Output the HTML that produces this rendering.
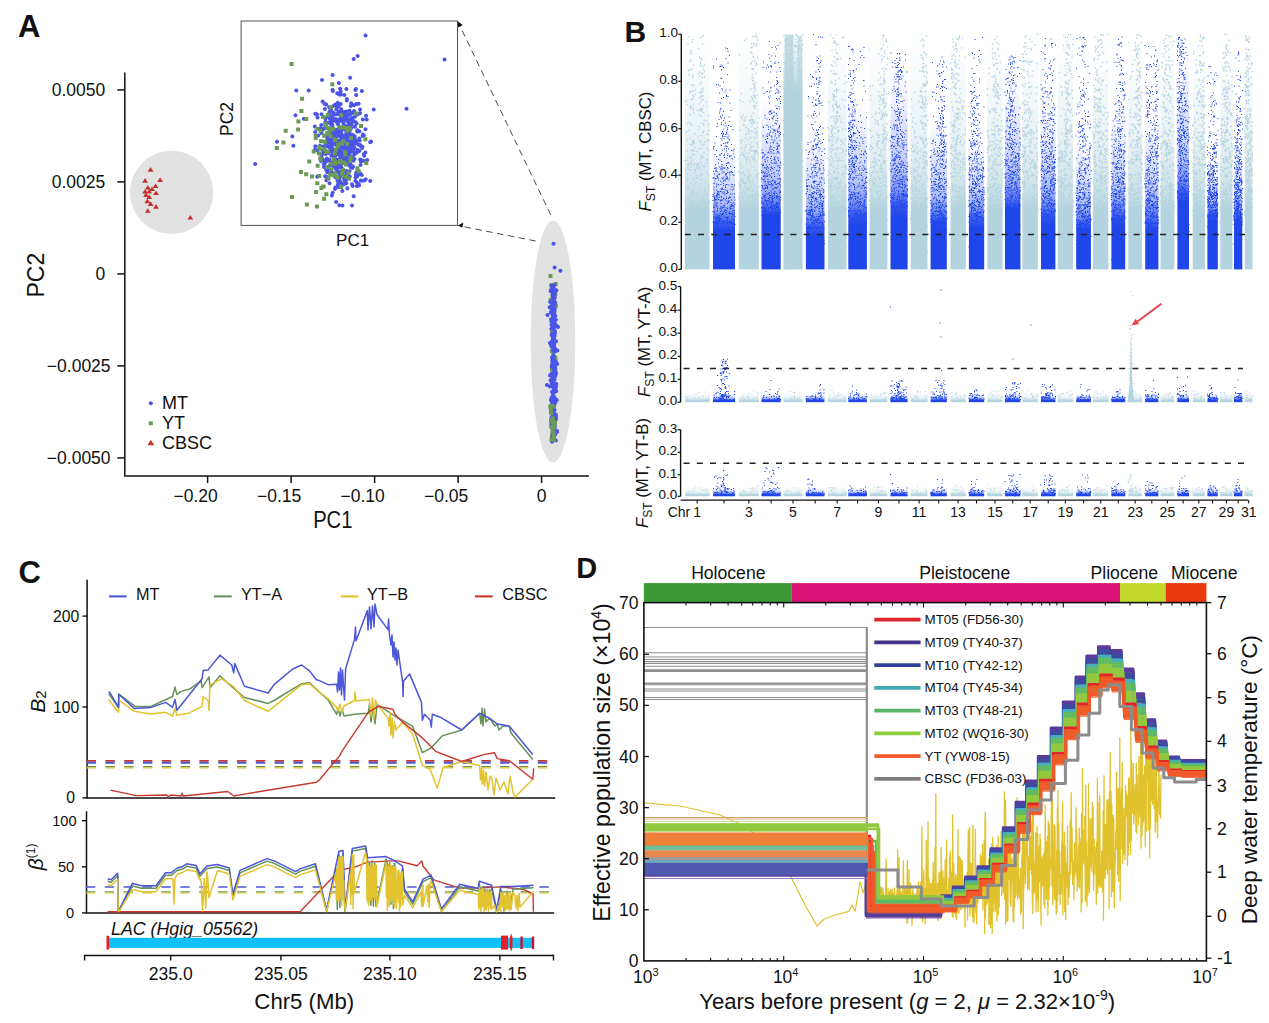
<!DOCTYPE html>
<html><head><meta charset="utf-8"><style>
html,body{margin:0;padding:0;background:#fff;width:1269px;height:1023px;overflow:hidden}
svg{display:block;font-family:"Liberation Sans", sans-serif}
</style></head><body>
<svg width="1269" height="1023" viewBox="0 0 1269 1023">
<text x="18" y="36.6" font-size="31" font-weight="bold" fill="#111">A</text>
<circle cx="171.6" cy="192.4" r="41.7" fill="#e2e2e2"/>
<ellipse cx="553" cy="341.5" rx="22.3" ry="121" fill="#e2e2e2"/>
<path d="M124.8 72.5 V476.1 H588.9" fill="none" stroke="#111" stroke-width="1.5"/>
<line x1="117.3" y1="89.9" x2="124.8" y2="89.9" stroke="#111" stroke-width="1.5"/>
<text x="105.2" y="96.2" font-size="17.5" text-anchor="end" fill="#111">0.0050</text>
<line x1="117.3" y1="181.9" x2="124.8" y2="181.9" stroke="#111" stroke-width="1.5"/>
<text x="105.2" y="188.2" font-size="17.5" text-anchor="end" fill="#111">0.0025</text>
<line x1="117.3" y1="273.9" x2="124.8" y2="273.9" stroke="#111" stroke-width="1.5"/>
<text x="105.2" y="280.2" font-size="17.5" text-anchor="end" fill="#111">0</text>
<line x1="117.3" y1="365.9" x2="124.8" y2="365.9" stroke="#111" stroke-width="1.5"/>
<text x="110.6" y="372.2" font-size="17.5" text-anchor="end" fill="#111">−0.0025</text>
<line x1="117.3" y1="457.9" x2="124.8" y2="457.9" stroke="#111" stroke-width="1.5"/>
<text x="110.6" y="464.2" font-size="17.5" text-anchor="end" fill="#111">−0.0050</text>
<line x1="207.6" y1="476.1" x2="207.6" y2="483" stroke="#111" stroke-width="1.5"/>
<text x="217.8" y="502" font-size="17.5" text-anchor="end" fill="#111">−0.20</text>
<line x1="291.1" y1="476.1" x2="291.1" y2="483" stroke="#111" stroke-width="1.5"/>
<text x="301.3" y="502" font-size="17.5" text-anchor="end" fill="#111">−0.15</text>
<line x1="374.6" y1="476.1" x2="374.6" y2="483" stroke="#111" stroke-width="1.5"/>
<text x="384.8" y="502" font-size="17.5" text-anchor="end" fill="#111">−0.10</text>
<line x1="458.1" y1="476.1" x2="458.1" y2="483" stroke="#111" stroke-width="1.5"/>
<text x="468.3" y="502" font-size="17.5" text-anchor="end" fill="#111">−0.05</text>
<line x1="541.6" y1="476.1" x2="541.6" y2="483" stroke="#111" stroke-width="1.5"/>
<text x="541.6" y="502" font-size="17.5" text-anchor="middle" fill="#111">0</text>
<text x="0" y="0" font-size="23.5" text-anchor="middle" fill="#111" transform="translate(332.8 528) scale(0.86 1)">PC1</text>
<text x="0" y="0" font-size="23.5" text-anchor="middle" fill="#111" transform="translate(44.2 275.2) rotate(-90) scale(0.98 1)">PC2</text>
<path d="M150.6 167.1l2.9 4.6h-5.8zM145.1 178.1l2.9 4.6h-5.8zM160.1 177.5l2.9 4.6h-5.8zM155.5 183.5l2.9 4.6h-5.8zM147.8 184.9l2.9 4.6h-5.8zM149.2 189l2.9 4.6h-5.8zM156 190.4l2.9 4.6h-5.8zM147.3 198.6l2.9 4.6h-5.8zM150.6 201.3l2.9 4.6h-5.8zM156 204.1l2.9 4.6h-5.8zM147.8 208.2l2.9 4.6h-5.8zM190.3 215l2.9 4.6h-5.8zM145.1 189l2.9 4.6h-5.8zM149.2 194.5l2.9 4.6h-5.8zM152 186.4l2.9 4.6h-5.8zM146 192.4l2.9 4.6h-5.8z" fill="#c4322b"/>
<rect x="241.1" y="21" width="216.4" height="204.4" fill="#fff" stroke="#555" stroke-width="1"/>
<text x="352.6" y="246" font-size="17" text-anchor="middle" fill="#111">PC1</text>
<text x="232.6" y="119" font-size="17.5" text-anchor="middle" fill="#111" transform="rotate(-90 232.6 119)">PC2</text>
<path d="M550.8 215 L459 24" stroke="#333" stroke-width="0.9" stroke-dasharray="6.5 4.5" fill="none"/>
<path d="M457.8 21.3 l0.3 6.2 l4.6 -2.4z" fill="#111"/>
<path d="M535.7 241 L460 226" stroke="#333" stroke-width="0.9" stroke-dasharray="6.5 4.5" fill="none"/>
<path d="M457.8 225.4 l5.5 -2.9 l-0.9 5.2z" fill="#111"/>
<path d="M550.6 379.5h4v4h-4zM552.3 303.6h4v4h-4zM550.2 363.5h4v4h-4zM551.3 301.3h4v4h-4zM553.4 367.3h4v4h-4zM551.1 296.9h4v4h-4zM552.5 414.3h4v4h-4zM551.5 411.1h4v4h-4zM553.1 366.3h4v4h-4zM551.8 332.8h4v4h-4zM554 414.9h4v4h-4zM551.9 311.9h4v4h-4zM551.4 333.2h4v4h-4zM550.1 433.6h4v4h-4zM553.2 300.9h4v4h-4zM553.9 303.9h4v4h-4zM550.2 433.4h4v4h-4zM549.8 349.1h4v4h-4zM550.6 321.7h4v4h-4zM552.6 372.6h4v4h-4zM553.5 356.1h4v4h-4zM551.9 404.1h4v4h-4zM549.1 419.6h4v4h-4zM550.9 436.4h4v4h-4zM550.8 379h4v4h-4zM551.3 404.8h4v4h-4zM549.8 304.5h4v4h-4zM553.3 292.4h4v4h-4zM550.5 294.1h4v4h-4zM550 367.8h4v4h-4zM549.7 409.6h4v4h-4zM552.7 389h4v4h-4zM551.6 321.1h4v4h-4zM550.3 319.4h4v4h-4zM550 398.8h4v4h-4zM553.2 287.9h4v4h-4zM549.6 421h4v4h-4zM552.7 360.2h4v4h-4zM549 372.7h4v4h-4zM552 395.5h4v4h-4zM551.2 409.7h4v4h-4zM551.2 351.6h4v4h-4zM551 420.2h4v4h-4zM551.9 297h4v4h-4zM551.8 361.2h4v4h-4zM552.6 419.8h4v4h-4zM551.8 307.3h4v4h-4zM551.9 370.4h4v4h-4zM551.6 342.5h4v4h-4zM551.2 317.5h4v4h-4zM551 314.4h4v4h-4zM551.5 422h4v4h-4zM551.2 310.1h4v4h-4zM551.7 432.4h4v4h-4zM549.9 288.7h4v4h-4zM552.8 421.8h4v4h-4zM552.6 398.3h4v4h-4zM551.5 431.2h4v4h-4zM551.5 332.1h4v4h-4zM550 343.2h4v4h-4zM552.5 355.5h4v4h-4zM549.8 329.3h4v4h-4zM550.7 416.7h4v4h-4zM553.6 281.9h4v4h-4zM552 347.5h4v4h-4zM549.3 283.3h4v4h-4zM551.3 362.8h4v4h-4zM548.6 298.1h4v4h-4zM551.8 394.8h4v4h-4z" fill="#6a9a55"/>
<path d="M554.6 333.8a2 2 0 1 0 0.01 0zM555.1 367.1a2 2 0 1 0 0.01 0zM552.9 292.1a2 2 0 1 0 0.01 0zM553.3 294a2 2 0 1 0 0.01 0zM553.7 349.6a2 2 0 1 0 0.01 0zM550 373.6a2 2 0 1 0 0.01 0zM555.8 417.8a2 2 0 1 0 0.01 0zM554.2 311.4a2 2 0 1 0 0.01 0zM552 383.3a2 2 0 1 0 0.01 0zM554.7 292.4a2 2 0 1 0 0.01 0zM552.1 389.8a2 2 0 1 0 0.01 0zM553.9 354.1a2 2 0 1 0 0.01 0zM552.9 407.7a2 2 0 1 0 0.01 0zM552.3 397.5a2 2 0 1 0 0.01 0zM557.4 348.6a2 2 0 1 0 0.01 0zM552.9 306.9a2 2 0 1 0 0.01 0zM553.3 403a2 2 0 1 0 0.01 0zM552.4 420.5a2 2 0 1 0 0.01 0zM555.4 374a2 2 0 1 0 0.01 0zM554.9 414.9a2 2 0 1 0 0.01 0zM552.7 292.5a2 2 0 1 0 0.01 0zM556.1 384.6a2 2 0 1 0 0.01 0zM553.2 343.6a2 2 0 1 0 0.01 0zM552.4 286.5a2 2 0 1 0 0.01 0zM553.5 292.3a2 2 0 1 0 0.01 0zM554.8 295.7a2 2 0 1 0 0.01 0zM551.4 326.7a2 2 0 1 0 0.01 0zM556.1 339.3a2 2 0 1 0 0.01 0zM550.8 310.7a2 2 0 1 0 0.01 0zM551.3 319.6a2 2 0 1 0 0.01 0zM553.5 283.6a2 2 0 1 0 0.01 0zM549.9 341a2 2 0 1 0 0.01 0zM551.8 363.9a2 2 0 1 0 0.01 0zM556.3 389.2a2 2 0 1 0 0.01 0zM554.4 420.3a2 2 0 1 0 0.01 0zM552.7 344.6a2 2 0 1 0 0.01 0zM553.7 292.8a2 2 0 1 0 0.01 0zM554 315.8a2 2 0 1 0 0.01 0zM554.5 283a2 2 0 1 0 0.01 0zM553.6 379.4a2 2 0 1 0 0.01 0zM552.5 322.6a2 2 0 1 0 0.01 0zM552.7 356.2a2 2 0 1 0 0.01 0zM553.4 336.8a2 2 0 1 0 0.01 0zM553.6 365.9a2 2 0 1 0 0.01 0zM553.6 418.5a2 2 0 1 0 0.01 0zM552.7 324a2 2 0 1 0 0.01 0zM554 366.6a2 2 0 1 0 0.01 0zM553.2 411.5a2 2 0 1 0 0.01 0zM552.2 338.8a2 2 0 1 0 0.01 0zM553.1 287.4a2 2 0 1 0 0.01 0zM554.4 433.2a2 2 0 1 0 0.01 0zM557 430.1a2 2 0 1 0 0.01 0zM553 317.6a2 2 0 1 0 0.01 0zM555.3 414.9a2 2 0 1 0 0.01 0zM553.5 385.5a2 2 0 1 0 0.01 0zM552.7 425.8a2 2 0 1 0 0.01 0zM552.4 400.8a2 2 0 1 0 0.01 0zM554.2 396.8a2 2 0 1 0 0.01 0zM552.5 436.9a2 2 0 1 0 0.01 0zM552.1 303.6a2 2 0 1 0 0.01 0zM553.6 412.7a2 2 0 1 0 0.01 0zM554.4 320.8a2 2 0 1 0 0.01 0zM553.7 338.5a2 2 0 1 0 0.01 0zM552.4 361.8a2 2 0 1 0 0.01 0zM554.9 365.2a2 2 0 1 0 0.01 0zM553.5 283.6a2 2 0 1 0 0.01 0zM550.9 310.1a2 2 0 1 0 0.01 0zM553.7 334.2a2 2 0 1 0 0.01 0zM553.4 370.2a2 2 0 1 0 0.01 0zM552.6 322a2 2 0 1 0 0.01 0zM551.4 404.2a2 2 0 1 0 0.01 0zM553.2 426.3a2 2 0 1 0 0.01 0zM551.5 379.2a2 2 0 1 0 0.01 0zM553.2 354a2 2 0 1 0 0.01 0zM552.5 430.9a2 2 0 1 0 0.01 0zM556 370.8a2 2 0 1 0 0.01 0zM552.3 302.1a2 2 0 1 0 0.01 0zM553.3 294.4a2 2 0 1 0 0.01 0zM552.8 307.2a2 2 0 1 0 0.01 0zM554.7 317.5a2 2 0 1 0 0.01 0zM551.7 308.4a2 2 0 1 0 0.01 0zM554 313.7a2 2 0 1 0 0.01 0zM555.2 396.4a2 2 0 1 0 0.01 0zM553.5 285.8a2 2 0 1 0 0.01 0zM553.3 299.5a2 2 0 1 0 0.01 0zM553.7 325.5a2 2 0 1 0 0.01 0zM555.6 349.3a2 2 0 1 0 0.01 0zM553.1 372.6a2 2 0 1 0 0.01 0zM552.7 391a2 2 0 1 0 0.01 0zM554.4 293.5a2 2 0 1 0 0.01 0zM554.6 325.1a2 2 0 1 0 0.01 0zM554.6 300.2a2 2 0 1 0 0.01 0zM553.7 290.9a2 2 0 1 0 0.01 0zM554.5 402.2a2 2 0 1 0 0.01 0zM553.9 361.5a2 2 0 1 0 0.01 0zM554.5 322.3a2 2 0 1 0 0.01 0zM552.4 398.1a2 2 0 1 0 0.01 0zM553 429.7a2 2 0 1 0 0.01 0zM554 344.7a2 2 0 1 0 0.01 0zM553.1 394a2 2 0 1 0 0.01 0zM553 346.5a2 2 0 1 0 0.01 0zM553.7 294.1a2 2 0 1 0 0.01 0zM553.8 419.7a2 2 0 1 0 0.01 0zM553.4 327.3a2 2 0 1 0 0.01 0zM554.5 307.7a2 2 0 1 0 0.01 0zM557.2 324.3a2 2 0 1 0 0.01 0zM553.3 331.6a2 2 0 1 0 0.01 0zM553.3 357.5a2 2 0 1 0 0.01 0zM553.1 314.6a2 2 0 1 0 0.01 0zM553.3 297.1a2 2 0 1 0 0.01 0zM554.6 289.5a2 2 0 1 0 0.01 0zM553.5 374.9a2 2 0 1 0 0.01 0zM551.3 344.2a2 2 0 1 0 0.01 0zM554.7 437.6a2 2 0 1 0 0.01 0zM551.5 304.9a2 2 0 1 0 0.01 0zM552.9 390.2a2 2 0 1 0 0.01 0zM552.3 303.9a2 2 0 1 0 0.01 0zM554.3 299.5a2 2 0 1 0 0.01 0zM551.6 381.3a2 2 0 1 0 0.01 0zM556 359.8a2 2 0 1 0 0.01 0zM553.4 362a2 2 0 1 0 0.01 0zM555.5 386.5a2 2 0 1 0 0.01 0zM554.3 294.7a2 2 0 1 0 0.01 0zM555.7 360.5a2 2 0 1 0 0.01 0zM552.3 358.2a2 2 0 1 0 0.01 0zM551 383.9a2 2 0 1 0 0.01 0zM553.2 306.1a2 2 0 1 0 0.01 0zM555.8 372.1a2 2 0 1 0 0.01 0zM553 292.5a2 2 0 1 0 0.01 0zM555.5 389.1a2 2 0 1 0 0.01 0zM551.7 364.1a2 2 0 1 0 0.01 0zM553.7 423.3a2 2 0 1 0 0.01 0zM553.6 436.6a2 2 0 1 0 0.01 0zM554.3 316.1a2 2 0 1 0 0.01 0zM549.6 305.3a2 2 0 1 0 0.01 0zM552.7 411.8a2 2 0 1 0 0.01 0zM552.3 359.3a2 2 0 1 0 0.01 0zM551.7 283.6a2 2 0 1 0 0.01 0zM553.4 305.1a2 2 0 1 0 0.01 0zM553.3 332.6a2 2 0 1 0 0.01 0zM553.2 414.7a2 2 0 1 0 0.01 0zM552.6 428.4a2 2 0 1 0 0.01 0zM550.2 341.4a2 2 0 1 0 0.01 0zM552.1 439.8a2 2 0 1 0 0.01 0zM552.5 326.2a2 2 0 1 0 0.01 0zM552.2 322.1a2 2 0 1 0 0.01 0zM556.3 382.1a2 2 0 1 0 0.01 0zM551.4 396a2 2 0 1 0 0.01 0zM550.9 398a2 2 0 1 0 0.01 0zM554.1 327.9a2 2 0 1 0 0.01 0zM554.5 428.5a2 2 0 1 0 0.01 0zM554.5 329.8a2 2 0 1 0 0.01 0zM553.2 436.3a2 2 0 1 0 0.01 0zM555.5 370.5a2 2 0 1 0 0.01 0zM554.2 361a2 2 0 1 0 0.01 0zM554.9 425.3a2 2 0 1 0 0.01 0zM553.3 313.2a2 2 0 1 0 0.01 0zM554.2 336.7a2 2 0 1 0 0.01 0zM552 400.7a2 2 0 1 0 0.01 0zM554.1 342.2a2 2 0 1 0 0.01 0zM552.6 292.7a2 2 0 1 0 0.01 0zM557.2 362a2 2 0 1 0 0.01 0zM553.5 418.5a2 2 0 1 0 0.01 0zM554.5 345.8a2 2 0 1 0 0.01 0zM555.1 432.8a2 2 0 1 0 0.01 0zM550.8 288.1a2 2 0 1 0 0.01 0zM551.3 423.6a2 2 0 1 0 0.01 0zM555.8 412.6a2 2 0 1 0 0.01 0zM550.1 300.1a2 2 0 1 0 0.01 0zM551.8 365a2 2 0 1 0 0.01 0zM550 384.6a2 2 0 1 0 0.01 0zM552.9 354.8a2 2 0 1 0 0.01 0zM553 384.3a2 2 0 1 0 0.01 0zM554 382.9a2 2 0 1 0 0.01 0zM554.9 300.6a2 2 0 1 0 0.01 0zM554.1 343.9a2 2 0 1 0 0.01 0zM554.6 377.4a2 2 0 1 0 0.01 0zM553.4 433.6a2 2 0 1 0 0.01 0zM552.2 421.8a2 2 0 1 0 0.01 0zM553.5 433.8a2 2 0 1 0 0.01 0zM555 331.3a2 2 0 1 0 0.01 0zM553.5 348.9a2 2 0 1 0 0.01 0zM554.3 387.8a2 2 0 1 0 0.01 0zM552.8 336.1a2 2 0 1 0 0.01 0zM554.2 390.2a2 2 0 1 0 0.01 0zM555.8 362.3a2 2 0 1 0 0.01 0zM552.2 435.3a2 2 0 1 0 0.01 0zM555.9 317.8a2 2 0 1 0 0.01 0zM555 329.3a2 2 0 1 0 0.01 0zM552.8 318.1a2 2 0 1 0 0.01 0zM554.1 387.5a2 2 0 1 0 0.01 0zM553.8 305.3a2 2 0 1 0 0.01 0zM556.8 398a2 2 0 1 0 0.01 0zM555.5 400.2a2 2 0 1 0 0.01 0zM553.7 341.7a2 2 0 1 0 0.01 0zM554.5 309.6a2 2 0 1 0 0.01 0zM553.3 433a2 2 0 1 0 0.01 0zM554.7 412.1a2 2 0 1 0 0.01 0zM553.5 313.3a2 2 0 1 0 0.01 0zM553.6 403.4a2 2 0 1 0 0.01 0zM556.4 288.5a2 2 0 1 0 0.01 0zM552.8 336.2a2 2 0 1 0 0.01 0zM557 324.2a2 2 0 1 0 0.01 0zM553.3 332.7a2 2 0 1 0 0.01 0zM553.4 426.9a2 2 0 1 0 0.01 0zM554.4 431.1a2 2 0 1 0 0.01 0zM553.3 343.7a2 2 0 1 0 0.01 0zM554.9 428.7a2 2 0 1 0 0.01 0zM553.1 409a2 2 0 1 0 0.01 0zM550.5 378.3a2 2 0 1 0 0.01 0zM551.6 333.2a2 2 0 1 0 0.01 0zM555.3 314a2 2 0 1 0 0.01 0zM553.7 321.8a2 2 0 1 0 0.01 0zM554.5 421.7a2 2 0 1 0 0.01 0zM553.2 298.1a2 2 0 1 0 0.01 0zM552.3 394.4a2 2 0 1 0 0.01 0zM553.7 380.4a2 2 0 1 0 0.01 0zM554.6 400.4a2 2 0 1 0 0.01 0zM551.5 415a2 2 0 1 0 0.01 0zM551.6 372a2 2 0 1 0 0.01 0zM555.1 321.8a2 2 0 1 0 0.01 0zM554.8 307.1a2 2 0 1 0 0.01 0zM553.6 362.6a2 2 0 1 0 0.01 0zM556 438.6a2 2 0 1 0 0.01 0zM550.7 289.3a2 2 0 1 0 0.01 0zM554.8 301.7a2 2 0 1 0 0.01 0zM557 429a2 2 0 1 0 0.01 0zM552.2 419a2 2 0 1 0 0.01 0zM553.7 431.5a2 2 0 1 0 0.01 0zM552.5 376.6a2 2 0 1 0 0.01 0zM552.6 305.2a2 2 0 1 0 0.01 0zM551.5 323a2 2 0 1 0 0.01 0zM552 284.8a2 2 0 1 0 0.01 0zM553.8 389.5a2 2 0 1 0 0.01 0zM554.5 407.9a2 2 0 1 0 0.01 0zM554.5 292.9a2 2 0 1 0 0.01 0zM554.2 383.4a2 2 0 1 0 0.01 0zM552.8 308.7a2 2 0 1 0 0.01 0zM552 332a2 2 0 1 0 0.01 0zM554.1 340.1a2 2 0 1 0 0.01 0zM551.9 355.4a2 2 0 1 0 0.01 0zM552.6 297a2 2 0 1 0 0.01 0zM552.5 341.2a2 2 0 1 0 0.01 0zM553.5 314a2 2 0 1 0 0.01 0zM555 431.1a2 2 0 1 0 0.01 0zM553 428.4a2 2 0 1 0 0.01 0zM551.3 425a2 2 0 1 0 0.01 0zM551.4 406.4a2 2 0 1 0 0.01 0zM554.9 346.5a2 2 0 1 0 0.01 0zM551 317.2a2 2 0 1 0 0.01 0zM552.7 364.3a2 2 0 1 0 0.01 0z" fill="#4a54e6"/>
<path d="M548.3 404.4h4v4h-4zM549.5 404.3h4v4h-4zM551.6 432.3h4v4h-4zM551.5 422.3h4v4h-4zM549.8 424.9h4v4h-4zM551.6 423.4h4v4h-4zM549.5 417.9h4v4h-4zM549.1 418.3h4v4h-4zM549.2 403.8h4v4h-4zM549.3 411.2h4v4h-4zM550.6 429.7h4v4h-4zM548.9 409.3h4v4h-4zM550.8 419.6h4v4h-4zM550.7 418.1h4v4h-4zM548.8 406.2h4v4h-4zM550.9 404.4h4v4h-4zM552.1 425.3h4v4h-4zM551.3 430.2h4v4h-4zM551.8 420.9h4v4h-4zM550.8 416.2h4v4h-4zM552 436.3h4v4h-4zM552.2 437.9h4v4h-4zM550.6 428.6h4v4h-4zM549.5 437.4h4v4h-4zM553.1 420.2h4v4h-4z" fill="#6a9a55"/>
<path d="M365.5 33.5a2 2 0 1 0 0.01 0zM444.5 57.4a2 2 0 1 0 0.01 0zM406.5 106.7a2 2 0 1 0 0.01 0zM373.7 107.6a2 2 0 1 0 0.01 0zM255.2 162a2 2 0 1 0 0.01 0zM353.7 57a2 2 0 1 0 0.01 0zM357.7 53.9a2 2 0 1 0 0.01 0zM296.3 88.6a2 2 0 1 0 0.01 0zM308.7 88.6a2 2 0 1 0 0.01 0zM277 139.7a2 2 0 1 0 0.01 0zM293.4 143.7a2 2 0 1 0 0.01 0zM295.5 113.2a2 2 0 1 0 0.01 0zM303.8 116.8a2 2 0 1 0 0.01 0zM292.3 134.4a2 2 0 1 0 0.01 0zM322 78a2 2 0 1 0 0.01 0zM332.6 72.9a2 2 0 1 0 0.01 0zM350.2 75.7a2 2 0 1 0 0.01 0zM373.7 107.6a2 2 0 1 0 0.01 0zM365.5 127.3a2 2 0 1 0 0.01 0zM370.2 140.2a2 2 0 1 0 0.01 0zM370.2 179a2 2 0 1 0 0.01 0zM342.5 203.6a2 2 0 1 0 0.01 0zM336.1 200a2 2 0 1 0 0.01 0zM353.7 194.2a2 2 0 1 0 0.01 0zM335.1 162.5a2 2 0 1 0 0.01 0zM359.4 149a2 2 0 1 0 0.01 0zM340.2 117.1a2 2 0 1 0 0.01 0zM357.6 168.7a2 2 0 1 0 0.01 0zM362.6 134.1a2 2 0 1 0 0.01 0zM362.9 158.6a2 2 0 1 0 0.01 0zM352.7 155.4a2 2 0 1 0 0.01 0zM338.2 138.7a2 2 0 1 0 0.01 0zM355.6 138.2a2 2 0 1 0 0.01 0zM344.9 146.9a2 2 0 1 0 0.01 0zM348.2 174.4a2 2 0 1 0 0.01 0zM335.2 152.6a2 2 0 1 0 0.01 0zM337.7 143.6a2 2 0 1 0 0.01 0zM336.4 107.5a2 2 0 1 0 0.01 0zM338.9 110a2 2 0 1 0 0.01 0zM360 111.3a2 2 0 1 0 0.01 0zM336.8 149.3a2 2 0 1 0 0.01 0zM338.4 174.8a2 2 0 1 0 0.01 0zM341.3 107.2a2 2 0 1 0 0.01 0zM354.7 134.2a2 2 0 1 0 0.01 0zM336.9 143.4a2 2 0 1 0 0.01 0zM329.6 158.6a2 2 0 1 0 0.01 0zM359 183.4a2 2 0 1 0 0.01 0zM348.4 140.2a2 2 0 1 0 0.01 0zM358.4 172.7a2 2 0 1 0 0.01 0zM340.5 130.3a2 2 0 1 0 0.01 0zM333.5 147.3a2 2 0 1 0 0.01 0zM342 160.6a2 2 0 1 0 0.01 0zM354.8 114.8a2 2 0 1 0 0.01 0zM347.7 151.1a2 2 0 1 0 0.01 0zM338.3 146a2 2 0 1 0 0.01 0zM358.6 142.7a2 2 0 1 0 0.01 0zM342.1 134a2 2 0 1 0 0.01 0zM346.3 130.3a2 2 0 1 0 0.01 0zM348.4 113.3a2 2 0 1 0 0.01 0zM334.3 150.5a2 2 0 1 0 0.01 0zM357.4 128.2a2 2 0 1 0 0.01 0zM343 157.5a2 2 0 1 0 0.01 0zM338.7 147.4a2 2 0 1 0 0.01 0zM346.2 109.6a2 2 0 1 0 0.01 0zM324.2 145.9a2 2 0 1 0 0.01 0zM330.6 140.7a2 2 0 1 0 0.01 0zM343.7 122.1a2 2 0 1 0 0.01 0zM330.3 120.6a2 2 0 1 0 0.01 0zM355.4 88a2 2 0 1 0 0.01 0zM351.4 139.1a2 2 0 1 0 0.01 0zM333.3 146.9a2 2 0 1 0 0.01 0zM340 117a2 2 0 1 0 0.01 0zM339.7 141.6a2 2 0 1 0 0.01 0zM346 141.7a2 2 0 1 0 0.01 0zM340.2 86.8a2 2 0 1 0 0.01 0zM333.4 151a2 2 0 1 0 0.01 0zM348 118.8a2 2 0 1 0 0.01 0zM333.4 113.3a2 2 0 1 0 0.01 0zM325.6 150.4a2 2 0 1 0 0.01 0zM350.8 138.6a2 2 0 1 0 0.01 0zM345.4 173.2a2 2 0 1 0 0.01 0zM329.1 140.4a2 2 0 1 0 0.01 0zM340.7 163.2a2 2 0 1 0 0.01 0zM326.2 102.4a2 2 0 1 0 0.01 0zM346.1 124.6a2 2 0 1 0 0.01 0zM344.4 154.8a2 2 0 1 0 0.01 0zM347.1 162.1a2 2 0 1 0 0.01 0zM344.5 140.9a2 2 0 1 0 0.01 0zM324.3 162.3a2 2 0 1 0 0.01 0zM327 137.9a2 2 0 1 0 0.01 0zM356.5 102.1a2 2 0 1 0 0.01 0zM349.9 122.4a2 2 0 1 0 0.01 0zM340.7 102a2 2 0 1 0 0.01 0zM318.8 151.2a2 2 0 1 0 0.01 0zM365.2 159.6a2 2 0 1 0 0.01 0zM342.8 144.5a2 2 0 1 0 0.01 0zM360.9 178.4a2 2 0 1 0 0.01 0zM335.5 118a2 2 0 1 0 0.01 0zM363 132.6a2 2 0 1 0 0.01 0zM349.5 169.3a2 2 0 1 0 0.01 0zM333.1 128.5a2 2 0 1 0 0.01 0zM326.1 167.8a2 2 0 1 0 0.01 0zM340.3 160.8a2 2 0 1 0 0.01 0zM327 157.1a2 2 0 1 0 0.01 0zM332.4 136a2 2 0 1 0 0.01 0zM327.2 135.1a2 2 0 1 0 0.01 0zM349.4 134.1a2 2 0 1 0 0.01 0zM338.8 152.4a2 2 0 1 0 0.01 0zM338.6 152.2a2 2 0 1 0 0.01 0zM342.9 160.9a2 2 0 1 0 0.01 0zM337.4 144.6a2 2 0 1 0 0.01 0zM344.2 176.6a2 2 0 1 0 0.01 0zM346.6 116.3a2 2 0 1 0 0.01 0zM328.7 140.3a2 2 0 1 0 0.01 0zM337.8 121.8a2 2 0 1 0 0.01 0zM336.1 159.3a2 2 0 1 0 0.01 0zM322.6 147.9a2 2 0 1 0 0.01 0zM339.3 176.9a2 2 0 1 0 0.01 0zM323.2 151.7a2 2 0 1 0 0.01 0zM340.1 144.2a2 2 0 1 0 0.01 0zM347.4 186.5a2 2 0 1 0 0.01 0zM346.8 153.9a2 2 0 1 0 0.01 0zM326.9 156.4a2 2 0 1 0 0.01 0zM327.5 138.4a2 2 0 1 0 0.01 0zM347.1 174a2 2 0 1 0 0.01 0zM353.2 146.9a2 2 0 1 0 0.01 0zM351.7 136.6a2 2 0 1 0 0.01 0zM343.1 140.2a2 2 0 1 0 0.01 0zM351.4 136.1a2 2 0 1 0 0.01 0zM331.2 114.4a2 2 0 1 0 0.01 0zM341.5 136.6a2 2 0 1 0 0.01 0zM340 119a2 2 0 1 0 0.01 0zM348.4 144.2a2 2 0 1 0 0.01 0zM331.5 132.6a2 2 0 1 0 0.01 0zM328.3 151a2 2 0 1 0 0.01 0zM364.4 178.4a2 2 0 1 0 0.01 0zM353.5 141.6a2 2 0 1 0 0.01 0zM342.5 153.1a2 2 0 1 0 0.01 0zM360.6 143.2a2 2 0 1 0 0.01 0zM341.8 113.1a2 2 0 1 0 0.01 0zM342.8 145.4a2 2 0 1 0 0.01 0zM335 118.8a2 2 0 1 0 0.01 0zM342.4 150.2a2 2 0 1 0 0.01 0zM334.2 159.4a2 2 0 1 0 0.01 0zM338.7 149.2a2 2 0 1 0 0.01 0zM359.4 129.4a2 2 0 1 0 0.01 0zM342.1 134.6a2 2 0 1 0 0.01 0zM338.4 149.8a2 2 0 1 0 0.01 0zM324.7 148.8a2 2 0 1 0 0.01 0zM326.3 126a2 2 0 1 0 0.01 0zM351.2 101.2a2 2 0 1 0 0.01 0zM356.9 184.1a2 2 0 1 0 0.01 0zM354.4 157.1a2 2 0 1 0 0.01 0zM343.2 136.7a2 2 0 1 0 0.01 0zM366.7 117.6a2 2 0 1 0 0.01 0zM341.9 154.1a2 2 0 1 0 0.01 0zM336.4 112.3a2 2 0 1 0 0.01 0zM345.4 142.1a2 2 0 1 0 0.01 0zM322.8 127.5a2 2 0 1 0 0.01 0zM333.5 134.5a2 2 0 1 0 0.01 0zM347.9 160.5a2 2 0 1 0 0.01 0zM327.9 140.3a2 2 0 1 0 0.01 0zM335 102.7a2 2 0 1 0 0.01 0zM349.4 130.1a2 2 0 1 0 0.01 0zM339.1 92.5a2 2 0 1 0 0.01 0zM347.7 142.2a2 2 0 1 0 0.01 0zM349.5 129.1a2 2 0 1 0 0.01 0zM359 148.7a2 2 0 1 0 0.01 0zM336.5 151.1a2 2 0 1 0 0.01 0zM349.2 127.5a2 2 0 1 0 0.01 0zM354.4 152.4a2 2 0 1 0 0.01 0zM350.7 165.3a2 2 0 1 0 0.01 0zM371 139.5a2 2 0 1 0 0.01 0zM336.7 151.8a2 2 0 1 0 0.01 0zM340.7 89.5a2 2 0 1 0 0.01 0zM364 151.9a2 2 0 1 0 0.01 0zM324 126.4a2 2 0 1 0 0.01 0zM345 133.6a2 2 0 1 0 0.01 0zM337.8 147.4a2 2 0 1 0 0.01 0zM353 164.7a2 2 0 1 0 0.01 0zM344.5 150.4a2 2 0 1 0 0.01 0zM324.9 107a2 2 0 1 0 0.01 0zM341.9 128.1a2 2 0 1 0 0.01 0zM343.4 121.6a2 2 0 1 0 0.01 0zM334.9 138a2 2 0 1 0 0.01 0zM316.9 112.6a2 2 0 1 0 0.01 0zM348.4 140.9a2 2 0 1 0 0.01 0zM330 146.2a2 2 0 1 0 0.01 0zM360.2 171.2a2 2 0 1 0 0.01 0zM328.4 126.5a2 2 0 1 0 0.01 0zM320.6 126.3a2 2 0 1 0 0.01 0zM327.1 121.1a2 2 0 1 0 0.01 0zM344.8 133.5a2 2 0 1 0 0.01 0zM338.2 104.3a2 2 0 1 0 0.01 0zM351.7 133.2a2 2 0 1 0 0.01 0zM326.2 141a2 2 0 1 0 0.01 0zM354.1 108.9a2 2 0 1 0 0.01 0zM346.4 110.7a2 2 0 1 0 0.01 0zM351.3 154.8a2 2 0 1 0 0.01 0zM338.9 117.5a2 2 0 1 0 0.01 0zM325.5 119.7a2 2 0 1 0 0.01 0zM350.6 147.6a2 2 0 1 0 0.01 0zM341.5 127.3a2 2 0 1 0 0.01 0zM340.2 152.3a2 2 0 1 0 0.01 0zM315.2 130a2 2 0 1 0 0.01 0zM341.4 114.3a2 2 0 1 0 0.01 0zM335.5 135.1a2 2 0 1 0 0.01 0zM328.5 112.1a2 2 0 1 0 0.01 0zM325.4 116.6a2 2 0 1 0 0.01 0zM340.4 156.6a2 2 0 1 0 0.01 0zM339.5 131.4a2 2 0 1 0 0.01 0zM331.5 142a2 2 0 1 0 0.01 0zM336.1 163.4a2 2 0 1 0 0.01 0zM340.9 159a2 2 0 1 0 0.01 0zM345.2 137.8a2 2 0 1 0 0.01 0zM343.1 119.1a2 2 0 1 0 0.01 0zM347.9 133.9a2 2 0 1 0 0.01 0zM331.8 139.4a2 2 0 1 0 0.01 0zM350.2 138a2 2 0 1 0 0.01 0zM314.8 124.4a2 2 0 1 0 0.01 0zM340.6 148.6a2 2 0 1 0 0.01 0zM331.1 144a2 2 0 1 0 0.01 0zM347.9 148.3a2 2 0 1 0 0.01 0zM321.3 123a2 2 0 1 0 0.01 0zM332.3 125.1a2 2 0 1 0 0.01 0zM338.9 162.8a2 2 0 1 0 0.01 0zM339.6 112.5a2 2 0 1 0 0.01 0zM325.7 151.9a2 2 0 1 0 0.01 0zM330.2 132.7a2 2 0 1 0 0.01 0zM355.9 173.1a2 2 0 1 0 0.01 0zM357.4 112.4a2 2 0 1 0 0.01 0zM359.7 138.5a2 2 0 1 0 0.01 0zM353.1 140.4a2 2 0 1 0 0.01 0zM354.1 141.7a2 2 0 1 0 0.01 0zM342.8 137.6a2 2 0 1 0 0.01 0zM332.8 141.6a2 2 0 1 0 0.01 0zM351.7 115.8a2 2 0 1 0 0.01 0zM343.6 118.1a2 2 0 1 0 0.01 0zM329.2 105.2a2 2 0 1 0 0.01 0zM362.1 146a2 2 0 1 0 0.01 0zM338.9 165.5a2 2 0 1 0 0.01 0zM319.9 143.8a2 2 0 1 0 0.01 0zM335.8 157.6a2 2 0 1 0 0.01 0zM327.8 144.6a2 2 0 1 0 0.01 0zM342.2 174.5a2 2 0 1 0 0.01 0zM337 141a2 2 0 1 0 0.01 0zM347.3 151.9a2 2 0 1 0 0.01 0zM348.6 144.6a2 2 0 1 0 0.01 0zM331.5 170.8a2 2 0 1 0 0.01 0zM362.4 144.8a2 2 0 1 0 0.01 0zM335.3 166.5a2 2 0 1 0 0.01 0zM332 148a2 2 0 1 0 0.01 0zM325.2 174.2a2 2 0 1 0 0.01 0zM329.5 149.4a2 2 0 1 0 0.01 0zM335.5 130.6a2 2 0 1 0 0.01 0zM328.8 139.7a2 2 0 1 0 0.01 0zM329.7 163.6a2 2 0 1 0 0.01 0zM332.2 139.4a2 2 0 1 0 0.01 0zM350.4 158.9a2 2 0 1 0 0.01 0zM352.3 166.1a2 2 0 1 0 0.01 0zM346.6 158.2a2 2 0 1 0 0.01 0zM352.5 111.1a2 2 0 1 0 0.01 0zM342.2 142.8a2 2 0 1 0 0.01 0zM341 155.6a2 2 0 1 0 0.01 0zM331.1 108.2a2 2 0 1 0 0.01 0zM335.5 153.5a2 2 0 1 0 0.01 0zM332.6 87.7a2 2 0 1 0 0.01 0zM356.3 171.4a2 2 0 1 0 0.01 0zM349.5 137.2a2 2 0 1 0 0.01 0zM339.9 112.9a2 2 0 1 0 0.01 0zM330.9 160.5a2 2 0 1 0 0.01 0zM337.7 169.5a2 2 0 1 0 0.01 0zM340.4 90a2 2 0 1 0 0.01 0zM344.4 178.3a2 2 0 1 0 0.01 0zM345.9 125.6a2 2 0 1 0 0.01 0zM334.6 155.8a2 2 0 1 0 0.01 0zM333.6 112.1a2 2 0 1 0 0.01 0zM344.2 143.1a2 2 0 1 0 0.01 0zM334.1 117.9a2 2 0 1 0 0.01 0zM346.8 98.6a2 2 0 1 0 0.01 0zM334.8 129a2 2 0 1 0 0.01 0zM362.8 117.6a2 2 0 1 0 0.01 0zM349.7 137.1a2 2 0 1 0 0.01 0zM355.5 175.6a2 2 0 1 0 0.01 0zM339.4 146.6a2 2 0 1 0 0.01 0zM332 132.7a2 2 0 1 0 0.01 0zM350.8 111.8a2 2 0 1 0 0.01 0zM333.6 142.5a2 2 0 1 0 0.01 0zM338.8 132.5a2 2 0 1 0 0.01 0zM318.4 133.6a2 2 0 1 0 0.01 0zM341 140.2a2 2 0 1 0 0.01 0zM343.2 160.9a2 2 0 1 0 0.01 0zM366.1 113.7a2 2 0 1 0 0.01 0zM331.4 153.8a2 2 0 1 0 0.01 0zM317.5 115.6a2 2 0 1 0 0.01 0zM331.7 115.1a2 2 0 1 0 0.01 0zM329.3 111.2a2 2 0 1 0 0.01 0zM332.1 149.3a2 2 0 1 0 0.01 0zM358.6 101.7a2 2 0 1 0 0.01 0zM347.1 153.2a2 2 0 1 0 0.01 0zM346.3 181.3a2 2 0 1 0 0.01 0zM346.6 171.1a2 2 0 1 0 0.01 0zM333.4 110.7a2 2 0 1 0 0.01 0zM357.7 148a2 2 0 1 0 0.01 0zM327.6 140a2 2 0 1 0 0.01 0zM351.7 122.5a2 2 0 1 0 0.01 0zM346.7 109.8a2 2 0 1 0 0.01 0zM348.9 148.4a2 2 0 1 0 0.01 0zM340.4 134.8a2 2 0 1 0 0.01 0zM340.7 173.1a2 2 0 1 0 0.01 0zM356.2 93.1a2 2 0 1 0 0.01 0zM330.3 137.2a2 2 0 1 0 0.01 0zM342.6 116.6a2 2 0 1 0 0.01 0zM352 203.4a2 2 0 1 0 0.01 0zM329.7 116.5a2 2 0 1 0 0.01 0zM343.8 168.7a2 2 0 1 0 0.01 0zM351.9 144.2a2 2 0 1 0 0.01 0zM348.4 143.3a2 2 0 1 0 0.01 0zM342.1 136.1a2 2 0 1 0 0.01 0zM336.6 151.1a2 2 0 1 0 0.01 0zM341 149.6a2 2 0 1 0 0.01 0zM337.6 179a2 2 0 1 0 0.01 0zM344 142.9a2 2 0 1 0 0.01 0zM360.7 143.9a2 2 0 1 0 0.01 0zM345.4 146.7a2 2 0 1 0 0.01 0zM324 164.9a2 2 0 1 0 0.01 0zM327.3 170.2a2 2 0 1 0 0.01 0zM350.2 134.2a2 2 0 1 0 0.01 0zM329.6 157.7a2 2 0 1 0 0.01 0zM338.4 178.2a2 2 0 1 0 0.01 0zM337.9 145.1a2 2 0 1 0 0.01 0zM342.1 115.1a2 2 0 1 0 0.01 0zM324.8 159.2a2 2 0 1 0 0.01 0zM346.8 139.1a2 2 0 1 0 0.01 0zM335.1 158.8a2 2 0 1 0 0.01 0zM331.8 162.4a2 2 0 1 0 0.01 0zM346 118a2 2 0 1 0 0.01 0zM336.4 135a2 2 0 1 0 0.01 0zM336.2 147.7a2 2 0 1 0 0.01 0zM331.5 120.2a2 2 0 1 0 0.01 0zM329.2 120.4a2 2 0 1 0 0.01 0zM347.6 154a2 2 0 1 0 0.01 0zM315 147.7a2 2 0 1 0 0.01 0zM327.5 138.8a2 2 0 1 0 0.01 0zM345.9 177.9a2 2 0 1 0 0.01 0zM339.1 151.1a2 2 0 1 0 0.01 0zM332.9 89a2 2 0 1 0 0.01 0zM322.5 156.9a2 2 0 1 0 0.01 0zM328.4 131.9a2 2 0 1 0 0.01 0zM353.3 158.8a2 2 0 1 0 0.01 0zM334.8 128a2 2 0 1 0 0.01 0zM327.7 175.6a2 2 0 1 0 0.01 0zM329.3 140.7a2 2 0 1 0 0.01 0zM342.6 138.9a2 2 0 1 0 0.01 0zM354 103.2a2 2 0 1 0 0.01 0zM331 146.4a2 2 0 1 0 0.01 0zM339.8 162.9a2 2 0 1 0 0.01 0zM323.8 162a2 2 0 1 0 0.01 0zM330.9 134a2 2 0 1 0 0.01 0zM364.2 153.8a2 2 0 1 0 0.01 0zM325.6 160a2 2 0 1 0 0.01 0zM336.5 167.2a2 2 0 1 0 0.01 0zM349.4 145.7a2 2 0 1 0 0.01 0zM334.6 141.1a2 2 0 1 0 0.01 0zM315.3 144.3a2 2 0 1 0 0.01 0zM357.6 129.2a2 2 0 1 0 0.01 0zM330.4 146a2 2 0 1 0 0.01 0zM350.5 141.3a2 2 0 1 0 0.01 0zM321.6 131a2 2 0 1 0 0.01 0zM343.2 155.4a2 2 0 1 0 0.01 0zM323.5 144.4a2 2 0 1 0 0.01 0zM357 180.8a2 2 0 1 0 0.01 0zM327.6 113.9a2 2 0 1 0 0.01 0zM340.2 127.8a2 2 0 1 0 0.01 0zM338 146.4a2 2 0 1 0 0.01 0zM348.8 134.1a2 2 0 1 0 0.01 0zM331.6 118.6a2 2 0 1 0 0.01 0zM337.4 127.4a2 2 0 1 0 0.01 0zM352.9 133a2 2 0 1 0 0.01 0zM345.9 112.6a2 2 0 1 0 0.01 0zM327 159a2 2 0 1 0 0.01 0zM354.9 124.7a2 2 0 1 0 0.01 0zM353.5 147.2a2 2 0 1 0 0.01 0zM342.4 189a2 2 0 1 0 0.01 0zM340.6 110.1a2 2 0 1 0 0.01 0zM343.3 138a2 2 0 1 0 0.01 0zM361.9 89.1a2 2 0 1 0 0.01 0zM354.5 145.8a2 2 0 1 0 0.01 0zM320.9 158.9a2 2 0 1 0 0.01 0zM340 156.6a2 2 0 1 0 0.01 0zM343.8 145.2a2 2 0 1 0 0.01 0zM346.4 170.1a2 2 0 1 0 0.01 0zM346.6 159.3a2 2 0 1 0 0.01 0zM332.7 190.8a2 2 0 1 0 0.01 0zM333.8 170.8a2 2 0 1 0 0.01 0zM348.1 131.3a2 2 0 1 0 0.01 0zM345.5 158.9a2 2 0 1 0 0.01 0zM339.8 109.4a2 2 0 1 0 0.01 0zM335.5 175.4a2 2 0 1 0 0.01 0zM337.4 120.5a2 2 0 1 0 0.01 0zM349.8 174.5a2 2 0 1 0 0.01 0zM367.2 158a2 2 0 1 0 0.01 0zM341.6 158.9a2 2 0 1 0 0.01 0zM344.1 110a2 2 0 1 0 0.01 0zM361.9 178.8a2 2 0 1 0 0.01 0zM329.6 181.3a2 2 0 1 0 0.01 0zM347.9 132.3a2 2 0 1 0 0.01 0zM325.9 149.1a2 2 0 1 0 0.01 0zM341.6 165.7a2 2 0 1 0 0.01 0zM357.2 174.5a2 2 0 1 0 0.01 0zM335.6 131.3a2 2 0 1 0 0.01 0zM356.7 141.6a2 2 0 1 0 0.01 0zM336.6 132.7a2 2 0 1 0 0.01 0zM349.9 160.5a2 2 0 1 0 0.01 0zM351.3 149.7a2 2 0 1 0 0.01 0zM349.4 163.5a2 2 0 1 0 0.01 0zM355.5 179a2 2 0 1 0 0.01 0zM343.4 143.2a2 2 0 1 0 0.01 0zM344.9 156.2a2 2 0 1 0 0.01 0zM338.4 185.1a2 2 0 1 0 0.01 0zM332.7 151.1a2 2 0 1 0 0.01 0zM337.9 130.7a2 2 0 1 0 0.01 0zM343.7 182.6a2 2 0 1 0 0.01 0zM332.4 122.8a2 2 0 1 0 0.01 0zM332.9 117.1a2 2 0 1 0 0.01 0zM360.1 107.6a2 2 0 1 0 0.01 0zM344.3 151.6a2 2 0 1 0 0.01 0zM348.4 176.6a2 2 0 1 0 0.01 0zM348.3 128.3a2 2 0 1 0 0.01 0zM339.9 154a2 2 0 1 0 0.01 0zM335.4 129.1a2 2 0 1 0 0.01 0zM345.5 134.9a2 2 0 1 0 0.01 0zM363.8 133.6a2 2 0 1 0 0.01 0zM348 120a2 2 0 1 0 0.01 0zM342.6 150.7a2 2 0 1 0 0.01 0zM338.8 149.1a2 2 0 1 0 0.01 0zM341.5 169.2a2 2 0 1 0 0.01 0zM331.5 147.6a2 2 0 1 0 0.01 0zM354.7 136.8a2 2 0 1 0 0.01 0zM350.6 147.8a2 2 0 1 0 0.01 0zM339.7 150.7a2 2 0 1 0 0.01 0zM339.6 128.5a2 2 0 1 0 0.01 0zM365.7 177.2a2 2 0 1 0 0.01 0zM348.5 123a2 2 0 1 0 0.01 0zM344.1 133.9a2 2 0 1 0 0.01 0zM347.3 186.3a2 2 0 1 0 0.01 0zM342.3 125.8a2 2 0 1 0 0.01 0zM340.8 92.4a2 2 0 1 0 0.01 0zM352 147.2a2 2 0 1 0 0.01 0zM356.7 150.8a2 2 0 1 0 0.01 0zM347.5 145.8a2 2 0 1 0 0.01 0zM324 144.2a2 2 0 1 0 0.01 0zM346.4 169a2 2 0 1 0 0.01 0zM350.2 121.8a2 2 0 1 0 0.01 0zM342.3 150a2 2 0 1 0 0.01 0zM357.2 129.5a2 2 0 1 0 0.01 0zM321.7 127a2 2 0 1 0 0.01 0zM338.1 176.7a2 2 0 1 0 0.01 0zM349.5 108.8a2 2 0 1 0 0.01 0zM352 182.2a2 2 0 1 0 0.01 0zM349.1 117.5a2 2 0 1 0 0.01 0zM361 159.4a2 2 0 1 0 0.01 0zM331.9 193.4a2 2 0 1 0 0.01 0zM344.4 92.9a2 2 0 1 0 0.01 0zM345.4 139.4a2 2 0 1 0 0.01 0zM349.3 152.3a2 2 0 1 0 0.01 0zM332.4 153a2 2 0 1 0 0.01 0zM351.5 139.1a2 2 0 1 0 0.01 0zM341.4 115.1a2 2 0 1 0 0.01 0zM340.4 128.9a2 2 0 1 0 0.01 0zM341.4 131.2a2 2 0 1 0 0.01 0zM321.3 155a2 2 0 1 0 0.01 0zM334.4 135.3a2 2 0 1 0 0.01 0zM331.1 141.1a2 2 0 1 0 0.01 0zM337.9 182.5a2 2 0 1 0 0.01 0zM321.5 112.2a2 2 0 1 0 0.01 0zM342.4 111.7a2 2 0 1 0 0.01 0zM339.3 203.3a2 2 0 1 0 0.01 0zM345.9 143.5a2 2 0 1 0 0.01 0zM349.2 155.6a2 2 0 1 0 0.01 0zM347.2 143.4a2 2 0 1 0 0.01 0zM339.4 171.6a2 2 0 1 0 0.01 0zM352.1 142.5a2 2 0 1 0 0.01 0zM344 115.5a2 2 0 1 0 0.01 0zM333.2 104a2 2 0 1 0 0.01 0zM339.4 179.7a2 2 0 1 0 0.01 0zM356 139.5a2 2 0 1 0 0.01 0zM338.6 161a2 2 0 1 0 0.01 0zM351.4 121.6a2 2 0 1 0 0.01 0zM342 158.6a2 2 0 1 0 0.01 0zM350.1 161.9a2 2 0 1 0 0.01 0zM353.7 149.7a2 2 0 1 0 0.01 0zM337 105.3a2 2 0 1 0 0.01 0zM333.6 164a2 2 0 1 0 0.01 0zM360.5 163a2 2 0 1 0 0.01 0zM337.6 100.7a2 2 0 1 0 0.01 0zM352.5 117.2a2 2 0 1 0 0.01 0zM340.1 179.8a2 2 0 1 0 0.01 0zM334.8 131.6a2 2 0 1 0 0.01 0zM349.2 127.9a2 2 0 1 0 0.01 0zM352.6 184.1a2 2 0 1 0 0.01 0zM339.5 178.6a2 2 0 1 0 0.01 0zM331 145.6a2 2 0 1 0 0.01 0zM338.9 81a2 2 0 1 0 0.01 0zM338.8 157.6a2 2 0 1 0 0.01 0zM338.5 111a2 2 0 1 0 0.01 0zM349.6 121.6a2 2 0 1 0 0.01 0zM352.6 164.2a2 2 0 1 0 0.01 0zM347.2 136.1a2 2 0 1 0 0.01 0zM341.9 181.6a2 2 0 1 0 0.01 0zM365.4 150.4a2 2 0 1 0 0.01 0zM315.3 111.7a2 2 0 1 0 0.01 0zM326.4 178.3a2 2 0 1 0 0.01 0zM326.1 174.6a2 2 0 1 0 0.01 0zM345.5 137.4a2 2 0 1 0 0.01 0zM359.2 136.6a2 2 0 1 0 0.01 0zM356.2 170.7a2 2 0 1 0 0.01 0zM334.7 140.9a2 2 0 1 0 0.01 0zM355.9 87.1a2 2 0 1 0 0.01 0zM353.4 136.2a2 2 0 1 0 0.01 0zM351.5 133.7a2 2 0 1 0 0.01 0zM337.3 91.2a2 2 0 1 0 0.01 0zM325.9 122.1a2 2 0 1 0 0.01 0zM341.2 112a2 2 0 1 0 0.01 0zM345 148.4a2 2 0 1 0 0.01 0zM346.7 154.6a2 2 0 1 0 0.01 0zM349 124.5a2 2 0 1 0 0.01 0zM347.2 141.4a2 2 0 1 0 0.01 0zM346.9 97a2 2 0 1 0 0.01 0zM335.7 117a2 2 0 1 0 0.01 0zM332.5 131.6a2 2 0 1 0 0.01 0zM335.7 134.4a2 2 0 1 0 0.01 0zM329.6 109.4a2 2 0 1 0 0.01 0zM337.3 120.7a2 2 0 1 0 0.01 0zM343.9 141.8a2 2 0 1 0 0.01 0zM350.1 117.5a2 2 0 1 0 0.01 0zM341.1 137.8a2 2 0 1 0 0.01 0zM341.1 112.3a2 2 0 1 0 0.01 0zM360.3 143.2a2 2 0 1 0 0.01 0zM356.6 121.4a2 2 0 1 0 0.01 0zM342.5 161a2 2 0 1 0 0.01 0zM341.2 143a2 2 0 1 0 0.01 0zM335.3 185.4a2 2 0 1 0 0.01 0zM351.5 133a2 2 0 1 0 0.01 0zM343.5 121.3a2 2 0 1 0 0.01 0zM350 139.9a2 2 0 1 0 0.01 0zM336.5 150.4a2 2 0 1 0 0.01 0zM370.7 140a2 2 0 1 0 0.01 0zM335.3 129.4a2 2 0 1 0 0.01 0zM351.2 126a2 2 0 1 0 0.01 0zM327.8 167.2a2 2 0 1 0 0.01 0zM324.7 101.9a2 2 0 1 0 0.01 0zM339.9 139.3a2 2 0 1 0 0.01 0zM322.6 99.4a2 2 0 1 0 0.01 0zM345.1 127.3a2 2 0 1 0 0.01 0zM317.3 174.8a2 2 0 1 0 0.01 0zM358.7 181.9a2 2 0 1 0 0.01 0zM342.5 116.8a2 2 0 1 0 0.01 0zM335.1 171.4a2 2 0 1 0 0.01 0zM338.5 104.5a2 2 0 1 0 0.01 0zM351.9 163.9a2 2 0 1 0 0.01 0zM330.7 121.9a2 2 0 1 0 0.01 0zM350.7 103.9a2 2 0 1 0 0.01 0zM346.8 134.6a2 2 0 1 0 0.01 0zM353 118.8a2 2 0 1 0 0.01 0zM338.1 122.5a2 2 0 1 0 0.01 0zM360.2 157.5a2 2 0 1 0 0.01 0zM331 126.6a2 2 0 1 0 0.01 0zM344.5 136.5a2 2 0 1 0 0.01 0zM348.1 112.8a2 2 0 1 0 0.01 0zM335.1 186.9a2 2 0 1 0 0.01 0zM355.6 120.3a2 2 0 1 0 0.01 0zM361.8 172.9a2 2 0 1 0 0.01 0zM317.3 148.2a2 2 0 1 0 0.01 0zM353.6 144a2 2 0 1 0 0.01 0zM341.1 170.6a2 2 0 1 0 0.01 0zM346.4 87a2 2 0 1 0 0.01 0zM342.4 145.4a2 2 0 1 0 0.01 0zM327.8 170a2 2 0 1 0 0.01 0zM553.5 241.8a2 2 0 1 0 0.01 0zM554.6 265.5a2 2 0 1 0 0.01 0zM560.4 268.7a2 2 0 1 0 0.01 0zM547 383a2 2 0 1 0 0.01 0zM558 325a2 2 0 1 0 0.01 0zM547.5 313a2 2 0 1 0 0.01 0z" fill="#4a54e6"/>
<path d="M289.6 62h4v4h-4zM290 195h4v4h-4zM314.9 204.6h4v4h-4zM300.1 96.7h4v4h-4zM299.4 108.9h4v4h-4zM296.4 119.5h4v4h-4zM283.7 128.8h4v4h-4zM281.4 140.6h4v4h-4zM274.8 146h4v4h-4zM299 169.9h4v4h-4zM304.1 172.2h4v4h-4zM310 174.6h4v4h-4zM328.8 105.2h4v4h-4zM326.7 126.5h4v4h-4zM337.4 125.2h4v4h-4zM321.7 184.4h4v4h-4zM322.2 133.8h4v4h-4zM328 126.7h4v4h-4zM339.1 113.3h4v4h-4zM322.1 196.8h4v4h-4zM304.2 117h4v4h-4zM330.3 82.2h4v4h-4zM296.1 127.6h4v4h-4zM343.3 152.6h4v4h-4zM321.2 115h4v4h-4zM364.3 160.9h4v4h-4zM314.1 190h4v4h-4zM348 127.5h4v4h-4zM304.9 202.4h4v4h-4zM327.2 132.2h4v4h-4zM332.9 138h4v4h-4zM345.2 128.6h4v4h-4zM328.7 161.7h4v4h-4zM347 125.9h4v4h-4zM321.1 184.4h4v4h-4zM328.2 172.8h4v4h-4zM332.8 151.4h4v4h-4zM317.3 145.1h4v4h-4zM327.8 128.6h4v4h-4zM354.3 111.6h4v4h-4zM318.3 156.4h4v4h-4zM344.5 125.9h4v4h-4zM325.4 125.9h4v4h-4zM315.3 181.3h4v4h-4zM328.7 134.3h4v4h-4zM332.8 171.2h4v4h-4zM348.7 155.7h4v4h-4zM333 161.7h4v4h-4zM343.9 162.5h4v4h-4zM311.7 149.4h4v4h-4zM324.3 192.2h4v4h-4zM330.9 127.1h4v4h-4zM348.9 136h4v4h-4zM335.8 144.7h4v4h-4zM335.4 175.4h4v4h-4zM318.5 128.8h4v4h-4zM341.4 139.2h4v4h-4zM332.1 173.6h4v4h-4zM317.3 174.1h4v4h-4zM325.2 131.1h4v4h-4zM337.8 160.4h4v4h-4zM319.4 186h4v4h-4zM313.7 133.9h4v4h-4zM346.9 176.6h4v4h-4zM324.9 165.1h4v4h-4zM325.8 112.9h4v4h-4zM343.2 150.2h4v4h-4zM340.8 168h4v4h-4zM317.6 151.4h4v4h-4zM318.9 157.8h4v4h-4zM340.7 174h4v4h-4zM363.4 137.2h4v4h-4zM346.4 171h4v4h-4zM340.4 125.4h4v4h-4zM338.4 158.7h4v4h-4zM331.9 157.5h4v4h-4zM317.4 146.6h4v4h-4zM338.1 141.8h4v4h-4zM339.1 184.9h4v4h-4zM333.5 137.5h4v4h-4zM335.8 142.7h4v4h-4zM323.1 139.7h4v4h-4zM355.4 166.3h4v4h-4zM339.9 171.2h4v4h-4zM307.3 159.6h4v4h-4zM340 141.5h4v4h-4zM315.6 163.8h4v4h-4zM326.5 176.5h4v4h-4zM324 150.2h4v4h-4zM344.2 174.8h4v4h-4zM345.1 142.1h4v4h-4zM359 124h4v4h-4zM322 146.9h4v4h-4zM348.2 158.8h4v4h-4zM356.6 169.2h4v4h-4zM340.7 125.3h4v4h-4zM326.1 149.6h4v4h-4zM315.3 126.8h4v4h-4zM313.8 136h4v4h-4zM341.9 160.5h4v4h-4zM333.5 160.1h4v4h-4zM319.1 139.2h4v4h-4zM323.3 122.3h4v4h-4zM324 123.3h4v4h-4zM329 167.3h4v4h-4zM333.9 148.1h4v4h-4zM548.5 274h4v4h-4z" fill="#6a9a55"/>
<circle cx="150.8" cy="403.3" r="2" fill="#4a54e6"/>
<text x="162" y="408.6" font-size="18" fill="#111">MT</text>
<rect x="148.8" y="421.3" width="4" height="4" fill="#6a9a55"/>
<text x="162" y="428.6" font-size="18" fill="#111">YT</text>
<path d="M150.8 439.8l3.4 5.4h-6.8z" fill="#c4322b"/>
<text x="162" y="448.6" font-size="18" fill="#111">CBSC</text>
<text x="624.5" y="41.8" font-size="30" font-weight="bold" fill="#111">B</text>
<linearGradient id="g1" x1="0" y1="1" x2="0" y2="0"><stop offset="0.00" stop-color="#b3d3de" stop-opacity="1.00"/><stop offset="0.06" stop-color="#b3d3de" stop-opacity="1.00"/><stop offset="0.12" stop-color="#b3d3de" stop-opacity="1.00"/><stop offset="0.19" stop-color="#b3d3de" stop-opacity="1.00"/><stop offset="0.25" stop-color="#b3d3de" stop-opacity="1.00"/><stop offset="0.31" stop-color="#b3d3de" stop-opacity="0.77"/><stop offset="0.38" stop-color="#b3d3de" stop-opacity="0.60"/><stop offset="0.44" stop-color="#b3d3de" stop-opacity="0.48"/><stop offset="0.50" stop-color="#b3d3de" stop-opacity="0.38"/><stop offset="0.56" stop-color="#b3d3de" stop-opacity="0.31"/><stop offset="0.62" stop-color="#b3d3de" stop-opacity="0.25"/><stop offset="0.69" stop-color="#b3d3de" stop-opacity="0.20"/><stop offset="0.75" stop-color="#b3d3de" stop-opacity="0.16"/><stop offset="0.81" stop-color="#b3d3de" stop-opacity="0.10"/><stop offset="0.88" stop-color="#b3d3de" stop-opacity="0.05"/><stop offset="0.94" stop-color="#b3d3de" stop-opacity="0.02"/><stop offset="1.00" stop-color="#b3d3de" stop-opacity="0.00"/></linearGradient>
<rect x="684.9" y="34.2" width="24.6" height="235.2" fill="url(#g1)"/>
<linearGradient id="g2" x1="0" y1="1" x2="0" y2="0"><stop offset="0.00" stop-color="#1f46ea" stop-opacity="1.00"/><stop offset="0.06" stop-color="#1f46ea" stop-opacity="1.00"/><stop offset="0.12" stop-color="#1f46ea" stop-opacity="1.00"/><stop offset="0.19" stop-color="#1f46ea" stop-opacity="1.00"/><stop offset="0.25" stop-color="#1f46ea" stop-opacity="1.00"/><stop offset="0.31" stop-color="#1f46ea" stop-opacity="1.00"/><stop offset="0.38" stop-color="#1f46ea" stop-opacity="0.84"/><stop offset="0.44" stop-color="#1f46ea" stop-opacity="0.56"/><stop offset="0.50" stop-color="#1f46ea" stop-opacity="0.40"/><stop offset="0.56" stop-color="#1f46ea" stop-opacity="0.30"/><stop offset="0.62" stop-color="#1f46ea" stop-opacity="0.23"/><stop offset="0.69" stop-color="#1f46ea" stop-opacity="0.18"/><stop offset="0.75" stop-color="#1f46ea" stop-opacity="0.14"/><stop offset="0.81" stop-color="#1f46ea" stop-opacity="0.09"/><stop offset="0.88" stop-color="#1f46ea" stop-opacity="0.05"/><stop offset="0.94" stop-color="#1f46ea" stop-opacity="0.02"/><stop offset="1.00" stop-color="#1f46ea" stop-opacity="0.00"/></linearGradient>
<rect x="713" y="142.6" width="22" height="126.8" fill="url(#g2)"/>
<linearGradient id="g3" x1="0" y1="1" x2="0" y2="0"><stop offset="0.00" stop-color="#b3d3de" stop-opacity="1.00"/><stop offset="0.06" stop-color="#b3d3de" stop-opacity="1.00"/><stop offset="0.12" stop-color="#b3d3de" stop-opacity="1.00"/><stop offset="0.19" stop-color="#b3d3de" stop-opacity="1.00"/><stop offset="0.25" stop-color="#b3d3de" stop-opacity="1.00"/><stop offset="0.31" stop-color="#b3d3de" stop-opacity="0.77"/><stop offset="0.38" stop-color="#b3d3de" stop-opacity="0.60"/><stop offset="0.44" stop-color="#b3d3de" stop-opacity="0.48"/><stop offset="0.50" stop-color="#b3d3de" stop-opacity="0.38"/><stop offset="0.56" stop-color="#b3d3de" stop-opacity="0.31"/><stop offset="0.62" stop-color="#b3d3de" stop-opacity="0.25"/><stop offset="0.69" stop-color="#b3d3de" stop-opacity="0.20"/><stop offset="0.75" stop-color="#b3d3de" stop-opacity="0.16"/><stop offset="0.81" stop-color="#b3d3de" stop-opacity="0.10"/><stop offset="0.88" stop-color="#b3d3de" stop-opacity="0.05"/><stop offset="0.94" stop-color="#b3d3de" stop-opacity="0.02"/><stop offset="1.00" stop-color="#b3d3de" stop-opacity="0.00"/></linearGradient>
<rect x="738.8" y="34.2" width="20" height="235.2" fill="url(#g3)"/>
<linearGradient id="g4" x1="0" y1="1" x2="0" y2="0"><stop offset="0.00" stop-color="#1f46ea" stop-opacity="1.00"/><stop offset="0.06" stop-color="#1f46ea" stop-opacity="1.00"/><stop offset="0.12" stop-color="#1f46ea" stop-opacity="1.00"/><stop offset="0.19" stop-color="#1f46ea" stop-opacity="1.00"/><stop offset="0.25" stop-color="#1f46ea" stop-opacity="1.00"/><stop offset="0.31" stop-color="#1f46ea" stop-opacity="1.00"/><stop offset="0.38" stop-color="#1f46ea" stop-opacity="0.69"/><stop offset="0.44" stop-color="#1f46ea" stop-opacity="0.48"/><stop offset="0.50" stop-color="#1f46ea" stop-opacity="0.36"/><stop offset="0.56" stop-color="#1f46ea" stop-opacity="0.27"/><stop offset="0.62" stop-color="#1f46ea" stop-opacity="0.22"/><stop offset="0.69" stop-color="#1f46ea" stop-opacity="0.17"/><stop offset="0.75" stop-color="#1f46ea" stop-opacity="0.14"/><stop offset="0.81" stop-color="#1f46ea" stop-opacity="0.08"/><stop offset="0.88" stop-color="#1f46ea" stop-opacity="0.05"/><stop offset="0.94" stop-color="#1f46ea" stop-opacity="0.02"/><stop offset="1.00" stop-color="#1f46ea" stop-opacity="0.00"/></linearGradient>
<rect x="761.5" y="93.5" width="19.2" height="175.9" fill="url(#g4)"/>
<linearGradient id="g5" x1="0" y1="1" x2="0" y2="0"><stop offset="0.00" stop-color="#b3d3de" stop-opacity="1.00"/><stop offset="0.06" stop-color="#b3d3de" stop-opacity="1.00"/><stop offset="0.12" stop-color="#b3d3de" stop-opacity="1.00"/><stop offset="0.19" stop-color="#b3d3de" stop-opacity="1.00"/><stop offset="0.25" stop-color="#b3d3de" stop-opacity="1.00"/><stop offset="0.31" stop-color="#b3d3de" stop-opacity="1.00"/><stop offset="0.38" stop-color="#b3d3de" stop-opacity="1.00"/><stop offset="0.44" stop-color="#b3d3de" stop-opacity="1.00"/><stop offset="0.50" stop-color="#b3d3de" stop-opacity="1.00"/><stop offset="0.56" stop-color="#b3d3de" stop-opacity="1.00"/><stop offset="0.62" stop-color="#b3d3de" stop-opacity="1.00"/><stop offset="0.69" stop-color="#b3d3de" stop-opacity="1.00"/><stop offset="0.75" stop-color="#b3d3de" stop-opacity="1.00"/><stop offset="0.81" stop-color="#b3d3de" stop-opacity="0.75"/><stop offset="0.88" stop-color="#b3d3de" stop-opacity="0.48"/><stop offset="0.94" stop-color="#b3d3de" stop-opacity="0.23"/><stop offset="1.00" stop-color="#b3d3de" stop-opacity="0.00"/></linearGradient>
<rect x="783.4" y="34.2" width="19.2" height="235.2" fill="url(#g5)"/>
<linearGradient id="g6" x1="0" y1="1" x2="0" y2="0"><stop offset="0.00" stop-color="#1f46ea" stop-opacity="1.00"/><stop offset="0.06" stop-color="#1f46ea" stop-opacity="1.00"/><stop offset="0.12" stop-color="#1f46ea" stop-opacity="1.00"/><stop offset="0.19" stop-color="#1f46ea" stop-opacity="1.00"/><stop offset="0.25" stop-color="#1f46ea" stop-opacity="1.00"/><stop offset="0.31" stop-color="#1f46ea" stop-opacity="0.87"/><stop offset="0.38" stop-color="#1f46ea" stop-opacity="0.59"/><stop offset="0.44" stop-color="#1f46ea" stop-opacity="0.43"/><stop offset="0.50" stop-color="#1f46ea" stop-opacity="0.33"/><stop offset="0.56" stop-color="#1f46ea" stop-opacity="0.25"/><stop offset="0.62" stop-color="#1f46ea" stop-opacity="0.20"/><stop offset="0.69" stop-color="#1f46ea" stop-opacity="0.16"/><stop offset="0.75" stop-color="#1f46ea" stop-opacity="0.13"/><stop offset="0.81" stop-color="#1f46ea" stop-opacity="0.08"/><stop offset="0.88" stop-color="#1f46ea" stop-opacity="0.05"/><stop offset="0.94" stop-color="#1f46ea" stop-opacity="0.02"/><stop offset="1.00" stop-color="#1f46ea" stop-opacity="0.00"/></linearGradient>
<rect x="805.9" y="132.4" width="18.6" height="137" fill="url(#g6)"/>
<linearGradient id="g7" x1="0" y1="1" x2="0" y2="0"><stop offset="0.00" stop-color="#b3d3de" stop-opacity="1.00"/><stop offset="0.06" stop-color="#b3d3de" stop-opacity="1.00"/><stop offset="0.12" stop-color="#b3d3de" stop-opacity="1.00"/><stop offset="0.19" stop-color="#b3d3de" stop-opacity="1.00"/><stop offset="0.25" stop-color="#b3d3de" stop-opacity="1.00"/><stop offset="0.31" stop-color="#b3d3de" stop-opacity="0.77"/><stop offset="0.38" stop-color="#b3d3de" stop-opacity="0.60"/><stop offset="0.44" stop-color="#b3d3de" stop-opacity="0.48"/><stop offset="0.50" stop-color="#b3d3de" stop-opacity="0.38"/><stop offset="0.56" stop-color="#b3d3de" stop-opacity="0.31"/><stop offset="0.62" stop-color="#b3d3de" stop-opacity="0.25"/><stop offset="0.69" stop-color="#b3d3de" stop-opacity="0.20"/><stop offset="0.75" stop-color="#b3d3de" stop-opacity="0.16"/><stop offset="0.81" stop-color="#b3d3de" stop-opacity="0.10"/><stop offset="0.88" stop-color="#b3d3de" stop-opacity="0.05"/><stop offset="0.94" stop-color="#b3d3de" stop-opacity="0.02"/><stop offset="1.00" stop-color="#b3d3de" stop-opacity="0.00"/></linearGradient>
<rect x="828" y="34.2" width="18.4" height="235.2" fill="url(#g7)"/>
<linearGradient id="g8" x1="0" y1="1" x2="0" y2="0"><stop offset="0.00" stop-color="#1f46ea" stop-opacity="1.00"/><stop offset="0.06" stop-color="#1f46ea" stop-opacity="1.00"/><stop offset="0.12" stop-color="#1f46ea" stop-opacity="1.00"/><stop offset="0.19" stop-color="#1f46ea" stop-opacity="1.00"/><stop offset="0.25" stop-color="#1f46ea" stop-opacity="1.00"/><stop offset="0.31" stop-color="#1f46ea" stop-opacity="0.93"/><stop offset="0.38" stop-color="#1f46ea" stop-opacity="0.62"/><stop offset="0.44" stop-color="#1f46ea" stop-opacity="0.45"/><stop offset="0.50" stop-color="#1f46ea" stop-opacity="0.34"/><stop offset="0.56" stop-color="#1f46ea" stop-opacity="0.26"/><stop offset="0.62" stop-color="#1f46ea" stop-opacity="0.21"/><stop offset="0.69" stop-color="#1f46ea" stop-opacity="0.17"/><stop offset="0.75" stop-color="#1f46ea" stop-opacity="0.14"/><stop offset="0.81" stop-color="#1f46ea" stop-opacity="0.08"/><stop offset="0.88" stop-color="#1f46ea" stop-opacity="0.05"/><stop offset="0.94" stop-color="#1f46ea" stop-opacity="0.02"/><stop offset="1.00" stop-color="#1f46ea" stop-opacity="0.00"/></linearGradient>
<rect x="848.3" y="98.2" width="18.6" height="171.2" fill="url(#g8)"/>
<linearGradient id="g9" x1="0" y1="1" x2="0" y2="0"><stop offset="0.00" stop-color="#b3d3de" stop-opacity="1.00"/><stop offset="0.06" stop-color="#b3d3de" stop-opacity="1.00"/><stop offset="0.12" stop-color="#b3d3de" stop-opacity="1.00"/><stop offset="0.19" stop-color="#b3d3de" stop-opacity="1.00"/><stop offset="0.25" stop-color="#b3d3de" stop-opacity="1.00"/><stop offset="0.31" stop-color="#b3d3de" stop-opacity="0.77"/><stop offset="0.38" stop-color="#b3d3de" stop-opacity="0.60"/><stop offset="0.44" stop-color="#b3d3de" stop-opacity="0.48"/><stop offset="0.50" stop-color="#b3d3de" stop-opacity="0.38"/><stop offset="0.56" stop-color="#b3d3de" stop-opacity="0.31"/><stop offset="0.62" stop-color="#b3d3de" stop-opacity="0.25"/><stop offset="0.69" stop-color="#b3d3de" stop-opacity="0.20"/><stop offset="0.75" stop-color="#b3d3de" stop-opacity="0.16"/><stop offset="0.81" stop-color="#b3d3de" stop-opacity="0.10"/><stop offset="0.88" stop-color="#b3d3de" stop-opacity="0.05"/><stop offset="0.94" stop-color="#b3d3de" stop-opacity="0.02"/><stop offset="1.00" stop-color="#b3d3de" stop-opacity="0.00"/></linearGradient>
<rect x="869.6" y="34.2" width="17.8" height="235.2" fill="url(#g9)"/>
<linearGradient id="g10" x1="0" y1="1" x2="0" y2="0"><stop offset="0.00" stop-color="#1f46ea" stop-opacity="1.00"/><stop offset="0.06" stop-color="#1f46ea" stop-opacity="1.00"/><stop offset="0.12" stop-color="#1f46ea" stop-opacity="1.00"/><stop offset="0.19" stop-color="#1f46ea" stop-opacity="1.00"/><stop offset="0.25" stop-color="#1f46ea" stop-opacity="1.00"/><stop offset="0.31" stop-color="#1f46ea" stop-opacity="0.92"/><stop offset="0.38" stop-color="#1f46ea" stop-opacity="0.62"/><stop offset="0.44" stop-color="#1f46ea" stop-opacity="0.44"/><stop offset="0.50" stop-color="#1f46ea" stop-opacity="0.33"/><stop offset="0.56" stop-color="#1f46ea" stop-opacity="0.26"/><stop offset="0.62" stop-color="#1f46ea" stop-opacity="0.21"/><stop offset="0.69" stop-color="#1f46ea" stop-opacity="0.17"/><stop offset="0.75" stop-color="#1f46ea" stop-opacity="0.14"/><stop offset="0.81" stop-color="#1f46ea" stop-opacity="0.08"/><stop offset="0.88" stop-color="#1f46ea" stop-opacity="0.05"/><stop offset="0.94" stop-color="#1f46ea" stop-opacity="0.02"/><stop offset="1.00" stop-color="#1f46ea" stop-opacity="0.00"/></linearGradient>
<rect x="890.5" y="66.4" width="17.1" height="203" fill="url(#g10)"/>
<linearGradient id="g11" x1="0" y1="1" x2="0" y2="0"><stop offset="0.00" stop-color="#b3d3de" stop-opacity="1.00"/><stop offset="0.06" stop-color="#b3d3de" stop-opacity="1.00"/><stop offset="0.12" stop-color="#b3d3de" stop-opacity="1.00"/><stop offset="0.19" stop-color="#b3d3de" stop-opacity="1.00"/><stop offset="0.25" stop-color="#b3d3de" stop-opacity="1.00"/><stop offset="0.31" stop-color="#b3d3de" stop-opacity="0.77"/><stop offset="0.38" stop-color="#b3d3de" stop-opacity="0.60"/><stop offset="0.44" stop-color="#b3d3de" stop-opacity="0.48"/><stop offset="0.50" stop-color="#b3d3de" stop-opacity="0.38"/><stop offset="0.56" stop-color="#b3d3de" stop-opacity="0.31"/><stop offset="0.62" stop-color="#b3d3de" stop-opacity="0.25"/><stop offset="0.69" stop-color="#b3d3de" stop-opacity="0.20"/><stop offset="0.75" stop-color="#b3d3de" stop-opacity="0.16"/><stop offset="0.81" stop-color="#b3d3de" stop-opacity="0.10"/><stop offset="0.88" stop-color="#b3d3de" stop-opacity="0.05"/><stop offset="0.94" stop-color="#b3d3de" stop-opacity="0.02"/><stop offset="1.00" stop-color="#b3d3de" stop-opacity="0.00"/></linearGradient>
<rect x="910.7" y="34.2" width="16.8" height="235.2" fill="url(#g11)"/>
<linearGradient id="g12" x1="0" y1="1" x2="0" y2="0"><stop offset="0.00" stop-color="#1f46ea" stop-opacity="1.00"/><stop offset="0.06" stop-color="#1f46ea" stop-opacity="1.00"/><stop offset="0.12" stop-color="#1f46ea" stop-opacity="1.00"/><stop offset="0.19" stop-color="#1f46ea" stop-opacity="1.00"/><stop offset="0.25" stop-color="#1f46ea" stop-opacity="1.00"/><stop offset="0.31" stop-color="#1f46ea" stop-opacity="0.98"/><stop offset="0.38" stop-color="#1f46ea" stop-opacity="0.65"/><stop offset="0.44" stop-color="#1f46ea" stop-opacity="0.46"/><stop offset="0.50" stop-color="#1f46ea" stop-opacity="0.34"/><stop offset="0.56" stop-color="#1f46ea" stop-opacity="0.27"/><stop offset="0.62" stop-color="#1f46ea" stop-opacity="0.21"/><stop offset="0.69" stop-color="#1f46ea" stop-opacity="0.17"/><stop offset="0.75" stop-color="#1f46ea" stop-opacity="0.14"/><stop offset="0.81" stop-color="#1f46ea" stop-opacity="0.08"/><stop offset="0.88" stop-color="#1f46ea" stop-opacity="0.05"/><stop offset="0.94" stop-color="#1f46ea" stop-opacity="0.02"/><stop offset="1.00" stop-color="#1f46ea" stop-opacity="0.00"/></linearGradient>
<rect x="930.6" y="117.8" width="16.2" height="151.6" fill="url(#g12)"/>
<linearGradient id="g13" x1="0" y1="1" x2="0" y2="0"><stop offset="0.00" stop-color="#b3d3de" stop-opacity="1.00"/><stop offset="0.06" stop-color="#b3d3de" stop-opacity="1.00"/><stop offset="0.12" stop-color="#b3d3de" stop-opacity="1.00"/><stop offset="0.19" stop-color="#b3d3de" stop-opacity="1.00"/><stop offset="0.25" stop-color="#b3d3de" stop-opacity="1.00"/><stop offset="0.31" stop-color="#b3d3de" stop-opacity="0.77"/><stop offset="0.38" stop-color="#b3d3de" stop-opacity="0.60"/><stop offset="0.44" stop-color="#b3d3de" stop-opacity="0.48"/><stop offset="0.50" stop-color="#b3d3de" stop-opacity="0.38"/><stop offset="0.56" stop-color="#b3d3de" stop-opacity="0.31"/><stop offset="0.62" stop-color="#b3d3de" stop-opacity="0.25"/><stop offset="0.69" stop-color="#b3d3de" stop-opacity="0.20"/><stop offset="0.75" stop-color="#b3d3de" stop-opacity="0.16"/><stop offset="0.81" stop-color="#b3d3de" stop-opacity="0.10"/><stop offset="0.88" stop-color="#b3d3de" stop-opacity="0.05"/><stop offset="0.94" stop-color="#b3d3de" stop-opacity="0.02"/><stop offset="1.00" stop-color="#b3d3de" stop-opacity="0.00"/></linearGradient>
<rect x="950.5" y="34.2" width="15.3" height="235.2" fill="url(#g13)"/>
<linearGradient id="g14" x1="0" y1="1" x2="0" y2="0"><stop offset="0.00" stop-color="#1f46ea" stop-opacity="1.00"/><stop offset="0.06" stop-color="#1f46ea" stop-opacity="1.00"/><stop offset="0.12" stop-color="#1f46ea" stop-opacity="1.00"/><stop offset="0.19" stop-color="#1f46ea" stop-opacity="1.00"/><stop offset="0.25" stop-color="#1f46ea" stop-opacity="1.00"/><stop offset="0.31" stop-color="#1f46ea" stop-opacity="1.00"/><stop offset="0.38" stop-color="#1f46ea" stop-opacity="0.80"/><stop offset="0.44" stop-color="#1f46ea" stop-opacity="0.54"/><stop offset="0.50" stop-color="#1f46ea" stop-opacity="0.39"/><stop offset="0.56" stop-color="#1f46ea" stop-opacity="0.29"/><stop offset="0.62" stop-color="#1f46ea" stop-opacity="0.23"/><stop offset="0.69" stop-color="#1f46ea" stop-opacity="0.18"/><stop offset="0.75" stop-color="#1f46ea" stop-opacity="0.14"/><stop offset="0.81" stop-color="#1f46ea" stop-opacity="0.09"/><stop offset="0.88" stop-color="#1f46ea" stop-opacity="0.05"/><stop offset="0.94" stop-color="#1f46ea" stop-opacity="0.02"/><stop offset="1.00" stop-color="#1f46ea" stop-opacity="0.00"/></linearGradient>
<rect x="968.9" y="132.8" width="15.3" height="136.6" fill="url(#g14)"/>
<linearGradient id="g15" x1="0" y1="1" x2="0" y2="0"><stop offset="0.00" stop-color="#b3d3de" stop-opacity="1.00"/><stop offset="0.06" stop-color="#b3d3de" stop-opacity="1.00"/><stop offset="0.12" stop-color="#b3d3de" stop-opacity="1.00"/><stop offset="0.19" stop-color="#b3d3de" stop-opacity="1.00"/><stop offset="0.25" stop-color="#b3d3de" stop-opacity="1.00"/><stop offset="0.31" stop-color="#b3d3de" stop-opacity="0.77"/><stop offset="0.38" stop-color="#b3d3de" stop-opacity="0.60"/><stop offset="0.44" stop-color="#b3d3de" stop-opacity="0.48"/><stop offset="0.50" stop-color="#b3d3de" stop-opacity="0.38"/><stop offset="0.56" stop-color="#b3d3de" stop-opacity="0.31"/><stop offset="0.62" stop-color="#b3d3de" stop-opacity="0.25"/><stop offset="0.69" stop-color="#b3d3de" stop-opacity="0.20"/><stop offset="0.75" stop-color="#b3d3de" stop-opacity="0.16"/><stop offset="0.81" stop-color="#b3d3de" stop-opacity="0.10"/><stop offset="0.88" stop-color="#b3d3de" stop-opacity="0.05"/><stop offset="0.94" stop-color="#b3d3de" stop-opacity="0.02"/><stop offset="1.00" stop-color="#b3d3de" stop-opacity="0.00"/></linearGradient>
<rect x="987.3" y="34.2" width="15.3" height="235.2" fill="url(#g15)"/>
<linearGradient id="g16" x1="0" y1="1" x2="0" y2="0"><stop offset="0.00" stop-color="#1f46ea" stop-opacity="1.00"/><stop offset="0.06" stop-color="#1f46ea" stop-opacity="1.00"/><stop offset="0.12" stop-color="#1f46ea" stop-opacity="1.00"/><stop offset="0.19" stop-color="#1f46ea" stop-opacity="1.00"/><stop offset="0.25" stop-color="#1f46ea" stop-opacity="1.00"/><stop offset="0.31" stop-color="#1f46ea" stop-opacity="1.00"/><stop offset="0.38" stop-color="#1f46ea" stop-opacity="0.66"/><stop offset="0.44" stop-color="#1f46ea" stop-opacity="0.47"/><stop offset="0.50" stop-color="#1f46ea" stop-opacity="0.35"/><stop offset="0.56" stop-color="#1f46ea" stop-opacity="0.27"/><stop offset="0.62" stop-color="#1f46ea" stop-opacity="0.21"/><stop offset="0.69" stop-color="#1f46ea" stop-opacity="0.17"/><stop offset="0.75" stop-color="#1f46ea" stop-opacity="0.14"/><stop offset="0.81" stop-color="#1f46ea" stop-opacity="0.08"/><stop offset="0.88" stop-color="#1f46ea" stop-opacity="0.05"/><stop offset="0.94" stop-color="#1f46ea" stop-opacity="0.02"/><stop offset="1.00" stop-color="#1f46ea" stop-opacity="0.00"/></linearGradient>
<rect x="1005" y="73.9" width="15.4" height="195.5" fill="url(#g16)"/>
<linearGradient id="g17" x1="0" y1="1" x2="0" y2="0"><stop offset="0.00" stop-color="#b3d3de" stop-opacity="1.00"/><stop offset="0.06" stop-color="#b3d3de" stop-opacity="1.00"/><stop offset="0.12" stop-color="#b3d3de" stop-opacity="1.00"/><stop offset="0.19" stop-color="#b3d3de" stop-opacity="1.00"/><stop offset="0.25" stop-color="#b3d3de" stop-opacity="1.00"/><stop offset="0.31" stop-color="#b3d3de" stop-opacity="0.77"/><stop offset="0.38" stop-color="#b3d3de" stop-opacity="0.60"/><stop offset="0.44" stop-color="#b3d3de" stop-opacity="0.48"/><stop offset="0.50" stop-color="#b3d3de" stop-opacity="0.38"/><stop offset="0.56" stop-color="#b3d3de" stop-opacity="0.31"/><stop offset="0.62" stop-color="#b3d3de" stop-opacity="0.25"/><stop offset="0.69" stop-color="#b3d3de" stop-opacity="0.20"/><stop offset="0.75" stop-color="#b3d3de" stop-opacity="0.16"/><stop offset="0.81" stop-color="#b3d3de" stop-opacity="0.10"/><stop offset="0.88" stop-color="#b3d3de" stop-opacity="0.05"/><stop offset="0.94" stop-color="#b3d3de" stop-opacity="0.02"/><stop offset="1.00" stop-color="#b3d3de" stop-opacity="0.00"/></linearGradient>
<rect x="1022.5" y="34.2" width="15.4" height="235.2" fill="url(#g17)"/>
<linearGradient id="g18" x1="0" y1="1" x2="0" y2="0"><stop offset="0.00" stop-color="#1f46ea" stop-opacity="1.00"/><stop offset="0.06" stop-color="#1f46ea" stop-opacity="1.00"/><stop offset="0.12" stop-color="#1f46ea" stop-opacity="1.00"/><stop offset="0.19" stop-color="#1f46ea" stop-opacity="1.00"/><stop offset="0.25" stop-color="#1f46ea" stop-opacity="1.00"/><stop offset="0.31" stop-color="#1f46ea" stop-opacity="0.93"/><stop offset="0.38" stop-color="#1f46ea" stop-opacity="0.62"/><stop offset="0.44" stop-color="#1f46ea" stop-opacity="0.45"/><stop offset="0.50" stop-color="#1f46ea" stop-opacity="0.34"/><stop offset="0.56" stop-color="#1f46ea" stop-opacity="0.26"/><stop offset="0.62" stop-color="#1f46ea" stop-opacity="0.21"/><stop offset="0.69" stop-color="#1f46ea" stop-opacity="0.17"/><stop offset="0.75" stop-color="#1f46ea" stop-opacity="0.14"/><stop offset="0.81" stop-color="#1f46ea" stop-opacity="0.08"/><stop offset="0.88" stop-color="#1f46ea" stop-opacity="0.05"/><stop offset="0.94" stop-color="#1f46ea" stop-opacity="0.02"/><stop offset="1.00" stop-color="#1f46ea" stop-opacity="0.00"/></linearGradient>
<rect x="1041" y="98.2" width="14.4" height="171.2" fill="url(#g18)"/>
<linearGradient id="g19" x1="0" y1="1" x2="0" y2="0"><stop offset="0.00" stop-color="#b3d3de" stop-opacity="1.00"/><stop offset="0.06" stop-color="#b3d3de" stop-opacity="1.00"/><stop offset="0.12" stop-color="#b3d3de" stop-opacity="1.00"/><stop offset="0.19" stop-color="#b3d3de" stop-opacity="1.00"/><stop offset="0.25" stop-color="#b3d3de" stop-opacity="1.00"/><stop offset="0.31" stop-color="#b3d3de" stop-opacity="0.77"/><stop offset="0.38" stop-color="#b3d3de" stop-opacity="0.60"/><stop offset="0.44" stop-color="#b3d3de" stop-opacity="0.48"/><stop offset="0.50" stop-color="#b3d3de" stop-opacity="0.38"/><stop offset="0.56" stop-color="#b3d3de" stop-opacity="0.31"/><stop offset="0.62" stop-color="#b3d3de" stop-opacity="0.25"/><stop offset="0.69" stop-color="#b3d3de" stop-opacity="0.20"/><stop offset="0.75" stop-color="#b3d3de" stop-opacity="0.16"/><stop offset="0.81" stop-color="#b3d3de" stop-opacity="0.10"/><stop offset="0.88" stop-color="#b3d3de" stop-opacity="0.05"/><stop offset="0.94" stop-color="#b3d3de" stop-opacity="0.02"/><stop offset="1.00" stop-color="#b3d3de" stop-opacity="0.00"/></linearGradient>
<rect x="1057.8" y="34.2" width="15.3" height="235.2" fill="url(#g19)"/>
<linearGradient id="g20" x1="0" y1="1" x2="0" y2="0"><stop offset="0.00" stop-color="#1f46ea" stop-opacity="1.00"/><stop offset="0.06" stop-color="#1f46ea" stop-opacity="1.00"/><stop offset="0.12" stop-color="#1f46ea" stop-opacity="1.00"/><stop offset="0.19" stop-color="#1f46ea" stop-opacity="1.00"/><stop offset="0.25" stop-color="#1f46ea" stop-opacity="1.00"/><stop offset="0.31" stop-color="#1f46ea" stop-opacity="1.00"/><stop offset="0.38" stop-color="#1f46ea" stop-opacity="0.69"/><stop offset="0.44" stop-color="#1f46ea" stop-opacity="0.48"/><stop offset="0.50" stop-color="#1f46ea" stop-opacity="0.36"/><stop offset="0.56" stop-color="#1f46ea" stop-opacity="0.27"/><stop offset="0.62" stop-color="#1f46ea" stop-opacity="0.22"/><stop offset="0.69" stop-color="#1f46ea" stop-opacity="0.17"/><stop offset="0.75" stop-color="#1f46ea" stop-opacity="0.14"/><stop offset="0.81" stop-color="#1f46ea" stop-opacity="0.08"/><stop offset="0.88" stop-color="#1f46ea" stop-opacity="0.05"/><stop offset="0.94" stop-color="#1f46ea" stop-opacity="0.02"/><stop offset="1.00" stop-color="#1f46ea" stop-opacity="0.00"/></linearGradient>
<rect x="1076.2" y="137.5" width="14.7" height="131.9" fill="url(#g20)"/>
<linearGradient id="g21" x1="0" y1="1" x2="0" y2="0"><stop offset="0.00" stop-color="#b3d3de" stop-opacity="1.00"/><stop offset="0.06" stop-color="#b3d3de" stop-opacity="1.00"/><stop offset="0.12" stop-color="#b3d3de" stop-opacity="1.00"/><stop offset="0.19" stop-color="#b3d3de" stop-opacity="1.00"/><stop offset="0.25" stop-color="#b3d3de" stop-opacity="1.00"/><stop offset="0.31" stop-color="#b3d3de" stop-opacity="0.77"/><stop offset="0.38" stop-color="#b3d3de" stop-opacity="0.60"/><stop offset="0.44" stop-color="#b3d3de" stop-opacity="0.48"/><stop offset="0.50" stop-color="#b3d3de" stop-opacity="0.38"/><stop offset="0.56" stop-color="#b3d3de" stop-opacity="0.31"/><stop offset="0.62" stop-color="#b3d3de" stop-opacity="0.25"/><stop offset="0.69" stop-color="#b3d3de" stop-opacity="0.20"/><stop offset="0.75" stop-color="#b3d3de" stop-opacity="0.16"/><stop offset="0.81" stop-color="#b3d3de" stop-opacity="0.10"/><stop offset="0.88" stop-color="#b3d3de" stop-opacity="0.05"/><stop offset="0.94" stop-color="#b3d3de" stop-opacity="0.02"/><stop offset="1.00" stop-color="#b3d3de" stop-opacity="0.00"/></linearGradient>
<rect x="1093" y="34.2" width="15.4" height="235.2" fill="url(#g21)"/>
<linearGradient id="g22" x1="0" y1="1" x2="0" y2="0"><stop offset="0.00" stop-color="#1f46ea" stop-opacity="1.00"/><stop offset="0.06" stop-color="#1f46ea" stop-opacity="1.00"/><stop offset="0.12" stop-color="#1f46ea" stop-opacity="1.00"/><stop offset="0.19" stop-color="#1f46ea" stop-opacity="1.00"/><stop offset="0.25" stop-color="#1f46ea" stop-opacity="1.00"/><stop offset="0.31" stop-color="#1f46ea" stop-opacity="0.95"/><stop offset="0.38" stop-color="#1f46ea" stop-opacity="0.64"/><stop offset="0.44" stop-color="#1f46ea" stop-opacity="0.45"/><stop offset="0.50" stop-color="#1f46ea" stop-opacity="0.34"/><stop offset="0.56" stop-color="#1f46ea" stop-opacity="0.26"/><stop offset="0.62" stop-color="#1f46ea" stop-opacity="0.21"/><stop offset="0.69" stop-color="#1f46ea" stop-opacity="0.17"/><stop offset="0.75" stop-color="#1f46ea" stop-opacity="0.14"/><stop offset="0.81" stop-color="#1f46ea" stop-opacity="0.08"/><stop offset="0.88" stop-color="#1f46ea" stop-opacity="0.05"/><stop offset="0.94" stop-color="#1f46ea" stop-opacity="0.02"/><stop offset="1.00" stop-color="#1f46ea" stop-opacity="0.00"/></linearGradient>
<rect x="1111.4" y="108" width="13.8" height="161.4" fill="url(#g22)"/>
<linearGradient id="g23" x1="0" y1="1" x2="0" y2="0"><stop offset="0.00" stop-color="#b3d3de" stop-opacity="1.00"/><stop offset="0.06" stop-color="#b3d3de" stop-opacity="1.00"/><stop offset="0.12" stop-color="#b3d3de" stop-opacity="1.00"/><stop offset="0.19" stop-color="#b3d3de" stop-opacity="1.00"/><stop offset="0.25" stop-color="#b3d3de" stop-opacity="1.00"/><stop offset="0.31" stop-color="#b3d3de" stop-opacity="0.77"/><stop offset="0.38" stop-color="#b3d3de" stop-opacity="0.60"/><stop offset="0.44" stop-color="#b3d3de" stop-opacity="0.48"/><stop offset="0.50" stop-color="#b3d3de" stop-opacity="0.38"/><stop offset="0.56" stop-color="#b3d3de" stop-opacity="0.31"/><stop offset="0.62" stop-color="#b3d3de" stop-opacity="0.25"/><stop offset="0.69" stop-color="#b3d3de" stop-opacity="0.20"/><stop offset="0.75" stop-color="#b3d3de" stop-opacity="0.16"/><stop offset="0.81" stop-color="#b3d3de" stop-opacity="0.10"/><stop offset="0.88" stop-color="#b3d3de" stop-opacity="0.05"/><stop offset="0.94" stop-color="#b3d3de" stop-opacity="0.02"/><stop offset="1.00" stop-color="#b3d3de" stop-opacity="0.00"/></linearGradient>
<rect x="1128.3" y="34.2" width="13.8" height="235.2" fill="url(#g23)"/>
<linearGradient id="g24" x1="0" y1="1" x2="0" y2="0"><stop offset="0.00" stop-color="#1f46ea" stop-opacity="1.00"/><stop offset="0.06" stop-color="#1f46ea" stop-opacity="1.00"/><stop offset="0.12" stop-color="#1f46ea" stop-opacity="1.00"/><stop offset="0.19" stop-color="#1f46ea" stop-opacity="1.00"/><stop offset="0.25" stop-color="#1f46ea" stop-opacity="1.00"/><stop offset="0.31" stop-color="#1f46ea" stop-opacity="0.83"/><stop offset="0.38" stop-color="#1f46ea" stop-opacity="0.57"/><stop offset="0.44" stop-color="#1f46ea" stop-opacity="0.42"/><stop offset="0.50" stop-color="#1f46ea" stop-opacity="0.32"/><stop offset="0.56" stop-color="#1f46ea" stop-opacity="0.25"/><stop offset="0.62" stop-color="#1f46ea" stop-opacity="0.20"/><stop offset="0.69" stop-color="#1f46ea" stop-opacity="0.16"/><stop offset="0.75" stop-color="#1f46ea" stop-opacity="0.13"/><stop offset="0.81" stop-color="#1f46ea" stop-opacity="0.08"/><stop offset="0.88" stop-color="#1f46ea" stop-opacity="0.04"/><stop offset="0.94" stop-color="#1f46ea" stop-opacity="0.02"/><stop offset="1.00" stop-color="#1f46ea" stop-opacity="0.00"/></linearGradient>
<rect x="1145.2" y="112.7" width="13.2" height="156.7" fill="url(#g24)"/>
<linearGradient id="g25" x1="0" y1="1" x2="0" y2="0"><stop offset="0.00" stop-color="#b3d3de" stop-opacity="1.00"/><stop offset="0.06" stop-color="#b3d3de" stop-opacity="1.00"/><stop offset="0.12" stop-color="#b3d3de" stop-opacity="1.00"/><stop offset="0.19" stop-color="#b3d3de" stop-opacity="1.00"/><stop offset="0.25" stop-color="#b3d3de" stop-opacity="1.00"/><stop offset="0.31" stop-color="#b3d3de" stop-opacity="0.77"/><stop offset="0.38" stop-color="#b3d3de" stop-opacity="0.60"/><stop offset="0.44" stop-color="#b3d3de" stop-opacity="0.48"/><stop offset="0.50" stop-color="#b3d3de" stop-opacity="0.38"/><stop offset="0.56" stop-color="#b3d3de" stop-opacity="0.31"/><stop offset="0.62" stop-color="#b3d3de" stop-opacity="0.25"/><stop offset="0.69" stop-color="#b3d3de" stop-opacity="0.20"/><stop offset="0.75" stop-color="#b3d3de" stop-opacity="0.16"/><stop offset="0.81" stop-color="#b3d3de" stop-opacity="0.10"/><stop offset="0.88" stop-color="#b3d3de" stop-opacity="0.05"/><stop offset="0.94" stop-color="#b3d3de" stop-opacity="0.02"/><stop offset="1.00" stop-color="#b3d3de" stop-opacity="0.00"/></linearGradient>
<rect x="1160.5" y="34.2" width="13.8" height="235.2" fill="url(#g25)"/>
<linearGradient id="g26" x1="0" y1="1" x2="0" y2="0"><stop offset="0.00" stop-color="#1f46ea" stop-opacity="1.00"/><stop offset="0.06" stop-color="#1f46ea" stop-opacity="1.00"/><stop offset="0.12" stop-color="#1f46ea" stop-opacity="1.00"/><stop offset="0.19" stop-color="#1f46ea" stop-opacity="1.00"/><stop offset="0.25" stop-color="#1f46ea" stop-opacity="1.00"/><stop offset="0.31" stop-color="#1f46ea" stop-opacity="1.00"/><stop offset="0.38" stop-color="#1f46ea" stop-opacity="0.69"/><stop offset="0.44" stop-color="#1f46ea" stop-opacity="0.48"/><stop offset="0.50" stop-color="#1f46ea" stop-opacity="0.36"/><stop offset="0.56" stop-color="#1f46ea" stop-opacity="0.27"/><stop offset="0.62" stop-color="#1f46ea" stop-opacity="0.22"/><stop offset="0.69" stop-color="#1f46ea" stop-opacity="0.17"/><stop offset="0.75" stop-color="#1f46ea" stop-opacity="0.14"/><stop offset="0.81" stop-color="#1f46ea" stop-opacity="0.08"/><stop offset="0.88" stop-color="#1f46ea" stop-opacity="0.05"/><stop offset="0.94" stop-color="#1f46ea" stop-opacity="0.02"/><stop offset="1.00" stop-color="#1f46ea" stop-opacity="0.00"/></linearGradient>
<rect x="1177.4" y="49.5" width="11.6" height="219.9" fill="url(#g26)"/>
<linearGradient id="g27" x1="0" y1="1" x2="0" y2="0"><stop offset="0.00" stop-color="#b3d3de" stop-opacity="1.00"/><stop offset="0.06" stop-color="#b3d3de" stop-opacity="1.00"/><stop offset="0.12" stop-color="#b3d3de" stop-opacity="1.00"/><stop offset="0.19" stop-color="#b3d3de" stop-opacity="1.00"/><stop offset="0.25" stop-color="#b3d3de" stop-opacity="1.00"/><stop offset="0.31" stop-color="#b3d3de" stop-opacity="0.77"/><stop offset="0.38" stop-color="#b3d3de" stop-opacity="0.60"/><stop offset="0.44" stop-color="#b3d3de" stop-opacity="0.48"/><stop offset="0.50" stop-color="#b3d3de" stop-opacity="0.38"/><stop offset="0.56" stop-color="#b3d3de" stop-opacity="0.31"/><stop offset="0.62" stop-color="#b3d3de" stop-opacity="0.25"/><stop offset="0.69" stop-color="#b3d3de" stop-opacity="0.20"/><stop offset="0.75" stop-color="#b3d3de" stop-opacity="0.16"/><stop offset="0.81" stop-color="#b3d3de" stop-opacity="0.10"/><stop offset="0.88" stop-color="#b3d3de" stop-opacity="0.05"/><stop offset="0.94" stop-color="#b3d3de" stop-opacity="0.02"/><stop offset="1.00" stop-color="#b3d3de" stop-opacity="0.00"/></linearGradient>
<rect x="1192.7" y="34.2" width="12.3" height="235.2" fill="url(#g27)"/>
<linearGradient id="g28" x1="0" y1="1" x2="0" y2="0"><stop offset="0.00" stop-color="#1f46ea" stop-opacity="1.00"/><stop offset="0.06" stop-color="#1f46ea" stop-opacity="1.00"/><stop offset="0.12" stop-color="#1f46ea" stop-opacity="1.00"/><stop offset="0.19" stop-color="#1f46ea" stop-opacity="1.00"/><stop offset="0.25" stop-color="#1f46ea" stop-opacity="1.00"/><stop offset="0.31" stop-color="#1f46ea" stop-opacity="1.00"/><stop offset="0.38" stop-color="#1f46ea" stop-opacity="1.00"/><stop offset="0.44" stop-color="#1f46ea" stop-opacity="1.00"/><stop offset="0.50" stop-color="#1f46ea" stop-opacity="0.73"/><stop offset="0.56" stop-color="#1f46ea" stop-opacity="0.46"/><stop offset="0.62" stop-color="#1f46ea" stop-opacity="0.32"/><stop offset="0.69" stop-color="#1f46ea" stop-opacity="0.23"/><stop offset="0.75" stop-color="#1f46ea" stop-opacity="0.17"/><stop offset="0.81" stop-color="#1f46ea" stop-opacity="0.10"/><stop offset="0.88" stop-color="#1f46ea" stop-opacity="0.05"/><stop offset="0.94" stop-color="#1f46ea" stop-opacity="0.02"/><stop offset="1.00" stop-color="#1f46ea" stop-opacity="0.00"/></linearGradient>
<rect x="1207.4" y="157.9" width="10.4" height="111.5" fill="url(#g28)"/>
<linearGradient id="g29" x1="0" y1="1" x2="0" y2="0"><stop offset="0.00" stop-color="#b3d3de" stop-opacity="1.00"/><stop offset="0.06" stop-color="#b3d3de" stop-opacity="1.00"/><stop offset="0.12" stop-color="#b3d3de" stop-opacity="1.00"/><stop offset="0.19" stop-color="#b3d3de" stop-opacity="1.00"/><stop offset="0.25" stop-color="#b3d3de" stop-opacity="1.00"/><stop offset="0.31" stop-color="#b3d3de" stop-opacity="0.77"/><stop offset="0.38" stop-color="#b3d3de" stop-opacity="0.60"/><stop offset="0.44" stop-color="#b3d3de" stop-opacity="0.48"/><stop offset="0.50" stop-color="#b3d3de" stop-opacity="0.38"/><stop offset="0.56" stop-color="#b3d3de" stop-opacity="0.31"/><stop offset="0.62" stop-color="#b3d3de" stop-opacity="0.25"/><stop offset="0.69" stop-color="#b3d3de" stop-opacity="0.20"/><stop offset="0.75" stop-color="#b3d3de" stop-opacity="0.16"/><stop offset="0.81" stop-color="#b3d3de" stop-opacity="0.10"/><stop offset="0.88" stop-color="#b3d3de" stop-opacity="0.05"/><stop offset="0.94" stop-color="#b3d3de" stop-opacity="0.02"/><stop offset="1.00" stop-color="#b3d3de" stop-opacity="0.00"/></linearGradient>
<rect x="1220.3" y="34.2" width="12.2" height="235.2" fill="url(#g29)"/>
<linearGradient id="g30" x1="0" y1="1" x2="0" y2="0"><stop offset="0.00" stop-color="#1f46ea" stop-opacity="1.00"/><stop offset="0.06" stop-color="#1f46ea" stop-opacity="1.00"/><stop offset="0.12" stop-color="#1f46ea" stop-opacity="1.00"/><stop offset="0.19" stop-color="#1f46ea" stop-opacity="1.00"/><stop offset="0.25" stop-color="#1f46ea" stop-opacity="1.00"/><stop offset="0.31" stop-color="#1f46ea" stop-opacity="1.00"/><stop offset="0.38" stop-color="#1f46ea" stop-opacity="1.00"/><stop offset="0.44" stop-color="#1f46ea" stop-opacity="0.68"/><stop offset="0.50" stop-color="#1f46ea" stop-opacity="0.46"/><stop offset="0.56" stop-color="#1f46ea" stop-opacity="0.33"/><stop offset="0.62" stop-color="#1f46ea" stop-opacity="0.25"/><stop offset="0.69" stop-color="#1f46ea" stop-opacity="0.19"/><stop offset="0.75" stop-color="#1f46ea" stop-opacity="0.15"/><stop offset="0.81" stop-color="#1f46ea" stop-opacity="0.09"/><stop offset="0.88" stop-color="#1f46ea" stop-opacity="0.05"/><stop offset="0.94" stop-color="#1f46ea" stop-opacity="0.02"/><stop offset="1.00" stop-color="#1f46ea" stop-opacity="0.00"/></linearGradient>
<rect x="1234" y="147.7" width="8.3" height="121.7" fill="url(#g30)"/>
<linearGradient id="g31" x1="0" y1="1" x2="0" y2="0"><stop offset="0.00" stop-color="#b3d3de" stop-opacity="1.00"/><stop offset="0.06" stop-color="#b3d3de" stop-opacity="1.00"/><stop offset="0.12" stop-color="#b3d3de" stop-opacity="1.00"/><stop offset="0.19" stop-color="#b3d3de" stop-opacity="1.00"/><stop offset="0.25" stop-color="#b3d3de" stop-opacity="1.00"/><stop offset="0.31" stop-color="#b3d3de" stop-opacity="0.77"/><stop offset="0.38" stop-color="#b3d3de" stop-opacity="0.60"/><stop offset="0.44" stop-color="#b3d3de" stop-opacity="0.48"/><stop offset="0.50" stop-color="#b3d3de" stop-opacity="0.38"/><stop offset="0.56" stop-color="#b3d3de" stop-opacity="0.31"/><stop offset="0.62" stop-color="#b3d3de" stop-opacity="0.25"/><stop offset="0.69" stop-color="#b3d3de" stop-opacity="0.20"/><stop offset="0.75" stop-color="#b3d3de" stop-opacity="0.16"/><stop offset="0.81" stop-color="#b3d3de" stop-opacity="0.10"/><stop offset="0.88" stop-color="#b3d3de" stop-opacity="0.05"/><stop offset="0.94" stop-color="#b3d3de" stop-opacity="0.02"/><stop offset="1.00" stop-color="#b3d3de" stop-opacity="0.00"/></linearGradient>
<rect x="1244.8" y="34.2" width="7.7" height="235.2" fill="url(#g31)"/>
<path transform="scale(0.5)" d="M1370 400h0m0-79h0m1 18h0m0-136h0m1 241h0m1-25h0m0-217h0m1 62h0m0 38h0m0 19h0m0 54h0m0-94h0m1 79h0m0-31h0m0 18h0m0-100h0m0-38h0m1-121h0m0 307h0m0-61h0m1-193h0m0 309h0m0-74h0m0-47h0m0 10h0m1-266h0m0 76h0m0 112h0m0 66h0m1 120h0m0-202h0m1-62h0m0-60h0m0-16h0m0 208h0m0-38h0m0-91h0m0 231h0m0-188h0m0-16h0m0 187h0m0-260h0m1 77h0m0 116h0m0-84h0m0 40h0m1 77h0m0-51h0m0 118h0m0-3h0m0-106h0m0 4h0m0 74h0m0-61h0m0-14h0m0-207h0m0-18h0m0 110h0m0 200h0m1-46h0m0 21h0m0 0h0m0-188h0m0 101h0m0-199h0m0 291h0m0-176h0m1-46h0m0 28h0m0 248h0m0-126h0m0-138h0m0 220h0m0-318h0m0 22h0m0 195h0m0-162h0m0 110h0m1 41h0m0 96h0m0 2h0m0 3h0m0-83h0m0-154h0m0 44h0m0 85h0m0 99h0m0 34h0m0-337h0m0 231h0m1-25h0m0-95h0m0 168h0m0-208h0m0 136h0m0 123h0m0-125h0m1-153h0m0 90h0m0 109h0m0-49h0m0-88h0m0 191h0m0-83h0m0-84h0m0-8h0m0-26h0m1 119h0m0-17h0m0-114h0m0 55h0m0 61h0m1 40h0m0 85h0m0-102h0m0 101h0m0-40h0m1-103h0m0 119h0m0-48h0m0 93h0m0-9h0m0-128h0m0 50h0m1-165h0m0 8h0m0 153h0m0 89h0m0 34h0m1-99h0m0-8h0m0-6h0m0 35h0m0 40h0m1-94h0m0 80h0m0-79h0m1 88h0m0-118h0m0 120h0m0-67h0m1-19h0m0 55h0m0 22h0m0-193h0m0 229h0m0-122h0m1 2h0m0 81h0m0-138h0m0 106h0m1-43h0m0-189h0m0 181h0m0 25h0m0-256h0m0 162h0m0 155h0m1-161h0m0-34h0m0 194h0m0 53h0m1-169h0m0-16h0m0-85h0m0 138h0m0 82h0m0-231h0m0 289h0m0-266h0m0-93h0m0 115h0m0-78h0m1 260h0m0-9h0m0-259h0m0 224h0m0 35h0m0-235h0m1 225h0m0 18h0m0-283h0m0 4h0m0-8h0m0 251h0m0-190h0m0 37h0m0 96h0m1 41h0m0-113h0m0-13h0m0 118h0m0-205h0m0 72h0m0 92h0m0-25h0m0 168h0m0-378h0m0 264h0m0 9h0m0-230h0m0 213h0m0-6h0m0-131h0m0 240h0m0-23h0m0-114h0m0-93h0m1-40h0m0 309h0m0-280h0m0-1h0m0 28h0m0-41h0m0 92h0m0-54h0m0-33h0m1-66h0m0 286h0m0-89h0m0-115h0m0 113h0m0-165h0m0 258h0m1-116h0m0-107h0m0 216h0m0-180h0m0 171h0m0-235h0m0-67h0m1 89h0m0 219h0m0-171h0m0-33h0m0-53h0m0 126h0m0-118h0m0-14h0m0 181h0m1-51h0m0-15h0m0 85h0m0-70h0m0 143h0m0-156h0m0-38h0m0-140h0m0 127h0m1 90h0m0-48h0m0 214h0m0-150h0m1-151h0m0 257h0m0-23h0m0-245h0m0-13h0m1 246h0m0 28h0m0-71h0m0 50h0m0-99h0m1 81h0m0-38h0m0 88h0m0 6h0m0-93h0m1 91h0m0-38h0m1-177h0m0 139h0m0-102h0m0 103h0m0 47h0m1-70h0m0-108h0m0 105h0m0-49h0m0 27h0m1 13h0m0-28h0m1 110h0m0-65h0m1-57h0m0 164h0m0-183h0m0 50h0m0 49h0m0-101h0m0 211h0m0-228h0m0 138h0m1 36h0m0-32h0m0 35h0m0-127h0m0-20h0m0 117h0m0 25h0m60-60h0m0-26h0m0 78h0m1-285h0m0 287h0m0-29h0m1-167h0m0 171h0m0-112h0m1 184h0m0-74h0m0-23h0m0-37h0m0 64h0m0 45h0m1-90h0m0 18h0m0 13h0m0-80h0m0 49h0m0 74h0m0-30h0m0-88h0m1 127h0m0-225h0m0 47h0m0 153h0m0-91h0m1 40h0m0 27h0m0 29h0m0-155h0m1 68h0m0 90h0m0 85h0m0-121h0m0 37h0m0-88h0m0-27h0m1-50h0m0 115h0m0 35h0m0-37h0m0-140h0m0 201h0m0-11h0m0 36h0m1 32h0m0-213h0m0 117h0m0-55h0m0 143h0m0-91h0m1 50h0m0 8h0m0-111h0m0-68h0m0 9h0m1 137h0m0 25h0m0-62h0m0-270h0m0 220h0m0 12h0m1-73h0m0 126h0m0 21h0m0-20h0m0 50h0m1-13h0m0 42h0m0-74h0m0-95h0m0 142h0m0-184h0m0 57h0m0 4h0m1-27h0m0 37h0m0-51h0m0 160h0m0-125h0m0 26h0m0-10h0m1 14h0m0-184h0m0-59h0m0 289h0m0 28h0m0 47h0m0-54h0m0-70h0m0 9h0m1 118h0m0-32h0m1-19h0m0-52h0m0 15h0m0 20h0m0 3h0m1-99h0m0 125h0m0-11h0m0-133h0m0 52h0m0 83h0m0-38h0m1 43h0m0-25h0m0-109h0m0 90h0m0-99h0m0 95h0m0 106h0m1-46h0m0-51h0m0 87h0m0-130h0m0 77h0m0-90h0m1 54h0m0 68h0m0-139h0m0 59h0m0 28h0m0-134h0m1 148h0m0 56h0m0-243h0m0 121h0m0-49h0m0-12h0m0 37h0m1 52h0m0-56h0m0-57h0m0 126h0m1-90h0m0 55h0m0-152h0m0 195h0m0-278h0m0 31h0m0-22h0m0 136h0m1-112h0m0 273h0m0-7h0m0-101h0m0 8h0m0-68h0m0 182h0m0-14h0m0-207h0m0 52h0m0-158h0m1 165h0m0 129h0m0-68h0m0-159h0m0 130h0m0-179h0m0 156h0m0-125h0m0-42h0m1 55h0m0 11h0m0 35h0m0 43h0m0 150h0m0 94h0m0-362h0m0 277h0m0-38h0m0-112h0m0-48h0m0 193h0m0-254h0m0 226h0m1-122h0m0-75h0m0 212h0m0-140h0m0 77h0m0-161h0m0 162h0m0 74h0m0-319h0m1 299h0m0-257h0m0 187h0m0-189h0m0 77h0m0 215h0m0-243h0m0-75h0m0 206h0m0-67h0m0 185h0m0-167h0m1 21h0m0-178h0m0 51h0m0 46h0m0 30h0m0-23h0m0 12h0m0 130h0m0-88h0m0-153h0m0 85h0m0 67h0m0-33h0m0 180h0m0-117h0m1 121h0m0-82h0m0 5h0m0-142h0m0 17h0m0-70h0m0 179h0m0-129h0m1 260h0m0-175h0m0 141h0m0-326h0m0 93h0m0 156h0m0-18h0m0-26h0m0-82h0m0 112h0m0-142h0m0 4h0m1 89h0m0 152h0m0-109h0m0 114h0m0-285h0m0 81h0m0-32h0m0 205h0m0 30h0m0-198h0m1 179h0m0-249h0m0 241h0m0-14h0m0-74h0m0-231h0m0 305h0m0-34h0m0-74h0m0 1h0m0 85h0m0-226h0m0 281h0m1-280h0m0 138h0m0 190h0m0-367h0m0 331h0m0-7h0m0 8h0m0-145h0m0-69h0m0 150h0m0-282h0m0 18h0m0 211h0m0-17h0m1 132h0m0-69h0m0-221h0m0-54h0m0 346h0m0-10h0m0-17h0m0-123h0m0-80h0m0 192h0m0-27h0m0-67h0m1-174h0m0 150h0m0-184h0m0 175h0m0 206h0m0-216h0m0 156h0m0-96h0m1-11h0m0-11h0m0 108h0m0-83h0m1 80h0m0-14h0m0-27h0m1-111h0m49-37h0m0 73h0m0-3h0m1-160h0m0-38h0m0 162h0m0 7h0m2-56h0m0-45h0m0 41h0m0-99h0m0 44h0m0 69h0m0-101h0m0 34h0m0 98h0m0-15h0m0-7h0m1 121h0m0-88h0m0-102h0m0-35h0m1-19h0m0 79h0m0 76h0m0-110h0m1 118h0m0-122h0m0 364h0m0-261h0m0-137h0m0 82h0m1-59h0m0 134h0m0-50h0m0 180h0m0-113h0m0 118h0m0-242h0m1 161h0m0 27h0m1-247h0m0 70h0m0 98h0m1 29h0m0 19h0m0-55h0m0-121h0m1-35h0m0 57h0m0 244h0m0-135h0m0-39h0m1-42h0m0 235h0m0-50h0m0-189h0m0 262h0m0-303h0m0-47h0m1 24h0m0 118h0m0-129h0m0 93h0m1 79h0m0-27h0m0-91h0m0 55h0m0 60h0m1-147h0m0 29h0m0 295h0m0-344h0m0 17h0m0 117h0m0 8h0m0-112h0m1-15h0m0 95h0m1 91h0m0-192h0m0-16h0m0 65h0m0-77h0m1 81h0m0-77h0m0 60h0m0 43h0m0 148h0m1-180h0m0 27h0m0-16h0m0 72h0m1 40h0m0-134h0m0-21h0m0 32h0m1 81h0m0-60h0m1 86h0m0-30h0m0 56h0m0-28h0m0-148h0m0 80h0m0 25h0m0-119h0m0 127h0m0-112h0m0 108h0m0-88h0m0 3h0m1 136h0m0-57h0m0 86h0m0-201h0m0 86h0m0-7h0m0 118h0m0-85h0m1-135h0m0 56h0m0 157h0m0-3h0m0-4h0m0-196h0m0 72h0m1 50h0m0-107h0m0 88h0m0-13h0m0 68h0m0-152h0m1-15h0m0 196h0m0-74h0m0 147h0m0-19h0m1-202h0m0 77h0m0 66h0m0-169h0m0 247h0m0 45h0m1-139h0m0-173h0m0 396h0m0-396h0m1 30h0m0 2h0m0 14h0m0 186h0m0-91h0m1-37h0m0-93h0m0 15h0m0 3h0m1 84h0m0-44h0m0-49h0m1 155h0m0 143h0m0-261h0m0 57h0m0-60h0m0 261h0m0-309h0m0 0h0m1 314h0m0-297h0m0 247h0m0-227h0m1 24h0m0 173h0m0-172h0m0 129h0m0-195h0m0 137h0m1 33h0m0-92h0m0-38h0m0 109h0m0-69h0m0 19h0m1-5h0m0 19h0m0-44h0m0-23h0m0-18h0m0 153h0m0-7h0m0-67h0m1-91h0m0-9h0m0 111h0m0-93h0m1-10h0m0-20h0m0 252h0m0 14h0m51-79h0m0 60h0m0 35h0m1-70h0m0 60h0m0 21h0m0 83h0m0-172h0m0 100h0m0 0h0m1-100h0m0 72h0m0-141h0m0 210h0m1-34h0m0-7h0m0 80h0m0-93h0m0 20h0m0-21h0m0-39h0m1 47h0m0-86h0m0-2h0m0 98h0m0-78h0m0 49h0m1-19h0m0 97h0m0-356h0m0 299h0m1-65h0m0 147h0m0-121h0m0-33h0m0 77h0m0-8h0m0-203h0m0-20h0m0 168h0m1 87h0m0 36h0m0-120h0m0-79h0m0 25h0m0 14h0m0 117h0m0-261h0m0 122h0m0 14h0m0 106h0m0 46h0m0-156h0m1 63h0m0 55h0m0-14h0m0-5h0m0 105h0m0-177h0m0 4h0m0-127h0m0 228h0m0-160h0m0 179h0m0 6h0m0-136h0m0-21h0m0-161h0m1 216h0m0-59h0m0 98h0m0-142h0m0 57h0m0 28h0m0-167h0m0 137h0m0-81h0m1 22h0m0 66h0m0 13h0m0 175h0m0-73h0m0-138h0m0-54h0m1 174h0m0-251h0m0 273h0m0-203h0m0 28h0m0 205h0m0-349h0m0 9h0m0 249h0m0-54h0m0-132h0m0 47h0m1 150h0m0-2h0m0 1h0m0-162h0m0 51h0m0-15h0m0 104h0m0-81h0m0 132h0m0-183h0m0-49h0m1 203h0m0-45h0m0-43h0m0 173h0m0-51h0m0-264h0m0 142h0m0 18h0m0-81h0m0-112h0m0 275h0m0-155h0m1 66h0m0 131h0m0-161h0m0-90h0m0 211h0m0-272h0m0 269h0m0-187h0m1-69h0m0 110h0m0-84h0m0 183h0m0-147h0m0 84h0m0 11h0m0 197h0m0-205h0m1-15h0m0 156h0m0-179h0m0 206h0m0-331h0m0 33h0m0 127h0m0-175h0m0 137h0m0-13h0m0 213h0m0-226h0m0 104h0m1-104h0m0 189h0m0-32h0m0-160h0m0-88h0m0 217h0m0-202h0m0 176h0m0 78h0m0 61h0m0-289h0m0 182h0m0-128h0m0 40h0m0 72h0m0 61h0m0-150h0m1-5h0m0 29h0m0 163h0m0 8h0m0-165h0m0 140h0m0-230h0m0 148h0m0-72h0m0 97h0m0-107h0m0 168h0m0-140h0m0 164h0m0-50h0m1-57h0m0 120h0m0-206h0m0-106h0m0 168h0m0-49h0m0 258h0m0-74h0m0-43h0m0-90h0m0-157h0m0 234h0m0-115h0m0-16h0m1 123h0m0 31h0m0-112h0m0-50h0m0 117h0m0-78h0m0-28h0m0 34h0m0 3h0m0-145h0m1 161h0m0-99h0m0-91h0m0 234h0m1-109h0m0-57h0m0 248h0m0-88h0m0-55h0m0 112h0m0-53h0m1-88h0m0 135h0m0-156h0m0 178h0m0-26h0m1-127h0m0 70h0m0-11h0m0 69h0m0-134h0m1-14h0m0-100h0m0 165h0m0 147h0m0-186h0m1 139h0m0-93h0m0 70h0m0 14h0m0 25h0m0-77h0m1-40h0m0 154h0m0-69h0m1-52h0m0 98h0m0-78h0m0-135h0m1 99h0m0 49h0m0-90h0m0 145h0m0-117h0m0 106h0m1-12h0m0-30h0m0-28h0m0 66h0m0-82h0m0 78h0m0-138h0m0-169h0m0 229h0m1 111h0m0-114h0m0-228h0m0 321h0m0-16h0m1-196h0m0 218h0m0 8h0m0-241h0m0 240h0m0-120h0m1 94h0m0 46h0m0-85h0m0 53h0m0-42h0m0-74h0m0 104h0m0-171h0m1 162h0m0-41h0m0-133h0m0-49h0m0 178h0m0 41h0m1 0h0m0-112h0m0 117h0m0 38h0m1 80h0m0-147h0m0-14h0m0-33h0m0-23h0m0 140h0m0-108h0m0 94h0m1 14h0m0-79h0m0-174h0m0 138h0m46-5h0m0-198h0m0 248h0m0 15h0m0-2h0m1 41h0m0-34h0m0-194h0m0 206h0m0-79h0m0-40h0m1 94h0m0-163h0m0 144h0m0-136h0m0 94h0m1 59h0m0 30h0m0 10h0m0-101h0m0 118h0m0-17h0m0 80h0m1-210h0m0 154h0m0-54h0m0-87h0m1 134h0m0-176h0m0 64h0m0 93h0m0-19h0m1-47h0m0 71h0m0-35h0m0 7h0m0-196h0m1 194h0m0-93h0m0 24h0m0 115h0m0-67h0m0 76h0m1-86h0m0 37h0m0 28h0m0 0h0m1-44h0m0 12h0m0-43h0m0-17h0m1 114h0m0-104h0m0 114h0m0-112h0m0 14h0m1 32h0m0 36h0m0 9h0m0-95h0m0 96h0m0-70h0m0 67h0m0-161h0m0 112h0m0 75h0m1-206h0m0 77h0m0 106h0m0 5h0m0-46h0m0-47h0m0-83h0m1 159h0m0 23h0m0-5h0m0-111h0m0 78h0m1-57h0m0-102h0m0 104h0m0 75h0m0-59h0m0 96h0m0-81h0m1-72h0m0 165h0m0-163h0m0 129h0m1-34h0m0-115h0m0 147h0m0 11h0m0-135h0m0-51h0m0 25h0m0 115h0m0-97h0m0-42h0m1 170h0m0-17h0m0-43h0m0 122h0m0-86h0m0-141h0m0 96h0m0 70h0m0-132h0m1-7h0m0 35h0m0-150h0m0 24h0m0 127h0m0 109h0m0-48h0m0-123h0m0 71h0m1-212h0m0 38h0m0 262h0m0-216h0m0 104h0m1 99h0m0-124h0m0 161h0m0-150h0m0-65h0m0 141h0m0-48h0m0 89h0m0-173h0m0 95h0m1 73h0m0-38h0m0-187h0m0 213h0m0-173h0m0 129h0m0 72h0m0-208h0m1-47h0m0 320h0m0-32h0m0 2h0m0-41h0m0-68h0m0 8h0m0 21h0m0-54h0m0-116h0m1-97h0m0 203h0m0 5h0m0 68h0m0-8h0m0-35h0m0 108h0m0-50h0m0-152h0m0 137h0m0-69h0m0-108h0m1 224h0m0-82h0m0-227h0m0 110h0m0-31h0m0-68h0m0-24h0m0 201h0m0-61h0m0 142h0m0-94h0m0 40h0m0-14h0m1 18h0m0-212h0m0 113h0m0 185h0m0 3h0m0-133h0m0-191h0m0 255h0m0 69h0m1-213h0m0 20h0m0-89h0m0 93h0m0-31h0m0 51h0m0 162h0m0-76h0m0-168h0m0 176h0m0-77h0m0-34h0m1 48h0m0-93h0m0 90h0m0 63h0m0 16h0m0 13h0m0-102h0m0-199h0m0 157h0m0-150h0m0 208h0m0-82h0m0 140h0m0-69h0m0 70h0m1-28h0m0-59h0m0-67h0m0-29h0m0 66h0m0 98h0m0-64h0m0-171h0m0 113h0m0 119h0m0-250h0m1 221h0m0-127h0m0 96h0m0-63h0m0 7h0m0 86h0m0-143h0m0 32h0m0 16h0m0-84h0m0 307h0m0-122h0m0 13h0m0-168h0m0 16h0m0 58h0m0 185h0m0-117h0m0 68h0m0-198h0m1 106h0m0 65h0m0-160h0m0 204h0m0-21h0m0-72h0m0 46h0m0 39h0m0-185h0m0 102h0m0-95h0m0 48h0m0 15h0m0-33h0m0 53h0m0-165h0m1 166h0m0 179h0m0-310h0m0 138h0m0-51h0m0 30h0m0-42h0m0-105h0m0 122h0m0 71h0m0-138h0m1 126h0m0 123h0m0-89h0m0 106h0m0-11h0m0-7h0m0-199h0m1 153h0m0-285h0m0 2h0m0 126h0m0 193h0m0-45h0m1-91h0m0 16h0m0-5h0m0-44h0m0-147h0m0 55h0m0 274h0m0-225h0m1 185h0m0 21h0m0-265h0m0 150h0m0-50h0m1 19h0m0 192h0m0-346h0m0 23h0m0 153h0m46 168h0m1-96h0m0 33h0m0 56h0m0-6h0m0-89h0m0-108h0m1 208h0m0-40h0m0-76h0m0-122h0m0 100h0m1 115h0m0 4h0m0-56h0m0-147h0m1 30h0m0 132h0m0-85h0m0 176h0m0-25h0m0-139h0m0-49h0m0 128h0m0 38h0m1-184h0m0 217h0m0-37h0m0-46h0m0 31h0m0-107h0m1 118h0m0-16h0m0-18h0m0-23h0m0-51h0m0 35h0m0 98h0m1-26h0m0-4h0m0 1h0m0-20h0m0-43h0m0 53h0m1-137h0m0 154h0m0-149h0m0-81h0m0 115h0m0 23h0m0 82h0m0-65h0m0 14h0m0 5h0m1 23h0m0-80h0m0-28h0m0 115h0m0 31h0m0-43h0m0 25h0m0-84h0m1 88h0m0 0h0m0-115h0m0-44h0m0 118h0m1-91h0m0 137h0m0-69h0m0 19h0m0-5h0m0-37h0m0 74h0m0-20h0m1-68h0m0 1h0m0 71h0m0-10h0m0-25h0m0 40h0m0 23h0m1-82h0m0 121h0m0 50h0m0-159h0m0-40h0m1-9h0m0 116h0m0-50h0m0 43h0m1-88h0m0 146h0m0-91h0m0 27h0m1-38h0m0 70h0m1-88h0m0-31h0m0 62h0m0 19h0m0 33h0m0-213h0m1 194h0m0-17h0m0 37h0m0-90h0m0 88h0m1-142h0m0 81h0m0-212h0m0 174h0m0-124h0m0 218h0m0 40h0m0-14h0m1-77h0m0 14h0m0 47h0m0-143h0m0 155h0m0-189h0m0-60h0m0 227h0m0-228h0m0 33h0m1-105h0m0 279h0m0-90h0m0 110h0m0-167h0m0 62h0m0 92h0m0-315h0m1 103h0m0 236h0m0-206h0m0 201h0m0 44h0m0-245h0m0 168h0m0-169h0m0 34h0m0 107h0m0-243h0m0 241h0m0-160h0m1 40h0m0 135h0m0-162h0m0 202h0m0-231h0m0 262h0m0-160h0m0-136h0m0 90h0m0-116h0m1 159h0m0 6h0m0 29h0m0 130h0m0-241h0m0-3h0m0 224h0m0-342h0m0 293h0m0-155h0m0-81h0m1 7h0m0 26h0m0 115h0m0-66h0m0 37h0m0 125h0m0-121h0m0-143h0m0 222h0m0-90h0m0-120h0m0 9h0m0 175h0m0 84h0m0-150h0m0-40h0m0 202h0m0-35h0m0-169h0m0-76h0m1 158h0m0-165h0m0 7h0m0 6h0m0 182h0m0-222h0m0 226h0m0 7h0m0 8h0m0-244h0m0 119h0m0 160h0m0-197h0m1 86h0m0-177h0m0 264h0m0 66h0m0-307h0m0 184h0m0 18h0m0-136h0m0 133h0m0-159h0m0 275h0m1-267h0m0 247h0m0-12h0m0-52h0m0-126h0m0-103h0m0 272h0m0-184h0m0 40h0m0-26h0m0 177h0m0-136h0m0 17h0m0-44h0m0 197h0m0-55h0m1-39h0m0-152h0m0-5h0m0 44h0m0 145h0m0-28h0m0-34h0m0 94h0m0-157h0m0 59h0m0 14h0m0 98h0m0-191h0m0 38h0m0 44h0m0 124h0m0-82h0m0-129h0m1-5h0m0 78h0m0 32h0m0-65h0m0 66h0m0 103h0m0-140h0m0-61h0m0-104h0m0 72h0m0 140h0m0-30h0m0 104h0m0 21h0m0-69h0m0-218h0m0 289h0m1-116h0m0-135h0m0 152h0m0 127h0m0-278h0m0 28h0m0-65h0m0 370h0m0-223h0m0 1h0m0-4h0m1-25h0m0 174h0m0-26h0m0-235h0m0 246h0m0-303h0m0 48h0m0-84h0m0 71h0m0 88h0m1 183h0m0-268h0m0 176h0m0 4h0m0 71h0m0-235h0m0 146h0m1 22h0m0 31h0m0 142h0m0-50h0m0-212h0m0 114h0m0-189h0m0 42h0m0 80h0m46-162h0m0 52h0m0 67h0m0 23h0m1 39h0m0-10h0m0 29h0m0-122h0m0 143h0m0-13h0m0-41h0m1-43h0m0 80h0m0-193h0m0 217h0m0-200h0m0 3h0m0 132h0m0-149h0m1 214h0m0-236h0m0 158h0m0-130h0m0 12h0m0-46h0m0 233h0m0-50h0m1 74h0m0-148h0m0 198h0m0-169h0m0-102h0m0 174h0m0 53h0m0-161h0m0 166h0m1-128h0m0 122h0m0-290h0m0 226h0m0 70h0m0 1h0m0-216h0m0 117h0m0-204h0m0 184h0m0 154h0m0 57h0m0-379h0m0 46h0m1 213h0m0-178h0m0-10h0m0 129h0m0-36h0m0-149h0m0 44h0m0 171h0m1-71h0m0-4h0m0 174h0m0-86h0m0-163h0m0 58h0m0 11h0m0 22h0m0 37h0m0 138h0m0-68h0m0 47h0m0-143h0m1 132h0m0-79h0m0-230h0m0 254h0m0-230h0m0 131h0m0-6h0m0-61h0m0-38h0m0 168h0m1-90h0m0 111h0m0 96h0m0-310h0m0 176h0m0 94h0m0-77h0m0 14h0m0-3h0m0-86h0m0-71h0m0 119h0m0 55h0m0-188h0m0 322h0m0-225h0m0-5h0m0 121h0m1-193h0m0-46h0m0 37h0m0 145h0m0-15h0m0-58h0m0-127h0m0 20h0m0 210h0m0-5h0m0-251h0m0 102h0m0 260h0m1-357h0m0 269h0m0-157h0m0-85h0m0-22h0m0 184h0m0-47h0m0 73h0m0-139h0m0 125h0m0-6h0m0-160h0m0 225h0m0 31h0m0-293h0m0 292h0m1-12h0m0-87h0m0 113h0m0 20h0m0-240h0m0 215h0m0-113h0m0-131h0m0 11h0m0 219h0m0-242h0m0 93h0m0 74h0m0 5h0m0-230h0m0 386h0m0-360h0m1 374h0m0-74h0m0 13h0m0-100h0m0-31h0m0 24h0m0-37h0m0-45h0m0-25h0m0 87h0m0-191h0m0 164h0m0-26h0m1 86h0m0 25h0m0-121h0m0-78h0m0 161h0m0 8h0m0 92h0m0-246h0m0 220h0m0-166h0m0 61h0m1-49h0m0 178h0m0-169h0m0 154h0m0-156h0m0-18h0m0 218h0m0-307h0m0 146h0m0-41h0m0-16h0m0 61h0m0 123h0m0-323h0m1 318h0m0-78h0m0-49h0m0-42h0m0 10h0m0 138h0m0-45h0m0-92h0m1 155h0m0-48h0m0-141h0m0-44h0m0-40h0m0 15h0m0 14h0m0-73h0m0 60h0m0 121h0m0-39h0m0-58h0m0 232h0m1-10h0m0-311h0m0 233h0m0-231h0m0 121h0m0 191h0m0-2h0m0-79h0m0 108h0m0-301h0m0 262h0m1-34h0m0-91h0m0 161h0m0-185h0m0 8h0m0 186h0m0-134h0m0 24h0m0 66h0m0-21h0m0 48h0m0-224h0m1 233h0m0-127h0m0 136h0m0-97h0m0-16h0m0 1h0m0 27h0m0-130h0m0 187h0m0-111h0m1 76h0m0-157h0m0 199h0m0-212h0m0 87h0m0 130h0m0-25h0m0 18h0m2-108h0m0 90h0m0-283h0m0 117h0m0 209h0m0-345h0m0 140h0m1 1h0m0 111h0m0 79h0m0-69h0m0-102h0m0 142h0m0 49h0m0-93h0m1 38h0m0-103h0m0 46h0m0 8h0m0 70h0m0 11h0m0 13h0m0-99h0m0 32h0m1-125h0m0 178h0m0-191h0m0 171h0m0-181h0m0 185h0m1 8h0m0-34h0m0-36h0m0 81h0m0-99h0m0 98h0m0 15h0m1-44h0m0 24h0m0-116h0m0 104h0m0-61h0m0 48h0m1-117h0m0 80h0m0 0h0m0-224h0m1 295h0m0 43h0m0-224h0m0 215h0m0-127h0m0 146h0m0-194h0m1 204h0m43-168h0m0 77h0m0-118h0m0 32h0m0 121h0m0-41h0m0-198h0m0 203h0m0-191h0m1 71h0m0 36h0m0 42h0m0-69h0m0 4h0m0 26h0m0-25h0m0 104h0m1 20h0m0-23h0m0 35h0m0-118h0m0 23h0m1 86h0m0 12h0m0-12h0m0-265h0m0 205h0m0-195h0m0 75h0m0 181h0m0-3h0m1-8h0m0-101h0m0 103h0m0-75h0m0 74h0m0-110h0m0 31h0m0 8h0m1 186h0m0-285h0m0 3h0m0 67h0m0 120h0m0-28h0m0 15h0m0-31h0m1 73h0m0-106h0m0 15h0m0 106h0m0-137h0m0 56h0m0 42h0m1-159h0m0 77h0m0 10h0m0 68h0m0-41h0m1 14h0m0 16h0m0-102h0m0 96h0m0-86h0m0 49h0m1-70h0m0 104h0m0 19h0m0-167h0m0-28h0m0 52h0m0-116h0m0 262h0m0-78h0m0 62h0m1-285h0m0-18h0m0 314h0m0-80h0m0-47h0m0 28h0m1 88h0m0-29h0m0-14h0m0-89h0m0 86h0m0-247h0m0 266h0m0 27h0m0-312h0m0 236h0m0 161h0m0-307h0m0 158h0m1-76h0m0 67h0m0 72h0m0-9h0m0-261h0m0 338h0m0-168h0m0-181h0m0 100h0m0-46h0m0 219h0m0-68h0m0 86h0m1-157h0m0 106h0m0-15h0m0-106h0m0-55h0m0 62h0m0-22h0m0 265h0m0-119h0m0-86h0m0 84h0m0-235h0m0 50h0m0 115h0m0-142h0m1 162h0m0-45h0m0 37h0m0 153h0m0-267h0m0 81h0m0 99h0m0-206h0m0 100h0m1 19h0m0-135h0m0-39h0m0-35h0m0 96h0m0 94h0m0 62h0m0-10h0m0 62h0m0-162h0m0 181h0m0-295h0m0 192h0m0 95h0m0-34h0m0 11h0m0 12h0m0-120h0m0-184h0m1 280h0m0-102h0m0 85h0m0-178h0m0 54h0m0 203h0m0-230h0m0 228h0m0-311h0m1 72h0m0 238h0m0-7h0m0 6h0m0-57h0m0-181h0m0 47h0m0-98h0m0 59h0m0 118h0m0 22h0m0-200h0m0 32h0m0 94h0m0 128h0m0-56h0m0 42h0m0-76h0m0-126h0m0 140h0m1-10h0m0-208h0m0 299h0m0 66h0m0-332h0m0 73h0m0 87h0m0-54h0m0 186h0m0 16h0m0-96h0m0 18h0m0-31h0m0-111h0m1-38h0m0 224h0m0 5h0m0-20h0m0-69h0m0-170h0m0 258h0m0-46h0m0-5h0m0-95h0m0 166h0m0-72h0m0 11h0m0-174h0m1-109h0m0 208h0m0 94h0m0-190h0m0 21h0m0-21h0m0 225h0m0-284h0m0 11h0m0 103h0m0-143h0m0 97h0m0 191h0m1-189h0m0 115h0m0-142h0m0 83h0m0-66h0m0 266h0m0-279h0m0 279h0m0-152h0m1 69h0m0-178h0m0-103h0m0 201h0m0-26h0m0 135h0m0-138h0m0 69h0m0-16h0m0-214h0m0 291h0m1-132h0m0 12h0m0-73h0m0 71h0m0-70h0m0-86h0m0 299h0m0-116h0m0 89h0m1-72h0m0-81h0m0 169h0m0-96h0m0-160h0m0 152h0m0 86h0m0-86h0m1 34h0m0-46h0m0-138h0m0 262h0m0-231h0m0 105h0m0 202h0m0-68h0m0-157h0m0 116h0m0 67h0m0-20h0m1-40h0m0-257h0m0 65h0m0 119h0m0-2h0m1 68h0m0 51h0m0-9h0m0-89h0m0-29h0m0 93h0m1-23h0m0-108h0m0 140h0m0-159h0m0 141h0m1-88h0m0-18h0m0 144h0m0-202h0m0 34h0m0 69h0m0 79h0m0-55h0m0 11h0m0 50h0m0 27h0m1-18h0m0-68h0m0-10h0m0-27h0m40-188h0m0 47h0m0 38h0m0 30h0m0 18h0m0 52h0m0 57h0m0-257h0m0 183h0m0-152h0m0 95h0m0 133h0m0 29h0m1 18h0m0-49h0m0-256h0m0 96h0m0 203h0m0-94h0m0-127h0m0 77h0m0 125h0m0 9h0m0-128h0m0 68h0m1 27h0m0-52h0m0-198h0m0 302h0m0-154h0m0 65h0m0-207h0m0 245h0m0-51h0m0 30h0m0 20h0m0-71h0m1 8h0m0 40h0m0-69h0m0 89h0m0 11h0m0-279h0m0 217h0m0 60h0m0-198h0m0-33h0m0-18h0m1 290h0m0-47h0m0-154h0m0 121h0m0-36h0m0-70h0m0 1h0m0-71h0m0 252h0m0 45h0m1-99h0m0-112h0m0 66h0m0-29h0m0 116h0m0-28h0m0-165h0m0-116h0m0 184h0m0-167h0m0 202h0m0-36h0m0 56h0m0-23h0m0-228h0m0 299h0m0-109h0m1-96h0m0 246h0m0-145h0m0 25h0m0 2h0m0-40h0m0 67h0m0-114h0m0 44h0m0 66h0m0-99h0m0-98h0m1 102h0m0 122h0m0 113h0m0-336h0m0 198h0m0-228h0m0-22h0m0 352h0m0-35h0m1-115h0m0 71h0m0 77h0m0-313h0m1 147h0m0 163h0m0-145h0m0-84h0m0 80h0m0 74h0m0-103h0m1 73h0m0 85h0m0-255h0m0 215h0m0-16h0m0-29h0m0 30h0m0 124h0m0-248h0m0 48h0m0-18h0m0-40h0m1 41h0m0-102h0m0 56h0m0 224h0m0-135h0m0-168h0m0 128h0m0 97h0m0-99h0m0 141h0m0-34h0m0 46h0m0-307h0m1 168h0m0 46h0m0-68h0m0-17h0m0 39h0m0 171h0m0-84h0m0 62h0m0-58h0m1-181h0m0 110h0m0-69h0m0 161h0m0-156h0m0-56h0m0-43h0m0 7h0m0 360h0m0-336h0m0 12h0m0 305h0m1-191h0m0-15h0m0-30h0m0-60h0m0 62h0m0 157h0m0-197h0m1 132h0m0-27h0m0-10h0m0 47h0m0-163h0m0 210h0m0-67h0m0-59h0m0-181h0m0 142h0m1 83h0m0-33h0m0 72h0m0-118h0m0 7h0m0 170h0m0-135h0m0 68h0m0-209h0m0 168h0m0 106h0m1-113h0m0-1h0m0-15h0m0 11h0m0-184h0m0 130h0m0-40h0m0 117h0m0-1h0m1 114h0m0-157h0m0 46h0m0 20h0m0 115h0m0-341h0m0 143h0m0 109h0m0-179h0m0-50h0m0 290h0m1-91h0m0 27h0m0 71h0m0-268h0m0 124h0m0-153h0m0 203h0m0-64h0m0 2h0m0-181h0m1 287h0m0-23h0m0 47h0m0 2h0m0-91h0m0 45h0m1 73h0m0-89h0m0 69h0m0-83h0m0 54h0m0-232h0m1 336h0m0-65h0m0 0h0m0-189h0m0 127h0m0 64h0m0-22h0m1-16h0m0-54h0m0-55h0m0 8h0m0 57h0m0-6h0m0 190h0m0-147h0m0-43h0m0 60h0m1 52h0m0-173h0m0 136h0m0-66h0m0 79h0m0-85h0m0 67h0m0-25h0m0 15h0m0 15h0m1-4h0m0-62h0m0 98h0m0-35h0m0 12h0m0-321h0m0 200h0m0 86h0m1-80h0m0 39h0m0 73h0m0-77h0m0 94h0m0-56h0m0-43h0m0 66h0m1 20h0m0 3h0m0 0h0m0 3h0m0-216h0m0 151h0m0 35h0m0-51h0m1-78h0m0 219h0m0-120h0m0-183h0m0 78h0m0-66h0m0 202h0m0-11h0m0-45h0m0-57h0m1 79h0m0-48h0m0-44h0m0 142h0m0-278h0m0 159h0m0-9h0m0 36h0m1 106h0m0-74h0m0-276h0m0 347h0m0-171h0m0 74h0m1 104h0m0-7h0m40-56h0m0-43h0m1 14h0m0-39h0m0 51h0m0 72h0m0-61h0m1-35h0m0 64h0m0-59h0m0-17h0m0 47h0m0 37h0m0 27h0m1-55h0m0 56h0m0-274h0m0 169h0m0 76h0m0-100h0m1 26h0m0 59h0m0-55h0m0 97h0m0-115h0m0 122h0m0 14h0m1-114h0m0-19h0m0 58h0m1-8h0m0-70h0m0 29h0m0-1h0m0 46h0m0 25h0m0-42h0m0 29h0m0-139h0m1 134h0m0-192h0m0 199h0m0-31h0m0 60h0m0-60h0m1-24h0m0-102h0m0 95h0m0 80h0m0-84h0m0 50h0m0-167h0m0 198h0m0-205h0m0 84h0m1-81h0m0 135h0m0 118h0m0-73h0m0-5h0m0-58h0m0 115h0m0-111h0m0 49h0m0-34h0m0 83h0m0-95h0m1 105h0m0-100h0m0 53h0m1-2h0m0 50h0m0-38h0m0-287h0m0 294h0m1-44h0m0-19h0m0 49h0m0 43h0m0-314h0m0 311h0m0-341h0m0 322h0m0 2h0m0-175h0m1 97h0m0-166h0m0 329h0m0-129h0m0-66h0m0-45h0m0 2h0m0 61h0m0 113h0m0-43h0m1-83h0m0-3h0m0 26h0m0 60h0m0-50h0m0-147h0m0 186h0m0-4h0m0-225h0m0 149h0m0 56h0m0-54h0m0-16h0m1-84h0m0 74h0m0-151h0m0 57h0m0 258h0m0 25h0m0-141h0m0-10h0m0-46h0m0 159h0m0-181h0m0-152h0m0 303h0m0-27h0m1-92h0m0-91h0m0-17h0m0 152h0m0 95h0m0-112h0m0-87h0m0 54h0m0 15h0m0 12h0m0-49h0m0-113h0m0 155h0m0-108h0m0-38h0m1 11h0m0-33h0m0 356h0m0-223h0m0 73h0m0-46h0m0 60h0m0 87h0m0-63h0m0-231h0m0 254h0m0-176h0m1-100h0m0 100h0m0 12h0m0 35h0m0 46h0m0-44h0m0 52h0m0 146h0m0-179h0m0-86h0m0 17h0m0 114h0m0-144h0m0-75h0m0 98h0m0 138h0m0 83h0m0-303h0m0-23h0m0 103h0m0 87h0m1-67h0m0 62h0m0-47h0m0-75h0m0 41h0m0 105h0m0-4h0m0-109h0m0-72h0m0-33h0m0 341h0m0-154h0m0-1h0m1 109h0m0-166h0m0 35h0m0 40h0m0-17h0m0-151h0m0 74h0m0-75h0m0 18h0m0 91h0m0-43h0m0 256h0m1-16h0m0-345h0m0 98h0m0 219h0m0 32h0m0-18h0m0-12h0m0-57h0m0-51h0m0-192h0m0 240h0m0-203h0m0 62h0m0 214h0m0-30h0m1-279h0m0 16h0m0-17h0m0 46h0m0 254h0m0 45h0m0-226h0m0-80h0m0 30h0m0 254h0m0-156h0m0-48h0m0-20h0m1 17h0m0 3h0m0 155h0m0-101h0m0 114h0m0-239h0m0-43h0m0 373h0m0-152h0m0 0h0m0 69h0m0-29h0m1-95h0m0-121h0m0 252h0m0-25h0m0-161h0m0 118h0m0 12h0m0 73h0m0-170h0m0-19h0m0 190h0m0-108h0m0-14h0m0-1h0m1 120h0m0 2h0m0-269h0m0-72h0m0 303h0m0 44h0m0-165h0m0-65h0m0 132h0m0-185h0m0 198h0m0 88h0m1-195h0m0-77h0m0-23h0m0 229h0m0-48h0m0-46h0m0-4h0m1-37h0m0 43h0m0 122h0m0-112h0m0 0h0m0 131h0m0 7h0m0-1h0m0-158h0m1 23h0m0 97h0m0-257h0m0 42h0m0 266h0m0-80h0m0-161h0m0 120h0m0 12h0m0 75h0m0-33h0m0 26h0m1 46h0m0-55h0m0-176h0m1 206h0m0 10h0m0-323h0m0 252h0m0-110h0m0 173h0m0 12h0m0-337h0m40 186h0m0 143h0m1-130h0m0 115h0m0-123h0m0-151h0m0 288h0m0-94h0m1-119h0m0 20h0m0 100h0m0-39h0m0-104h0m0 114h0m0-16h0m0-75h0m0 19h0m0 184h0m0-78h0m1-66h0m0-137h0m0 5h0m0 84h0m0 142h0m0-39h0m0 68h0m0-103h0m1-58h0m0-16h0m0-125h0m0 135h0m0-32h0m0 6h0m0 142h0m0-80h0m0 70h0m0-5h0m0 32h0m0-30h0m0 15h0m0 63h0m0-88h0m0-107h0m0 128h0m0 46h0m1 16h0m0-52h0m0-175h0m0-64h0m0 9h0m0 296h0m0-263h0m0 103h0m0 108h0m0-91h0m1 102h0m0-95h0m0-164h0m0 312h0m0-22h0m0-43h0m0-248h0m0 187h0m0 61h0m0-124h0m1 28h0m0 79h0m0 130h0m0-315h0m0 219h0m0-213h0m0 209h0m0-162h0m0-17h0m1 183h0m0 59h0m0-41h0m0 1h0m0-233h0m0 62h0m0 173h0m0-131h0m0-43h0m1 161h0m0-106h0m0 149h0m0-113h0m0-95h0m0-112h0m0 46h0m0 221h0m0-200h0m0 88h0m0-30h0m0 177h0m1 62h0m0-204h0m0-72h0m0-64h0m0 42h0m0 171h0m0 80h0m0-307h0m0 119h0m0-140h0m0 342h0m0-314h0m0 270h0m0-1h0m0-163h0m1 68h0m0-71h0m0 216h0m0-26h0m0-111h0m0 2h0m0-12h0m0 90h0m0-129h0m0-46h0m0-105h0m1 160h0m0-173h0m0 241h0m0-54h0m0-55h0m0-32h0m0-15h0m0 151h0m0 34h0m0-269h0m1 75h0m0 90h0m0 135h0m0-26h0m0-45h0m0-108h0m0 297h0m0-286h0m0 122h0m0-14h0m0-57h0m0-26h0m0-15h0m0-46h0m0 230h0m0-130h0m0-31h0m0 44h0m1 112h0m0-157h0m0 156h0m0-138h0m0-153h0m0 281h0m0-139h0m0 109h0m0-69h0m0-111h0m0 181h0m1-282h0m0-11h0m0 152h0m0 86h0m0-110h0m0 270h0m0-378h0m0 259h0m0-134h0m0 3h0m0 192h0m0-84h0m0 53h0m0-171h0m0-9h0m0 97h0m0 85h0m0-76h0m0 76h0m1-105h0m0-142h0m0 253h0m0-28h0m0-7h0m0 15h0m0 17h0m0 80h0m0-276h0m0 184h0m0-147h0m0-54h0m0 185h0m0-47h0m0-111h0m0 104h0m0 4h0m0-118h0m1 89h0m0-196h0m0 15h0m0 249h0m0 14h0m0-288h0m0 170h0m0 186h0m0 2h0m1-265h0m0-78h0m0 195h0m0-16h0m0 100h0m0-11h0m0-174h0m0 144h0m0 78h0m0-93h0m0 121h0m0-96h0m1 25h0m0-22h0m0-67h0m0 65h0m0-229h0m0 307h0m0-85h0m0-167h0m0 119h0m0-154h0m1 168h0m0-132h0m0 69h0m0 64h0m0-102h0m0 21h0m0 181h0m0 21h0m1-308h0m0 161h0m0-198h0m0 321h0m1 15h0m0-51h0m0-12h0m0-55h0m0-58h0m0 17h0m0 120h0m0-55h0m0 6h0m1 70h0m0-64h0m0 38h0m0-19h0m0-31h0m0 95h0m0-108h0m1 90h0m0 20h0m0-15h0m0-39h0m0 41h0m0-61h0m0 8h0m0-127h0m1 135h0m0-126h0m0 72h0m0 57h0m0 60h0m0-109h0m0 57h0m0-90h0m1 26h0m0 92h0m0-129h0m0 207h0m0-150h0m0-15h0m0-65h0m0 25h0m1 103h0m0 11h0m0-235h0m0 167h0m0-138h0m0 109h0m1-156h0m0 215h0m0-14h0m0 71h0m0-37h0m0-24h0m1-74h0m0 39h0m0-22h0m1 69h0m0-121h0m0 22h0m0-179h0m0 164h0m41 103h0m0 51h0m0 30h0m0-91h0m1 53h0m0-294h0m0 263h0m0-149h0m0 158h0m0-91h0m1 93h0m0 50h0m0-137h0m0 80h0m1 43h0m0-35h0m0-201h0m0 228h0m0 38h0m0-158h0m0-7h0m0 63h0m1-98h0m0 155h0m0-146h0m0-14h0m0 71h0m0 33h0m0 176h0m0-150h0m0 55h0m1-117h0m0 0h0m0 144h0m0-279h0m0 221h0m1 43h0m0-41h0m0-82h0m0 78h0m0-18h0m0 19h0m0 43h0m0-167h0m0 171h0m0-50h0m0-51h0m1 49h0m0-1h0m0 25h0m0-67h0m1 24h0m0-68h0m0 45h0m0-8h0m0-175h0m0 185h0m0-20h0m0 103h0m0-31h0m0-120h0m0 118h0m0-249h0m1 137h0m0 104h0m0-89h0m0 116h0m0 32h0m0-124h0m1 153h0m0-82h0m0-127h0m0 108h0m0 48h0m1-304h0m0 288h0m0-154h0m0-37h0m0 128h0m0 57h0m0 35h0m0-182h0m0 60h0m1 110h0m0-7h0m0 55h0m0-334h0m0 133h0m0 175h0m1-40h0m0-1h0m0-97h0m0-95h0m0 238h0m0 9h0m0-122h0m0 87h0m0-10h0m0-311h0m0 303h0m0-78h0m0-79h0m0 252h0m0-257h0m1 190h0m0-67h0m0 40h0m0-289h0m0 154h0m0-60h0m0 185h0m0-126h0m0-153h0m0-9h0m0 117h0m1 102h0m0-215h0m0 236h0m0 73h0m0-101h0m0 127h0m0-247h0m0 11h0m0 85h0m0 0h0m0 87h0m0-19h0m0-54h0m0-67h0m0 31h0m1 229h0m0-75h0m0-26h0m0 27h0m0-179h0m0-20h0m0-144h0m0 247h0m0-157h0m0-50h0m0 257h0m0-199h0m0 112h0m0 141h0m0-308h0m0-5h0m0 32h0m0 180h0m1 93h0m0-17h0m0-113h0m0-90h0m0 17h0m0 102h0m0-1h0m0 76h0m0-78h0m0-28h0m0-183h0m0 376h0m0-187h0m0 183h0m0-274h0m0 165h0m0-88h0m0-114h0m0-83h0m1 344h0m0-268h0m0-46h0m0 208h0m0 57h0m0-81h0m0 28h0m0-77h0m0-59h0m0-52h0m0 51h0m0 196h0m0 21h0m0 7h0m0-174h0m0 140h0m1 13h0m0-143h0m0-84h0m0 40h0m0 44h0m0 116h0m0-1h0m0-128h0m0-86h0m0-26h0m0 61h0m0 85h0m0 32h0m0 99h0m0-301h0m0 36h0m0-28h0m0 166h0m0-17h0m1-59h0m0 114h0m0-18h0m0-196h0m0 188h0m0 89h0m0 46h0m0-231h0m0-73h0m0 156h0m0 134h0m0-79h0m0 83h0m0-201h0m1 201h0m0-240h0m0 214h0m0-103h0m0-204h0m0 275h0m0-97h0m0-71h0m0 236h0m0-136h0m0-150h0m0 79h0m0 14h0m0 60h0m1-31h0m0-9h0m0-9h0m0-57h0m0 137h0m0-165h0m0 233h0m0 6h0m0-133h0m0 144h0m0-272h0m0 279h0m0-253h0m0 199h0m0-251h0m0 120h0m0 197h0m0-225h0m0-39h0m0 201h0m0-209h0m1 287h0m0-183h0m0 128h0m0 53h0m0 1h0m0-180h0m0 161h0m0-254h0m1 141h0m0-74h0m0 11h0m0 130h0m0-125h0m0-103h0m0 199h0m0-183h0m0 40h0m0 128h0m0 119h0m0-162h0m0 132h0m0-91h0m1 43h0m0-54h0m0-234h0m0 219h0m0 121h0m0-32h0m0-184h0m0 223h0m0-65h0m0 62h0m0-32h0m0-59h0m1 13h0m0-10h0m0 26h0m0-270h0m0 127h0m1 200h0m0-73h0m0-11h0m0 47h0m0 21h0m0-49h0m0-75h0m0 27h0m0-114h0m0 120h0m37 83h0m0-15h0m0-75h0m0 88h0m1 5h0m0 86h0m0-204h0m0 118h0m0-32h0m0-36h0m0-30h0m0 5h0m0 103h0m0-14h0m0 18h0m1-29h0m0-3h0m0-160h0m0 113h0m0 63h0m0 22h0m0-39h0m0 36h0m0-120h0m0 19h0m1 50h0m0-232h0m0 270h0m0-101h0m0 99h0m0-11h0m0-247h0m0 285h0m0-89h0m1 30h0m0-4h0m0-11h0m0-13h0m0-61h0m0-83h0m0-64h0m0 204h0m0 105h0m0 48h0m0-95h0m0-26h0m1 57h0m0-170h0m0-11h0m0-81h0m0 224h0m0 25h0m1-67h0m0 82h0m0-23h0m0-64h0m0-49h0m0 151h0m0-230h0m0-46h0m0 266h0m0-138h0m0 124h0m0-203h0m0-100h0m0 277h0m1 19h0m0-242h0m0-82h0m0 176h0m0 25h0m0-88h0m0-107h0m0 128h0m0 2h0m0-102h0m0 243h0m0-91h0m1-93h0m0 230h0m0-226h0m0 181h0m0-211h0m0 43h0m0 157h0m0-155h0m0-100h0m0 217h0m0-211h0m1 136h0m0 56h0m0 69h0m0-219h0m0 122h0m0-117h0m0 206h0m0-66h0m0-63h0m0-7h0m0 108h0m1-25h0m0 103h0m0-59h0m0-266h0m0 16h0m0 282h0m0-51h0m0 90h0m0-276h0m0 28h0m1 69h0m0 53h0m0-63h0m0-93h0m0 181h0m0-129h0m0-24h0m0 123h0m0-62h0m0 158h0m0-112h0m0 141h0m0-257h0m0 263h0m0-310h0m0 295h0m1-98h0m0 5h0m0 132h0m0-195h0m0 72h0m0-5h0m0-2h0m0-88h0m0-149h0m0 23h0m0 327h0m0-4h0m0-37h0m0-68h0m0-190h0m1 174h0m0 53h0m0 16h0m0-75h0m0 47h0m0-44h0m0-94h0m0 288h0m0-218h0m0 53h0m0-192h0m1 190h0m0 135h0m0-233h0m0-62h0m0 134h0m0 3h0m0 133h0m0-142h0m0 84h0m1-62h0m0-17h0m0 125h0m0-62h0m0-203h0m0 39h0m0 152h0m0 3h0m0-257h0m0 184h0m1-3h0m0 132h0m0-102h0m0-53h0m0 170h0m0-303h0m0 74h0m0 39h0m0 146h0m0-182h0m0 44h0m0-69h0m0 114h0m0 153h0m0-127h0m1 80h0m0-256h0m0-8h0m0 138h0m0-188h0m0 92h0m0 105h0m0 126h0m0-150h0m0 163h0m0-309h0m0 103h0m0 206h0m0-50h0m0 59h0m1-83h0m0-200h0m0 280h0m0-81h0m0-163h0m0-96h0m0 41h0m0 281h0m0-219h0m0 220h0m0-7h0m0 15h0m0-31h0m0-66h0m0-4h0m0 50h0m0-35h0m1-180h0m0 155h0m0-8h0m0-39h0m0-110h0m0 169h0m0 61h0m0-35h0m0-69h0m0 213h0m0-238h0m0 141h0m0-118h0m0 110h0m0 31h0m0-230h0m0 21h0m1-17h0m0 265h0m0-297h0m0 79h0m0 144h0m0-161h0m0 159h0m0 21h0m0-185h0m1 224h0m0-340h0m0 288h0m0-110h0m0 212h0m0-31h0m0-42h0m0-104h0m0-144h0m1 42h0m0 174h0m0-192h0m0 200h0m0 106h0m0-144h0m0 49h0m0-85h0m0-50h0m0 195h0m0-37h0m0-12h0m1-328h0m0 373h0m0-323h0m0 287h0m0-279h0m0 352h0m1-269h0m0 116h0m0 71h0m0-129h0m0 178h0m0-153h0m0 85h0m0 19h0m0-74h0m1-236h0m0 209h0m0-49h0m0 158h0m0 71h0m1-175h0m0 116h0m0-106h0m1-51h0m0 68h0m0 39h0m0 9h0m0 37h0m0-333h0m0 248h0m0 89h0m0-7h0m0-72h0m0 63h0m1 7h0m36-136h0m1-23h0m0 137h0m0-54h0m0 96h0m0-182h0m0 171h0m0-92h0m0 14h0m1-42h0m0 55h0m0-8h0m0 48h0m0 20h0m0-14h0m0-31h0m0 54h0m0-119h0m1-19h0m0 191h0m0-105h0m0-264h0m0 304h0m0-201h0m0-108h0m0 213h0m1-47h0m0 120h0m0-60h0m0-16h0m0 86h0m0 0h0m0 48h0m0-80h0m0-26h0m1 102h0m0-198h0m0 172h0m0-38h0m0-142h0m0 195h0m0-169h0m0 28h0m0 57h0m0 28h0m1-15h0m0 35h0m0 52h0m0-38h0m0-103h0m0-63h0m0 86h0m0 61h0m0-43h0m1-3h0m0-200h0m0 113h0m0 109h0m0-91h0m0 99h0m0-245h0m0 263h0m0-21h0m0-20h0m1 87h0m0-49h0m0-270h0m0 198h0m0-91h0m0-54h0m0 233h0m0-3h0m0 6h0m1-2h0m0-182h0m0 156h0m0-185h0m0-53h0m0 219h0m0-87h0m0-77h0m0-57h0m0 47h0m0 228h0m0-6h0m0-264h0m0 200h0m1 87h0m0-158h0m0 144h0m0-193h0m0 87h0m0 59h0m1-187h0m0 94h0m0-40h0m0-55h0m0 212h0m0-70h0m0-135h0m0 74h0m1-173h0m0 292h0m0-173h0m0 116h0m0-35h0m0 151h0m0-42h0m1-242h0m0 27h0m0 283h0m0-339h0m0 250h0m0-199h0m0 102h0m0 57h0m0-36h0m0 13h0m0-113h0m1 144h0m0-19h0m0 84h0m0-23h0m0 48h0m0-235h0m0 177h0m0-269h0m0 258h0m0-51h0m0 115h0m0-232h0m0-40h0m0 260h0m0-7h0m0-9h0m1-82h0m0 82h0m0 15h0m0-170h0m0-63h0m0 215h0m0-277h0m0 53h0m0 103h0m0 61h0m0-261h0m0 184h0m0 123h0m0-266h0m0 151h0m0 116h0m1 15h0m0-123h0m0-170h0m0 176h0m0-83h0m0 91h0m0-2h0m0 95h0m0 3h0m0-252h0m0 162h0m0-231h0m0 75h0m0 330h0m0-110h0m0-291h0m0 153h0m0 148h0m0 64h0m1-56h0m0-87h0m0 98h0m0-200h0m0 41h0m0-66h0m0 160h0m0 89h0m0 51h0m0-75h0m0-202h0m0-60h0m0-6h0m0 291h0m0-20h0m0-18h0m1-296h0m0 367h0m0-143h0m0 23h0m0-102h0m0 108h0m0-83h0m0 169h0m0-124h0m0-158h0m0 131h0m0 4h0m1 15h0m0-160h0m0 316h0m0-193h0m0 147h0m0-308h0m0 357h0m0-92h0m0-147h0m0 227h0m0-51h0m0-92h0m0 35h0m0 37h0m0-131h0m1 94h0m0-131h0m0 82h0m0 84h0m0-172h0m0 201h0m0-9h0m0-172h0m0-134h0m0 82h0m0 113h0m0-31h0m0 76h0m1-244h0m0 3h0m0 126h0m0-72h0m0 249h0m0-114h0m0-92h0m0 75h0m0 132h0m0-274h0m0 191h0m0-158h0m0 153h0m0 152h0m0-281h0m1 115h0m0-43h0m0 214h0m0-131h0m0-215h0m0 164h0m0 45h0m0-99h0m0 115h0m0-146h0m0 126h0m0-44h0m0 45h0m0-78h0m0 80h0m0-130h0m0 1h0m1 165h0m0-53h0m0-38h0m0 138h0m0-263h0m0 97h0m0 33h0m0 49h0m0 19h0m0 15h0m0-153h0m0 187h0m0 53h0m0-306h0m1 120h0m0 157h0m0 0h0m0 27h0m0-63h0m0 85h0m0-376h0m0 137h0m0 192h0m0-175h0m0-74h0m0 237h0m0-89h0m0 109h0m1-97h0m0 56h0m0-41h0m0 52h0m0-54h0m0-35h0m0 41h0m0 20h0m0-29h0m0 125h0m0-106h0m0-135h0m0 76h0m0 6h0m31 157h0m0-136h0m0 27h0m0 75h0m0-66h0m0 71h0m0-141h0m0 166h0m1-111h0m0 60h0m0-18h0m0-105h0m0 149h0m0-34h0m0 4h0m0-38h0m1-86h0m0-8h0m0-9h0m0 34h0m0 82h0m0 30h0m0-106h0m1 123h0m0 26h0m0-174h0m0 229h0m0-256h0m0 3h0m0 212h0m0-112h0m1 66h0m0 4h0m0-26h0m0-49h0m0 68h0m0-214h0m0 100h0m0 150h0m0-304h0m0 141h0m1 6h0m0 84h0m0 0h0m0-48h0m0-32h0m0 58h0m0-107h0m0 14h0m0-70h0m0 27h0m0 159h0m0-78h0m1 55h0m0-182h0m0-46h0m0-10h0m0 327h0m0-139h0m0 93h0m0-248h0m0 230h0m0-45h0m0 1h0m0-65h0m0 57h0m0 52h0m0-49h0m1 101h0m0-14h0m0-222h0m0-44h0m0 37h0m0 112h0m0 115h0m1-290h0m0 151h0m0-16h0m0-6h0m0-109h0m0 191h0m0-127h0m0 85h0m0 1h0m0-92h0m0 196h0m1-36h0m0 57h0m0-219h0m0 81h0m0 130h0m0-190h0m0-4h0m0 181h0m0-118h0m0-146h0m0 38h0m0 221h0m0 2h0m0-193h0m0 146h0m0-73h0m0 12h0m0-209h0m0 107h0m0 161h0m0 84h0m0-32h0m0-196h0m0 107h0m0 152h0m1-102h0m0-68h0m0 21h0m0-97h0m0 171h0m0-244h0m0 47h0m0 134h0m0-48h0m0 192h0m0-236h0m0 198h0m0-315h0m0 187h0m0-99h0m0 72h0m0-138h0m0 192h0m1 34h0m0-34h0m0-67h0m0-159h0m0 306h0m0-18h0m0-60h0m0 62h0m0-209h0m0-78h0m0 12h0m0 91h0m0-100h0m0 309h0m0-126h0m0 107h0m0-71h0m1-83h0m0-166h0m0 194h0m0 37h0m0-41h0m0 55h0m0 96h0m0-288h0m0 138h0m0-46h0m0 140h0m0-34h0m0 112h0m0-66h0m0-215h0m0 35h0m0 135h0m0-210h0m0 31h0m0 252h0m0 20h0m0-78h0m1-246h0m0 314h0m0-186h0m0-40h0m0-87h0m0 93h0m0 95h0m0-74h0m0 194h0m0-194h0m0 34h0m0 110h0m0 10h0m0-98h0m0-75h0m0 29h0m0 21h0m0 259h0m0-260h0m0 48h0m1 14h0m0-33h0m0 89h0m0 21h0m0-49h0m0-110h0m0 33h0m0 75h0m0-221h0m0 158h0m0 126h0m0-160h0m0 237h0m0-266h0m0-4h0m0 202h0m0-211h0m0 62h0m1 90h0m0 50h0m0-149h0m0-40h0m0 155h0m0-27h0m0-192h0m0 257h0m0 16h0m0-280h0m1 294h0m0-241h0m0-5h0m0 215h0m0-93h0m0 134h0m0-326h0m0 212h0m0 28h0m0-178h0m0-5h0m0 164h0m0-45h0m0 187h0m1-123h0m0 25h0m0-146h0m0 186h0m0-189h0m0-139h0m0 237h0m1 46h0m0-62h0m0-168h0m0 72h0m0 176h0m0-4h0m0-168h0m0 98h0m0 109h0m0-147h0m1 38h0m0 4h0m0 64h0m0 27h0m0 32h0m0-29h0m0-100h0m0 106h0m0-15h0m0-257h0m0 320h0m0-283h0m1 155h0m0 1h0m0-227h0m0 227h0m0-65h0m0 105h0m1-202h0m0 55h0m0 144h0m0-36h0m0-21h0m0 58h0m0-11h0m0-32h0m0 41h0m0 2h0m0-10h0m0 29h0m0-161h0m0 214h0m0-190h0m1 35h0m0 136h0m0-194h0m0 143h0m0-27h0m0-14h0m0 55h0m0-26h0m0 41h0m0-126h0m1 156h0m0-139h0m0 29h0m0 8h0m0-177h0m0 177h0m0 24h0m0-51h0m1-120h0m0 222h0m25-286h0m0 27h0m0 23h0m0 93h0m0 6h0m0-85h0m0 34h0m0 208h0m0 4h0m0 2h0m0-163h0m0 143h0m0-257h0m0 75h0m0 46h0m0-2h0m1 3h0m0-90h0m0 108h0m0 85h0m0-54h0m0 18h0m0-262h0m0 336h0m0-237h0m0 172h0m0-115h0m0 78h0m0 90h0m0-154h0m0 119h0m0-298h0m0 232h0m1 89h0m0-154h0m0 4h0m0 118h0m0-44h0m0 111h0m0-254h0m0 59h0m0-62h0m0 156h0m0 8h0m0-81h0m0-180h0m0 267h0m0-150h0m0 54h0m0 173h0m0-217h0m0-103h0m0 249h0m0 16h0m0 46h0m0-61h0m1-242h0m0 362h0m0-285h0m0 135h0m0-164h0m0 82h0m0 164h0m0-193h0m0 167h0m0 60h0m0-46h0m0 24h0m0-271h0m0-26h0m0 74h0m0 14h0m0 164h0m0 18h0m0-28h0m0-210h0m0-69h0m0 178h0m1 140h0m0-164h0m0-1h0m0-68h0m0 176h0m0-166h0m0 151h0m0 37h0m0 36h0m0-8h0m0-156h0m0 55h0m0 130h0m0-130h0m0-153h0m0-23h0m0-1h0m0 96h0m0 203h0m0-3h0m0-139h0m0 125h0m0-141h0m1-173h0m0 163h0m0-161h0m0 279h0m0-89h0m0 78h0m0 80h0m0-8h0m0-72h0m0-100h0m0-11h0m0 147h0m0-126h0m0 154h0m0-237h0m0-3h0m0-53h0m0-8h0m0 284h0m0-285h0m0 211h0m0-179h0m0 133h0m0-4h0m1-15h0m0 178h0m0-217h0m0 173h0m0-58h0m0-152h0m0 163h0m0-193h0m0 213h0m0-47h0m0-94h0m0 81h0m0-205h0m0 262h0m0-39h0m0 98h0m0-172h0m0 63h0m0-39h0m0-28h0m0 63h0m1-69h0m0-94h0m0 143h0m0-203h0m0 234h0m0 64h0m0-78h0m0-59h0m0-86h0m0-31h0m0 227h0m0-211h0m0-29h0m0 208h0m0 56h0m0-207h0m0 19h0m0 131h0m0 77h0m0-213h0m0 21h0m0 38h0m0-88h0m0 44h0m1 160h0m0 42h0m0-325h0m0 305h0m0-245h0m0 241h0m0-197h0m0 85h0m0 159h0m0-154h0m0 101h0m0 24h0m0-67h0m0 29h0m0 22h0m0-281h0m0 143h0m0-80h0m0 222h0m0-86h0m0 88h0m0-187h0m0-117h0m0 310h0m0-44h0m1 135h0m0-207h0m0 140h0m0-49h0m0-194h0m0 205h0m0-305h0m0 10h0m0 199h0m0 64h0m0-228h0m0 234h0m0-9h0m0-108h0m0 106h0m0 40h0m0 38h0m0-44h0m0 37h0m0-36h0m0-37h0m0-149h0m0 199h0m0-103h0m0 29h0m0 101h0m1-94h0m0 43h0m0-14h0m0-87h0m0-128h0m0-25h0m0 119h0m0 175h0m0-77h0m0 39h0m0 35h0m0-95h0m0 53h0m0-19h0m0-25h0m0-89h0m1 103h0m0 8h0m0 44h0m0-99h0m0 44h0m0-37h0m0-60h0m0 174h0m0-105h0m0-79h0m0 97h0m0-100h0m0 72h0m1 12h0m0 142h0m0-144h0m0 121h0m0-22h0m0-130h0m0 13h0m0-3h0m0 129h0m0-253h0m0 234h0m0 14h0m0-141h0m0 34h0m0-128h0m1 246h0m0-289h0m0 219h0m0-7h0m0-57h0m0 99h0m0-127h0m0-123h0m0 145h0m0 101h0m0-97h0m0 73h0m0 46h0m0-60h0m1-23h0m0 71h0m0-2h0m0-256h0m0 217h0m0-5h0m0-95h0m0 20h0m0 98h0m0-193h0m1 97h0m0 150h0m0-34h0m0-62h0m0-14h0m0 91h0m0-104h0m0 17h0m0 39h0m0-29h0m0-177h0" stroke="#b3d3de" stroke-width="2.6" stroke-linecap="square" fill="none"/>
<path transform="scale(0.5)" d="M1426 444h0m0-88h0m0 33h0m0 34h0m0-22h0m0-8h0m1-95h0m0 112h0m0 24h0m0-91h0m0 126h0m0-25h0m0-308h0m0 278h0m0-282h0m0 324h0m0-162h0m1 122h0m0 30h0m0-90h0m0 24h0m0 117h0m0-122h0m0-20h0m0 36h0m0 55h0m0-79h0m0-74h0m0 136h0m0-5h0m1 24h0m0-26h0m0 62h0m0-82h0m0-4h0m0-50h0m0-11h0m0 97h0m0-68h0m0 20h0m0 22h0m0 17h0m0 19h0m0-48h0m0-2h0m0 20h0m1-12h0m0 45h0m0-47h0m0-1h0m0-113h0m0 160h0m0-18h0m0-68h0m0-51h0m1 129h0m0-1h0m0-108h0m0 28h0m0 49h0m0-64h0m0 69h0m0 33h0m1-12h0m0 15h0m0-54h0m0-56h0m0 110h0m0-51h0m0 3h0m0-64h0m0 22h0m1-239h0m0 183h0m0 91h0m0 37h0m0 7h0m0 2h0m0-48h0m0-17h0m0 69h0m0-273h0m0 273h0m0-129h0m0-40h0m0 137h0m0-42h0m0 12h0m0-40h0m1 83h0m0 23h0m0-12h0m0-34h0m0-57h0m0 62h0m0 7h0m0-5h0m0-55h0m0 1h0m0 61h0m0 35h0m0-5h0m0-52h0m0-139h0m0 184h0m1-16h0m0-25h0m0-6h0m0-3h0m0-3h0m0 63h0m0-30h0m0-63h0m0 35h0m0 39h0m0-181h0m1 123h0m0 63h0m0 8h0m0-2h0m0-4h0m0-3h0m0 19h0m0-246h0m0 231h0m0-86h0m0 7h0m0 31h0m0-6h0m0-26h0m1 100h0m0-14h0m0-43h0m0-73h0m0 119h0m0-126h0m0 70h0m0 55h0m0-60h0m0-24h0m0 80h0m0-80h0m0-190h0m0 199h0m1 73h0m0-11h0m0-36h0m0-3h0m0-44h0m0-109h0m0 145h0m0 62h0m1-58h0m0 44h0m0 10h0m0-93h0m0 89h0m0-252h0m0 148h0m0-108h0m0 211h0m0-2h0m1 4h0m0-39h0m0 29h0m0-257h0m0 246h0m0-98h0m0 98h0m0 9h0m0-294h0m0 310h0m0-221h0m0 88h0m0 1h0m0-1h0m0-1h0m1 105h0m0-31h0m0-21h0m0 40h0m0-64h0m0 99h0m0-220h0m0-11h0m0 259h0m0-232h0m0 190h0m0 59h0m1-192h0m0 127h0m0 21h0m0-220h0m0 200h0m0-285h0m0 23h0m0 251h0m0-14h0m0-15h0m0 5h0m0-14h0m0-92h0m0-147h0m0 204h0m0-98h0m0 197h0m0 14h0m1-211h0m0 201h0m0-280h0m0 274h0m0-30h0m0 76h0m0-30h0m0-124h0m0-77h0m0 148h0m0-103h0m0-24h0m0 133h0m0 21h0m0-224h0m0 217h0m0-274h0m0 109h0m0 58h0m1 32h0m0 0h0m0 25h0m0-84h0m0 66h0m0-169h0m0 252h0m0-15h0m0 35h0m0-93h0m0 20h0m0-47h0m0 113h0m0-105h0m0 42h0m0 7h0m0 42h0m0-96h0m0 10h0m1 58h0m0 24h0m0 30h0m0-224h0m0 33h0m0 164h0m0-295h0m0 139h0m0 86h0m0 59h0m0 79h0m0-221h0m0-10h0m0 36h0m0 77h0m0-197h0m1 204h0m0 59h0m0-1h0m0-174h0m0 161h0m0-160h0m0 66h0m0 23h0m0-85h0m0 156h0m0-2h0m1 19h0m0-159h0m0 80h0m0-172h0m0 176h0m0-130h0m0 121h0m0-227h0m0 308h0m0-176h0m0-44h0m0 192h0m0-251h0m0 180h0m0 67h0m0-15h0m1 2h0m0-11h0m0-110h0m0 60h0m0-79h0m0 53h0m0 123h0m0 12h0m0-102h0m0 10h0m0-104h0m0 129h0m0 45h0m0 6h0m0 14h0m0-83h0m0 73h0m1-126h0m0-10h0m0 158h0m0-141h0m0 107h0m0 20h0m0-206h0m0 100h0m0 52h0m0 24h0m0-28h0m1-111h0m0 19h0m0-108h0m0 152h0m0 72h0m0 7h0m0-129h0m0 134h0m0-32h0m0 47h0m0-76h0m0 60h0m1-47h0m0-276h0m0 254h0m0-104h0m0 179h0m0-25h0m0-25h0m0-106h0m0 93h0m0 102h0m1-83h0m0 46h0m0-78h0m0 85h0m0-182h0m0 128h0m0-94h0m0-106h0m0 112h0m0 133h0m0-4h0m0-304h0m0 230h0m0 22h0m0 11h0m0-24h0m1-163h0m0 201h0m0-126h0m0 177h0m0-180h0m0 194h0m0-128h0m0 66h0m0 32h0m0 8h0m0-110h0m0 20h0m0 5h0m0-161h0m0 106h0m0 5h0m0 56h0m0 29h0m1-47h0m0 109h0m0-28h0m0-19h0m0-15h0m0-125h0m0 54h0m0 124h0m0-84h0m0 60h0m0 6h0m0 22h0m0-75h0m0-95h0m0 19h0m1 154h0m0-89h0m0 49h0m0-258h0m0 107h0m0 79h0m0 47h0m0 53h0m0-109h0m0 28h0m0-68h0m0 25h0m0 106h0m0-320h0m0 344h0m0-182h0m0 125h0m0-39h0m1-61h0m0 149h0m0 4h0m0 7h0m0-251h0m0 115h0m0 159h0m0-62h0m0-279h0m0-23h0m0 234h0m0-69h0m0 171h0m0-1h0m0-162h0m0 158h0m0-49h0m1 90h0m0-13h0m0-164h0m0 105h0m0-78h0m0 72h0m0 55h0m0-26h0m0-175h0m1 21h0m0 54h0m0-47h0m0 65h0m0 60h0m0-170h0m0 126h0m0 36h0m0 5h0m0-31h0m1-90h0m0 163h0m0-130h0m0-1h0m0 34h0m0 10h0m0 39h0m0 48h0m0-332h0m0 305h0m0-22h0m0 34h0m0 31h0m0-216h0m0 183h0m1-76h0m0-170h0m0 133h0m0 132h0m0-21h0m0-8h0m0-210h0m0 217h0m0 20h0m0-15h0m1-33h0m0-7h0m0 25h0m0-80h0m0 11h0m0 74h0m0-2h0m0 12h0m0 18h0m0-51h0m0 21h0m1 1h0m0 37h0m0-143h0m0 101h0m0-34h0m0-125h0m0 174h0m0-206h0m0 184h0m0 42h0m1-47h0m0 9h0m0 37h0m0-102h0m0 111h0m0-166h0m0 154h0m0-30h0m0 27h0m0-97h0m0 67h0m0 2h0m0-111h0m1 87h0m0 42h0m0-20h0m0 23h0m0-60h0m0-4h0m0 58h0m0-110h0m0 131h0m0-15h0m1-7h0m0-57h0m0-51h0m0 128h0m0-1h0m0-100h0m0 100h0m0-65h0m1 31h0m0-62h0m0 62h0m0-109h0m0 127h0m0-12h0m0-5h0m0 13h0m0 24h0m0-190h0m0 162h0m1 25h0m0-7h0m0-18h0m0-113h0m0 70h0m0 28h0m0 15h0m1-7h0m0 20h0m0-5h0m0 53h0m0-60h0m0-48h0m0 57h0m0-80h0m0-52h0m0 142h0m1-71h0m0 56h0m0 1h0m0-6h0m0-27h0m0-80h0m0 21h0m0 75h0m0 35h0m0-57h0m1 45h0m0-25h0m0-8h0m0 49h0m53-93h0m0-15h0m0 74h0m0-34h0m0 15h0m0-51h0m1-39h0m0 111h0m0-59h0m0 57h0m0 15h0m0-84h0m0 59h0m0-3h0m0-31h0m0-71h0m0 29h0m0 78h0m0-33h0m0 48h0m0-17h0m1-89h0m0 82h0m0 24h0m0-90h0m0 40h0m0 25h0m1-262h0m0 243h0m0-73h0m0-33h0m0 117h0m0-135h0m0 180h0m0-258h0m0 231h0m0-48h0m0-46h0m0 108h0m0 4h0m0-82h0m0-28h0m0 61h0m1-32h0m0 9h0m0-98h0m0 186h0m0-169h0m0 177h0m0-325h0m0 297h0m0-93h0m0-22h0m0 25h0m0 83h0m0 16h0m0-21h0m1 8h0m0-12h0m0 20h0m0-74h0m0-164h0m0 173h0m0 64h0m0-88h0m0 28h0m0 50h0m0-20h0m0-2h0m1-14h0m0-31h0m0-35h0m0 79h0m0 23h0m0 9h0m0-77h0m0 96h0m0-48h0m0 41h0m0 68h0m1-184h0m0 3h0m0 30h0m0 65h0m0-186h0m0 123h0m0 4h0m0 33h0m0-56h0m0 66h0m0-92h0m0 86h0m0-24h0m0 51h0m0-186h0m0 163h0m1-4h0m0-71h0m0 59h0m0 47h0m0-151h0m0 164h0m0-69h0m0 3h0m0 13h0m0 27h0m0 3h0m0-57h0m0-17h0m1 30h0m0-39h0m0 64h0m0-33h0m0-184h0m0 159h0m0 9h0m0 25h0m0 39h0m1-280h0m0 268h0m0-33h0m0-55h0m0-33h0m0 56h0m0-54h0m0-13h0m0 58h0m0 57h0m0 25h0m0-4h0m0-6h0m0 19h0m1-13h0m0-55h0m0-102h0m0 96h0m0-97h0m0 85h0m0-97h0m0 112h0m1-73h0m0 125h0m0-69h0m0-11h0m0-54h0m0 106h0m0-101h0m0 80h0m0-67h0m0-156h0m0 247h0m0 33h0m0-38h0m0 4h0m0 55h0m0-67h0m0-181h0m0 131h0m1 74h0m0-83h0m0 96h0m0 19h0m0 1h0m0-81h0m0-25h0m0 154h0m0-163h0m0 169h0m0-73h0m0-52h0m0 9h0m1-55h0m0-110h0m0 223h0m0-81h0m0 8h0m0-210h0m0 263h0m0 5h0m0 22h0m0-170h0m0 163h0m0-49h0m0-4h0m0-200h0m0 95h0m1 127h0m0-17h0m0 38h0m0-181h0m0 161h0m0-278h0m0 400h0m0-241h0m0 117h0m0 30h0m1-332h0m0 332h0m0 53h0m0-68h0m0-71h0m0 116h0m0-54h0m0 4h0m0-279h0m0 123h0m0 110h0m0 50h0m0-176h0m0 140h0m0 41h0m0-108h0m0-90h0m0 65h0m0-74h0m0-13h0m0 84h0m1 83h0m0 18h0m0-145h0m0 76h0m0 6h0m0 85h0m0-92h0m0-107h0m0 73h0m0-36h0m0 123h0m1-98h0m0 38h0m0-6h0m0 53h0m0-116h0m0-91h0m0 12h0m0 118h0m0 55h0m0 98h0m0-10h0m0-229h0m0 188h0m1-29h0m0 47h0m0-86h0m0-114h0m0 209h0m0-56h0m0-42h0m0 120h0m0-290h0m0 202h0m0-22h0m0 69h0m0 83h0m0-45h0m0-15h0m0-53h0m0-167h0m0 46h0m1 126h0m0 62h0m0 7h0m0-49h0m0 51h0m0-286h0m0 277h0m0-23h0m0 25h0m0-139h0m0 182h0m0-10h0m0-76h0m0 35h0m0-49h0m0 52h0m0-85h0m0-8h0m0 42h0m0-21h0m0-200h0m0 93h0m1 9h0m0 161h0m0-21h0m0-118h0m0 41h0m0 97h0m0 27h0m0-117h0m0-194h0m0 306h0m0-112h0m0 98h0m0-67h0m0 69h0m0 8h0m0-140h0m0-48h0m0 180h0m0-79h0m0 35h0m0-267h0m0 394h0m0-210h0m1 134h0m0-177h0m0 168h0m0-12h0m0 91h0m0-90h0m0 6h0m0-38h0m0 8h0m0 32h0m1-63h0m0 54h0m0-32h0m0-122h0m0 141h0m0-128h0m0 166h0m0-132h0m0 86h0m0-106h0m0 132h0m1 20h0m0-131h0m0 126h0m0 36h0m0-188h0m0-26h0m0 170h0m0-103h0m0 109h0m0-23h0m1 29h0m0-184h0m0 87h0m0-60h0m0-34h0m0 120h0m0-19h0m0-102h0m0 58h0m0-58h0m0 124h0m0-41h0m0 70h0m0-82h0m0 69h0m1-192h0m0 216h0m0-3h0m0-50h0m0-19h0m0-55h0m0 92h0m0 37h0m0 5h0m0 15h0m1 11h0m0-10h0m0-131h0m0 160h0m0-313h0m0 290h0m0-4h0m0-38h0m0-7h0m0-6h0m0-100h0m0-138h0m0 195h0m0 64h0m0 33h0m0-94h0m0 43h0m0-39h0m0-54h0m0 171h0m0-197h0m0 68h0m1-220h0m0 274h0m0-4h0m0-177h0m0 81h0m0 223h0m0-65h0m0-314h0m0 308h0m1-173h0m0 161h0m0-33h0m0 34h0m0-82h0m0-115h0m0 29h0m0 186h0m0-167h0m0 117h0m1-180h0m0 208h0m0-157h0m0 167h0m0-260h0m0 259h0m0-316h0m0 129h0m0 198h0m0-149h0m0 117h0m0-94h0m0 70h0m0 25h0m0-70h0m0 17h0m0 66h0m0 6h0m0-196h0m0-48h0m0 218h0m0-209h0m0 247h0m1 11h0m0-23h0m0-183h0m0-45h0m0 208h0m0-101h0m0 120h0m0-36h0m0 15h0m0-50h0m0 79h0m0-25h0m0-251h0m0 264h0m0-122h0m0 120h0m0-12h0m0-233h0m0 145h0m0 106h0m0-15h0m1-39h0m0-116h0m0 61h0m0 0h0m0-39h0m0 33h0m0-60h0m0 136h0m0-79h0m0 73h0m0-204h0m0 17h0m0 214h0m0-227h0m0 256h0m0-91h0m0-45h0m0-25h0m0 149h0m0 3h0m0-214h0m0 17h0m0 254h0m1-113h0m0-100h0m0 147h0m0-106h0m0 16h0m0-224h0m0 324h0m0-97h0m0-153h0m0 245h0m0 9h0m1-237h0m0 122h0m0-12h0m0 124h0m0-49h0m0-25h0m0 6h0m0 66h0m0-228h0m0 224h0m0-89h0m0 72h0m0-61h0m0-207h0m0 307h0m1-161h0m0 182h0m0-147h0m0-16h0m0-77h0m0 42h0m0 19h0m0-8h0m0-69h0m0 66h0m0 134h0m0 5h0m0 4h0m1-66h0m0-87h0m0 104h0m0-22h0m0 33h0m0-170h0m0 182h0m0-88h0m0 94h0m0 13h0m0-6h0m0 15h0m0-57h0m0 69h0m0-202h0m0 33h0m0 5h0m1 106h0m0-227h0m0 196h0m0-50h0m0 143h0m0-5h0m0-151h0m0 155h0m0-61h0m0-276h0m0 279h0m0 79h0m0-271h0m0 211h0m0-200h0m0 294h0m0-108h0m1-177h0m0 233h0m0-90h0m0 22h0m0 42h0m0-15h0m0-26h0m0-216h0m0 126h0m0 101h0m0 4h0m0 26h0m0-74h0m0-2h0m0 71h0m0-13h0m0-117h0m0-62h0m0 4h0m51 216h0m0-63h0m0 88h0m0-60h0m0-88h0m0 121h0m1 33h0m0-81h0m0 67h0m0-53h0m0 75h0m0-96h0m1 96h0m0-23h0m0-98h0m0 72h0m0-42h0m0 56h0m0-7h0m0-60h0m0 79h0m0 18h0m0-21h0m0-59h0m1 122h0m0-126h0m0-36h0m0 46h0m0 72h0m0-17h0m0-25h0m0 15h0m0 30h0m0-20h0m0-59h0m1-62h0m0 132h0m0-52h0m0-47h0m0-118h0m0 197h0m0 22h0m0-166h0m0 193h0m0-54h0m0 21h0m0-156h0m0 82h0m0 105h0m1-117h0m0 107h0m0-40h0m0 14h0m0-131h0m0 112h0m0-27h0m0-201h0m0 272h0m0-9h0m1-26h0m0-41h0m0 37h0m0-121h0m0 100h0m0 48h0m0-24h0m0 26h0m0-259h0m1 260h0m0-37h0m0 39h0m0-28h0m0-5h0m0-53h0m0 28h0m0-11h0m0-86h0m0-131h0m0 281h0m1-46h0m0 24h0m0-41h0m0 30h0m0 36h0m0-76h0m0 58h0m0-15h0m0-70h0m0 61h0m0 62h0m1-35h0m0 10h0m0-302h0m0 273h0m0-18h0m0 37h0m0-5h0m0-7h0m0 20h0m0-23h0m0-5h0m1 56h0m0-123h0m0 59h0m0 36h0m0-25h0m0 33h0m0-65h0m0-108h0m0 111h0m0 88h0m0-62h0m0-93h0m0 62h0m1 12h0m0-29h0m0 26h0m0 40h0m0-33h0m0-174h0m0 116h0m0-28h0m0-147h0m0 246h0m0-81h0m0 32h0m0 62h0m0-183h0m0 159h0m0 1h0m0 24h0m0 20h0m0 3h0m0-42h0m1-79h0m0 112h0m0-12h0m0 20h0m0-157h0m0 76h0m0 62h0m0 8h0m0-11h0m0 11h0m0-23h0m0-27h0m0-9h0m0 60h0m0-14h0m0-43h0m0 28h0m0 17h0m1-37h0m0 32h0m0-82h0m0 57h0m0-147h0m0 120h0m0 80h0m0-100h0m0 32h0m0-235h0m0 293h0m0-70h0m0 58h0m0 4h0m0-28h0m0-23h0m0-182h0m0 218h0m0 9h0m0-9h0m0-79h0m1 75h0m0-183h0m0 209h0m0-81h0m0-12h0m0-103h0m0-94h0m0 144h0m0 130h0m0 42h0m0-165h0m0-15h0m0 15h0m0 132h0m0-62h0m0 18h0m0 37h0m0-137h0m0 140h0m0-8h0m0 31h0m1-65h0m0-28h0m0 84h0m0-71h0m0-118h0m0 128h0m0 48h0m0 49h0m0-150h0m0-42h0m0 17h0m0 21h0m0-102h0m0 3h0m0 204h0m0-72h0m0-294h0m0 127h0m0 245h0m1-79h0m0 80h0m0-100h0m0 41h0m0-83h0m0 150h0m0-84h0m0-68h0m0 20h0m0 92h0m0-24h0m0 11h0m0-31h0m0-84h0m0-70h0m1 203h0m0-43h0m0-8h0m0 69h0m0-151h0m0 138h0m0-66h0m0-186h0m0 282h0m0 2h0m0-121h0m0-108h0m0 221h0m0-10h0m0-12h0m0 34h0m0-9h0m0-45h0m1-40h0m0 14h0m0-98h0m0-10h0m0 174h0m0-34h0m0-77h0m0 122h0m0-115h0m0-3h0m0-56h0m0 72h0m0 88h0m0-195h0m0 178h0m0 28h0m0-135h0m0 70h0m1 13h0m0-55h0m0 53h0m0-68h0m0-101h0m0-17h0m0 232h0m0-152h0m0 23h0m0 103h0m0-208h0m0-8h0m0 236h0m0 4h0m1-113h0m0 20h0m0-25h0m0-122h0m0 254h0m0-142h0m0 143h0m0-311h0m0 257h0m0 12h0m0-98h0m0 48h0m0 36h0m0-128h0m0-182h0m0 199h0m0 152h0m0-143h0m0 38h0m0 111h0m1-287h0m0 283h0m0 0h0m0-148h0m0 94h0m0-128h0m0-49h0m0-43h0m0 213h0m0 77h0m0-108h0m0 54h0m0 52h0m0-167h0m0-167h0m0 274h0m0 40h0m0-22h0m0-28h0m0-228h0m1 114h0m0 171h0m0-98h0m0-135h0m0 108h0m0 115h0m0-201h0m0-45h0m0 242h0m0 25h0m0-127h0m0 118h0m0-154h0m0 82h0m0-185h0m0 74h0m0-148h0m0 69h0m0 194h0m0 4h0m0-225h0m0 243h0m0-30h0m0-17h0m1-63h0m0-101h0m0 77h0m0 146h0m0-290h0m0 195h0m0 134h0m0-12h0m0 3h0m0 4h0m1-160h0m0 154h0m0-62h0m0-7h0m0 86h0m0-53h0m0 11h0m0-29h0m0 18h0m0-77h0m0-151h0m0 94h0m0 19h0m0 33h0m0 23h0m1-227h0m0 337h0m0-195h0m0 175h0m0-158h0m0-79h0m0-31h0m0 267h0m0-359h0m0 366h0m0-301h0m0 156h0m0 142h0m0 9h0m0-77h0m1 39h0m0-13h0m0-194h0m0 238h0m0-170h0m0 154h0m0-17h0m0-199h0m0-80h0m0 293h0m0-38h0m0-80h0m0 131h0m0 7h0m0-271h0m0 113h0m0-121h0m0 134h0m0 160h0m0 32h0m0-151h0m0 81h0m0-252h0m0 38h0m0 186h0m0 39h0m0-88h0m0 24h0m1 83h0m0-67h0m0 37h0m0-85h0m0 81h0m0-40h0m0-5h0m0-39h0m0-47h0m0 174h0m0-263h0m0 35h0m0 27h0m0 177h0m0-76h0m0-74h0m0-139h0m0 316h0m0-14h0m0-289h0m0 345h0m0-92h0m1 15h0m0-33h0m0-200h0m0 245h0m0-47h0m0-234h0m0 143h0m0 95h0m0-53h0m0-206h0m0 203h0m0-225h0m0 330h0m0-279h0m0 291h0m0-248h0m0 227h0m1-5h0m0 3h0m0-43h0m0-26h0m0 90h0m0-65h0m0 57h0m0-15h0m0-304h0m0 128h0m0 138h0m0-317h0m0 323h0m0-6h0m0-7h0m0 60h0m0-39h0m1 62h0m0-60h0m0 18h0m0-30h0m0-48h0m0-28h0m0-197h0m0 165h0m0-81h0m0 120h0m0 83h0m0-8h0m0 13h0m0-33h0m0 50h0m0-66h0m1 5h0m0 62h0m0-77h0m0-44h0m0 15h0m0 111h0m0 20h0m0-68h0m0 57h0m0-1h0m1-68h0m0 44h0m0-64h0m0 35h0m0 49h0m0-24h0m0-6h0m0 52h0m0-252h0m0 202h0m0-110h0m0 148h0m1-58h0m0-45h0m0 78h0m0 6h0m0-147h0m0 208h0m0-80h0m0 41h0m0-379h0m0 331h0m0 42h0m0-2h0m0-24h0m0 23h0m0-26h0m0-151h0m0 140h0m0 44h0m1 41h0m0-91h0m0 15h0m0 32h0m0-33h0m0-95h0m0-65h0m0 200h0m0-20h0m0-26h0m0 20h0m0 27h0m0-29h0m1-46h0m0-36h0m0-67h0m0 144h0m0-26h0m0-118h0m0 125h0m0-68h0m0 43h0m0-48h0m0 54h0m1 44h0m0-3h0m0-86h0m0 141h0m0-24h0m0-63h0m0-12h0m0-22h0m0 71h0m1 56h0m0-121h0m0-68h0m0 145h0m0-136h0m48-214h0m0 36h0m0 28h0m0 53h0m0 36h0m0 10h0m0 2h0m0 5h0m0 25h0m0 6h0m0 5h0m0 5h0m0 119h0m0-74h0m0 31h0m0-72h0m0 107h0m0-57h0m0 42h0m0 26h0m0-269h0m0 37h0m0 25h0m0 179h0m0 23h0m0 10h0m0-143h0m0-72h0m0 56h0m0 160h0m0-112h0m1-87h0m0 92h0m0 15h0m0-67h0m0 102h0m0-158h0m0 148h0m0 25h0m0-241h0m0 250h0m0-70h0m0-9h0m0-125h0m0 172h0m1-88h0m0-162h0m0 337h0m0-80h0m0-282h0m0 220h0m0-37h0m0-55h0m0 41h0m0 86h0m0-23h0m0-74h0m0 202h0m0-174h0m0-22h0m0 39h0m0 38h0m0 100h0m0-125h0m0 51h0m0-102h0m0 126h0m0-36h0m0 7h0m0 76h0m1-81h0m0 60h0m0-113h0m0 74h0m0-125h0m0-60h0m0 61h0m0-18h0m0 186h0m0-92h0m0 68h0m0-56h0m0-193h0m0 103h0m0 135h0m0 19h0m0-170h0m0 115h0m0-152h0m0 259h0m0-201h0m0 146h0m1 25h0m0-64h0m0 50h0m0-142h0m0 142h0m0-14h0m0 25h0m0-148h0m0 210h0m0-59h0m0-274h0m0 149h0m0 113h0m0-54h0m0-59h0m0 108h0m0-7h0m0-114h0m0-129h0m0 44h0m0 154h0m0 71h0m0-147h0m0-125h0m0 161h0m1 27h0m0-49h0m0 95h0m0-180h0m0-2h0m0 57h0m0 113h0m0-93h0m0-26h0m0-82h0m0 74h0m0-4h0m0-52h0m0 128h0m0 1h0m0-37h0m0 12h0m0 96h0m0 6h0m0-66h0m0 37h0m1 20h0m0-154h0m0-46h0m0 212h0m0-82h0m0-45h0m0 5h0m0-177h0m0 249h0m0 49h0m0-124h0m0-1h0m1 51h0m0-68h0m0 181h0m0-98h0m0 4h0m0-181h0m0 228h0m0-211h0m0 262h0m0-212h0m0 184h0m0-127h0m0-3h0m0 25h0m0-8h0m0-3h0m0 126h0m0-89h0m0-6h0m0 3h0m0-39h0m0-87h0m0 272h0m1-173h0m0-205h0m0 105h0m0 51h0m0-4h0m0 159h0m0-64h0m0-24h0m0-101h0m0 14h0m0 91h0m0 110h0m0-45h0m0-76h0m0 80h0m0-102h0m0 103h0m0-36h0m0-118h0m1-1h0m0 115h0m0-150h0m0 162h0m0 17h0m0-64h0m0-216h0m0 37h0m0 89h0m0 87h0m0-49h0m0-44h0m0-10h0m0-27h0m0 223h0m0-310h0m0 156h0m0 87h0m0-244h0m1 352h0m0-285h0m0-9h0m0 178h0m0-63h0m0 23h0m0-30h0m0 135h0m0-191h0m0 160h0m0-102h0m0 66h0m0-36h0m0-153h0m0 293h0m0-280h0m0 213h0m0-10h0m0-31h0m0-81h0m0-107h0m1 92h0m0 188h0m0-140h0m0-39h0m0 143h0m0 54h0m0-228h0m0 114h0m0-57h0m0 88h0m0 124h0m0-164h0m0 77h0m0-4h0m0-58h0m0 73h0m0-58h0m0-225h0m1 301h0m0-1h0m0-259h0m0 226h0m0-97h0m0 0h0m0-39h0m0-11h0m0 146h0m0 107h0m0-159h0m0 5h0m0 29h0m0-117h0m0 77h0m0 50h0m0-63h0m0-4h0m0-46h0m0 163h0m0 5h0m0-135h0m0 143h0m0-110h0m0 41h0m0 2h0m1-19h0m0-156h0m0 127h0m0-106h0m0 117h0m0 59h0m0-171h0m0 152h0m0-160h0m0 190h0m0 16h0m0-201h0m0 77h0m0-6h0m0 116h0m0-126h0m0 106h0m0-235h0m0 263h0m0-80h0m0-98h0m0 58h0m1-31h0m0 130h0m0-115h0m0 117h0m0-55h0m0 55h0m0-86h0m0 128h0m0-48h0m0 34h0m1-31h0m0-10h0m0 50h0m0-115h0m0 2h0m0 83h0m0 25h0m0-89h0m0 88h0m0-79h0m0-41h0m0 6h0m1 39h0m0-42h0m0-28h0m0 48h0m0 74h0m0-269h0m0 336h0m0-48h0m0 0h0m0-111h0m0-20h0m0-39h0m1 20h0m0 188h0m0-61h0m0-28h0m0 49h0m0 2h0m0-33h0m0-102h0m0 26h0m0 1h0m0 114h0m0-4h0m0-10h0m0-208h0m1 211h0m0-160h0m0 150h0m0 27h0m0-121h0m0 84h0m0-4h0m0 7h0m0 25h0m1 6h0m0-63h0m0 15h0m0 35h0m0-32h0m0-5h0m0 57h0m0-27h0m0-64h0m0 45h0m0 72h0m0-63h0m1-47h0m0 36h0m0-130h0m0 171h0m0-29h0m0-68h0m0-95h0m1 55h0m0-169h0m0 301h0m0-94h0m0 34h0m0 43h0m0 71h0m0-54h0m0-43h0m1 34h0m0 9h0m0-165h0m0 101h0m0 46h0m0-64h0m0 55h0m0-77h0m0 15h0m0 32h0m0 32h0m0-134h0m0 157h0m0-142h0m1 162h0m0-64h0m0 27h0m0-78h0m0 66h0m0 40h0m0-18h0m0-129h0m0 16h0m0 122h0m0-6h0m1 1h0m0-33h0m0-161h0m0-116h0m0 305h0m0-96h0m0 85h0m0-306h0m0 295h0m0 5h0m0 4h0m1 32h0m0-89h0m0-76h0m0-19h0m0 60h0m0 117h0m0-156h0m0 74h0m0 26h0m0 14h0m1 33h0m0-18h0m0-160h0m0 64h0m0 117h0m0-80h0m0 5h0m0 146h0m0-195h0m0 128h0m0 4h0m1-1h0m0-74h0m0 3h0m0 14h0m0 35h0m0-300h0m0 260h0m0-33h0m0 76h0m1-136h0m0 150h0m0 5h0m0-36h0m0-198h0m0 244h0m0-83h0m1-6h0m0-23h0m0 41h0m0-31h0m0-58h0m0 164h0m0-160h0m1 54h0m0 117h0m0-86h0m0 57h0m0-268h0m0 259h0m0-113h0m0 65h0m0 84h0m0-148h0m0 63h0m0 42h0m0-3h0m1-249h0m0-66h0m0 20h0m0 195h0m0 97h0m0 37h0m0-12h0m0-64h0m0 33h0m0-229h0m0 246h0m0-84h0m0 48h0m0 28h0m0 12h0m0-17h0m0-15h0m0 41h0m1-29h0m0 1h0m0 9h0m0-87h0m0 102h0m0-106h0m0 92h0m0-39h0m0 54h0m0-171h0m0 81h0m0 70h0m0-31h0m0 78h0m0-88h0m0 46h0m1-20h0m0 9h0m0-8h0m0-72h0m0 77h0m0-62h0m0-35h0m0 113h0m0-140h0m0 29h0m0 152h0m1-99h0m0 86h0m0-78h0m0-61h0m0 58h0m0-179h0m0 244h0m0-62h0m0 10h0m0 43h0m0-37h0m0 5h0m0 37h0m1-78h0m0 45h0m0-51h0m0 56h0m0-6h0m1-154h0m0 180h0m0-31h0m0 52h0m0-11h0m0-37h0m0-34h0m0 89h0m0-10h0m0 14h0m0-31h0m0-100h0m0 116h0m0-125h0m0-14h0m0 83h0m0 53h0m0-74h0m1 10h0m0-9h0m0-11h0m47-90h0m0 147h0m0-11h0m0-64h0m0-45h0m1 107h0m0-283h0m0 282h0m0-48h0m0-47h0m0 111h0m0-9h0m0-52h0m0-11h0m1 12h0m0 31h0m0 36h0m0-120h0m0 111h0m0-7h0m0-17h0m0 15h0m0 21h0m0-142h0m0 143h0m0-6h0m0 4h0m0-138h0m0 86h0m0 22h0m0 115h0m1-160h0m0 76h0m0-110h0m0-31h0m0 123h0m0-59h0m0 102h0m0-142h0m0 12h0m0-94h0m0 106h0m1 61h0m0-78h0m0-31h0m0-15h0m0 97h0m0 40h0m0-119h0m0-151h0m0 280h0m0-93h0m0-131h0m0 109h0m0 123h0m1-22h0m0-106h0m0-151h0m0 278h0m0-14h0m0 8h0m0-8h0m0 15h0m0-50h0m0-32h0m0 32h0m0-7h0m0 56h0m0-93h0m0 51h0m1 25h0m0-26h0m0-76h0m0 95h0m0 7h0m0 39h0m0 0h0m0-161h0m0 79h0m0-22h0m0-9h0m0 48h0m0-76h0m0 186h0m1-200h0m0-101h0m0 139h0m0 79h0m0-147h0m0 171h0m0-99h0m0 117h0m0-61h0m0-125h0m0 42h0m0 171h0m0-59h0m0-79h0m0 73h0m0-227h0m0 191h0m1-210h0m0 195h0m0-27h0m0-4h0m0 19h0m0-116h0m0 210h0m0-173h0m0 80h0m0-30h0m0 74h0m0 26h0m0-154h0m0 137h0m0-13h0m1-195h0m0 204h0m0-12h0m0-49h0m0 90h0m0-48h0m0-19h0m0-21h0m0 30h0m0-237h0m0 200h0m0 131h0m0-178h0m0-1h0m0 41h0m0-150h0m0-37h0m0 259h0m0-66h0m0 48h0m0 75h0m0-98h0m0 95h0m0-148h0m1 65h0m0-223h0m0 90h0m0 200h0m0 76h0m0-142h0m0-176h0m0 182h0m0-22h0m0-24h0m0-67h0m0 85h0m0 84h0m0-179h0m0 205h0m0 13h0m1-29h0m0-133h0m0 17h0m0-16h0m0 108h0m0-156h0m0-21h0m0 186h0m0-267h0m0 75h0m0 130h0m0-41h0m0-154h0m1 182h0m0-205h0m0-18h0m0 234h0m0-163h0m0 122h0m0 120h0m0-55h0m0 6h0m0-121h0m0 81h0m0-148h0m0 246h0m0-240h0m0 6h0m0 195h0m0-197h0m0-10h0m0 147h0m0-7h0m1-154h0m0 108h0m0 15h0m0-46h0m0 60h0m0-76h0m0 171h0m0-49h0m0 4h0m0-35h0m0-61h0m0-2h0m0-8h0m0-107h0m0-19h0m0 89h0m0-59h0m0 88h0m0 161h0m0 26h0m0-36h0m0 13h0m0-64h0m0-188h0m0 235h0m0-85h0m0 47h0m0-78h0m0 26h0m0-160h0m1-18h0m0 159h0m0-61h0m0-37h0m0 89h0m0-70h0m0-33h0m0 216h0m0-133h0m0-28h0m0-79h0m0 185h0m0 59h0m0-120h0m0-171h0m0 37h0m0 203h0m0 46h0m0 14h0m0-73h0m0 69h0m0-153h0m1-97h0m0 123h0m0-20h0m0-71h0m0 4h0m0 97h0m0-103h0m0-48h0m0 150h0m0 141h0m0-136h0m0-98h0m0 212h0m0-170h0m0-109h0m0 10h0m0 226h0m0-162h0m0 199h0m0-245h0m0 63h0m0 150h0m0-186h0m0 165h0m0 61h0m1-246h0m0 175h0m0 53h0m0-74h0m0-95h0m0 17h0m0 26h0m0-118h0m0 229h0m0 11h0m0-234h0m0 4h0m0 124h0m0-17h0m0 121h0m0-253h0m0 35h0m0 162h0m0-136h0m0 83h0m0-97h0m0 128h0m0-14h0m0 121h0m1-170h0m0 133h0m0 15h0m0-45h0m0-137h0m0 32h0m0-71h0m0-27h0m0 229h0m0-64h0m0-80h0m0 12h0m0 3h0m0 126h0m0-56h0m0 80h0m0-108h0m0 73h0m1-13h0m0 25h0m0-2h0m0 39h0m0-175h0m0-3h0m0-74h0m0 79h0m0-105h0m0 273h0m0-55h0m0-203h0m0 177h0m0 82h0m0-6h0m0-80h0m0 28h0m0-235h0m0 50h0m0 202h0m0 33h0m0-272h0m0 67h0m0-72h0m0 132h0m1 103h0m0-45h0m0-14h0m0 22h0m0 59h0m0-150h0m0 118h0m0-2h0m0-232h0m0 120h0m0-68h0m0 66h0m0 52h0m0 125h0m0 8h0m0-5h0m0-159h0m0 83h0m0 29h0m0-31h0m0-185h0m0-22h0m0 173h0m1-24h0m0-130h0m0 121h0m0-1h0m0 147h0m0-152h0m0 106h0m0-25h0m0-186h0m0 261h0m0-50h0m0-44h0m1 52h0m0-181h0m0 141h0m0-125h0m0-11h0m0 210h0m0-58h0m0-41h0m0-149h0m0 258h0m0-193h0m0-78h0m0 182h0m0 40h0m0-96h0m1 120h0m0-142h0m0-110h0m0 136h0m0 138h0m0-251h0m0 262h0m0-277h0m0 189h0m0-99h0m0 142h0m0-26h0m0 94h0m0-255h0m0 257h0m0-110h0m0-55h0m0-135h0m0 218h0m0-4h0m0 41h0m0 13h0m1 3h0m0-11h0m0-15h0m0-68h0m0 85h0m0-7h0m0 11h0m0-52h0m0 16h0m0 17h0m0-29h0m0-77h0m0-23h0m0 124h0m0 47h0m0-67h0m1-223h0m0 272h0m0-128h0m0 125h0m0-24h0m0-35h0m0-79h0m0 130h0m0-74h0m0 35h0m0-3h0m0-90h0m0-70h0m0 166h0m0-129h0m0 136h0m1-162h0m0 169h0m0 18h0m0-112h0m0 5h0m0 151h0m0-117h0m0 53h0m0-55h0m0 28h0m0 1h0m0 53h0m0 7h0m0-263h0m0 242h0m0-113h0m0 77h0m0 12h0m0-74h0m1 48h0m0-123h0m0 70h0m0-157h0m0 165h0m0-34h0m0 123h0m0-1h0m0 10h0m0-72h0m0 65h0m0-50h0m0 57h0m1-14h0m0-92h0m0 120h0m0-58h0m0 55h0m0-207h0m0 130h0m0 4h0m0-50h0m0 67h0m0 41h0m0 50h0m0-62h0m0-19h0m1 28h0m0-26h0m0-90h0m0 126h0m0 14h0m0-5h0m0-40h0m0 7h0m1-45h0m0-159h0m0 186h0m0 14h0m0 19h0m0 13h0m0-136h0m0 21h0m1 19h0m0 66h0m0-253h0m0 237h0m0-194h0m0 207h0m0-262h0m0 284h0m0 37h0m0-23h0m0-20h0m0 20h0m1-69h0m0 78h0m0-71h0m0-84h0m0 76h0m0-57h0m0 78h0m0 47h0m0-5h0m0-92h0m0-124h0m0 205h0m0-37h0m0 40h0m0 57h0m1-209h0m0 175h0m0-12h0m0-113h0m0 113h0m0-45h0m0-117h0m0 73h0m0 99h0m1-112h0m0-157h0m0 266h0m0-26h0m0-45h0m0 77h0m0-22h0m0-5h0m0 3h0m0-38h0m0-11h0m0 15h0m0 13h0m0-45h0m1 7h0m0 46h0m0-18h0m0 44h0m0-46h0m0 21h0m0 12h0m0-49h0m0 69h0m0-34h0m0 12h0m46 54h0m0-86h0m0 43h0m0 38h0m0-124h0m1 119h0m0-133h0m0 126h0m0-113h0m0 9h0m0 84h0m0 24h0m0-10h0m0-43h0m0 44h0m0-82h0m0 67h0m0 13h0m1 14h0m0-86h0m0 63h0m0-22h0m0 31h0m0-80h0m0 36h0m0 56h0m0-69h0m0 43h0m0-17h0m0-24h0m0 73h0m0-101h0m0 39h0m1 81h0m0-74h0m0 57h0m0-34h0m0 13h0m0-17h0m0 11h0m0-42h0m0-84h0m0 42h0m0 168h0m0-145h0m0 19h0m1 56h0m0-52h0m0 35h0m0-226h0m0 304h0m0-51h0m0-47h0m0 44h0m0-152h0m0-89h0m0 249h0m0-28h0m0-84h0m0 22h0m0-227h0m1 300h0m0-8h0m0-81h0m0 95h0m0-4h0m0-47h0m0-97h0m0 147h0m0-100h0m1 46h0m0-96h0m0 150h0m0-125h0m0 40h0m0 53h0m0 11h0m0-176h0m0 130h0m1 44h0m0-98h0m0 148h0m0-7h0m0-82h0m0 55h0m0-9h0m0-32h0m0 46h0m0-130h0m0 116h0m0-229h0m0 261h0m0-111h0m0 107h0m0-107h0m0 61h0m1-2h0m0-31h0m0 77h0m0-138h0m0 76h0m0 66h0m0-99h0m1 19h0m0 4h0m0-32h0m0 22h0m0 98h0m0-117h0m0 3h0m0 81h0m0 8h0m0-61h0m0 64h0m1-234h0m0 142h0m0-98h0m0 41h0m0 23h0m0 126h0m0-76h0m0 6h0m0-15h0m0 40h0m0-9h0m0-90h0m0 134h0m1-28h0m0 0h0m0 8h0m0-73h0m0 110h0m0-72h0m0 44h0m0-6h0m0 10h0m0 4h0m0-89h0m1 161h0m0-306h0m0 212h0m0-225h0m0 242h0m0-73h0m0 79h0m0-81h0m0-13h0m0 81h0m0-30h0m0-36h0m0 73h0m0-57h0m0 14h0m0 58h0m1-289h0m0 179h0m0 29h0m0 30h0m0 42h0m0-165h0m0 157h0m0-13h0m0-88h0m0 139h0m0-182h0m0 78h0m0-105h0m0 198h0m1-40h0m0-232h0m0 133h0m0 79h0m0 56h0m0-13h0m0 14h0m0 5h0m0-13h0m0-1h0m0-297h0m0 192h0m0-18h0m0-59h0m0 56h0m1 137h0m0-145h0m0 74h0m0 37h0m0 17h0m0 21h0m0-6h0m0-127h0m0-59h0m0 93h0m0-171h0m0 196h0m1 60h0m0-282h0m0 224h0m0 44h0m0-68h0m0 89h0m0-126h0m0 80h0m0-13h0m0-59h0m0-47h0m0 165h0m0-235h0m0 231h0m0-217h0m0 199h0m0-48h0m1 57h0m0-2h0m0-30h0m0 44h0m0-14h0m0-17h0m0-97h0m0 168h0m0-258h0m0 121h0m0-81h0m0 115h0m0-119h0m0 161h0m0 27h0m0-32h0m0-49h0m0-2h0m0-4h0m0-103h0m0 131h0m0 20h0m0-29h0m0 1h0m1-9h0m0-75h0m0 138h0m0-128h0m0 144h0m0-218h0m0 147h0m0-20h0m0 47h0m0 13h0m0-261h0m0-6h0m0 276h0m0-19h0m0-107h0m0 116h0m0 17h0m0-73h0m0-5h0m0-224h0m0 202h0m1-62h0m0 108h0m0-1h0m0 43h0m0-46h0m0-7h0m0-79h0m0 143h0m0-277h0m0 194h0m0 59h0m0 10h0m0-1h0m0 24h0m0-50h0m0-143h0m0 181h0m0-106h0m0-7h0m0 108h0m0 15h0m0-175h0m0 226h0m1-160h0m0 102h0m0-65h0m0 25h0m0 52h0m0-107h0m0 14h0m0 111h0m0-72h0m0-210h0m0 244h0m0-11h0m0 64h0m0-238h0m0 35h0m0-40h0m0 127h0m0-122h0m0 187h0m0-176h0m0 22h0m0 158h0m0-233h0m0 241h0m0-200h0m0 222h0m0-179h0m0 141h0m0 17h0m0-120h0m0 55h0m0-249h0m1 303h0m0-231h0m0 229h0m0-185h0m0 108h0m0-42h0m0-15h0m0-89h0m0 127h0m0 52h0m0-125h0m0 171h0m0-47h0m0 28h0m0 22h0m0 16h0m0-16h0m0-144h0m1 73h0m0 14h0m0-226h0m0 286h0m0-15h0m0 69h0m0-73h0m0 15h0m0-157h0m0-97h0m0 333h0m0-279h0m0 188h0m0-36h0m0-98h0m0 151h0m0-127h0m0 0h0m0-17h0m0-30h0m0-37h0m0 92h0m0 16h0m0-108h0m0 45h0m1 171h0m0-156h0m0-33h0m0 26h0m0 110h0m0-185h0m0 231h0m0-143h0m0-141h0m0 224h0m0 0h0m0-58h0m0 8h0m0 9h0m0-215h0m0 206h0m0-106h0m0 87h0m0-23h0m0 56h0m0 111h0m0 14h0m0-236h0m0 17h0m0 202h0m1-114h0m0-199h0m0 264h0m0-75h0m0-143h0m0 199h0m0-158h0m0-53h0m0 81h0m0 66h0m0 118h0m0-6h0m0 14h0m0-133h0m0 105h0m0-13h0m0-1h0m0-99h0m0 34h0m0-95h0m0-53h0m0 252h0m0-180h0m0 107h0m0 50h0m0 22h0m0-265h0m1-33h0m0 270h0m0-156h0m0-46h0m0 240h0m0-122h0m0 112h0m0-259h0m0 200h0m0-211h0m0 278h0m0 1h0m0-170h0m0 41h0m0-82h0m0-9h0m1 124h0m0-98h0m0 61h0m0 71h0m0-136h0m0 185h0m0 8h0m0-63h0m0-88h0m0 4h0m0 6h0m0-173h0m0 152h0m0 63h0m0 75h0m0 36h0m0-99h0m0-46h0m0-66h0m0 113h0m0-27h0m0-61h0m0 157h0m0-148h0m0 166h0m0-202h0m0 203h0m0-295h0m0 259h0m0-79h0m1 33h0m0-163h0m0 62h0m0 141h0m0-104h0m0-167h0m0 179h0m0 144h0m0-176h0m0 160h0m0-149h0m0 158h0m0-58h0m0-98h0m0 91h0m0-31h0m0-134h0m0 213h0m0-50h0m0-44h0m1 102h0m0-152h0m0 79h0m0-59h0m0 97h0m0-238h0m0 314h0m0-255h0m0 204h0m0-219h0m0 164h0m0 48h0m0-15h0m0-96h0m0 32h0m0 11h0m0-54h0m0-13h0m0 113h0m0-107h0m0-73h0m0-38h0m0 262h0m0-127h0m0 27h0m1 101h0m0-7h0m0-23h0m0-110h0m0 81h0m0-80h0m0 121h0m0-24h0m0-29h0m0 30h0m0-10h0m1 1h0m0-95h0m0 166h0m0-300h0m0 277h0m0 0h0m0-73h0m0-31h0m0 80h0m0-18h0m0-122h0m0 62h0m0 102h0m0-1h0m0 3h0m1-80h0m0-34h0m0 66h0m0 34h0m0 2h0m0-138h0m0-17h0m0 63h0m0-80h0m0 158h0m0 0h0m0-6h0m0-16h0m0-65h0m0 86h0m0 2h0m0-48h0m0 95h0m1-20h0m0-28h0m0-235h0m0 309h0m0-63h0m0-119h0m0 162h0m0-71h0m0-261h0m0 237h0m0 74h0m0 13h0m0-138h0m0 119h0m0-77h0m0 66h0m0-15h0m1 23h0m44-201h0m0 198h0m0-113h0m0 93h0m0-95h0m0 56h0m0-28h0m0 13h0m0 42h0m0-52h0m0 95h0m0-32h0m0-99h0m0 181h0m1-86h0m0-27h0m0 50h0m0-58h0m0 9h0m0-46h0m0 100h0m0-3h0m0-61h0m0 68h0m0-112h0m0-11h0m0 77h0m0-34h0m0 75h0m0-55h0m0 48h0m0-54h0m0 55h0m0-148h0m0 129h0m1 28h0m0-86h0m0 33h0m0-43h0m0-27h0m0 41h0m0 24h0m0-41h0m0 160h0m0-88h0m0-62h0m0 85h0m0-95h0m0 42h0m0 66h0m0-97h0m1-66h0m0 154h0m0 3h0m0-148h0m0-57h0m0-53h0m0 226h0m0 18h0m0-203h0m1 186h0m0 45h0m0-284h0m0 169h0m0 75h0m0 27h0m0-58h0m0 50h0m0-3h0m0-141h0m0 25h0m0-109h0m0 202h0m0 15h0m0-136h0m1-75h0m0 213h0m0-9h0m0-168h0m0 184h0m0-229h0m0 175h0m0 8h0m0 33h0m0-39h0m0-127h0m0 168h0m0-233h0m0 230h0m0-111h0m0-45h0m0 174h0m0-140h0m0 48h0m0 85h0m0-246h0m0 148h0m1-103h0m0 108h0m0 71h0m0 9h0m0-125h0m0-23h0m0 144h0m0-104h0m0 66h0m0-81h0m0-138h0m0 319h0m0-337h0m0 213h0m0-58h0m0 147h0m0-146h0m0 97h0m0-190h0m0 208h0m0 5h0m0-9h0m0-299h0m1 81h0m0 181h0m0-90h0m0 92h0m0 23h0m0-160h0m0 132h0m0-11h0m0-44h0m0 119h0m0-23h0m0-188h0m0 219h0m0-234h0m0 179h0m0-30h0m0 13h0m0 31h0m0-96h0m0-192h0m0 215h0m0 35h0m0 25h0m1-113h0m0 70h0m0-179h0m0 241h0m0-155h0m0 155h0m0 42h0m0-67h0m0-40h0m0 91h0m0-13h0m0-77h0m0-51h0m0-64h0m0 201h0m0-16h0m0-44h0m0-41h0m0-93h0m0 44h0m0 54h0m0 31h0m0 64h0m0-6h0m1-135h0m0-67h0m0 26h0m0 145h0m0-135h0m0 206h0m0-65h0m0-10h0m0-118h0m0-116h0m0 75h0m0 40h0m0 105h0m0 62h0m0 12h0m0-151h0m0-51h0m0 177h0m0-9h0m0 36h0m0-259h0m0 98h0m0 133h0m0-218h0m1-34h0m0 285h0m0-4h0m0-68h0m0-181h0m0 235h0m0-11h0m0 2h0m0 11h0m0-316h0m0 313h0m0 8h0m0-7h0m0-70h0m0 9h0m1-55h0m0 127h0m0-37h0m0-118h0m0-44h0m0-133h0m0 268h0m0-97h0m0-17h0m0 54h0m0-134h0m0 319h0m0-117h0m0 76h0m0-118h0m0 66h0m0-8h0m0-177h0m0 65h0m0-74h0m0 213h0m0-23h0m0 58h0m0-236h0m0 194h0m0-246h0m0 241h0m0 12h0m0-11h0m0 55h0m0-45h0m0-107h0m0 91h0m0-162h0m0 187h0m0-84h0m1 77h0m0-350h0m0 254h0m0-142h0m0 96h0m0 76h0m0 49h0m0-265h0m0 186h0m0 58h0m0-83h0m0-44h0m0-47h0m0 75h0m0 191h0m0-16h0m0-70h0m0-63h0m0 99h0m0-58h0m1-140h0m0 131h0m0-99h0m0 101h0m0-167h0m0 217h0m0-78h0m0-35h0m0 137h0m0-138h0m0 107h0m0-72h0m0 56h0m0 36h0m0 26h0m0-30h0m0-6h0m0-56h0m0-77h0m0 100h0m0-18h0m0 72h0m1-65h0m0-4h0m0-63h0m0-59h0m0 190h0m0-50h0m0 83h0m0-234h0m0 86h0m0 63h0m0 52h0m0-2h0m0 9h0m0-15h0m0-9h0m1-106h0m0 52h0m0 3h0m0-138h0m0 123h0m0 36h0m0-81h0m0-103h0m0 215h0m0-154h0m0 96h0m0-84h0m0 204h0m0-51h0m0-12h0m0-167h0m0 178h0m0-5h0m0 69h0m0-165h0m0 69h0m0 25h0m0-74h0m0 59h0m0 71h0m0-24h0m1-30h0m0-299h0m0 62h0m0 78h0m0-64h0m0 195h0m0 30h0m0-97h0m0-46h0m0 34h0m0 18h0m0 103h0m0-5h0m0-157h0m0 155h0m0-129h0m0 136h0m0-107h0m0 105h0m0-86h0m0-160h0m0 144h0m0 110h0m0-51h0m0-42h0m1-25h0m0 101h0m0-69h0m0 60h0m0 7h0m0-190h0m0 192h0m0-1h0m0-171h0m0 168h0m0-26h0m0-2h0m0-190h0m0 187h0m0-78h0m0 50h0m0-13h0m0-52h0m0 79h0m0-24h0m0 60h0m1-22h0m0-148h0m0-42h0m0 211h0m0-93h0m0 139h0m0-118h0m0-30h0m0-99h0m0 185h0m0-117h0m0 165h0m0-13h0m0-12h0m0 18h0m0-100h0m0 70h0m0-112h0m0-30h0m1 137h0m0-100h0m0-196h0m0 183h0m0 189h0m0-124h0m0-133h0m0 205h0m0-29h0m0 46h0m0 0h0m0-57h0m0-53h0m0 73h0m0-61h0m0 72h0m0-41h0m0-31h0m1 16h0m0 15h0m0-4h0m0 57h0m0-108h0m0 97h0m0-46h0m0-20h0m0 76h0m0-7h0m0-18h0m0-140h0m0 174h0m0-186h0m0-138h0m0 252h0m0-5h0m0 1h0m0 37h0m0-138h0m0 151h0m0-38h0m0-173h0m1 38h0m0 159h0m0-112h0m0 16h0m0 77h0m0-227h0m0 6h0m0 269h0m0-7h0m0-325h0m0 257h0m0 50h0m0-217h0m0 221h0m0-74h0m0 35h0m0 25h0m1 6h0m0 32h0m0-3h0m0-9h0m0-73h0m0 30h0m0 143h0m0-293h0m0 108h0m0-55h0m0 122h0m0 7h0m0-289h0m0 259h0m1 53h0m0-54h0m0-29h0m0 81h0m0-77h0m0 56h0m0-63h0m0 42h0m0 34h0m0-150h0m0 116h0m1 41h0m0-324h0m0 157h0m0 63h0m0 108h0m0-13h0m0-106h0m0 124h0m0-1h0m0-17h0m0-1h0m0-5h0m1 19h0m0 40h0m0-172h0m0 95h0m0 30h0m0-34h0m0-13h0m0 41h0m0-84h0m0 24h0m0 51h0m0-91h0m1 41h0m0 32h0m0 66h0m0-22h0m0 20h0m0-69h0m0-105h0m0 54h0m0 10h0m0 4h0m0 34h0m0-63h0m0 120h0m0-48h0m0-34h0m0 73h0m1-89h0m0 31h0m0 41h0m0-31h0m0 3h0m0 38h0m0 5h0m0-101h0m0 100h0m0-22h0m0-28h0m0 36h0m0 20h0m0-365h0m0 331h0m0-48h0m1 17h0m0-22h0m0-16h0m0 65h0m0 39h0m0 0h0m0 41h0m0-128h0m0 82h0m0-94h0m0-27h0m1 21h0m0 59h0m0-71h0m0 85h0m0 17h0m0-2h0m0 16h0m0-105h0m0 3h0m1 62h0m0-47h0m0 23h0m0 8h0m0 26h0m0-11h0m0-14h0m0-171h0m0 175h0m0 33h0m0-41h0m42 18h0m0-215h0m0 171h0m0-7h0m0-17h0m0 55h0m0-6h0m0-61h0m1 56h0m0 62h0m0-141h0m0 82h0m0-105h0m0-9h0m0 121h0m0 101h0m0-137h0m0 64h0m0-91h0m0 5h0m0 160h0m0-131h0m0-30h0m1 27h0m0-214h0m0 52h0m0 184h0m0 16h0m0-222h0m0 222h0m0-232h0m0 207h0m0-80h0m0 115h0m0 39h0m0-224h0m1 193h0m0-81h0m0 43h0m0-109h0m0 109h0m0-41h0m0 117h0m0-205h0m0 79h0m0-103h0m0 79h0m0 13h0m0-31h0m0 68h0m0 36h0m1-23h0m0-37h0m0 80h0m0-19h0m0-37h0m0-111h0m0 6h0m0 206h0m0-291h0m0 249h0m0-10h0m0-76h0m0 96h0m1-4h0m0 0h0m0-160h0m0 36h0m0 158h0m0-119h0m0-20h0m0-17h0m0-107h0m0 57h0m0 136h0m0 41h0m0-139h0m0-42h0m0 139h0m0-218h0m0 219h0m0-190h0m0 227h0m0-232h0m0 217h0m1-234h0m0 199h0m0 12h0m0-168h0m0 204h0m0-48h0m0-17h0m0 64h0m0-71h0m0-121h0m0 113h0m0-18h0m1-34h0m0 72h0m0-223h0m0 211h0m0-108h0m0 156h0m0 83h0m0-152h0m0 45h0m0-71h0m0 43h0m0-179h0m0 222h0m0-111h0m0 64h0m0 66h0m0 17h0m0-189h0m0 150h0m1-255h0m0 24h0m0 213h0m0-57h0m0-34h0m0-64h0m0 213h0m0 16h0m0-165h0m0 115h0m0-112h0m0 100h0m0-139h0m0 126h0m0-186h0m0 231h0m0-65h0m0-82h0m1-13h0m0 35h0m0-13h0m0-92h0m0 24h0m0 180h0m0-205h0m0-25h0m0 281h0m0-238h0m0 202h0m0-95h0m0 115h0m0-130h0m0 72h0m0-12h0m0 109h0m0-216h0m0 108h0m0-8h0m0 98h0m0-175h0m0 113h0m0 40h0m0-217h0m0 107h0m1-59h0m0-93h0m0 268h0m0 0h0m0-33h0m0-156h0m0-112h0m0 227h0m0 19h0m0-90h0m0-73h0m0 127h0m0-84h0m0-122h0m0 249h0m0 56h0m0-74h0m0-123h0m0 134h0m0-73h0m0 61h0m0-108h0m0 172h0m0-204h0m0 34h0m0-79h0m0 241h0m0-118h0m1-161h0m0 228h0m0 89h0m0-52h0m0-97h0m0-91h0m0 224h0m0-301h0m0 270h0m0-143h0m0 16h0m0-49h0m0 11h0m0 176h0m0 1h0m0-208h0m0-70h0m0 273h0m0-266h0m0 114h0m0-30h0m0 35h0m0 19h0m0-148h0m0 124h0m0 73h0m0-99h0m1-10h0m0 193h0m0-126h0m0-86h0m0-13h0m0 153h0m0-15h0m0-144h0m0 133h0m0-19h0m0 86h0m0 17h0m0-14h0m0-30h0m0-6h0m0-131h0m0 130h0m0-119h0m0 137h0m0 15h0m0-21h0m0 18h0m0 26h0m0-19h0m0-84h0m0-73h0m0 25h0m0 9h0m0-35h0m1 151h0m0-239h0m0 66h0m0 231h0m0-65h0m0-19h0m0-186h0m0 151h0m0 23h0m0-57h0m0-127h0m0 147h0m0 87h0m0-181h0m0-44h0m0 229h0m0-168h0m0 147h0m0-72h0m0-92h0m0 119h0m0 70h0m0-31h0m0-142h0m0 69h0m0 106h0m0 25h0m0-307h0m1 286h0m0 74h0m0-101h0m0-14h0m0-213h0m0 144h0m0 97h0m0-172h0m0 110h0m0-112h0m0-9h0m0 216h0m0-112h0m0-146h0m0 202h0m0 105h0m0-341h0m0 113h0m1 41h0m0 54h0m0-71h0m0-57h0m0-22h0m0 182h0m0-72h0m0 147h0m0-253h0m0 95h0m0 79h0m0 28h0m0-223h0m0-53h0m0 190h0m0-74h0m0 119h0m0-117h0m0 37h0m0 51h0m0-21h0m0 95h0m0-130h0m0-53h0m0-83h0m0 216h0m0 37h0m0-82h0m0 57h0m0 53h0m0-150h0m0 4h0m1 94h0m0-135h0m0 110h0m0 13h0m0-61h0m0 58h0m0-185h0m0-34h0m0 121h0m0-20h0m0 190h0m0-59h0m0-46h0m0-106h0m0 125h0m0 37h0m0-133h0m0 149h0m0 11h0m0-227h0m1-14h0m0 49h0m0 145h0m0 43h0m0-85h0m0-142h0m0-45h0m0 200h0m0 42h0m0-69h0m1-106h0m0 195h0m0-27h0m0-215h0m0-1h0m0 276h0m0-4h0m0-241h0m0 212h0m0-80h0m0 26h0m0-104h0m0-98h0m0 226h0m0-1h0m0-92h0m0 30h0m0-25h0m1-64h0m0 20h0m0 150h0m0 20h0m0 30h0m0-6h0m0-166h0m0 142h0m0-124h0m0 195h0m0-81h0m0-252h0m0 245h0m0 38h0m0-62h0m0-17h0m0-57h0m1 177h0m0-124h0m0-31h0m0-14h0m0-129h0m0 230h0m0-117h0m0 53h0m0 96h0m0-297h0m0 190h0m0-18h0m0 38h0m0-39h0m0 57h0m0 58h0m0-166h0m1-6h0m0 16h0m0 167h0m0 2h0m0-22h0m0-24h0m0-5h0m0-20h0m0-21h0m0 44h0m0-54h0m0 68h0m0-66h0m0 52h0m0 41h0m0-176h0m0 164h0m0-136h0m0 75h0m1 17h0m0-104h0m0 127h0m0 12h0m0-216h0m0 152h0m0 49h0m0-39h0m0 33h0m0-36h0m0 172h0m0-185h0m0 86h0m0-53h0m0 18h0m0-28h0m0-166h0m0 261h0m1-57h0m0 20h0m0-23h0m0 24h0m0-84h0m0 70h0m0 0h0m0-95h0m0 83h0m0-18h0m0 20h0m0 42h0m1-155h0m0 107h0m0-101h0m0 147h0m0-68h0m0 37h0m0-76h0m0 71h0m0-91h0m0 100h0m0-64h0m0 183h0m1-51h0m0-76h0m0-226h0m0 188h0m0 51h0m0-30h0m0-35h0m0 4h0m0-23h0m0 67h0m0 50h0m0-17h0m0-273h0m0 271h0m1-55h0m0-23h0m0-71h0m0 185h0m0-17h0m0-66h0m0 29h0m0 6h0m0-55h0m0-204h0m0 244h0m0-45h0m0 82h0m0-33h0m0 39h0m0-114h0m0 102h0m1-4h0m0 47h0m0-51h0m0-44h0m0-37h0m0-8h0m0 30h0m0-114h0m0 185h0m0-102h0m0 31h0m0 68h0m1-92h0m0-24h0m0 22h0m0-9h0m0 93h0m0-5h0m0-85h0m0-4h0m0 78h0m0 5h0m0-35h0m0 54h0m0-73h0m0-42h0m1-31h0m0 128h0m0-1h0m0 24h0m0-6h0m0-4h0m0-38h0m0 62h0m0-30h0m0-3h0m0-15h0m0-22h0m0 30h0m0-241h0m0 193h0m1-63h0m0 38h0m0 81h0m0-21h0m0 36h0m0-111h0m0 81h0m0-22h0m0 33h0m0-116h0m0 175h0m0-166h0m0 105h0m0-174h0m0-95h0m0 210h0m0-45h0m0 53h0m0 71h0m0 2h0m0-54h0m1-68h0m0 92h0m41-97h0m0 8h0m0 47h0m0-171h0m0 72h0m0 135h0m0-14h0m0-164h0m0 180h0m0-108h0m0 149h0m1 6h0m0-8h0m0-79h0m0 11h0m0-45h0m0 3h0m0 128h0m0-162h0m0 80h0m0-250h0m0 173h0m0 150h0m0-184h0m0 183h0m1-99h0m0 7h0m0-34h0m0-58h0m0 146h0m0-50h0m0-159h0m0 97h0m0 124h0m0-219h0m0 154h0m0-30h0m0 27h0m0 3h0m1-32h0m0 13h0m0 110h0m0-63h0m0-63h0m0 42h0m0-19h0m0 90h0m0-21h0m0-60h0m0 95h0m0-20h0m0-161h0m0-52h0m0 29h0m0 61h0m0 31h0m1 87h0m0-59h0m0 92h0m0-66h0m0 10h0m0-94h0m0 6h0m0 122h0m0 1h0m0-6h0m0-205h0m0-63h0m0 95h0m0 121h0m0-179h0m0 51h0m0 147h0m0-150h0m0-118h0m0 306h0m0 69h0m1-52h0m0-96h0m0 25h0m0-85h0m0 174h0m0-14h0m0 19h0m0-59h0m0 28h0m0-130h0m0-36h0m0 88h0m0-101h0m0 192h0m0-30h0m0-210h0m0 196h0m0-176h0m1-27h0m0 244h0m0-93h0m0 64h0m0-21h0m0-74h0m0-5h0m0 102h0m0-197h0m0 169h0m0 29h0m0-116h0m0 99h0m0-32h0m0-101h0m0 165h0m0 72h0m0-287h0m0 35h0m1 109h0m0 34h0m0 35h0m0-46h0m0 4h0m0-258h0m0 278h0m0-127h0m0 159h0m0-54h0m0-22h0m0-96h0m0 209h0m0-315h0m0 175h0m0 89h0m0 10h0m0-209h0m1-125h0m0 92h0m0 247h0m0-336h0m0 165h0m0-83h0m0 165h0m0 2h0m0 80h0m0-102h0m0 53h0m0-140h0m0-124h0m0 97h0m0 220h0m0-32h0m0-110h0m0-58h0m0 58h0m0 114h0m0-151h0m0 15h0m0 104h0m0-66h0m0 46h0m1-256h0m0 282h0m0-188h0m0 57h0m0 46h0m0 75h0m0 9h0m0-294h0m0 197h0m0 39h0m0 52h0m0-124h0m0 221h0m0-144h0m0-154h0m0 258h0m0-305h0m0 102h0m0 168h0m0 1h0m1 7h0m0-24h0m0-15h0m0 7h0m0 43h0m0 15h0m0-126h0m0 98h0m0 28h0m0-274h0m0 159h0m0 19h0m1 145h0m0-159h0m0 122h0m0-6h0m0-143h0m0-1h0m0 152h0m0-58h0m0 68h0m0-154h0m0 92h0m0-60h0m0 24h0m0 66h0m0-159h0m0 68h0m0 84h0m0-44h0m0 44h0m0 1h0m0-67h0m0 24h0m0 21h0m1 34h0m0-73h0m0 104h0m0-104h0m0-22h0m0 106h0m0-184h0m0-63h0m0 227h0m0-257h0m0 41h0m0 225h0m0-103h0m0-1h0m0 32h0m0 50h0m1-80h0m0 112h0m0-43h0m0-234h0m0 259h0m0-170h0m0 136h0m0-41h0m0-152h0m0 198h0m0 49h0m0-88h0m0-6h0m0 75h0m0-79h0m0-176h0m0 101h0m0 10h0m0 5h0m0 20h0m1 141h0m0-25h0m0-64h0m0 75h0m0-93h0m0 74h0m0 13h0m0-224h0m0 153h0m0-31h0m0-84h0m0 164h0m0-139h0m0 144h0m1-55h0m0 45h0m0 43h0m0-133h0m0 109h0m0-270h0m0 177h0m0-105h0m0 223h0m0-160h0m0 63h0m0 67h0m0 6h0m0 27h0m0 32h0m0-48h0m1-31h0m0-150h0m0-41h0m0 228h0m0-82h0m0 40h0m0-95h0m0 104h0m0 3h0m0-78h0m0 119h0m0-79h0m0-24h0m0-102h0m0 190h0m0 48h0m0-227h0m1 170h0m0-5h0m0-69h0m0 53h0m0-71h0m0 114h0m0-90h0m0-29h0m0-29h0m0 148h0m0-154h0m0 125h0m0-217h0m0-60h0m0 175h0m0 149h0m0-122h0m0 6h0m1-76h0m0 122h0m0-195h0m0 117h0m0 108h0m0-101h0m0 9h0m0-44h0m0 112h0m0-99h0m0-150h0m0 251h0m0-9h0m0 2h0m0 17h0m0-110h0m0 61h0m0-201h0m0 251h0m0-136h0m0 32h0m0 168h0m0-57h0m0-132h0m0 131h0m0-179h0m0 170h0m0-147h0m0 12h0m1 116h0m0 1h0m0 43h0m0-59h0m0 144h0m0-385h0m0 245h0m0-23h0m0 106h0m0-212h0m0 178h0m0-180h0m0 39h0m0 55h0m0-24h0m0 70h0m0-153h0m0-86h0m0 286h0m0-63h0m0 53h0m0 10h0m1 24h0m0-18h0m0-56h0m0-198h0m0-43h0m0 54h0m0 245h0m0-25h0m0-97h0m0 64h0m0-111h0m0 62h0m0-139h0m0 215h0m0 8h0m0 0h0m0-225h0m0-105h0m0 289h0m0 71h0m0-125h0m0-182h0m0 264h0m0-30h0m0-58h0m0 64h0m0-10h0m1 49h0m0-210h0m0 118h0m0-231h0m0 221h0m0-83h0m0 198h0m0-246h0m0 243h0m0-116h0m0 122h0m0 28h0m0-364h0m0 202h0m0 132h0m0-70h0m0-58h0m0 87h0m0 85h0m0-44h0m0-1h0m0-139h0m0-45h0m0-1h0m1 178h0m0-31h0m0-27h0m0-212h0m0 224h0m0-36h0m0 20h0m0 17h0m0-12h0m0-265h0m0 248h0m0-77h0m0 97h0m0-24h0m0-112h0m0 182h0m0-7h0m0-3h0m0-69h0m0-47h0m0-43h0m0 110h0m0 72h0m0-144h0m0 59h0m0-120h0m0 148h0m1-213h0m0 187h0m0-15h0m0-21h0m0-34h0m0-181h0m0 335h0m0-36h0m0-62h0m0-47h0m0 8h0m0 128h0m0-138h0m0 142h0m0-159h0m0-97h0m0 31h0m0 102h0m1-79h0m0 227h0m0-61h0m0 27h0m0 5h0m0-4h0m0-178h0m0 106h0m0 90h0m0-20h0m0-20h0m0 103h0m0-132h0m0-198h0m0 209h0m0-53h0m0-65h0m0 122h0m0 15h0m1-108h0m0 100h0m0 71h0m0-81h0m0-104h0m0 112h0m0-171h0m0 108h0m0-76h0m0 205h0m0-131h0m0-193h0m0 232h0m0-18h0m0-91h0m0 169h0m0-3h0m0 19h0m0-72h0m0-46h0m0-168h0m0 282h0m0 2h0m0-75h0m1-10h0m0-14h0m0-83h0m0 116h0m0 62h0m0-97h0m0 12h0m0-27h0m0 114h0m0-21h0m0-37h0m0-32h0m0 23h0m0 127h0m0-119h0m0 79h0m0-234h0m0 170h0m0-32h0m0 62h0m0 43h0m1-223h0m0 139h0m0 51h0m0 4h0m0-48h0m0 46h0m0 11h0m0-16h0m0-47h0m0 38h0m0-85h0m0-62h0m0 72h0m0 41h0m0 27h0m0-59h0m0-123h0m1 167h0m0-61h0m0-207h0m0 183h0m0 34h0m0-119h0m0 31h0m0 161h0m0 15h0m0-16h0m0-88h0m1-24h0m0 125h0m0-62h0m0 3h0m0-42h0m0 31h0m0 17h0m0-277h0m41 296h0m0-114h0m0 152h0m0 0h0m1-1h0m0 16h0m0-211h0m0 181h0m0-18h0m0-15h0m0 21h0m0 52h0m0-312h0m0 352h0m0-50h0m0 15h0m0 27h0m0-70h0m1-10h0m0 16h0m0-340h0m0 364h0m0-11h0m0-22h0m0-91h0m0 65h0m0 13h0m0 50h0m1 4h0m0-235h0m0 232h0m0-12h0m0-32h0m0 44h0m0-59h0m0 47h0m0-18h0m0-308h0m0 241h0m0 92h0m0-63h0m0-26h0m0 97h0m0-73h0m1 41h0m0 12h0m0-12h0m0-54h0m0 78h0m0 45h0m0-66h0m0 6h0m0-138h0m0-80h0m0 237h0m0-27h0m0-20h0m0-27h0m0 55h0m0-164h0m1 124h0m0 6h0m0-31h0m0 40h0m0 58h0m0-34h0m0-25h0m0 81h0m0-115h0m0 91h0m0-43h0m0-5h0m0-154h0m0 185h0m0 5h0m0-135h0m1 102h0m0-199h0m0 215h0m0 21h0m0-104h0m0-19h0m0 40h0m0-101h0m0 132h0m0-171h0m0 198h0m0-56h0m0-215h0m0 60h0m0 62h0m0 124h0m0 52h0m0-53h0m0-58h0m0-92h0m0 193h0m0-98h0m0-247h0m1 147h0m0 1h0m0 204h0m0-68h0m0-37h0m0 42h0m0 26h0m0-58h0m0 64h0m0-23h0m0-142h0m0 112h0m0 28h0m0-110h0m0-106h0m0 161h0m0 10h0m0 86h0m0-185h0m0 175h0m0-123h0m1 66h0m0 13h0m0-175h0m0 191h0m0-284h0m0 333h0m0-70h0m0 11h0m0-17h0m0 82h0m0-8h0m0-104h0m0 86h0m0-90h0m0-259h0m0 178h0m0 76h0m0 86h0m0 7h0m0-127h0m0-29h0m0 143h0m0-15h0m1 30h0m0 22h0m0 3h0m0-98h0m0 117h0m0-144h0m0 90h0m0-125h0m0-16h0m0-90h0m0 106h0m0 157h0m0-87h0m0-95h0m0 181h0m0-249h0m0 198h0m0-12h0m1-131h0m0 46h0m0 99h0m0-49h0m0-6h0m0 86h0m0-217h0m0 217h0m0-9h0m0 59h0m0-28h0m0-197h0m0 199h0m0-47h0m0-19h0m0 59h0m0-33h0m0-246h0m1 259h0m0-92h0m0-78h0m0-62h0m0 239h0m0 42h0m0-51h0m0 30h0m0-128h0m0-52h0m0 151h0m0-72h0m0 48h0m0-146h0m0-54h0m0 180h0m0 69h0m0-14h0m0 15h0m1-212h0m0 238h0m0-159h0m0 93h0m0 12h0m0-95h0m0 26h0m0 5h0m0-95h0m0 114h0m0-283h0m0 9h0m0 266h0m0 79h0m1-344h0m0 171h0m0 8h0m0 146h0m0-217h0m0 188h0m0 49h0m0-18h0m0-155h0m0 146h0m0 22h0m0-323h0m0 131h0m0 125h0m0-116h0m0 167h0m0-247h0m0 273h0m0-361h0m0 202h0m0 139h0m0-48h0m0-55h0m1-137h0m0 166h0m0 74h0m0-47h0m0-310h0m0-1h0m0 372h0m0-145h0m0-10h0m0-197h0m0 315h0m0-34h0m0 59h0m0-178h0m0-67h0m0 91h0m0 94h0m0-113h0m0 79h0m0 48h0m0 57h0m0-105h0m0-103h0m0 156h0m0-73h0m0-133h0m1 245h0m0-262h0m0-78h0m0 98h0m0 178h0m0-202h0m0 103h0m0 141h0m0-13h0m0-45h0m0 44h0m0-43h0m0-50h0m0 72h0m0 54h0m0 29h0m0-17h0m0-2h0m0-156h0m0 141h0m0-5h0m0-41h0m0-63h0m0-158h0m0 252h0m0 16h0m0-16h0m1-161h0m0 238h0m0 25h0m0-124h0m0 22h0m0-152h0m0 136h0m0-319h0m0 48h0m0 67h0m0 194h0m0 63h0m0-81h0m0-92h0m0 144h0m0-125h0m1 121h0m0-210h0m0 272h0m0-15h0m0-267h0m0 74h0m0 69h0m0-115h0m0 224h0m0 23h0m0-35h0m0 1h0m0-79h0m0-15h0m0 93h0m0-250h0m0 230h0m0-74h0m0 25h0m0 24h0m0-120h0m0 161h0m0-39h0m0-4h0m0 30h0m0 32h0m1-57h0m0-47h0m0 109h0m0-136h0m0-184h0m0 276h0m0-20h0m0-22h0m0-289h0m0 293h0m0-95h0m0 132h0m0-280h0m0 295h0m0-28h0m0-122h0m0 53h0m0 131h0m0-7h0m0-113h0m0-18h0m0-229h0m0 200h0m0 114h0m1-163h0m0 136h0m0 46h0m0-332h0m0 348h0m0 0h0m0-92h0m0 69h0m0 8h0m0 26h0m0-109h0m0 109h0m0-43h0m0-220h0m0 100h0m0 146h0m0 17h0m0-37h0m0-95h0m0 130h0m0-222h0m0 53h0m0 136h0m0 27h0m0-138h0m0 31h0m0-104h0m0 8h0m0 182h0m0 4h0m1 6h0m0 42h0m0-88h0m0 57h0m0-2h0m0-64h0m0 53h0m0-113h0m0 92h0m0-90h0m0 27h0m0 102h0m0 66h0m1-337h0m0 265h0m0-31h0m0 27h0m0-92h0m0 65h0m0 32h0m0-113h0m0 133h0m0-6h0m0-175h0m0 114h0m0 49h0m1 7h0m0 1h0m0-39h0m0-2h0m0-32h0m0 95h0m0-13h0m0-52h0m0 15h0m0 28h0m0-8h0m0-109h0m0-36h0m0 153h0m0-50h0m1-67h0m0 116h0m0-91h0m0-117h0m0 169h0m0-81h0m0-58h0m0 150h0m0 23h0m0-214h0m0 206h0m0 3h0m0 11h0m0-38h0m0-11h0m0 18h0m0 20h0m0-1h0m0-8h0m1-185h0m0 70h0m0 115h0m0-300h0m0 264h0m0 11h0m0 100h0m0-69h0m0-274h0m0 284h0m0-81h0m0 45h0m0-9h0m0-8h0m0 39h0m0-125h0m0 64h0m0 107h0m0-107h0m0 26h0m1 31h0m0-72h0m0 77h0m0-95h0m0 72h0m0-53h0m0-45h0m0 86h0m0-177h0m0 9h0m0 239h0m0-87h0m0-56h0m0-131h0m0 173h0m0-12h0m0-27h0m0 40h0m0 29h0m1-29h0m0-2h0m0-39h0m0 113h0m0-39h0m0-25h0m0 12h0m0 30h0m0 23h0m0-38h0m0 18h0m0-3h0m0 21h0m0 0h0m0-35h0m0-18h0m0-24h0m1 0h0m0-58h0m0 12h0m0 119h0m0-37h0m0-105h0m0 133h0m0-31h0m0-252h0m0 334h0m0-61h0m0 32h0m0-54h0m0-142h0m0 184h0m0-23h0m0-44h0m0-69h0m0 146h0m0 16h0m0-80h0m0-37h0m0 79h0m0-15h0m0-89h0m1 88h0m0 25h0m0-143h0m0 6h0m0 150h0m0-38h0m0-6h0m0 25h0m0 2h0m0-1h0m0 12h0m0 8h0m0-66h0m0-20h0m0 28h0m0-78h0m0 57h0m0 23h0m0-141h0m0 32h0m1 153h0m0 4h0m0-195h0m0 194h0m0 8h0m0-38h0m0 52h0m0-169h0m0 109h0m1 33h0m0-147h0m0 182h0m0-33h0m0-98h0m0 15h0m41 66h0m0 96h0m0-120h0m0-92h0m0 92h0m0-12h0m0 53h0m0-3h0m0-43h0m0 17h0m0-37h0m0-31h0m0 48h0m1-44h0m0 60h0m0 33h0m0-67h0m0 66h0m0-80h0m0-6h0m0 24h0m0-107h0m0 56h0m0 53h0m0-100h0m0 130h0m0-29h0m0-88h0m1 144h0m0-14h0m0-162h0m0 125h0m1 42h0m0-36h0m0-37h0m0-6h0m0 8h0m0-114h0m0 198h0m0-114h0m0 41h0m0 73h0m0-28h0m0-84h0m0 92h0m0-14h0m0 35h0m0-73h0m1-3h0m0 62h0m0-123h0m0 113h0m0 67h0m0-59h0m0-117h0m0 123h0m0-22h0m0 11h0m0 2h0m0-34h0m0 17h0m0-43h0m1 59h0m0 2h0m0-52h0m0 22h0m0 45h0m0-143h0m0 120h0m0-32h0m0 19h0m0 94h0m0-180h0m0 71h0m0 21h0m0-83h0m0 96h0m0 35h0m0-57h0m0-90h0m0 123h0m0-38h0m0-14h0m0 35h0m0-126h0m1 99h0m0 13h0m0-59h0m0 87h0m0-10h0m0-107h0m0 100h0m0-160h0m0-14h0m0 225h0m0-36h0m0 12h0m0-2h0m0-157h0m1 48h0m0-66h0m0 116h0m0 45h0m0-214h0m0 199h0m0-283h0m0 263h0m0-88h0m0 13h0m0 101h0m0 88h0m0-99h0m0 34h0m0-6h0m0-96h0m0 44h0m1 41h0m0-40h0m0-144h0m0 154h0m0-89h0m0 110h0m0 4h0m0-184h0m0 119h0m0 40h0m0-158h0m0 188h0m0-137h0m0 110h0m0-6h0m0-117h0m0 211h0m1-61h0m0-4h0m0-36h0m0-10h0m0 36h0m0 26h0m0-100h0m0 23h0m0 33h0m0 14h0m0-65h0m0 95h0m0-95h0m0-59h0m0 117h0m0-113h0m0 31h0m0 101h0m0-101h0m0 22h0m0 86h0m0-214h0m0 202h0m0-49h0m1-25h0m0 115h0m0-121h0m0 101h0m0-29h0m0 48h0m0-68h0m0-16h0m0 24h0m0-111h0m0 82h0m0-138h0m0 213h0m0-258h0m0 119h0m0 98h0m0 15h0m0-71h0m1-230h0m0 25h0m0-23h0m0 341h0m0-24h0m0-193h0m0 163h0m0-51h0m0 82h0m0-10h0m0-85h0m0-91h0m0 142h0m0-161h0m0 124h0m0 69h0m0-89h0m0 75h0m0 18h0m0 42h0m0-75h0m1-51h0m0 29h0m0-105h0m0 92h0m0 65h0m0-44h0m0-114h0m0 176h0m0-96h0m0-75h0m0 187h0m0-88h0m0 62h0m0 61h0m0-55h0m0-126h0m0 69h0m0-51h0m0 124h0m1-200h0m0 201h0m0-123h0m0-8h0m0-113h0m0 149h0m0-97h0m0 157h0m0-296h0m0 317h0m0-88h0m0-44h0m0-177h0m0 239h0m0-173h0m0 218h0m0-34h0m0-119h0m0 118h0m0-64h0m0 137h0m0-358h0m0 303h0m1 78h0m0-201h0m0 147h0m0-144h0m0 49h0m0 40h0m0-6h0m0 42h0m0-106h0m0-90h0m0 230h0m0-73h0m0-62h0m0 115h0m0-332h0m0 352h0m0-96h0m0 95h0m0-69h0m0-98h0m0 120h0m0 56h0m0-8h0m0-68h0m0 59h0m1-166h0m0 130h0m0-88h0m0 29h0m0 31h0m0-267h0m0 294h0m0-174h0m0 53h0m0 19h0m0-55h0m0 164h0m0 40h0m0-343h0m0 327h0m0-8h0m0-11h0m0 8h0m0-36h0m0 23h0m0-10h0m0-180h0m0 25h0m0-63h0m0 99h0m0 97h0m0 13h0m0-86h0m0-45h0m1 96h0m0 117h0m0 32h0m0-62h0m0-27h0m0 36h0m0-14h0m0-55h0m0-103h0m0 170h0m0-237h0m0 144h0m0-100h0m0 71h0m0 109h0m0-105h0m0 106h0m0-270h0m0 349h0m0-105h0m0-5h0m0-87h0m0-178h0m0 95h0m0 146h0m1 55h0m0-57h0m0-131h0m0 161h0m0-27h0m0-236h0m0 206h0m0-249h0m0 272h0m0 22h0m0 29h0m0-25h0m0-220h0m0 244h0m0-20h0m0-80h0m0 200h0m0-262h0m0 197h0m0-240h0m0 208h0m0-198h0m0 60h0m0 48h0m0-29h0m0 111h0m0-104h0m0-131h0m0 53h0m0 37h0m0 56h0m1 61h0m0-107h0m0 113h0m0-120h0m0 53h0m0-151h0m0-16h0m0 276h0m0-135h0m0-12h0m0 137h0m0-69h0m0-168h0m0 181h0m0-85h0m0-158h0m0 324h0m0-148h0m1 149h0m0-46h0m0 25h0m0 18h0m0-58h0m0 4h0m0-93h0m0 130h0m0-335h0m0 213h0m0 153h0m0-193h0m0 44h0m0-182h0m0 259h0m0-120h0m0 93h0m0-17h0m0 60h0m0 81h0m0-293h0m0 232h0m0-7h0m1 41h0m0-83h0m0-131h0m0 101h0m0-23h0m0-182h0m0 223h0m0-128h0m0 112h0m0 96h0m0-103h0m0-245h0m0 214h0m0 66h0m0 55h0m0-106h0m0-106h0m0 260h0m0-208h0m0 139h0m0-260h0m0 163h0m0-97h0m0 219h0m0-55h0m0-236h0m0 169h0m0 25h0m0-208h0m0 377h0m0-77h0m1-327h0m0 269h0m0 88h0m0-103h0m0 40h0m0-313h0m0 358h0m0-85h0m0-94h0m0 147h0m0-252h0m0 241h0m0 50h0m0-1h0m1-27h0m0-290h0m0 45h0m0 198h0m0-9h0m0 46h0m0 29h0m0 25h0m0-231h0m0 19h0m0 14h0m0-77h0m0-9h0m0 261h0m0-255h0m0-30h0m0 201h0m0 97h0m1-68h0m0 34h0m0-4h0m0 5h0m0-197h0m0 94h0m0 68h0m0-10h0m0-148h0m0 165h0m0 26h0m0 30h0m0-250h0m0 179h0m0-12h0m0 27h0m0-158h0m0 63h0m1 50h0m0-160h0m0 127h0m0-93h0m0 143h0m0-234h0m0 351h0m0-75h0m0-47h0m0 15h0m0 38h0m0 23h0m0-91h0m0 115h0m0-83h0m0 34h0m0-101h0m0 62h0m0-39h0m0-110h0m0-65h0m0 167h0m0 14h0m0 58h0m0-208h0m0 290h0m0-40h0m0-31h0m1-6h0m0-159h0m0-35h0m0 176h0m0-18h0m0-51h0m0-4h0m0 44h0m0 51h0m0 36h0m0-251h0m0 262h0m0-34h0m0 15h0m0-43h0m0 16h0m0-206h0m0 152h0m0 76h0m0-14h0m0-163h0m0 80h0m0 123h0m1-17h0m0-233h0m0 125h0m0-157h0m0 130h0m0 126h0m0-97h0m0 60h0m0-33h0m0-80h0m0 166h0m0-5h0m0 86h0m0-185h0m0 89h0m0-40h0m0-4h0m0 80h0m0-155h0m0 150h0m1-44h0m0-31h0m0 57h0m0-86h0m0 52h0m0-158h0m0 60h0m0 80h0m0-14h0m0 6h0m0-183h0m0 113h0m0-115h0m0 97h0m0 137h0m0-24h0m0-126h0m0 164h0m0-269h0m40-77h0m0 278h0m0-2h0m0-10h0m0 89h0m1-30h0m0-40h0m0 50h0m0 6h0m0-49h0m0-11h0m0 75h0m0-2h0m0-182h0m0 181h0m0-92h0m0 80h0m0-4h0m0-263h0m1 253h0m0-185h0m0 209h0m0-20h0m0-8h0m0-240h0m0 268h0m0 3h0m0 16h0m0-60h0m0-18h0m0-9h0m0-12h0m0-132h0m0 118h0m0 58h0m1-6h0m0-33h0m0 80h0m0-20h0m0-289h0m0 218h0m0 89h0m0-172h0m0 150h0m0-24h0m0-59h0m0 51h0m0-179h0m0 260h0m0-42h0m0-244h0m0-37h0m0 157h0m0 68h0m0 67h0m1-40h0m0-272h0m0 302h0m0-296h0m0 274h0m0-278h0m0 86h0m0 191h0m0-95h0m0-206h0m0 240h0m0 64h0m0-11h0m0-59h0m0 98h0m0-235h0m0 114h0m0 101h0m1-16h0m0-171h0m0-4h0m0 40h0m0-38h0m0 167h0m0 10h0m0-20h0m0-37h0m0-173h0m0 211h0m0 58h0m0-25h0m0-216h0m0 115h0m0 21h0m0-119h0m0 179h0m0-18h0m0 18h0m1-214h0m0 128h0m0-115h0m0 215h0m0-86h0m0 10h0m0 7h0m0 43h0m0 49h0m0-86h0m0 103h0m0-1h0m0-315h0m0 250h0m0-9h0m0 63h0m0-208h0m0 195h0m0-69h0m0-137h0m0 223h0m0-11h0m0-62h0m0 38h0m0-50h0m1-161h0m0 245h0m0-110h0m0 62h0m0 53h0m0-223h0m0 154h0m0 20h0m0-34h0m0-275h0m0 150h0m0 156h0m0 49h0m0-25h0m0-100h0m0 41h0m0 76h0m1 5h0m0-80h0m0-23h0m0-61h0m0 125h0m0-8h0m0 1h0m0-77h0m0 127h0m0-41h0m0-6h0m0-35h0m0-28h0m0-5h0m0-50h0m0 106h0m0 6h0m0-75h0m0 38h0m0-87h0m0-50h0m0 257h0m0-162h0m0 101h0m0-203h0m0 97h0m0 91h0m0-15h0m0-45h0m1 70h0m0-58h0m0-145h0m0-29h0m0 224h0m0-197h0m0 177h0m0 16h0m0-189h0m0 146h0m0-90h0m0 139h0m0-5h0m0-77h0m0 43h0m0-20h0m0 11h0m0 27h0m0-108h0m0 114h0m0-127h0m0-36h0m0-37h0m0 232h0m0-207h0m0 176h0m0-263h0m0 219h0m0 67h0m0-95h0m1 40h0m0 40h0m0-101h0m0-24h0m0 158h0m0-4h0m0-237h0m0-59h0m0 317h0m0-158h0m0 141h0m0-33h0m0-75h0m0 52h0m1 39h0m0-95h0m0-136h0m0 234h0m0-24h0m0 44h0m0 69h0m0-108h0m0-70h0m0-16h0m0 167h0m0-199h0m0 35h0m0 98h0m0-16h0m0-159h0m0 210h0m0-13h0m0-12h0m0 4h0m0 18h0m0-63h0m0 57h0m0-3h0m0-256h0m0-54h0m0 153h0m0 141h0m0-119h0m0 122h0m0-36h0m1-22h0m0-4h0m0-119h0m0 157h0m0-197h0m0 140h0m0 66h0m0 22h0m0-88h0m0 102h0m0-127h0m0 61h0m0 58h0m0 9h0m0-170h0m0 99h0m0 61h0m0-132h0m1 3h0m0 81h0m0-15h0m0-19h0m0 92h0m0-242h0m0 91h0m0 112h0m0-235h0m0 257h0m0-317h0m0 330h0m0-1h0m0 1h0m0 7h0m0-49h0m0 42h0m0 16h0m0-327h0m0 270h0m0-93h0m1 92h0m0 1h0m0 24h0m0-24h0m0-11h0m0 17h0m0 45h0m0-96h0m0-66h0m0-33h0m0 154h0m0 20h0m0-260h0m0 283h0m0-9h0m0-3h0m0 4h0m0-178h0m0 142h0m0 4h0m0-59h0m0-60h0m0 96h0m1 35h0m0-245h0m0 162h0m0 59h0m0-132h0m0 138h0m0-74h0m0 93h0m0-115h0m0-63h0m0 122h0m0-69h0m0 120h0m0-21h0m0-109h0m1 124h0m0-6h0m0-193h0m0 216h0m0-44h0m0 1h0m0-25h0m0 69h0m0-247h0m0 237h0m0-58h0m0 43h0m0-106h0m0-12h0m0 116h0m0 38h0m0-59h0m0 30h0m0-43h0m1 32h0m0-44h0m0 4h0m0-42h0m0 106h0m0-4h0m0-191h0m0 118h0m0-6h0m0 73h0m0 12h0m0-26h0m0-159h0m0 167h0m0-96h0m0 63h0m0-255h0m0 261h0m1-75h0m0 119h0m0-91h0m0 77h0m0-51h0m0 26h0m0 37h0m0-34h0m0-303h0m0 275h0m0 28h0m0 22h0m0-92h0m0-104h0m0-92h0m0 280h0m0-123h0m1-1h0m0 120h0m0-106h0m0 96h0m0-57h0m0 147h0m0-61h0m0-35h0m0-128h0m0 75h0m0 110h0m0-166h0m0-77h0m0 230h0m0-82h0m0 32h0m0-24h0m0-33h0m0-215h0m0 130h0m1 163h0m0 7h0m0-132h0m0 67h0m0 100h0m0-23h0m0-269h0m0 104h0m0 165h0m0-56h0m0 91h0m0-203h0m0 70h0m0-76h0m0 165h0m1-139h0m0-123h0m0 61h0m0-113h0m0 279h0m0-74h0m0-47h0m0 0h0m0 187h0m0-229h0m0 226h0m0-133h0m0-164h0m0 220h0m0-4h0m0 19h0m0 54h0m0-32h0m0-115h0m0-56h0m0 212h0m0-173h0m0-68h0m1 143h0m0 36h0m0 28h0m0 10h0m0-198h0m0-89h0m0 76h0m0 189h0m0-225h0m0-73h0m0 197h0m0 9h0m0-3h0m0 114h0m0-106h0m0 162h0m0-160h0m0 33h0m0-66h0m0 85h0m0-114h0m0 143h0m0-192h0m0 213h0m1 48h0m0-84h0m0-105h0m0 157h0m0 16h0m0-260h0m0 87h0m0 132h0m0-10h0m0-89h0m0 119h0m0-181h0m0 115h0m0-28h0m0 6h0m0-120h0m0 200h0m0-267h0m0 153h0m0 70h0m0-68h0m0-177h0m0 304h0m0-75h0m0 35h0m1-271h0m0 61h0m0 196h0m0 27h0m0 23h0m0-305h0m0 289h0m0 23h0m0-59h0m0-214h0m0 185h0m0 127h0m0-41h0m0 13h0m0 34h0m0-283h0m0 14h0m0 107h0m0 95h0m0-201h0m0 189h0m0 15h0m0-102h0m0-130h0m0 93h0m0-47h0m0 97h0m0-158h0m1 278h0m0 7h0m0-47h0m0-134h0m0 98h0m0 35h0m0-168h0m0 29h0m0 10h0m0 16h0m0 157h0m0-52h0m0 16h0m0 25h0m0-143h0m0-177h0m0 184h0m0 106h0m0-66h0m0 11h0m0-10h0m0 63h0m1-81h0m0 71h0m0-62h0m0 15h0m0 97h0m0-1h0m0-13h0m0-31h0m0 20h0m0-132h0m0 22h0m0 82h0m0-133h0m0 179h0m0-301h0m0 171h0m0-59h0m0-53h0m0 216h0m0 33h0m0-88h0m0-48h0m0 144h0m1-112h0m0 101h0m0-30h0m0 25h0m0-42h0m0 22h0m0-221h0m0 77h0m0 11h0m0 75h0m38-269h0m0 9h0m0 9h0m0 54h0m0 39h0m0 9h0m0 32h0m0 42h0m0 95h0m0 0h0m0-30h0m0-154h0m0 33h0m0 166h0m0-178h0m0 167h0m0-265h0m0 272h0m0-105h0m0 80h0m0-91h0m0 3h0m0 105h0m1-124h0m0-170h0m0 151h0m0 15h0m0-162h0m0 299h0m0-6h0m0 6h0m0-10h0m0-199h0m0 146h0m0 34h0m0-87h0m0-38h0m0 143h0m0-210h0m0 231h0m0-217h0m0 53h0m0 153h0m0-129h0m1-150h0m0 259h0m0-103h0m0-184h0m0 260h0m0-140h0m0-131h0m0 307h0m0-51h0m0-244h0m0 109h0m0-117h0m0 223h0m0-39h0m0-43h0m0 103h0m0-38h0m0-89h0m0 45h0m0 134h0m0-169h0m1 162h0m0-14h0m0-69h0m0-195h0m0 258h0m0-271h0m0 300h0m0-106h0m0 11h0m0-104h0m0 209h0m0-223h0m0-1h0m0 118h0m0 88h0m0-167h0m0-45h0m0 144h0m0 86h0m0-183h0m0 154h0m0-141h0m0 180h0m0-6h0m0-82h0m1-108h0m0 79h0m0 116h0m0-298h0m0 53h0m0 239h0m0-185h0m0 99h0m0 38h0m0 30h0m0-297h0m0 75h0m0 141h0m0 36h0m0-183h0m0 155h0m0 138h0m0-94h0m0-129h0m0 176h0m0-79h0m0-173h0m0 135h0m0-162h0m0 277h0m0-158h0m0-14h0m0-112h0m0 184h0m0-105h0m0 159h0m0-82h0m0 169h0m0-58h0m0-197h0m0 120h0m0-28h0m1 41h0m0-75h0m0-102h0m0 93h0m0 112h0m0-41h0m0 93h0m0-26h0m0-80h0m0 55h0m0-226h0m0 251h0m0-103h0m0 79h0m0 58h0m0-14h0m0-18h0m0-237h0m0-1h0m0 157h0m0 105h0m0 92h0m1-122h0m0-160h0m0 143h0m0 22h0m0 63h0m0-188h0m0 56h0m0-95h0m0-10h0m0 159h0m0-162h0m0 96h0m0-181h0m0 211h0m0-13h0m0 82h0m0-25h0m0-26h0m0 2h0m0-76h0m0-160h0m0 293h0m0-65h0m0-6h0m0 39h0m0-79h0m0-85h0m0 61h0m0-6h0m0 91h0m1-138h0m0 84h0m0-144h0m0 174h0m0-143h0m0 215h0m0-161h0m0 78h0m0 3h0m0-198h0m0-2h0m0 261h0m0-73h0m0-55h0m0 124h0m0-85h0m0 148h0m0-180h0m0 98h0m0 44h0m0-284h0m0 198h0m0-28h0m0 44h0m0-102h0m0-136h0m0 189h0m0-104h0m0 107h0m0 103h0m0-56h0m0-114h0m0 27h0m0-138h0m0 285h0m0-21h0m1 17h0m0 36h0m0-50h0m0-235h0m0 166h0m0 29h0m0 68h0m0-58h0m0 63h0m0-119h0m0 51h0m0-136h0m0 71h0m0 131h0m0-261h0m0 62h0m0 199h0m0-144h0m0 35h0m0-96h0m0-75h0m0 267h0m0-5h0m0-73h0m0-182h0m0 118h0m0-43h0m0 107h0m0 147h0m0-345h0m0 94h0m0-15h0m0 172h0m0 17h0m1-125h0m0 88h0m0-116h0m0-131h0m0 293h0m0-266h0m0 241h0m0-21h0m0 51h0m0-236h0m0 205h0m0-273h0m0 310h0m0-6h0m0-195h0m0 247h0m0-345h0m0 49h0m0 64h0m0-119h0m0 204h0m0 65h0m0-224h0m0 207h0m0-207h0m0 253h0m0-207h0m0 244h0m0-162h0m0 129h0m0-117h0m1 8h0m0 28h0m0-120h0m0-88h0m0 276h0m0-229h0m0 98h0m0 135h0m0-168h0m0 86h0m0 97h0m0-302h0m0 213h0m0-62h0m0 17h0m0-114h0m1 231h0m0-190h0m0 64h0m0 44h0m0-41h0m0-22h0m0 28h0m0 1h0m0-37h0m0-76h0m0 90h0m0 7h0m0 129h0m0 15h0m0-57h0m0-32h0m0-152h0m0 203h0m0-244h0m0 59h0m0 184h0m0 25h0m0-226h0m0-23h0m0 46h0m0 138h0m0 135h0m0-183h0m0-1h0m0 127h0m0-169h0m0 171h0m1-10h0m0-12h0m0-242h0m0 226h0m0-112h0m0-95h0m0 126h0m0-120h0m0 115h0m0-87h0m0 72h0m0 139h0m0-125h0m0-142h0m0 57h0m0 236h0m0-121h0m0-117h0m0 184h0m0-105h0m0 61h0m0 100h0m0-16h0m0-84h0m0 26h0m0-245h0m0 168h0m0 48h0m0-229h0m1 302h0m0-230h0m0 21h0m0-73h0m0 162h0m0 107h0m0-16h0m0-91h0m0-45h0m0-107h0m0 203h0m0 66h0m0-57h0m0 32h0m0 24h0m0-297h0m0 337h0m0 11h0m0-66h0m0-82h0m0-133h0m1 205h0m0-11h0m0-194h0m0 274h0m0-155h0m0 89h0m0-151h0m0 55h0m0 2h0m0 30h0m0-180h0m0 228h0m0 32h0m0 4h0m0-161h0m0 149h0m0-48h0m0-32h0m0-18h0m0 91h0m0-42h0m0-148h0m0 183h0m0-159h0m0 75h0m0 3h0m0-11h0m0-88h0m1 166h0m0-193h0m0 38h0m0 195h0m0-1h0m0-186h0m0 201h0m0-16h0m0 7h0m0-228h0m0 138h0m0 3h0m0-113h0m0 73h0m0-104h0m0 68h0m0-21h0m0 185h0m0-79h0m0 97h0m0-97h0m0-74h0m0-157h0m0 257h0m0 28h0m0-100h0m0 123h0m0-78h0m1-33h0m0-138h0m0 142h0m0 108h0m0-57h0m0 65h0m0-132h0m0-22h0m0-39h0m0 112h0m0 129h0m0-224h0m0 90h0m0 35h0m0-135h0m0 152h0m0 7h0m0 24h0m0 5h0m0-45h0m1 20h0m0 4h0m0-271h0m0-10h0m0 160h0m0 129h0m0-22h0m0 26h0m0-185h0m0-37h0m0 110h0m0 47h0m0 57h0m0-168h0m0 175h0m0 62h0m0-247h0m0 101h0m0-97h0m1 87h0m0 60h0m0-132h0m0 122h0m0 52h0m0-11h0m0 5h0m0 8h0m0-60h0m0 22h0m0 4h0m0-63h0m0-33h0m0 43h0m0 41h0m0-111h0m0 61h0m0 49h0m1-29h0m0 31h0m0 8h0m0-43h0m0 13h0m0-70h0m0-149h0m0 242h0m0 8h0m0 33h0m0-123h0m1 82h0m0 75h0m0-242h0m0 148h0m0 53h0m0-16h0m0-85h0m0-64h0m0 165h0m0-104h0m0-40h0m0 28h0m0-17h0m0 189h0m0-50h0m0-6h0m0-176h0m0 142h0m0 44h0m1-92h0m0 16h0m0-42h0m0-20h0m0 7h0m0 123h0m0 1h0m0-42h0m0-104h0m0 78h0m0 39h0m0 74h0m0-165h0m0 13h0m0 156h0m1-75h0m0-41h0m0 74h0m0-19h0m0-14h0m0-150h0m0 0h0m0 111h0m0 61h0m0-142h0m0 85h0m0 66h0m0-114h0m0 115h0m0-39h0m1 16h0m0-138h0m0 40h0m0 54h0m0-55h0m0 175h0m0-102h0m0 116h0m0-80h0m37-89h0m0 110h0m0 28h0m0-51h0m0-80h0m0 45h0m0 36h0m0 12h0m0-62h0m0 67h0m0-49h0m0-183h0m0 286h0m0-144h0m0 90h0m0-66h0m0 15h0m1 65h0m0-68h0m0 111h0m0-48h0m0-48h0m0-22h0m0 77h0m0 19h0m0-34h0m0-39h0m0 10h0m0 34h0m0-35h0m0 29h0m0 30h0m0-29h0m0 33h0m0-281h0m0 281h0m0-63h0m0 31h0m0-1h0m1-35h0m0 17h0m0-1h0m0 7h0m0 49h0m0-18h0m0 48h0m0-56h0m0 39h0m0-104h0m0-3h0m0 89h0m0-19h0m0 21h0m0-33h0m0 1h0m0-72h0m0 66h0m0-169h0m0 158h0m0 46h0m0-74h0m0 75h0m0-150h0m0 115h0m1 8h0m0-57h0m0 56h0m0-271h0m0 256h0m0 21h0m0-34h0m0-18h0m0 22h0m0 29h0m0 55h0m0-99h0m0 59h0m0 33h0m0-25h0m0-19h0m0-20h0m0 35h0m0-31h0m0-92h0m0 45h0m0 63h0m0-139h0m0-20h0m1 145h0m0 51h0m0-43h0m0 7h0m0 39h0m0-44h0m0-67h0m0 88h0m0-8h0m0 11h0m0-55h0m0-16h0m0 22h0m0 50h0m0-9h0m0-59h0m0-10h0m0-4h0m0 45h0m0-126h0m0 157h0m0-263h0m0 254h0m1-49h0m0 17h0m0-38h0m0 37h0m0 17h0m0-139h0m0 131h0m0-53h0m0 10h0m0 4h0m0-24h0m0-25h0m0 148h0m0-79h0m0 57h0m0-83h0m0-83h0m0 103h0m0 65h0m0-14h0m0-37h0m0-3h0m0 50h0m0-49h0m0-8h0m0 15h0m1 54h0m0-146h0m0 91h0m0 22h0m0-48h0m0 48h0m0 4h0m0-281h0m0 195h0m0-11h0m0-6h0m0 151h0m0-91h0m0 8h0m0 53h0m0-3h0m0-157h0m0 161h0m0-33h0m0-26h0m0 55h0m0-261h0m0 256h0m0-33h0m0-4h0m0 38h0m0-183h0m1 162h0m0 13h0m0 12h0m0-235h0m0 136h0m0 130h0m0-47h0m0 19h0m0-43h0m0 25h0m0 17h0m0-2h0m0 6h0m0-30h0m0-192h0m0 203h0m0-271h0m0 185h0m0 6h0m0 88h0m0-65h0m0-22h0m0 56h0m0 37h0m0-8h0m0-11h0m0 4h0m0-24h0m0-52h0m1 8h0m0-27h0m0 29h0m0 79h0m0-40h0m0 46h0m0-150h0m0 100h0m0 47h0m0-37h0m0-165h0m0 64h0m0-72h0m0 213h0m0 1h0m0-70h0m0-5h0m0 36h0m0 19h0m1-94h0m0 108h0m0-36h0m0 4h0m0 27h0m0-25h0m0-14h0m0-33h0m0 74h0m0-70h0m0 36h0m0 38h0m0-220h0m0 210h0m0-26h0m0 2h0m0-47h0m0 60h0m0-17h0m0-201h0m0 239h0m0 4h0m0-5h0m0-95h0m1 81h0m0 6h0m0-30h0m0 24h0m0-51h0m0 90h0m0-40h0m0-101h0m0 66h0m0-47h0m0 94h0m0-117h0m0 65h0m0-37h0m0 73h0m0-53h0m0 0h0m0-151h0m0 210h0m0 0h0m0 12h0m0-7h0m0-10h0m0-92h0m0-22h0m0 55h0m0 68h0m0-26h0m0-9h0m0 29h0m0-15h0m0 4h0m0 27h0m1-89h0m0 93h0m0-185h0m0 120h0m0 1h0m0-212h0m0 187h0m0 58h0m0-43h0m0-136h0m0 196h0m0-43h0m0-31h0m0-15h0m0 13h0m0 91h0m0-5h0m0-114h0m0 107h0m0-36h0m0-88h0m0 75h0m0 24h0m0 23h0m0 1h0m0 26h0m0-61h0m0-54h0m0 13h0m0-49h0m0 50h0m1 3h0m0 37h0m0 0h0m0 59h0m0-260h0m0 155h0m0 68h0m0-59h0m0 4h0m0 36h0m0 36h0m0-11h0m0-71h0m0-10h0m0 27h0m0 29h0m0-84h0m0 42h0m0 109h0m0-106h0m0 53h0m0 5h0m0-175h0m0 114h0m0-32h0m0 106h0m0-25h0m0-4h0m0-190h0m0 226h0m0-23h0m0-65h0m0-52h0m0 86h0m1-143h0m0 159h0m0-2h0m0-20h0m0 13h0m0 7h0m0-91h0m0 160h0m0-215h0m0 26h0m0 200h0m0-35h0m0-23h0m0-41h0m0 40h0m0 21h0m0-197h0m0 108h0m0-46h0m0-2h0m0 136h0m0-3h0m0-49h0m0-13h0m0 26h0m0-225h0m1 189h0m0 137h0m0-82h0m0-24h0m0 9h0m0 35h0m0 1h0m0-11h0m0-35h0m0-4h0m0-74h0m0-15h0m0 51h0m0 12h0m0-64h0m0-58h0m0 200h0m0-23h0m0-70h0m0 82h0m0-1h0m0-271h0m0 173h0m0-17h0m0-96h0m0 124h0m0 78h0m0 24h0m0-273h0m0 212h0m0 2h0m0-12h0m1 68h0m0-30h0m0 21h0m0-65h0m0 31h0m0 10h0m0 31h0m0-26h0m0-119h0m0 145h0m0-26h0m0 3h0m0-32h0m0 62h0m0-38h0m0-52h0m0-24h0m0 83h0m0-103h0m0 102h0m0-205h0m0 202h0m0 23h0m0-19h0m0 7h0m0-251h0m0 234h0m0-38h0m0 25h0m0 52h0m0-129h0m0-10h0m1 29h0m0 33h0m0-45h0m0 134h0m0-17h0m0-9h0m0-1h0m0 3h0m0 38h0m0-58h0m0 11h0m0-68h0m0 47h0m0 31h0m0-11h0m0-28h0m0-16h0m0-99h0m0 90h0m0 44h0m0 30h0m0-8h0m0-96h0m0-36h0m0 120h0m0-24h0m0 28h0m0-49h0m0 40h0m0 34h0m1-23h0m0-30h0m0 18h0m0-38h0m0 61h0m0 0h0m0-1h0m0-38h0m0 30h0m0-92h0m0 132h0m0-103h0m0 104h0m0-159h0m0-159h0m0 222h0m0 62h0m0-224h0m0 213h0m1-149h0m0 141h0m0-4h0m0 16h0m0-215h0m0 189h0m0 7h0m0 30h0m0 68h0m0-117h0m0-95h0m0 121h0m0 10h0m0 46h0m0-91h0m0 52h0m0-59h0m0 14h0m0-69h0m0 75h0m0 13h0m0-116h0m0 90h0m0-72h0m0 108h0m0-12h0m0-13h0m0 21h0m0 24h0m0-90h0m0-34h0m0 24h0m0 76h0m0 4h0m0 21h0m0-78h0m1-24h0m0 114h0m0-85h0m0-29h0m0-5h0m0 85h0m0 23h0m0-9h0m0-9h0m0 15h0m0-52h0m0 0h0m0 19h0m0 28h0m0-18h0m0-26h0m0 107h0m0-147h0m0 49h0m0-28h0m0 55h0m0 67h0m0-334h0m0 219h0m0 19h0m0 36h0m0-146h0m0 56h0m1 75h0m0 2h0m0 8h0m0-28h0m0 3h0m0 37h0m0-2h0m0-62h0m0 21h0m0 39h0m0-41h0m0 48h0m0-2h0m0-91h0m0 54h0m0-1h0m0-28h0m0-76h0m0 65h0m1 50h0m0 20h0m0-189h0m0 24h0m32 173h0m0-73h0m0 70h0m0 2h0m0-71h0m0 126h0m0-49h0m0-40h0m0 32h0m0 5h0m0-6h0m0 19h0m0-33h0m0-5h0m0 30h0m0-36h0m1-16h0m0-26h0m0 71h0m0-17h0m0 18h0m0-161h0m0 217h0m0-64h0m0 11h0m0-176h0m0 172h0m0-97h0m0 98h0m0-75h0m0-35h0m0 85h0m0-25h0m0-13h0m0-37h0m0 90h0m0 3h0m0-17h0m0 0h0m0 66h0m0-74h0m0 26h0m0-131h0m0 132h0m0 56h0m0-60h0m0-254h0m1 266h0m0-63h0m0-5h0m0 21h0m0-4h0m0 10h0m0-10h0m0 19h0m0-115h0m0 115h0m0 8h0m0 13h0m0-24h0m0-29h0m0 52h0m0-88h0m0-24h0m0 93h0m0 16h0m0 24h0m0-44h0m1-87h0m0 77h0m0 46h0m0-46h0m0-101h0m0 110h0m0 106h0m0-223h0m0 116h0m0-1h0m0-13h0m0 34h0m0-55h0m0-38h0m0 58h0m0 33h0m0-102h0m0 78h0m0-12h0m0 17h0m0 45h0m0-20h0m0-149h0m1 162h0m0-22h0m0 21h0m0 51h0m0-55h0m0-7h0m0-68h0m0 85h0m0-203h0m0 179h0m0-115h0m0 165h0m0-39h0m0-4h0m0-40h0m0-198h0m0 251h0m0-143h0m0 120h0m0-72h0m0-228h0m0 305h0m0-67h0m0 89h0m0-74h0m0 50h0m0-54h0m0 68h0m0-86h0m0-42h0m0 71h0m0-91h0m0 131h0m0-38h0m1 15h0m0 21h0m0 15h0m0 0h0m0-3h0m0-140h0m0 156h0m0-91h0m0-17h0m0-130h0m0 162h0m0 35h0m0 44h0m0-233h0m0 66h0m0 164h0m0-14h0m0-52h0m0-22h0m0 129h0m0-93h0m0 23h0m0 6h0m0-175h0m0 86h0m0 87h0m0-13h0m0 5h0m0-99h0m0 94h0m0-11h0m0-8h0m0 25h0m0-7h0m0-6h0m0-96h0m0 83h0m0-13h0m0 52h0m1-108h0m0-164h0m0 197h0m0 39h0m0 51h0m0-147h0m0 49h0m0 89h0m0-117h0m0-93h0m0 31h0m0 156h0m0 34h0m0-6h0m0-38h0m0-96h0m0 22h0m0-44h0m0 81h0m0-119h0m0 128h0m0-45h0m0 56h0m0 52h0m0-200h0m0 51h0m0 12h0m0 174h0m0-114h0m0 42h0m0-73h0m0 60h0m0-45h0m1 69h0m0-34h0m0-88h0m0 128h0m0-9h0m0-191h0m0 219h0m0-162h0m0 148h0m0 74h0m0-41h0m0-6h0m0-25h0m0-33h0m0-18h0m0-92h0m0 19h0m0 148h0m0-27h0m0-152h0m0 160h0m0-28h0m0-161h0m0 129h0m0 26h0m0-45h0m0 13h0m0 82h0m0 3h0m0-22h0m0 5h0m0-125h0m0 131h0m0-98h0m0 10h0m0-2h0m0 67h0m0-158h0m0 131h0m0 35h0m0-65h0m0 27h0m1-16h0m0 53h0m0-43h0m0-79h0m0 84h0m0-9h0m0-75h0m0-13h0m0 135h0m0-2h0m0-147h0m0 141h0m0-61h0m0 91h0m0-1h0m0-328h0m0 306h0m0 26h0m0-96h0m0 113h0m0-142h0m0-23h0m0-44h0m0 110h0m0 83h0m0 16h0m0-91h0m0-44h0m0 22h0m0-7h0m0-180h0m0 240h0m0 49h0m0-84h0m0 27h0m0-55h0m0 66h0m0-60h0m0 95h0m0-65h0m0 60h0m0-17h0m1-200h0m0 227h0m0-25h0m0-9h0m0 6h0m0-40h0m0 19h0m0-126h0m0 139h0m0 6h0m0-207h0m0 220h0m0 55h0m0-337h0m0 253h0m0-143h0m0 181h0m0-61h0m0 5h0m0 37h0m0-8h0m0 28h0m0 4h0m0-335h0m0 155h0m0 126h0m0 33h0m0-23h0m0-82h0m0-52h0m0 170h0m0-72h0m0 62h0m0-6h0m0-20h0m0 20h0m0 25h0m0-2h0m0-111h0m0 115h0m0-66h0m0 26h0m0 6h0m0-43h0m0-259h0m0 274h0m1-183h0m0 208h0m0 3h0m0 18h0m0-166h0m0 181h0m0 1h0m0-47h0m0 6h0m0-36h0m0 7h0m0-134h0m0 202h0m0-100h0m0-17h0m0 1h0m0-4h0m0-72h0m0 146h0m0 28h0m0-314h0m0 14h0m0 210h0m0 96h0m0-185h0m0-48h0m0 202h0m0-68h0m0-21h0m0-65h0m0-71h0m0 262h0m0-23h0m0-109h0m0-100h0m0 98h0m1 65h0m0-4h0m0 116h0m0-43h0m0-146h0m0 152h0m0-36h0m0 36h0m0 0h0m0 1h0m0-106h0m0 103h0m0-117h0m0-71h0m0 86h0m0 44h0m0 29h0m0-52h0m0-2h0m0 11h0m0 48h0m0-95h0m0 90h0m0-25h0m0-32h0m0 71h0m0-44h0m0 65h0m0-125h0m0 92h0m0 29h0m0-242h0m0 224h0m0 19h0m0 20h0m0-184h0m0-117h0m0 162h0m0 69h0m1-174h0m0 19h0m0-13h0m0 168h0m0-46h0m0 65h0m0 16h0m0-66h0m0 76h0m0-27h0m0 22h0m0-73h0m0-20h0m0 90h0m0-114h0m0-50h0m0 185h0m0-188h0m0 45h0m0 13h0m0 104h0m0-45h0m0 54h0m0-128h0m0 141h0m0-13h0m0 6h0m0 7h0m0-31h0m0-99h0m0 23h0m0-11h0m0 107h0m1-6h0m0-137h0m0 143h0m0-52h0m0-2h0m0 106h0m0-167h0m0 116h0m0-217h0m0 242h0m0-308h0m0 272h0m0-66h0m0 110h0m0-79h0m0-51h0m0 100h0m0-193h0m0 53h0m0 144h0m0-249h0m0 249h0m0-287h0m0 288h0m0-104h0m0-89h0m0 40h0m0-17h0m0 127h0m0-239h0m0 262h0m0-204h0m0 200h0m0-57h0m0 75h0m0-87h0m0 80h0m0-45h0m0 46h0m0-2h0m1-151h0m0 137h0m0-107h0m0 107h0m0-24h0m0-21h0m0-41h0m0 65h0m0 48h0m0-5h0m0 18h0m0-165h0m0 118h0m0-82h0m0 109h0m0-15h0m0-36h0m0 32h0m0-52h0m0 109h0m0-31h0m0-220h0m0 204h0m0-78h0m0-23h0m0-40h0m1 127h0m0-103h0m0 86h0m0 39h0m0-74h0m0 97h0m0-97h0m0-4h0m0 81h0m0-103h0m0 6h0m0 111h0m0-11h0m0-139h0m0 143h0m0-81h0m0-134h0m0 94h0m0 154h0m0-199h0m0 131h0m0-25h0m0 27h0m0 22h0m0-49h0m0-16h0m0 13h0m0-86h0m0-51h0m1 122h0m0-38h0m0 101h0m0-27h0m0 35h0m0-104h0m0 115h0m0-12h0m0 14h0m0-70h0m0-18h0m0 25h0m0 31h0m0 25h0m0-39h0m0 36h0m0-36h0m0 40h0m0-17h0m0 3h0m0-64h0m0-2h0m0-85h0m0 164h0m1-66h0m0 20h0m0 22h0m0-238h0m0 67h0m0 10h0" stroke="#1f46ea" stroke-width="2.1" stroke-linecap="square" fill="none"/>
<rect x="784.8" y="34.5" width="8.7" height="235" fill="#b3d3de" opacity="0.75"/>
<rect x="797.4" y="36" width="4.6" height="233" fill="#b3d3de" opacity="0.6"/>
<line x1="681.3" y1="34.2" x2="681.3" y2="269.4" stroke="#111" stroke-width="1.4"/>
<line x1="678.3" y1="34.2" x2="681.3" y2="34.2" stroke="#111" stroke-width="1.2"/>
<text x="678.1" y="37.2" font-size="13.5" text-anchor="end" fill="#111">1.0</text>
<line x1="678.3" y1="81.3" x2="681.3" y2="81.3" stroke="#111" stroke-width="1.2"/>
<text x="678.1" y="84.3" font-size="13.5" text-anchor="end" fill="#111">0.8</text>
<line x1="678.3" y1="128.7" x2="681.3" y2="128.7" stroke="#111" stroke-width="1.2"/>
<text x="678.1" y="131.7" font-size="13.5" text-anchor="end" fill="#111">0.6</text>
<line x1="678.3" y1="175.2" x2="681.3" y2="175.2" stroke="#111" stroke-width="1.2"/>
<text x="678.1" y="178.2" font-size="13.5" text-anchor="end" fill="#111">0.4</text>
<line x1="678.3" y1="222.3" x2="681.3" y2="222.3" stroke="#111" stroke-width="1.2"/>
<text x="678.1" y="225.3" font-size="13.5" text-anchor="end" fill="#111">0.2</text>
<line x1="678.3" y1="269.4" x2="681.3" y2="269.4" stroke="#111" stroke-width="1.2"/>
<text x="678.1" y="272.4" font-size="13.5" text-anchor="end" fill="#111">0.0</text>
<line x1="684.8" y1="234.6" x2="1245" y2="234.6" stroke="#222" stroke-width="1.5" stroke-dasharray="6 7.2"/>
<text transform="translate(650.5 151.5) rotate(-90)" font-size="16.8" fill="#111" text-anchor="middle"><tspan font-style="italic">F</tspan><tspan font-size="12.096" dy="4">ST</tspan><tspan dy="-4"> (MT, CBSC)</tspan></text>
<linearGradient id="g32" x1="0" y1="1" x2="0" y2="0"><stop offset="0.00" stop-color="#b3d3de" stop-opacity="1.00"/><stop offset="0.06" stop-color="#b3d3de" stop-opacity="1.00"/><stop offset="0.12" stop-color="#b3d3de" stop-opacity="1.00"/><stop offset="0.19" stop-color="#b3d3de" stop-opacity="0.92"/><stop offset="0.25" stop-color="#b3d3de" stop-opacity="0.67"/><stop offset="0.31" stop-color="#b3d3de" stop-opacity="0.51"/><stop offset="0.38" stop-color="#b3d3de" stop-opacity="0.40"/><stop offset="0.44" stop-color="#b3d3de" stop-opacity="0.32"/><stop offset="0.50" stop-color="#b3d3de" stop-opacity="0.27"/><stop offset="0.56" stop-color="#b3d3de" stop-opacity="0.22"/><stop offset="0.62" stop-color="#b3d3de" stop-opacity="0.18"/><stop offset="0.69" stop-color="#b3d3de" stop-opacity="0.15"/><stop offset="0.75" stop-color="#b3d3de" stop-opacity="0.13"/><stop offset="0.81" stop-color="#b3d3de" stop-opacity="0.08"/><stop offset="0.88" stop-color="#b3d3de" stop-opacity="0.05"/><stop offset="0.94" stop-color="#b3d3de" stop-opacity="0.02"/><stop offset="1.00" stop-color="#b3d3de" stop-opacity="0.00"/></linearGradient>
<rect x="684.9" y="391.5" width="24.6" height="10.7" fill="url(#g32)"/>
<linearGradient id="g33" x1="0" y1="1" x2="0" y2="0"><stop offset="0.00" stop-color="#1f46ea" stop-opacity="1.00"/><stop offset="0.06" stop-color="#1f46ea" stop-opacity="1.00"/><stop offset="0.12" stop-color="#1f46ea" stop-opacity="1.00"/><stop offset="0.19" stop-color="#1f46ea" stop-opacity="1.00"/><stop offset="0.25" stop-color="#1f46ea" stop-opacity="1.00"/><stop offset="0.31" stop-color="#1f46ea" stop-opacity="0.83"/><stop offset="0.38" stop-color="#1f46ea" stop-opacity="0.59"/><stop offset="0.44" stop-color="#1f46ea" stop-opacity="0.44"/><stop offset="0.50" stop-color="#1f46ea" stop-opacity="0.34"/><stop offset="0.56" stop-color="#1f46ea" stop-opacity="0.27"/><stop offset="0.62" stop-color="#1f46ea" stop-opacity="0.22"/><stop offset="0.69" stop-color="#1f46ea" stop-opacity="0.18"/><stop offset="0.75" stop-color="#1f46ea" stop-opacity="0.14"/><stop offset="0.81" stop-color="#1f46ea" stop-opacity="0.09"/><stop offset="0.88" stop-color="#1f46ea" stop-opacity="0.05"/><stop offset="0.94" stop-color="#1f46ea" stop-opacity="0.02"/><stop offset="1.00" stop-color="#1f46ea" stop-opacity="0.00"/></linearGradient>
<rect x="713" y="394" width="22" height="8.2" fill="url(#g33)"/>
<linearGradient id="g34" x1="0" y1="1" x2="0" y2="0"><stop offset="0.00" stop-color="#b3d3de" stop-opacity="1.00"/><stop offset="0.06" stop-color="#b3d3de" stop-opacity="1.00"/><stop offset="0.12" stop-color="#b3d3de" stop-opacity="1.00"/><stop offset="0.19" stop-color="#b3d3de" stop-opacity="0.92"/><stop offset="0.25" stop-color="#b3d3de" stop-opacity="0.67"/><stop offset="0.31" stop-color="#b3d3de" stop-opacity="0.51"/><stop offset="0.38" stop-color="#b3d3de" stop-opacity="0.40"/><stop offset="0.44" stop-color="#b3d3de" stop-opacity="0.32"/><stop offset="0.50" stop-color="#b3d3de" stop-opacity="0.27"/><stop offset="0.56" stop-color="#b3d3de" stop-opacity="0.22"/><stop offset="0.62" stop-color="#b3d3de" stop-opacity="0.18"/><stop offset="0.69" stop-color="#b3d3de" stop-opacity="0.15"/><stop offset="0.75" stop-color="#b3d3de" stop-opacity="0.13"/><stop offset="0.81" stop-color="#b3d3de" stop-opacity="0.08"/><stop offset="0.88" stop-color="#b3d3de" stop-opacity="0.05"/><stop offset="0.94" stop-color="#b3d3de" stop-opacity="0.02"/><stop offset="1.00" stop-color="#b3d3de" stop-opacity="0.00"/></linearGradient>
<rect x="738.8" y="391.5" width="20" height="10.7" fill="url(#g34)"/>
<linearGradient id="g35" x1="0" y1="1" x2="0" y2="0"><stop offset="0.00" stop-color="#1f46ea" stop-opacity="1.00"/><stop offset="0.06" stop-color="#1f46ea" stop-opacity="1.00"/><stop offset="0.12" stop-color="#1f46ea" stop-opacity="1.00"/><stop offset="0.19" stop-color="#1f46ea" stop-opacity="1.00"/><stop offset="0.25" stop-color="#1f46ea" stop-opacity="1.00"/><stop offset="0.31" stop-color="#1f46ea" stop-opacity="0.83"/><stop offset="0.38" stop-color="#1f46ea" stop-opacity="0.59"/><stop offset="0.44" stop-color="#1f46ea" stop-opacity="0.44"/><stop offset="0.50" stop-color="#1f46ea" stop-opacity="0.34"/><stop offset="0.56" stop-color="#1f46ea" stop-opacity="0.27"/><stop offset="0.62" stop-color="#1f46ea" stop-opacity="0.22"/><stop offset="0.69" stop-color="#1f46ea" stop-opacity="0.18"/><stop offset="0.75" stop-color="#1f46ea" stop-opacity="0.14"/><stop offset="0.81" stop-color="#1f46ea" stop-opacity="0.09"/><stop offset="0.88" stop-color="#1f46ea" stop-opacity="0.05"/><stop offset="0.94" stop-color="#1f46ea" stop-opacity="0.02"/><stop offset="1.00" stop-color="#1f46ea" stop-opacity="0.00"/></linearGradient>
<rect x="761.5" y="394" width="19.2" height="8.2" fill="url(#g35)"/>
<linearGradient id="g36" x1="0" y1="1" x2="0" y2="0"><stop offset="0.00" stop-color="#b3d3de" stop-opacity="1.00"/><stop offset="0.06" stop-color="#b3d3de" stop-opacity="1.00"/><stop offset="0.12" stop-color="#b3d3de" stop-opacity="1.00"/><stop offset="0.19" stop-color="#b3d3de" stop-opacity="0.92"/><stop offset="0.25" stop-color="#b3d3de" stop-opacity="0.67"/><stop offset="0.31" stop-color="#b3d3de" stop-opacity="0.51"/><stop offset="0.38" stop-color="#b3d3de" stop-opacity="0.40"/><stop offset="0.44" stop-color="#b3d3de" stop-opacity="0.32"/><stop offset="0.50" stop-color="#b3d3de" stop-opacity="0.27"/><stop offset="0.56" stop-color="#b3d3de" stop-opacity="0.22"/><stop offset="0.62" stop-color="#b3d3de" stop-opacity="0.18"/><stop offset="0.69" stop-color="#b3d3de" stop-opacity="0.15"/><stop offset="0.75" stop-color="#b3d3de" stop-opacity="0.13"/><stop offset="0.81" stop-color="#b3d3de" stop-opacity="0.08"/><stop offset="0.88" stop-color="#b3d3de" stop-opacity="0.05"/><stop offset="0.94" stop-color="#b3d3de" stop-opacity="0.02"/><stop offset="1.00" stop-color="#b3d3de" stop-opacity="0.00"/></linearGradient>
<rect x="783.4" y="391.5" width="19.2" height="10.7" fill="url(#g36)"/>
<linearGradient id="g37" x1="0" y1="1" x2="0" y2="0"><stop offset="0.00" stop-color="#1f46ea" stop-opacity="1.00"/><stop offset="0.06" stop-color="#1f46ea" stop-opacity="1.00"/><stop offset="0.12" stop-color="#1f46ea" stop-opacity="1.00"/><stop offset="0.19" stop-color="#1f46ea" stop-opacity="1.00"/><stop offset="0.25" stop-color="#1f46ea" stop-opacity="1.00"/><stop offset="0.31" stop-color="#1f46ea" stop-opacity="0.83"/><stop offset="0.38" stop-color="#1f46ea" stop-opacity="0.59"/><stop offset="0.44" stop-color="#1f46ea" stop-opacity="0.44"/><stop offset="0.50" stop-color="#1f46ea" stop-opacity="0.34"/><stop offset="0.56" stop-color="#1f46ea" stop-opacity="0.27"/><stop offset="0.62" stop-color="#1f46ea" stop-opacity="0.22"/><stop offset="0.69" stop-color="#1f46ea" stop-opacity="0.18"/><stop offset="0.75" stop-color="#1f46ea" stop-opacity="0.14"/><stop offset="0.81" stop-color="#1f46ea" stop-opacity="0.09"/><stop offset="0.88" stop-color="#1f46ea" stop-opacity="0.05"/><stop offset="0.94" stop-color="#1f46ea" stop-opacity="0.02"/><stop offset="1.00" stop-color="#1f46ea" stop-opacity="0.00"/></linearGradient>
<rect x="805.9" y="394" width="18.6" height="8.2" fill="url(#g37)"/>
<linearGradient id="g38" x1="0" y1="1" x2="0" y2="0"><stop offset="0.00" stop-color="#b3d3de" stop-opacity="1.00"/><stop offset="0.06" stop-color="#b3d3de" stop-opacity="1.00"/><stop offset="0.12" stop-color="#b3d3de" stop-opacity="1.00"/><stop offset="0.19" stop-color="#b3d3de" stop-opacity="0.92"/><stop offset="0.25" stop-color="#b3d3de" stop-opacity="0.67"/><stop offset="0.31" stop-color="#b3d3de" stop-opacity="0.51"/><stop offset="0.38" stop-color="#b3d3de" stop-opacity="0.40"/><stop offset="0.44" stop-color="#b3d3de" stop-opacity="0.32"/><stop offset="0.50" stop-color="#b3d3de" stop-opacity="0.27"/><stop offset="0.56" stop-color="#b3d3de" stop-opacity="0.22"/><stop offset="0.62" stop-color="#b3d3de" stop-opacity="0.18"/><stop offset="0.69" stop-color="#b3d3de" stop-opacity="0.15"/><stop offset="0.75" stop-color="#b3d3de" stop-opacity="0.13"/><stop offset="0.81" stop-color="#b3d3de" stop-opacity="0.08"/><stop offset="0.88" stop-color="#b3d3de" stop-opacity="0.05"/><stop offset="0.94" stop-color="#b3d3de" stop-opacity="0.02"/><stop offset="1.00" stop-color="#b3d3de" stop-opacity="0.00"/></linearGradient>
<rect x="828" y="391.5" width="18.4" height="10.7" fill="url(#g38)"/>
<linearGradient id="g39" x1="0" y1="1" x2="0" y2="0"><stop offset="0.00" stop-color="#1f46ea" stop-opacity="1.00"/><stop offset="0.06" stop-color="#1f46ea" stop-opacity="1.00"/><stop offset="0.12" stop-color="#1f46ea" stop-opacity="1.00"/><stop offset="0.19" stop-color="#1f46ea" stop-opacity="1.00"/><stop offset="0.25" stop-color="#1f46ea" stop-opacity="1.00"/><stop offset="0.31" stop-color="#1f46ea" stop-opacity="0.83"/><stop offset="0.38" stop-color="#1f46ea" stop-opacity="0.59"/><stop offset="0.44" stop-color="#1f46ea" stop-opacity="0.44"/><stop offset="0.50" stop-color="#1f46ea" stop-opacity="0.34"/><stop offset="0.56" stop-color="#1f46ea" stop-opacity="0.27"/><stop offset="0.62" stop-color="#1f46ea" stop-opacity="0.22"/><stop offset="0.69" stop-color="#1f46ea" stop-opacity="0.18"/><stop offset="0.75" stop-color="#1f46ea" stop-opacity="0.14"/><stop offset="0.81" stop-color="#1f46ea" stop-opacity="0.09"/><stop offset="0.88" stop-color="#1f46ea" stop-opacity="0.05"/><stop offset="0.94" stop-color="#1f46ea" stop-opacity="0.02"/><stop offset="1.00" stop-color="#1f46ea" stop-opacity="0.00"/></linearGradient>
<rect x="848.3" y="394" width="18.6" height="8.2" fill="url(#g39)"/>
<linearGradient id="g40" x1="0" y1="1" x2="0" y2="0"><stop offset="0.00" stop-color="#b3d3de" stop-opacity="1.00"/><stop offset="0.06" stop-color="#b3d3de" stop-opacity="1.00"/><stop offset="0.12" stop-color="#b3d3de" stop-opacity="1.00"/><stop offset="0.19" stop-color="#b3d3de" stop-opacity="0.92"/><stop offset="0.25" stop-color="#b3d3de" stop-opacity="0.67"/><stop offset="0.31" stop-color="#b3d3de" stop-opacity="0.51"/><stop offset="0.38" stop-color="#b3d3de" stop-opacity="0.40"/><stop offset="0.44" stop-color="#b3d3de" stop-opacity="0.32"/><stop offset="0.50" stop-color="#b3d3de" stop-opacity="0.27"/><stop offset="0.56" stop-color="#b3d3de" stop-opacity="0.22"/><stop offset="0.62" stop-color="#b3d3de" stop-opacity="0.18"/><stop offset="0.69" stop-color="#b3d3de" stop-opacity="0.15"/><stop offset="0.75" stop-color="#b3d3de" stop-opacity="0.13"/><stop offset="0.81" stop-color="#b3d3de" stop-opacity="0.08"/><stop offset="0.88" stop-color="#b3d3de" stop-opacity="0.05"/><stop offset="0.94" stop-color="#b3d3de" stop-opacity="0.02"/><stop offset="1.00" stop-color="#b3d3de" stop-opacity="0.00"/></linearGradient>
<rect x="869.6" y="391.5" width="17.8" height="10.7" fill="url(#g40)"/>
<linearGradient id="g41" x1="0" y1="1" x2="0" y2="0"><stop offset="0.00" stop-color="#1f46ea" stop-opacity="1.00"/><stop offset="0.06" stop-color="#1f46ea" stop-opacity="1.00"/><stop offset="0.12" stop-color="#1f46ea" stop-opacity="1.00"/><stop offset="0.19" stop-color="#1f46ea" stop-opacity="1.00"/><stop offset="0.25" stop-color="#1f46ea" stop-opacity="1.00"/><stop offset="0.31" stop-color="#1f46ea" stop-opacity="0.83"/><stop offset="0.38" stop-color="#1f46ea" stop-opacity="0.59"/><stop offset="0.44" stop-color="#1f46ea" stop-opacity="0.44"/><stop offset="0.50" stop-color="#1f46ea" stop-opacity="0.34"/><stop offset="0.56" stop-color="#1f46ea" stop-opacity="0.27"/><stop offset="0.62" stop-color="#1f46ea" stop-opacity="0.22"/><stop offset="0.69" stop-color="#1f46ea" stop-opacity="0.18"/><stop offset="0.75" stop-color="#1f46ea" stop-opacity="0.14"/><stop offset="0.81" stop-color="#1f46ea" stop-opacity="0.09"/><stop offset="0.88" stop-color="#1f46ea" stop-opacity="0.05"/><stop offset="0.94" stop-color="#1f46ea" stop-opacity="0.02"/><stop offset="1.00" stop-color="#1f46ea" stop-opacity="0.00"/></linearGradient>
<rect x="890.5" y="394" width="17.1" height="8.2" fill="url(#g41)"/>
<linearGradient id="g42" x1="0" y1="1" x2="0" y2="0"><stop offset="0.00" stop-color="#b3d3de" stop-opacity="1.00"/><stop offset="0.06" stop-color="#b3d3de" stop-opacity="1.00"/><stop offset="0.12" stop-color="#b3d3de" stop-opacity="1.00"/><stop offset="0.19" stop-color="#b3d3de" stop-opacity="0.92"/><stop offset="0.25" stop-color="#b3d3de" stop-opacity="0.67"/><stop offset="0.31" stop-color="#b3d3de" stop-opacity="0.51"/><stop offset="0.38" stop-color="#b3d3de" stop-opacity="0.40"/><stop offset="0.44" stop-color="#b3d3de" stop-opacity="0.32"/><stop offset="0.50" stop-color="#b3d3de" stop-opacity="0.27"/><stop offset="0.56" stop-color="#b3d3de" stop-opacity="0.22"/><stop offset="0.62" stop-color="#b3d3de" stop-opacity="0.18"/><stop offset="0.69" stop-color="#b3d3de" stop-opacity="0.15"/><stop offset="0.75" stop-color="#b3d3de" stop-opacity="0.13"/><stop offset="0.81" stop-color="#b3d3de" stop-opacity="0.08"/><stop offset="0.88" stop-color="#b3d3de" stop-opacity="0.05"/><stop offset="0.94" stop-color="#b3d3de" stop-opacity="0.02"/><stop offset="1.00" stop-color="#b3d3de" stop-opacity="0.00"/></linearGradient>
<rect x="910.7" y="391.5" width="16.8" height="10.7" fill="url(#g42)"/>
<linearGradient id="g43" x1="0" y1="1" x2="0" y2="0"><stop offset="0.00" stop-color="#1f46ea" stop-opacity="1.00"/><stop offset="0.06" stop-color="#1f46ea" stop-opacity="1.00"/><stop offset="0.12" stop-color="#1f46ea" stop-opacity="1.00"/><stop offset="0.19" stop-color="#1f46ea" stop-opacity="1.00"/><stop offset="0.25" stop-color="#1f46ea" stop-opacity="1.00"/><stop offset="0.31" stop-color="#1f46ea" stop-opacity="0.83"/><stop offset="0.38" stop-color="#1f46ea" stop-opacity="0.59"/><stop offset="0.44" stop-color="#1f46ea" stop-opacity="0.44"/><stop offset="0.50" stop-color="#1f46ea" stop-opacity="0.34"/><stop offset="0.56" stop-color="#1f46ea" stop-opacity="0.27"/><stop offset="0.62" stop-color="#1f46ea" stop-opacity="0.22"/><stop offset="0.69" stop-color="#1f46ea" stop-opacity="0.18"/><stop offset="0.75" stop-color="#1f46ea" stop-opacity="0.14"/><stop offset="0.81" stop-color="#1f46ea" stop-opacity="0.09"/><stop offset="0.88" stop-color="#1f46ea" stop-opacity="0.05"/><stop offset="0.94" stop-color="#1f46ea" stop-opacity="0.02"/><stop offset="1.00" stop-color="#1f46ea" stop-opacity="0.00"/></linearGradient>
<rect x="930.6" y="394" width="16.2" height="8.2" fill="url(#g43)"/>
<linearGradient id="g44" x1="0" y1="1" x2="0" y2="0"><stop offset="0.00" stop-color="#b3d3de" stop-opacity="1.00"/><stop offset="0.06" stop-color="#b3d3de" stop-opacity="1.00"/><stop offset="0.12" stop-color="#b3d3de" stop-opacity="1.00"/><stop offset="0.19" stop-color="#b3d3de" stop-opacity="0.92"/><stop offset="0.25" stop-color="#b3d3de" stop-opacity="0.67"/><stop offset="0.31" stop-color="#b3d3de" stop-opacity="0.51"/><stop offset="0.38" stop-color="#b3d3de" stop-opacity="0.40"/><stop offset="0.44" stop-color="#b3d3de" stop-opacity="0.32"/><stop offset="0.50" stop-color="#b3d3de" stop-opacity="0.27"/><stop offset="0.56" stop-color="#b3d3de" stop-opacity="0.22"/><stop offset="0.62" stop-color="#b3d3de" stop-opacity="0.18"/><stop offset="0.69" stop-color="#b3d3de" stop-opacity="0.15"/><stop offset="0.75" stop-color="#b3d3de" stop-opacity="0.13"/><stop offset="0.81" stop-color="#b3d3de" stop-opacity="0.08"/><stop offset="0.88" stop-color="#b3d3de" stop-opacity="0.05"/><stop offset="0.94" stop-color="#b3d3de" stop-opacity="0.02"/><stop offset="1.00" stop-color="#b3d3de" stop-opacity="0.00"/></linearGradient>
<rect x="950.5" y="391.5" width="15.3" height="10.7" fill="url(#g44)"/>
<linearGradient id="g45" x1="0" y1="1" x2="0" y2="0"><stop offset="0.00" stop-color="#1f46ea" stop-opacity="1.00"/><stop offset="0.06" stop-color="#1f46ea" stop-opacity="1.00"/><stop offset="0.12" stop-color="#1f46ea" stop-opacity="1.00"/><stop offset="0.19" stop-color="#1f46ea" stop-opacity="1.00"/><stop offset="0.25" stop-color="#1f46ea" stop-opacity="1.00"/><stop offset="0.31" stop-color="#1f46ea" stop-opacity="0.83"/><stop offset="0.38" stop-color="#1f46ea" stop-opacity="0.59"/><stop offset="0.44" stop-color="#1f46ea" stop-opacity="0.44"/><stop offset="0.50" stop-color="#1f46ea" stop-opacity="0.34"/><stop offset="0.56" stop-color="#1f46ea" stop-opacity="0.27"/><stop offset="0.62" stop-color="#1f46ea" stop-opacity="0.22"/><stop offset="0.69" stop-color="#1f46ea" stop-opacity="0.18"/><stop offset="0.75" stop-color="#1f46ea" stop-opacity="0.14"/><stop offset="0.81" stop-color="#1f46ea" stop-opacity="0.09"/><stop offset="0.88" stop-color="#1f46ea" stop-opacity="0.05"/><stop offset="0.94" stop-color="#1f46ea" stop-opacity="0.02"/><stop offset="1.00" stop-color="#1f46ea" stop-opacity="0.00"/></linearGradient>
<rect x="968.9" y="394" width="15.3" height="8.2" fill="url(#g45)"/>
<linearGradient id="g46" x1="0" y1="1" x2="0" y2="0"><stop offset="0.00" stop-color="#b3d3de" stop-opacity="1.00"/><stop offset="0.06" stop-color="#b3d3de" stop-opacity="1.00"/><stop offset="0.12" stop-color="#b3d3de" stop-opacity="1.00"/><stop offset="0.19" stop-color="#b3d3de" stop-opacity="0.92"/><stop offset="0.25" stop-color="#b3d3de" stop-opacity="0.67"/><stop offset="0.31" stop-color="#b3d3de" stop-opacity="0.51"/><stop offset="0.38" stop-color="#b3d3de" stop-opacity="0.40"/><stop offset="0.44" stop-color="#b3d3de" stop-opacity="0.32"/><stop offset="0.50" stop-color="#b3d3de" stop-opacity="0.27"/><stop offset="0.56" stop-color="#b3d3de" stop-opacity="0.22"/><stop offset="0.62" stop-color="#b3d3de" stop-opacity="0.18"/><stop offset="0.69" stop-color="#b3d3de" stop-opacity="0.15"/><stop offset="0.75" stop-color="#b3d3de" stop-opacity="0.13"/><stop offset="0.81" stop-color="#b3d3de" stop-opacity="0.08"/><stop offset="0.88" stop-color="#b3d3de" stop-opacity="0.05"/><stop offset="0.94" stop-color="#b3d3de" stop-opacity="0.02"/><stop offset="1.00" stop-color="#b3d3de" stop-opacity="0.00"/></linearGradient>
<rect x="987.3" y="391.5" width="15.3" height="10.7" fill="url(#g46)"/>
<linearGradient id="g47" x1="0" y1="1" x2="0" y2="0"><stop offset="0.00" stop-color="#1f46ea" stop-opacity="1.00"/><stop offset="0.06" stop-color="#1f46ea" stop-opacity="1.00"/><stop offset="0.12" stop-color="#1f46ea" stop-opacity="1.00"/><stop offset="0.19" stop-color="#1f46ea" stop-opacity="1.00"/><stop offset="0.25" stop-color="#1f46ea" stop-opacity="1.00"/><stop offset="0.31" stop-color="#1f46ea" stop-opacity="0.83"/><stop offset="0.38" stop-color="#1f46ea" stop-opacity="0.59"/><stop offset="0.44" stop-color="#1f46ea" stop-opacity="0.44"/><stop offset="0.50" stop-color="#1f46ea" stop-opacity="0.34"/><stop offset="0.56" stop-color="#1f46ea" stop-opacity="0.27"/><stop offset="0.62" stop-color="#1f46ea" stop-opacity="0.22"/><stop offset="0.69" stop-color="#1f46ea" stop-opacity="0.18"/><stop offset="0.75" stop-color="#1f46ea" stop-opacity="0.14"/><stop offset="0.81" stop-color="#1f46ea" stop-opacity="0.09"/><stop offset="0.88" stop-color="#1f46ea" stop-opacity="0.05"/><stop offset="0.94" stop-color="#1f46ea" stop-opacity="0.02"/><stop offset="1.00" stop-color="#1f46ea" stop-opacity="0.00"/></linearGradient>
<rect x="1005" y="394" width="15.4" height="8.2" fill="url(#g47)"/>
<linearGradient id="g48" x1="0" y1="1" x2="0" y2="0"><stop offset="0.00" stop-color="#b3d3de" stop-opacity="1.00"/><stop offset="0.06" stop-color="#b3d3de" stop-opacity="1.00"/><stop offset="0.12" stop-color="#b3d3de" stop-opacity="1.00"/><stop offset="0.19" stop-color="#b3d3de" stop-opacity="0.92"/><stop offset="0.25" stop-color="#b3d3de" stop-opacity="0.67"/><stop offset="0.31" stop-color="#b3d3de" stop-opacity="0.51"/><stop offset="0.38" stop-color="#b3d3de" stop-opacity="0.40"/><stop offset="0.44" stop-color="#b3d3de" stop-opacity="0.32"/><stop offset="0.50" stop-color="#b3d3de" stop-opacity="0.27"/><stop offset="0.56" stop-color="#b3d3de" stop-opacity="0.22"/><stop offset="0.62" stop-color="#b3d3de" stop-opacity="0.18"/><stop offset="0.69" stop-color="#b3d3de" stop-opacity="0.15"/><stop offset="0.75" stop-color="#b3d3de" stop-opacity="0.13"/><stop offset="0.81" stop-color="#b3d3de" stop-opacity="0.08"/><stop offset="0.88" stop-color="#b3d3de" stop-opacity="0.05"/><stop offset="0.94" stop-color="#b3d3de" stop-opacity="0.02"/><stop offset="1.00" stop-color="#b3d3de" stop-opacity="0.00"/></linearGradient>
<rect x="1022.5" y="391.5" width="15.4" height="10.7" fill="url(#g48)"/>
<linearGradient id="g49" x1="0" y1="1" x2="0" y2="0"><stop offset="0.00" stop-color="#1f46ea" stop-opacity="1.00"/><stop offset="0.06" stop-color="#1f46ea" stop-opacity="1.00"/><stop offset="0.12" stop-color="#1f46ea" stop-opacity="1.00"/><stop offset="0.19" stop-color="#1f46ea" stop-opacity="1.00"/><stop offset="0.25" stop-color="#1f46ea" stop-opacity="1.00"/><stop offset="0.31" stop-color="#1f46ea" stop-opacity="0.83"/><stop offset="0.38" stop-color="#1f46ea" stop-opacity="0.59"/><stop offset="0.44" stop-color="#1f46ea" stop-opacity="0.44"/><stop offset="0.50" stop-color="#1f46ea" stop-opacity="0.34"/><stop offset="0.56" stop-color="#1f46ea" stop-opacity="0.27"/><stop offset="0.62" stop-color="#1f46ea" stop-opacity="0.22"/><stop offset="0.69" stop-color="#1f46ea" stop-opacity="0.18"/><stop offset="0.75" stop-color="#1f46ea" stop-opacity="0.14"/><stop offset="0.81" stop-color="#1f46ea" stop-opacity="0.09"/><stop offset="0.88" stop-color="#1f46ea" stop-opacity="0.05"/><stop offset="0.94" stop-color="#1f46ea" stop-opacity="0.02"/><stop offset="1.00" stop-color="#1f46ea" stop-opacity="0.00"/></linearGradient>
<rect x="1041" y="394" width="14.4" height="8.2" fill="url(#g49)"/>
<linearGradient id="g50" x1="0" y1="1" x2="0" y2="0"><stop offset="0.00" stop-color="#b3d3de" stop-opacity="1.00"/><stop offset="0.06" stop-color="#b3d3de" stop-opacity="1.00"/><stop offset="0.12" stop-color="#b3d3de" stop-opacity="1.00"/><stop offset="0.19" stop-color="#b3d3de" stop-opacity="0.92"/><stop offset="0.25" stop-color="#b3d3de" stop-opacity="0.67"/><stop offset="0.31" stop-color="#b3d3de" stop-opacity="0.51"/><stop offset="0.38" stop-color="#b3d3de" stop-opacity="0.40"/><stop offset="0.44" stop-color="#b3d3de" stop-opacity="0.32"/><stop offset="0.50" stop-color="#b3d3de" stop-opacity="0.27"/><stop offset="0.56" stop-color="#b3d3de" stop-opacity="0.22"/><stop offset="0.62" stop-color="#b3d3de" stop-opacity="0.18"/><stop offset="0.69" stop-color="#b3d3de" stop-opacity="0.15"/><stop offset="0.75" stop-color="#b3d3de" stop-opacity="0.13"/><stop offset="0.81" stop-color="#b3d3de" stop-opacity="0.08"/><stop offset="0.88" stop-color="#b3d3de" stop-opacity="0.05"/><stop offset="0.94" stop-color="#b3d3de" stop-opacity="0.02"/><stop offset="1.00" stop-color="#b3d3de" stop-opacity="0.00"/></linearGradient>
<rect x="1057.8" y="391.5" width="15.3" height="10.7" fill="url(#g50)"/>
<linearGradient id="g51" x1="0" y1="1" x2="0" y2="0"><stop offset="0.00" stop-color="#1f46ea" stop-opacity="1.00"/><stop offset="0.06" stop-color="#1f46ea" stop-opacity="1.00"/><stop offset="0.12" stop-color="#1f46ea" stop-opacity="1.00"/><stop offset="0.19" stop-color="#1f46ea" stop-opacity="1.00"/><stop offset="0.25" stop-color="#1f46ea" stop-opacity="1.00"/><stop offset="0.31" stop-color="#1f46ea" stop-opacity="0.83"/><stop offset="0.38" stop-color="#1f46ea" stop-opacity="0.59"/><stop offset="0.44" stop-color="#1f46ea" stop-opacity="0.44"/><stop offset="0.50" stop-color="#1f46ea" stop-opacity="0.34"/><stop offset="0.56" stop-color="#1f46ea" stop-opacity="0.27"/><stop offset="0.62" stop-color="#1f46ea" stop-opacity="0.22"/><stop offset="0.69" stop-color="#1f46ea" stop-opacity="0.18"/><stop offset="0.75" stop-color="#1f46ea" stop-opacity="0.14"/><stop offset="0.81" stop-color="#1f46ea" stop-opacity="0.09"/><stop offset="0.88" stop-color="#1f46ea" stop-opacity="0.05"/><stop offset="0.94" stop-color="#1f46ea" stop-opacity="0.02"/><stop offset="1.00" stop-color="#1f46ea" stop-opacity="0.00"/></linearGradient>
<rect x="1076.2" y="394" width="14.7" height="8.2" fill="url(#g51)"/>
<linearGradient id="g52" x1="0" y1="1" x2="0" y2="0"><stop offset="0.00" stop-color="#b3d3de" stop-opacity="1.00"/><stop offset="0.06" stop-color="#b3d3de" stop-opacity="1.00"/><stop offset="0.12" stop-color="#b3d3de" stop-opacity="1.00"/><stop offset="0.19" stop-color="#b3d3de" stop-opacity="0.92"/><stop offset="0.25" stop-color="#b3d3de" stop-opacity="0.67"/><stop offset="0.31" stop-color="#b3d3de" stop-opacity="0.51"/><stop offset="0.38" stop-color="#b3d3de" stop-opacity="0.40"/><stop offset="0.44" stop-color="#b3d3de" stop-opacity="0.32"/><stop offset="0.50" stop-color="#b3d3de" stop-opacity="0.27"/><stop offset="0.56" stop-color="#b3d3de" stop-opacity="0.22"/><stop offset="0.62" stop-color="#b3d3de" stop-opacity="0.18"/><stop offset="0.69" stop-color="#b3d3de" stop-opacity="0.15"/><stop offset="0.75" stop-color="#b3d3de" stop-opacity="0.13"/><stop offset="0.81" stop-color="#b3d3de" stop-opacity="0.08"/><stop offset="0.88" stop-color="#b3d3de" stop-opacity="0.05"/><stop offset="0.94" stop-color="#b3d3de" stop-opacity="0.02"/><stop offset="1.00" stop-color="#b3d3de" stop-opacity="0.00"/></linearGradient>
<rect x="1093" y="391.5" width="15.4" height="10.7" fill="url(#g52)"/>
<linearGradient id="g53" x1="0" y1="1" x2="0" y2="0"><stop offset="0.00" stop-color="#1f46ea" stop-opacity="1.00"/><stop offset="0.06" stop-color="#1f46ea" stop-opacity="1.00"/><stop offset="0.12" stop-color="#1f46ea" stop-opacity="1.00"/><stop offset="0.19" stop-color="#1f46ea" stop-opacity="1.00"/><stop offset="0.25" stop-color="#1f46ea" stop-opacity="1.00"/><stop offset="0.31" stop-color="#1f46ea" stop-opacity="0.83"/><stop offset="0.38" stop-color="#1f46ea" stop-opacity="0.59"/><stop offset="0.44" stop-color="#1f46ea" stop-opacity="0.44"/><stop offset="0.50" stop-color="#1f46ea" stop-opacity="0.34"/><stop offset="0.56" stop-color="#1f46ea" stop-opacity="0.27"/><stop offset="0.62" stop-color="#1f46ea" stop-opacity="0.22"/><stop offset="0.69" stop-color="#1f46ea" stop-opacity="0.18"/><stop offset="0.75" stop-color="#1f46ea" stop-opacity="0.14"/><stop offset="0.81" stop-color="#1f46ea" stop-opacity="0.09"/><stop offset="0.88" stop-color="#1f46ea" stop-opacity="0.05"/><stop offset="0.94" stop-color="#1f46ea" stop-opacity="0.02"/><stop offset="1.00" stop-color="#1f46ea" stop-opacity="0.00"/></linearGradient>
<rect x="1111.4" y="394" width="13.8" height="8.2" fill="url(#g53)"/>
<linearGradient id="g54" x1="0" y1="1" x2="0" y2="0"><stop offset="0.00" stop-color="#b3d3de" stop-opacity="1.00"/><stop offset="0.06" stop-color="#b3d3de" stop-opacity="1.00"/><stop offset="0.12" stop-color="#b3d3de" stop-opacity="1.00"/><stop offset="0.19" stop-color="#b3d3de" stop-opacity="0.92"/><stop offset="0.25" stop-color="#b3d3de" stop-opacity="0.67"/><stop offset="0.31" stop-color="#b3d3de" stop-opacity="0.51"/><stop offset="0.38" stop-color="#b3d3de" stop-opacity="0.40"/><stop offset="0.44" stop-color="#b3d3de" stop-opacity="0.32"/><stop offset="0.50" stop-color="#b3d3de" stop-opacity="0.27"/><stop offset="0.56" stop-color="#b3d3de" stop-opacity="0.22"/><stop offset="0.62" stop-color="#b3d3de" stop-opacity="0.18"/><stop offset="0.69" stop-color="#b3d3de" stop-opacity="0.15"/><stop offset="0.75" stop-color="#b3d3de" stop-opacity="0.13"/><stop offset="0.81" stop-color="#b3d3de" stop-opacity="0.08"/><stop offset="0.88" stop-color="#b3d3de" stop-opacity="0.05"/><stop offset="0.94" stop-color="#b3d3de" stop-opacity="0.02"/><stop offset="1.00" stop-color="#b3d3de" stop-opacity="0.00"/></linearGradient>
<rect x="1128.3" y="391.5" width="13.8" height="10.7" fill="url(#g54)"/>
<linearGradient id="g55" x1="0" y1="1" x2="0" y2="0"><stop offset="0.00" stop-color="#1f46ea" stop-opacity="1.00"/><stop offset="0.06" stop-color="#1f46ea" stop-opacity="1.00"/><stop offset="0.12" stop-color="#1f46ea" stop-opacity="1.00"/><stop offset="0.19" stop-color="#1f46ea" stop-opacity="1.00"/><stop offset="0.25" stop-color="#1f46ea" stop-opacity="1.00"/><stop offset="0.31" stop-color="#1f46ea" stop-opacity="0.83"/><stop offset="0.38" stop-color="#1f46ea" stop-opacity="0.59"/><stop offset="0.44" stop-color="#1f46ea" stop-opacity="0.44"/><stop offset="0.50" stop-color="#1f46ea" stop-opacity="0.34"/><stop offset="0.56" stop-color="#1f46ea" stop-opacity="0.27"/><stop offset="0.62" stop-color="#1f46ea" stop-opacity="0.22"/><stop offset="0.69" stop-color="#1f46ea" stop-opacity="0.18"/><stop offset="0.75" stop-color="#1f46ea" stop-opacity="0.14"/><stop offset="0.81" stop-color="#1f46ea" stop-opacity="0.09"/><stop offset="0.88" stop-color="#1f46ea" stop-opacity="0.05"/><stop offset="0.94" stop-color="#1f46ea" stop-opacity="0.02"/><stop offset="1.00" stop-color="#1f46ea" stop-opacity="0.00"/></linearGradient>
<rect x="1145.2" y="394" width="13.2" height="8.2" fill="url(#g55)"/>
<linearGradient id="g56" x1="0" y1="1" x2="0" y2="0"><stop offset="0.00" stop-color="#b3d3de" stop-opacity="1.00"/><stop offset="0.06" stop-color="#b3d3de" stop-opacity="1.00"/><stop offset="0.12" stop-color="#b3d3de" stop-opacity="1.00"/><stop offset="0.19" stop-color="#b3d3de" stop-opacity="0.92"/><stop offset="0.25" stop-color="#b3d3de" stop-opacity="0.67"/><stop offset="0.31" stop-color="#b3d3de" stop-opacity="0.51"/><stop offset="0.38" stop-color="#b3d3de" stop-opacity="0.40"/><stop offset="0.44" stop-color="#b3d3de" stop-opacity="0.32"/><stop offset="0.50" stop-color="#b3d3de" stop-opacity="0.27"/><stop offset="0.56" stop-color="#b3d3de" stop-opacity="0.22"/><stop offset="0.62" stop-color="#b3d3de" stop-opacity="0.18"/><stop offset="0.69" stop-color="#b3d3de" stop-opacity="0.15"/><stop offset="0.75" stop-color="#b3d3de" stop-opacity="0.13"/><stop offset="0.81" stop-color="#b3d3de" stop-opacity="0.08"/><stop offset="0.88" stop-color="#b3d3de" stop-opacity="0.05"/><stop offset="0.94" stop-color="#b3d3de" stop-opacity="0.02"/><stop offset="1.00" stop-color="#b3d3de" stop-opacity="0.00"/></linearGradient>
<rect x="1160.5" y="391.5" width="13.8" height="10.7" fill="url(#g56)"/>
<linearGradient id="g57" x1="0" y1="1" x2="0" y2="0"><stop offset="0.00" stop-color="#1f46ea" stop-opacity="1.00"/><stop offset="0.06" stop-color="#1f46ea" stop-opacity="1.00"/><stop offset="0.12" stop-color="#1f46ea" stop-opacity="1.00"/><stop offset="0.19" stop-color="#1f46ea" stop-opacity="1.00"/><stop offset="0.25" stop-color="#1f46ea" stop-opacity="1.00"/><stop offset="0.31" stop-color="#1f46ea" stop-opacity="0.83"/><stop offset="0.38" stop-color="#1f46ea" stop-opacity="0.59"/><stop offset="0.44" stop-color="#1f46ea" stop-opacity="0.44"/><stop offset="0.50" stop-color="#1f46ea" stop-opacity="0.34"/><stop offset="0.56" stop-color="#1f46ea" stop-opacity="0.27"/><stop offset="0.62" stop-color="#1f46ea" stop-opacity="0.22"/><stop offset="0.69" stop-color="#1f46ea" stop-opacity="0.18"/><stop offset="0.75" stop-color="#1f46ea" stop-opacity="0.14"/><stop offset="0.81" stop-color="#1f46ea" stop-opacity="0.09"/><stop offset="0.88" stop-color="#1f46ea" stop-opacity="0.05"/><stop offset="0.94" stop-color="#1f46ea" stop-opacity="0.02"/><stop offset="1.00" stop-color="#1f46ea" stop-opacity="0.00"/></linearGradient>
<rect x="1177.4" y="394" width="11.6" height="8.2" fill="url(#g57)"/>
<linearGradient id="g58" x1="0" y1="1" x2="0" y2="0"><stop offset="0.00" stop-color="#b3d3de" stop-opacity="1.00"/><stop offset="0.06" stop-color="#b3d3de" stop-opacity="1.00"/><stop offset="0.12" stop-color="#b3d3de" stop-opacity="1.00"/><stop offset="0.19" stop-color="#b3d3de" stop-opacity="0.92"/><stop offset="0.25" stop-color="#b3d3de" stop-opacity="0.67"/><stop offset="0.31" stop-color="#b3d3de" stop-opacity="0.51"/><stop offset="0.38" stop-color="#b3d3de" stop-opacity="0.40"/><stop offset="0.44" stop-color="#b3d3de" stop-opacity="0.32"/><stop offset="0.50" stop-color="#b3d3de" stop-opacity="0.27"/><stop offset="0.56" stop-color="#b3d3de" stop-opacity="0.22"/><stop offset="0.62" stop-color="#b3d3de" stop-opacity="0.18"/><stop offset="0.69" stop-color="#b3d3de" stop-opacity="0.15"/><stop offset="0.75" stop-color="#b3d3de" stop-opacity="0.13"/><stop offset="0.81" stop-color="#b3d3de" stop-opacity="0.08"/><stop offset="0.88" stop-color="#b3d3de" stop-opacity="0.05"/><stop offset="0.94" stop-color="#b3d3de" stop-opacity="0.02"/><stop offset="1.00" stop-color="#b3d3de" stop-opacity="0.00"/></linearGradient>
<rect x="1192.7" y="391.5" width="12.3" height="10.7" fill="url(#g58)"/>
<linearGradient id="g59" x1="0" y1="1" x2="0" y2="0"><stop offset="0.00" stop-color="#1f46ea" stop-opacity="1.00"/><stop offset="0.06" stop-color="#1f46ea" stop-opacity="1.00"/><stop offset="0.12" stop-color="#1f46ea" stop-opacity="1.00"/><stop offset="0.19" stop-color="#1f46ea" stop-opacity="1.00"/><stop offset="0.25" stop-color="#1f46ea" stop-opacity="1.00"/><stop offset="0.31" stop-color="#1f46ea" stop-opacity="0.83"/><stop offset="0.38" stop-color="#1f46ea" stop-opacity="0.59"/><stop offset="0.44" stop-color="#1f46ea" stop-opacity="0.44"/><stop offset="0.50" stop-color="#1f46ea" stop-opacity="0.34"/><stop offset="0.56" stop-color="#1f46ea" stop-opacity="0.27"/><stop offset="0.62" stop-color="#1f46ea" stop-opacity="0.22"/><stop offset="0.69" stop-color="#1f46ea" stop-opacity="0.18"/><stop offset="0.75" stop-color="#1f46ea" stop-opacity="0.14"/><stop offset="0.81" stop-color="#1f46ea" stop-opacity="0.09"/><stop offset="0.88" stop-color="#1f46ea" stop-opacity="0.05"/><stop offset="0.94" stop-color="#1f46ea" stop-opacity="0.02"/><stop offset="1.00" stop-color="#1f46ea" stop-opacity="0.00"/></linearGradient>
<rect x="1207.4" y="394" width="10.4" height="8.2" fill="url(#g59)"/>
<linearGradient id="g60" x1="0" y1="1" x2="0" y2="0"><stop offset="0.00" stop-color="#b3d3de" stop-opacity="1.00"/><stop offset="0.06" stop-color="#b3d3de" stop-opacity="1.00"/><stop offset="0.12" stop-color="#b3d3de" stop-opacity="1.00"/><stop offset="0.19" stop-color="#b3d3de" stop-opacity="0.92"/><stop offset="0.25" stop-color="#b3d3de" stop-opacity="0.67"/><stop offset="0.31" stop-color="#b3d3de" stop-opacity="0.51"/><stop offset="0.38" stop-color="#b3d3de" stop-opacity="0.40"/><stop offset="0.44" stop-color="#b3d3de" stop-opacity="0.32"/><stop offset="0.50" stop-color="#b3d3de" stop-opacity="0.27"/><stop offset="0.56" stop-color="#b3d3de" stop-opacity="0.22"/><stop offset="0.62" stop-color="#b3d3de" stop-opacity="0.18"/><stop offset="0.69" stop-color="#b3d3de" stop-opacity="0.15"/><stop offset="0.75" stop-color="#b3d3de" stop-opacity="0.13"/><stop offset="0.81" stop-color="#b3d3de" stop-opacity="0.08"/><stop offset="0.88" stop-color="#b3d3de" stop-opacity="0.05"/><stop offset="0.94" stop-color="#b3d3de" stop-opacity="0.02"/><stop offset="1.00" stop-color="#b3d3de" stop-opacity="0.00"/></linearGradient>
<rect x="1220.3" y="391.5" width="12.2" height="10.7" fill="url(#g60)"/>
<linearGradient id="g61" x1="0" y1="1" x2="0" y2="0"><stop offset="0.00" stop-color="#1f46ea" stop-opacity="1.00"/><stop offset="0.06" stop-color="#1f46ea" stop-opacity="1.00"/><stop offset="0.12" stop-color="#1f46ea" stop-opacity="1.00"/><stop offset="0.19" stop-color="#1f46ea" stop-opacity="1.00"/><stop offset="0.25" stop-color="#1f46ea" stop-opacity="1.00"/><stop offset="0.31" stop-color="#1f46ea" stop-opacity="0.83"/><stop offset="0.38" stop-color="#1f46ea" stop-opacity="0.59"/><stop offset="0.44" stop-color="#1f46ea" stop-opacity="0.44"/><stop offset="0.50" stop-color="#1f46ea" stop-opacity="0.34"/><stop offset="0.56" stop-color="#1f46ea" stop-opacity="0.27"/><stop offset="0.62" stop-color="#1f46ea" stop-opacity="0.22"/><stop offset="0.69" stop-color="#1f46ea" stop-opacity="0.18"/><stop offset="0.75" stop-color="#1f46ea" stop-opacity="0.14"/><stop offset="0.81" stop-color="#1f46ea" stop-opacity="0.09"/><stop offset="0.88" stop-color="#1f46ea" stop-opacity="0.05"/><stop offset="0.94" stop-color="#1f46ea" stop-opacity="0.02"/><stop offset="1.00" stop-color="#1f46ea" stop-opacity="0.00"/></linearGradient>
<rect x="1234" y="394" width="8.3" height="8.2" fill="url(#g61)"/>
<linearGradient id="g62" x1="0" y1="1" x2="0" y2="0"><stop offset="0.00" stop-color="#b3d3de" stop-opacity="1.00"/><stop offset="0.06" stop-color="#b3d3de" stop-opacity="1.00"/><stop offset="0.12" stop-color="#b3d3de" stop-opacity="1.00"/><stop offset="0.19" stop-color="#b3d3de" stop-opacity="0.92"/><stop offset="0.25" stop-color="#b3d3de" stop-opacity="0.67"/><stop offset="0.31" stop-color="#b3d3de" stop-opacity="0.51"/><stop offset="0.38" stop-color="#b3d3de" stop-opacity="0.40"/><stop offset="0.44" stop-color="#b3d3de" stop-opacity="0.32"/><stop offset="0.50" stop-color="#b3d3de" stop-opacity="0.27"/><stop offset="0.56" stop-color="#b3d3de" stop-opacity="0.22"/><stop offset="0.62" stop-color="#b3d3de" stop-opacity="0.18"/><stop offset="0.69" stop-color="#b3d3de" stop-opacity="0.15"/><stop offset="0.75" stop-color="#b3d3de" stop-opacity="0.13"/><stop offset="0.81" stop-color="#b3d3de" stop-opacity="0.08"/><stop offset="0.88" stop-color="#b3d3de" stop-opacity="0.05"/><stop offset="0.94" stop-color="#b3d3de" stop-opacity="0.02"/><stop offset="1.00" stop-color="#b3d3de" stop-opacity="0.00"/></linearGradient>
<rect x="1244.8" y="391.5" width="7.7" height="10.7" fill="url(#g62)"/>
<path d="M1127.5 402.2 L1129.8 383.7 L1131 332.8 L1132.2 383.7 L1134.5 402.2 Z" fill="#b3d3de"/>
<path transform="scale(0.5)" d="M1370 794h0m4 0h0m0 5h0m12-2h0m4-2h0m2-6h0m6-4h0m0 10h0m4 4h0m4-6h0m4-9h0m1 17h0m0-1h0m2-3h0m4 3h0m0-2h0m0-5h0m1 7h0m65-3h0m3-4h0m2 3h0m2 3h0m5-4h0m0-2h0m1 0h0m1 5h0m1-11h0m2 12h0m6-2h0m2-15h0m1 14h0m4-12h0m1 10h0m0 0h0m2-8h0m1 2h0m52 12h0m5 1h0m4 1h0m3-19h0m1 15h0m2-2h0m3-11h0m2-1h0m0 7h0m0 4h0m0 3h0m0-5h0m1-8h0m0 14h0m5-2h0m3-11h0m1 9h0m1 5h0m57-2h0m0 3h0m1-11h0m1 9h0m0-1h0m1 4h0m4-21h0m1 20h0m2-15h0m1 10h0m2 2h0m2-6h0m3 0h0m2-7h0m1 5h0m2 0h0m9 4h0m0 2h0m55 5h0m3 0h0m0-1h0m3-7h0m3 6h0m5 1h0m3-12h0m2 4h0m1 7h0m1 0h0m1 2h0m1-14h0m1-1h0m1 11h0m1 2h0m2-14h0m0 10h0m1 0h0m52 4h0m0 1h0m2-2h0m3-6h0m2 1h0m0-1h0m1 4h0m1-12h0m0 11h0m1-13h0m2 18h0m0-16h0m4 0h0m10-1h0m0 14h0m2-3h0m1-2h0m1 8h0m49-7h0m0-8h0m2 16h0m4 1h0m0-14h0m0 0h0m2 9h0m0-8h0m1-4h0m2 9h0m1 0h0m3 6h0m2-7h0m1 7h0m3 1h0m2-3h0m1-8h0m3 2h0m47 5h0m1 1h0m1-9h0m2-3h0m2-4h0m0 13h0m1 5h0m1-10h0m1 2h0m1 8h0m1-18h0m4 2h0m0 12h0m2-5h0m1-9h0m1 19h0m6-7h0m1-2h0m41 4h0m4 0h0m2-8h0m0 9h0m4-16h0m1 19h0m6-12h0m2 4h0m0-5h0m1 7h0m0-2h0m2 2h0m0-1h0m2 5h0m0 3h0m4-9h0m2-3h0m0 4h0m41 7h0m2-9h0m0 9h0m1-5h0m0 6h0m2-7h0m0-5h0m3-2h0m2 0h0m1 12h0m3-1h0m4-12h0m1 0h0m5 6h0m0-10h0m1 8h0m2 10h0m2-12h0m43 6h0m4-10h0m2 11h0m1 5h0m0-13h0m5 9h0m1-8h0m3 12h0m1 0h0m1-5h0m1-11h0m0 16h0m1-6h0m3 7h0m0-4h0m2-4h0m2 3h0m1-5h0m42 9h0m0-63h0m0 11h0m0 49h0m1-41h0m0-30h0m0 67h0m0-135h0m1 7h0m0 103h0m0-18h0m0 23h0m0-13h0m0 26h0m0-3h0m0 2h0m0-7h0m0-59h0m0 17h0m0-26h0m1-24h0m0 79h0m0 6h0m0-28h0m0 43h0m0-81h0m0 78h0m0-17h0m0-107h0m0 117h0m0-9h0m0-5h0m0-7h0m0-98h0m0 77h0m0 20h0m0 42h0m0-145h0m0 94h0m0-32h0m1 73h0m0 14h0m0-102h0m0 67h0m0-86h0m0 11h0m0 53h0m0 32h0m0-42h0m0 8h0m0-45h0m0 31h0m0-143h0m1 105h0m0 99h0m0-112h0m0 50h0m0 29h0m0 29h0m0-14h0m0-42h0m0 56h0m0 17h0m0-32h0m0-98h0m0 101h0m0-58h0m0 32h0m0 38h0m0-51h0m0 30h0m0-6h0m1 29h0m0-37h0m0-37h0m0 45h0m0-51h0m1 56h0m0-171h0m0 138h0m1-60h0m0 113h0m0-55h0m1 40h0m0 31h0m0-3h0m3-11h0m2 7h0m0-3h0m2 12h0m6-2h0m0-3h0m1-4h0m1 6h0m46-1h0m0 2h0m4-7h0m1 7h0m3-11h0m2 5h0m1-5h0m0 12h0m1 1h0m1-3h0m0-12h0m1 12h0m1 1h0m1 4h0m0-9h0m0 2h0m0 3h0m2-4h0m40-11h0m1 13h0m1-6h0m1 7h0m0-16h0m1 9h0m1-1h0m1 7h0m0 4h0m4-12h0m1-1h0m3 13h0m1-5h0m1 0h0m0 3h0m1-5h0m0 1h0m6 5h0m32-14h0m0 15h0m1-6h0m0 2h0m0-7h0m4 10h0m3-13h0m0 4h0m0 12h0m1-4h0m1-2h0m0 2h0m2-5h0m1-1h0m0 6h0m6 1h0m2-8h0m1 5h0m27-1h0m2-13h0m0 16h0m2 2h0m0 1h0m1-11h0m1 6h0m1 4h0m2-15h0m1 13h0m0 1h0m0-9h0m0 9h0m2-2h0m1 3h0m0-1h0m0 0h0m2-6h0" stroke="#b3d3de" stroke-width="2.2" stroke-linecap="square" fill="none"/>
<path transform="scale(0.5)" d="M1428 796h0m0 4h0m0-10h0m1 4h0m1 8h0m1-4h0m1-10h0m1-2h0m0 9h0m2-44h0m0 20h0m1 14h0m1 10h0m0 4h0m0 0h0m1-24h0m1 13h0m0 9h0m1-2h0m0 2h0m0-3h0m0-16h0m1 5h0m0-6h0m0 10h0m0 11h0m0-51h0m0 54h0m1-42h0m0-21h0m0 13h0m0 41h0m0-46h0m0-1h0m1 49h0m0 5h0m0-68h0m0 29h0m0 19h0m0 10h0m0 1h0m0-28h0m0 35h0m1-49h0m0 44h0m0-1h0m0-63h0m0 40h0m1 27h0m0-57h0m0-6h0m0 68h0m0-75h0m0 64h0m0 5h0m1-50h0m0 50h0m0-2h0m0-72h0m0 3h0m0 74h0m0-39h0m0-15h0m0 24h0m0 22h0m1-52h0m0-18h0m0 73h0m0-46h0m0 51h0m0-7h0m0 4h0m0-27h0m1 32h0m0-7h0m0-48h0m0 49h0m1-1h0m0-23h0m0-9h0m0 31h0m0 9h0m0-46h0m0-14h0m1-16h0m0 51h0m0-36h0m0 50h0m0-2h0m0-52h0m1 42h0m0-50h0m0 58h0m0-62h0m0 76h0m0-26h0m0-34h0m1 53h0m0-70h0m0 54h0m0-23h0m0 37h0m0-67h0m0 66h0m0 0h0m0-61h0m1 67h0m0-51h0m0-9h0m0 48h0m0 10h0m0 5h0m1 1h0m0-42h0m0-4h0m1-17h0m0-5h0m0-13h0m0 75h0m1-1h0m0-9h0m1 5h0m0 7h0m0-1h0m1-1h0m0-21h0m1-25h0m1 44h0m0 8h0m7 0h0m0 1h0m1-1h0m1-1h0m0-9h0m0-6h0m56 15h0m2-3h0m0-3h0m1-1h0m0 8h0m4-16h0m1 12h0m3 4h0m1 0h0m0 1h0m2-11h0m0 9h0m1-19h0m2-18h0m1 39h0m0-6h0m0-1h0m4 9h0m1-10h0m0 1h0m0 6h0m1-2h0m2-10h0m1 13h0m1-6h0m1 4h0m0-1h0m0-8h0m1-3h0m1 14h0m0-2h0m0-15h0m0 14h0m0 0h0m0 0h0m1 5h0m0-5h0m1-19h0m0 14h0m0 4h0m0 4h0m1-7h0m0 6h0m0-2h0m2 2h0m51-1h0m1 1h0m1-6h0m0 4h0m2 2h0m1-1h0m3-4h0m0 0h0m2 0h0m0 0h0m2 3h0m0-6h0m2 2h0m1 5h0m0 0h0m1 0h0m0 2h0m2-3h0m0 2h0m1-4h0m0-5h0m0 5h0m0-2h0m1 3h0m1 4h0m2-4h0m1-8h0m1-2h0m1 11h0m1-10h0m0 12h0m0-27h0m1 25h0m0-17h0m1-10h0m0 28h0m0-13h0m0 8h0m0-24h0m1 22h0m0-3h0m1 12h0m0-5h0m5-16h0m0 7h0m49 11h0m1-3h0m2 2h0m1-4h0m0-4h0m3-2h0m1-14h0m0 10h0m1 18h0m0 0h0m0-2h0m1-3h0m1-4h0m0 6h0m1 0h0m0-7h0m3-1h0m1-9h0m0 17h0m0-9h0m0 1h0m0 7h0m0-11h0m1 11h0m1-8h0m1 0h0m1 12h0m0-2h0m0-7h0m0 6h0m1-3h0m0-5h0m0 11h0m0 1h0m1-2h0m3-4h0m3 3h0m0-4h0m2 4h0m1 0h0m2-1h0m1 4h0m1-8h0m1-5h0m1 6h0m46-22h0m1-158h0m1 173h0m0 11h0m0 0h0m0-2h0m0 4h0m1-28h0m0 9h0m1 16h0m0-35h0m0 31h0m0 1h0m1 4h0m0-14h0m1-12h0m0 23h0m0 2h0m1 1h0m0-3h0m1-5h0m1-13h0m0-8h0m0 26h0m1-8h0m0 10h0m1-16h0m1 12h0m0-3h0m0 5h0m0-4h0m1 0h0m0 5h0m0 1h0m0 1h0m0-33h0m1 9h0m0 25h0m0-26h0m0-3h0m0 2h0m0 20h0m1-11h0m0-1h0m0 20h0m0-14h0m0 6h0m1 5h0m0-22h0m0 23h0m0-31h0m0 11h0m0-4h0m0 16h0m1-7h0m0 6h0m0-4h0m0-12h0m0 2h0m0 19h0m1-8h0m0-19h0m0 16h0m1 5h0m0 9h0m0-27h0m0 25h0m0-26h0m1-7h0m0 32h0m0-20h0m1 25h0m0-6h0m0 4h0m0-10h0m0 8h0m1-11h0m0 1h0m1 13h0m0-2h0m0-35h0m0 31h0m1-2h0m0-27h0m0 36h0m1-2h0m0 0h0m1-19h0m0 20h0m0-5h0m0-8h0m1-4h0m1 16h0m0-1h0m0-7h0m0 10h0m0-7h0m1 8h0m0-1h0m0-19h0m1 15h0m2-16h0m0-5h0m0 19h0m1-7h0m0 13h0m49-5h0m2 6h0m0-16h0m0 12h0m0-1h0m2-7h0m1 7h0m0 0h0m1 1h0m0-10h0m0 11h0m1-8h0m1-12h0m0 18h0m1 1h0m1-35h0m0 32h0m1-10h0m0 13h0m0-1h0m0 2h0m1 2h0m1-8h0m0-26h0m2 31h0m0-26h0m1 26h0m0-2h0m0-33h0m0 31h0m1-8h0m0 10h0m0 1h0m1 4h0m0-153h0m1 151h0m0 4h0m0-11h0m0 2h0m0 7h0m0-28h0m1-3h0m0-188h0m0 94h0m0 103h0m0 7h0m1 13h0m0-25h0m0-31h0m1 54h0m0-2h0m0-17h0m1-4h0m0 25h0m0 2h0m0-11h0m2-6h0m0-16h0m1 13h0m0-18h0m0 23h0m0 2h0m1 8h0m0-4h0m1-21h0m0 19h0m0 9h0m1 3h0m1 0h0m0-6h0m0 2h0m1 3h0m0-10h0m45 7h0m1-5h0m0 8h0m1 0h0m0-12h0m0 11h0m1-8h0m2-3h0m1 5h0m1 8h0m0-2h0m0-5h0m1-3h0m0 9h0m2-1h0m1-14h0m0-2h0m0 0h0m0 2h0m0 11h0m0-12h0m1 6h0m0 8h0m0-3h0m1 2h0m1-1h0m0-15h0m0 15h0m1-15h0m0 19h0m0-8h0m1-9h0m0 19h0m0-6h0m0 4h0m0-9h0m1 7h0m1-7h0m3 8h0m0-7h0m1 7h0m2 0h0m3-7h0m2-1h0m1 8h0m43-5h0m0 6h0m0-8h0m0-12h0m1 19h0m1-4h0m0-6h0m0-13h0m1 22h0m1-5h0m1 6h0m1-2h0m0 4h0m1-2h0m0 1h0m1-7h0m0 4h0m1 2h0m0-1h0m0-8h0m1 10h0m0-2h0m0-4h0m1-1h0m0-12h0m0 14h0m1-14h0m0 11h0m2-1h0m0 7h0m0 2h0m0-2h0m0-31h0m0 33h0m1-24h0m0 0h0m0-57h0m0 61h0m0 14h0m0-2h0m0-23h0m1 20h0m1 8h0m0 3h0m0-2h0m1-12h0m0 11h0m0 1h0m0-31h0m0 32h0m0-1h0m0-29h0m1 27h0m0-9h0m0 4h0m0-25h0m1 21h0m0 14h0m0-7h0m2-20h0m0 4h0m1 19h0m0-13h0m1 16h0m1 1h0m0-3h0m0 4h0m0-32h0m2 7h0m0 14h0m1-3h0m0 8h0m1-2h0m1 6h0m0-32h0m1 26h0m20-143h0m21 148h0m0-12h0m0 8h0m1 1h0m1 5h0m0-1h0m0-2h0m0 1h0m0-2h0m0-27h0m0 25h0m1-21h0m1 27h0m0-7h0m1 2h0m1 2h0m0-3h0m0-24h0m1 25h0m1-20h0m0 13h0m0-1h0m0 5h0m1 9h0m0-12h0m0 0h0m0 9h0m0-2h0m0 1h0m0-10h0m1 3h0m0-2h0m0-10h0m0 14h0m1 3h0m1-9h0m0 12h0m1-7h0m0 4h0m0 0h0m0 2h0m0-9h0m0-3h0m1 11h0m1-3h0m0-2h0m0 1h0m0 4h0m1 1h0m0-7h0m0 6h0m1-10h0m0-11h0m0 23h0m1-10h0m0-15h0m0 21h0m0-6h0m1 11h0m0 0h0m1-18h0m0 5h0m1 14h0m1-30h0m0 21h0m0-3h0m2 9h0m3-17h0m1 16h0m0-3h0m44 4h0m0 0h0m1 0h0m0 2h0m0-5h0m1 3h0m3-2h0m0 3h0m1-4h0m0 5h0m0-25h0m1 25h0m0-30h0m1 24h0m1 7h0m0-11h0m0 6h0m2-4h0m1 11h0m0-3h0m0 0h0m1 1h0m0-4h0m2 3h0m0-4h0m0 0h0m1 4h0m2-7h0m1-10h0m0 19h0m1-3h0m0 0h0m0 2h0m1-20h0m0 21h0m1-2h0m1-6h0m0 3h0m1-6h0m0-11h0m1 19h0m1 1h0m0 0h0m0-4h0m0 4h0m42 0h0m1 1h0m1-6h0m1 2h0m1 3h0m0 0h0m1-4h0m2 0h0m1 4h0m0 0h0m1 0h0m0-1h0m1-14h0m1 14h0m0-15h0m0 10h0m0 5h0m1 1h0m0-9h0m0 8h0m0-14h0m1-1h0m0 10h0m1-5h0m1 8h0m0 3h0m1-4h0m0 1h0m1 0h0m0-10h0m0-6h0m1 16h0m0 3h0m1 0h0m1 0h0m1 0h0m0 2h0m1-8h0m0 3h0m0-2h0m0 1h0m2 2h0m0 2h0m2 0h0m1-4h0m41-5h0m0 9h0m1-18h0m0 11h0m1 6h0m0-6h0m1 2h0m1 4h0m0-4h0m0 6h0m0-11h0m1 11h0m0-9h0m1 2h0m0 4h0m1-7h0m1 9h0m1-2h0m0 1h0m2-2h0m1-3h0m0 8h0m0-9h0m1-2h0m0 8h0m0-15h0m1 7h0m0 6h0m0 1h0m1 1h0m1-37h0m1 16h0m0 13h0m1 9h0m2-1h0m0-13h0m0 9h0m1 4h0m0-7h0m1 8h0m1 0h0m1-5h0m2 1h0m0-6h0m0-1h0m38-33h0m0 23h0m0 10h0m0 1h0m1-2h0m0 11h0m1-2h0m0 4h0m1-11h0m1-12h0m1 14h0m0-8h0m0 15h0m1 3h0m0-8h0m1 6h0m0-2h0m1-6h0m1-17h0m0 17h0m0 3h0m0 5h0m1 1h0m1-2h0m0-4h0m1-21h0m0 20h0m0-12h0m0 10h0m1 7h0m2 1h0m1 0h0m0-28h0m1 12h0m0 6h0m2 7h0m0 3h0m0 0h0m0-7h0m1-38h0m0 45h0m1-1h0m0-1h0m0 2h0m1 0h0m38-11h0m1 5h0m0-2h0m1 7h0m0 1h0m0 0h0m0-2h0m1 0h0m0-4h0m1 2h0m0-5h0m0 2h0m0 2h0m0 5h0m0-11h0m1-17h0m1 27h0m0-2h0m0 3h0m0-2h0m1 1h0m0 3h0m0-23h0m0 9h0m1 9h0m0-21h0m0 2h0m1 8h0m1 4h0m0 7h0m1-1h0m1 3h0m0-2h0m1 3h0m1-2h0m0 2h0m0-4h0m3-5h0m0 6h0m0 2h0m1-1h0m0 0h0m0-3h0m2 3h0m1 1h0m33-1h0m1 2h0m0-24h0m0 20h0m1-9h0m0-1h0m1 9h0m0 5h0m1-6h0m1 3h0m0-9h0m1 6h0m1 3h0m0-36h0m1 36h0m0 0h0m0-2h0m0-7h0m1 5h0m0 3h0m0-4h0m0 1h0m1 7h0m0 0h0m0-11h0m0 8h0m0 3h0m1 0h0m0-9h0m0-3h0m1 9h0m0 3h0m0-4h0m1-8h0m0 8h0m0-3h0m0 6h0m1-1h0m0 1h0m0-10h0m0 8h0m0 2h0m1-4h0m0 3h0m0-3h0" stroke="#1f46ea" stroke-width="2.2" stroke-linecap="square" fill="none"/>
<line x1="680.6" y1="286.5" x2="680.6" y2="402.2" stroke="#111" stroke-width="1.4"/>
<line x1="677.6" y1="286.5" x2="680.6" y2="286.5" stroke="#111" stroke-width="1.2"/>
<text x="677.4" y="289.5" font-size="13.5" text-anchor="end" fill="#111">0.5</text>
<line x1="677.6" y1="310.2" x2="680.6" y2="310.2" stroke="#111" stroke-width="1.2"/>
<text x="677.4" y="313.2" font-size="13.5" text-anchor="end" fill="#111">0.4</text>
<line x1="677.6" y1="333.1" x2="680.6" y2="333.1" stroke="#111" stroke-width="1.2"/>
<text x="677.4" y="336.1" font-size="13.5" text-anchor="end" fill="#111">0.3</text>
<line x1="677.6" y1="356.4" x2="680.6" y2="356.4" stroke="#111" stroke-width="1.2"/>
<text x="677.4" y="359.4" font-size="13.5" text-anchor="end" fill="#111">0.2</text>
<line x1="677.6" y1="379.3" x2="680.6" y2="379.3" stroke="#111" stroke-width="1.2"/>
<text x="677.4" y="382.3" font-size="13.5" text-anchor="end" fill="#111">0.1</text>
<line x1="677.6" y1="402.2" x2="680.6" y2="402.2" stroke="#111" stroke-width="1.2"/>
<text x="677.4" y="405.2" font-size="13.5" text-anchor="end" fill="#111">0.0</text>
<line x1="683.6" y1="368.5" x2="1243" y2="368.5" stroke="#222" stroke-width="1.5" stroke-dasharray="6 7.2"/>
<text transform="translate(649.5 341.8) rotate(-90)" font-size="16.8" fill="#111" text-anchor="middle"><tspan font-style="italic">F</tspan><tspan font-size="12.096" dy="4">ST</tspan><tspan dy="-4"> (MT, YT-A)</tspan></text>
<line x1="1161.4" y1="303.7" x2="1136" y2="322.5" stroke="#e8434b" stroke-width="2"/>
<path d="M1131.5 325.6 l7.7 -1.6 l-3.6 -5.3z" fill="#e8434b"/>
<linearGradient id="g63" x1="0" y1="1" x2="0" y2="0"><stop offset="0.00" stop-color="#b3d3de" stop-opacity="1.00"/><stop offset="0.06" stop-color="#b3d3de" stop-opacity="1.00"/><stop offset="0.12" stop-color="#b3d3de" stop-opacity="1.00"/><stop offset="0.19" stop-color="#b3d3de" stop-opacity="0.92"/><stop offset="0.25" stop-color="#b3d3de" stop-opacity="0.67"/><stop offset="0.31" stop-color="#b3d3de" stop-opacity="0.51"/><stop offset="0.38" stop-color="#b3d3de" stop-opacity="0.40"/><stop offset="0.44" stop-color="#b3d3de" stop-opacity="0.32"/><stop offset="0.50" stop-color="#b3d3de" stop-opacity="0.27"/><stop offset="0.56" stop-color="#b3d3de" stop-opacity="0.22"/><stop offset="0.62" stop-color="#b3d3de" stop-opacity="0.18"/><stop offset="0.69" stop-color="#b3d3de" stop-opacity="0.15"/><stop offset="0.75" stop-color="#b3d3de" stop-opacity="0.13"/><stop offset="0.81" stop-color="#b3d3de" stop-opacity="0.08"/><stop offset="0.88" stop-color="#b3d3de" stop-opacity="0.05"/><stop offset="0.94" stop-color="#b3d3de" stop-opacity="0.02"/><stop offset="1.00" stop-color="#b3d3de" stop-opacity="0.00"/></linearGradient>
<rect x="684.9" y="486.1" width="24.6" height="10.2" fill="url(#g63)"/>
<linearGradient id="g64" x1="0" y1="1" x2="0" y2="0"><stop offset="0.00" stop-color="#1f46ea" stop-opacity="1.00"/><stop offset="0.06" stop-color="#1f46ea" stop-opacity="1.00"/><stop offset="0.12" stop-color="#1f46ea" stop-opacity="1.00"/><stop offset="0.19" stop-color="#1f46ea" stop-opacity="1.00"/><stop offset="0.25" stop-color="#1f46ea" stop-opacity="1.00"/><stop offset="0.31" stop-color="#1f46ea" stop-opacity="0.83"/><stop offset="0.38" stop-color="#1f46ea" stop-opacity="0.59"/><stop offset="0.44" stop-color="#1f46ea" stop-opacity="0.44"/><stop offset="0.50" stop-color="#1f46ea" stop-opacity="0.34"/><stop offset="0.56" stop-color="#1f46ea" stop-opacity="0.27"/><stop offset="0.62" stop-color="#1f46ea" stop-opacity="0.22"/><stop offset="0.69" stop-color="#1f46ea" stop-opacity="0.18"/><stop offset="0.75" stop-color="#1f46ea" stop-opacity="0.14"/><stop offset="0.81" stop-color="#1f46ea" stop-opacity="0.09"/><stop offset="0.88" stop-color="#1f46ea" stop-opacity="0.05"/><stop offset="0.94" stop-color="#1f46ea" stop-opacity="0.02"/><stop offset="1.00" stop-color="#1f46ea" stop-opacity="0.00"/></linearGradient>
<rect x="713" y="488.4" width="22" height="7.9" fill="url(#g64)"/>
<linearGradient id="g65" x1="0" y1="1" x2="0" y2="0"><stop offset="0.00" stop-color="#b3d3de" stop-opacity="1.00"/><stop offset="0.06" stop-color="#b3d3de" stop-opacity="1.00"/><stop offset="0.12" stop-color="#b3d3de" stop-opacity="1.00"/><stop offset="0.19" stop-color="#b3d3de" stop-opacity="0.92"/><stop offset="0.25" stop-color="#b3d3de" stop-opacity="0.67"/><stop offset="0.31" stop-color="#b3d3de" stop-opacity="0.51"/><stop offset="0.38" stop-color="#b3d3de" stop-opacity="0.40"/><stop offset="0.44" stop-color="#b3d3de" stop-opacity="0.32"/><stop offset="0.50" stop-color="#b3d3de" stop-opacity="0.27"/><stop offset="0.56" stop-color="#b3d3de" stop-opacity="0.22"/><stop offset="0.62" stop-color="#b3d3de" stop-opacity="0.18"/><stop offset="0.69" stop-color="#b3d3de" stop-opacity="0.15"/><stop offset="0.75" stop-color="#b3d3de" stop-opacity="0.13"/><stop offset="0.81" stop-color="#b3d3de" stop-opacity="0.08"/><stop offset="0.88" stop-color="#b3d3de" stop-opacity="0.05"/><stop offset="0.94" stop-color="#b3d3de" stop-opacity="0.02"/><stop offset="1.00" stop-color="#b3d3de" stop-opacity="0.00"/></linearGradient>
<rect x="738.8" y="486.1" width="20" height="10.2" fill="url(#g65)"/>
<linearGradient id="g66" x1="0" y1="1" x2="0" y2="0"><stop offset="0.00" stop-color="#1f46ea" stop-opacity="1.00"/><stop offset="0.06" stop-color="#1f46ea" stop-opacity="1.00"/><stop offset="0.12" stop-color="#1f46ea" stop-opacity="1.00"/><stop offset="0.19" stop-color="#1f46ea" stop-opacity="1.00"/><stop offset="0.25" stop-color="#1f46ea" stop-opacity="1.00"/><stop offset="0.31" stop-color="#1f46ea" stop-opacity="0.83"/><stop offset="0.38" stop-color="#1f46ea" stop-opacity="0.59"/><stop offset="0.44" stop-color="#1f46ea" stop-opacity="0.44"/><stop offset="0.50" stop-color="#1f46ea" stop-opacity="0.34"/><stop offset="0.56" stop-color="#1f46ea" stop-opacity="0.27"/><stop offset="0.62" stop-color="#1f46ea" stop-opacity="0.22"/><stop offset="0.69" stop-color="#1f46ea" stop-opacity="0.18"/><stop offset="0.75" stop-color="#1f46ea" stop-opacity="0.14"/><stop offset="0.81" stop-color="#1f46ea" stop-opacity="0.09"/><stop offset="0.88" stop-color="#1f46ea" stop-opacity="0.05"/><stop offset="0.94" stop-color="#1f46ea" stop-opacity="0.02"/><stop offset="1.00" stop-color="#1f46ea" stop-opacity="0.00"/></linearGradient>
<rect x="761.5" y="488.4" width="19.2" height="7.9" fill="url(#g66)"/>
<linearGradient id="g67" x1="0" y1="1" x2="0" y2="0"><stop offset="0.00" stop-color="#b3d3de" stop-opacity="1.00"/><stop offset="0.06" stop-color="#b3d3de" stop-opacity="1.00"/><stop offset="0.12" stop-color="#b3d3de" stop-opacity="1.00"/><stop offset="0.19" stop-color="#b3d3de" stop-opacity="0.92"/><stop offset="0.25" stop-color="#b3d3de" stop-opacity="0.67"/><stop offset="0.31" stop-color="#b3d3de" stop-opacity="0.51"/><stop offset="0.38" stop-color="#b3d3de" stop-opacity="0.40"/><stop offset="0.44" stop-color="#b3d3de" stop-opacity="0.32"/><stop offset="0.50" stop-color="#b3d3de" stop-opacity="0.27"/><stop offset="0.56" stop-color="#b3d3de" stop-opacity="0.22"/><stop offset="0.62" stop-color="#b3d3de" stop-opacity="0.18"/><stop offset="0.69" stop-color="#b3d3de" stop-opacity="0.15"/><stop offset="0.75" stop-color="#b3d3de" stop-opacity="0.13"/><stop offset="0.81" stop-color="#b3d3de" stop-opacity="0.08"/><stop offset="0.88" stop-color="#b3d3de" stop-opacity="0.05"/><stop offset="0.94" stop-color="#b3d3de" stop-opacity="0.02"/><stop offset="1.00" stop-color="#b3d3de" stop-opacity="0.00"/></linearGradient>
<rect x="783.4" y="486.1" width="19.2" height="10.2" fill="url(#g67)"/>
<linearGradient id="g68" x1="0" y1="1" x2="0" y2="0"><stop offset="0.00" stop-color="#1f46ea" stop-opacity="1.00"/><stop offset="0.06" stop-color="#1f46ea" stop-opacity="1.00"/><stop offset="0.12" stop-color="#1f46ea" stop-opacity="1.00"/><stop offset="0.19" stop-color="#1f46ea" stop-opacity="1.00"/><stop offset="0.25" stop-color="#1f46ea" stop-opacity="1.00"/><stop offset="0.31" stop-color="#1f46ea" stop-opacity="0.83"/><stop offset="0.38" stop-color="#1f46ea" stop-opacity="0.59"/><stop offset="0.44" stop-color="#1f46ea" stop-opacity="0.44"/><stop offset="0.50" stop-color="#1f46ea" stop-opacity="0.34"/><stop offset="0.56" stop-color="#1f46ea" stop-opacity="0.27"/><stop offset="0.62" stop-color="#1f46ea" stop-opacity="0.22"/><stop offset="0.69" stop-color="#1f46ea" stop-opacity="0.18"/><stop offset="0.75" stop-color="#1f46ea" stop-opacity="0.14"/><stop offset="0.81" stop-color="#1f46ea" stop-opacity="0.09"/><stop offset="0.88" stop-color="#1f46ea" stop-opacity="0.05"/><stop offset="0.94" stop-color="#1f46ea" stop-opacity="0.02"/><stop offset="1.00" stop-color="#1f46ea" stop-opacity="0.00"/></linearGradient>
<rect x="805.9" y="488.4" width="18.6" height="7.9" fill="url(#g68)"/>
<linearGradient id="g69" x1="0" y1="1" x2="0" y2="0"><stop offset="0.00" stop-color="#b3d3de" stop-opacity="1.00"/><stop offset="0.06" stop-color="#b3d3de" stop-opacity="1.00"/><stop offset="0.12" stop-color="#b3d3de" stop-opacity="1.00"/><stop offset="0.19" stop-color="#b3d3de" stop-opacity="0.92"/><stop offset="0.25" stop-color="#b3d3de" stop-opacity="0.67"/><stop offset="0.31" stop-color="#b3d3de" stop-opacity="0.51"/><stop offset="0.38" stop-color="#b3d3de" stop-opacity="0.40"/><stop offset="0.44" stop-color="#b3d3de" stop-opacity="0.32"/><stop offset="0.50" stop-color="#b3d3de" stop-opacity="0.27"/><stop offset="0.56" stop-color="#b3d3de" stop-opacity="0.22"/><stop offset="0.62" stop-color="#b3d3de" stop-opacity="0.18"/><stop offset="0.69" stop-color="#b3d3de" stop-opacity="0.15"/><stop offset="0.75" stop-color="#b3d3de" stop-opacity="0.13"/><stop offset="0.81" stop-color="#b3d3de" stop-opacity="0.08"/><stop offset="0.88" stop-color="#b3d3de" stop-opacity="0.05"/><stop offset="0.94" stop-color="#b3d3de" stop-opacity="0.02"/><stop offset="1.00" stop-color="#b3d3de" stop-opacity="0.00"/></linearGradient>
<rect x="828" y="486.1" width="18.4" height="10.2" fill="url(#g69)"/>
<linearGradient id="g70" x1="0" y1="1" x2="0" y2="0"><stop offset="0.00" stop-color="#1f46ea" stop-opacity="1.00"/><stop offset="0.06" stop-color="#1f46ea" stop-opacity="1.00"/><stop offset="0.12" stop-color="#1f46ea" stop-opacity="1.00"/><stop offset="0.19" stop-color="#1f46ea" stop-opacity="1.00"/><stop offset="0.25" stop-color="#1f46ea" stop-opacity="1.00"/><stop offset="0.31" stop-color="#1f46ea" stop-opacity="0.83"/><stop offset="0.38" stop-color="#1f46ea" stop-opacity="0.59"/><stop offset="0.44" stop-color="#1f46ea" stop-opacity="0.44"/><stop offset="0.50" stop-color="#1f46ea" stop-opacity="0.34"/><stop offset="0.56" stop-color="#1f46ea" stop-opacity="0.27"/><stop offset="0.62" stop-color="#1f46ea" stop-opacity="0.22"/><stop offset="0.69" stop-color="#1f46ea" stop-opacity="0.18"/><stop offset="0.75" stop-color="#1f46ea" stop-opacity="0.14"/><stop offset="0.81" stop-color="#1f46ea" stop-opacity="0.09"/><stop offset="0.88" stop-color="#1f46ea" stop-opacity="0.05"/><stop offset="0.94" stop-color="#1f46ea" stop-opacity="0.02"/><stop offset="1.00" stop-color="#1f46ea" stop-opacity="0.00"/></linearGradient>
<rect x="848.3" y="488.4" width="18.6" height="7.9" fill="url(#g70)"/>
<linearGradient id="g71" x1="0" y1="1" x2="0" y2="0"><stop offset="0.00" stop-color="#b3d3de" stop-opacity="1.00"/><stop offset="0.06" stop-color="#b3d3de" stop-opacity="1.00"/><stop offset="0.12" stop-color="#b3d3de" stop-opacity="1.00"/><stop offset="0.19" stop-color="#b3d3de" stop-opacity="0.92"/><stop offset="0.25" stop-color="#b3d3de" stop-opacity="0.67"/><stop offset="0.31" stop-color="#b3d3de" stop-opacity="0.51"/><stop offset="0.38" stop-color="#b3d3de" stop-opacity="0.40"/><stop offset="0.44" stop-color="#b3d3de" stop-opacity="0.32"/><stop offset="0.50" stop-color="#b3d3de" stop-opacity="0.27"/><stop offset="0.56" stop-color="#b3d3de" stop-opacity="0.22"/><stop offset="0.62" stop-color="#b3d3de" stop-opacity="0.18"/><stop offset="0.69" stop-color="#b3d3de" stop-opacity="0.15"/><stop offset="0.75" stop-color="#b3d3de" stop-opacity="0.13"/><stop offset="0.81" stop-color="#b3d3de" stop-opacity="0.08"/><stop offset="0.88" stop-color="#b3d3de" stop-opacity="0.05"/><stop offset="0.94" stop-color="#b3d3de" stop-opacity="0.02"/><stop offset="1.00" stop-color="#b3d3de" stop-opacity="0.00"/></linearGradient>
<rect x="869.6" y="486.1" width="17.8" height="10.2" fill="url(#g71)"/>
<linearGradient id="g72" x1="0" y1="1" x2="0" y2="0"><stop offset="0.00" stop-color="#1f46ea" stop-opacity="1.00"/><stop offset="0.06" stop-color="#1f46ea" stop-opacity="1.00"/><stop offset="0.12" stop-color="#1f46ea" stop-opacity="1.00"/><stop offset="0.19" stop-color="#1f46ea" stop-opacity="1.00"/><stop offset="0.25" stop-color="#1f46ea" stop-opacity="1.00"/><stop offset="0.31" stop-color="#1f46ea" stop-opacity="0.83"/><stop offset="0.38" stop-color="#1f46ea" stop-opacity="0.59"/><stop offset="0.44" stop-color="#1f46ea" stop-opacity="0.44"/><stop offset="0.50" stop-color="#1f46ea" stop-opacity="0.34"/><stop offset="0.56" stop-color="#1f46ea" stop-opacity="0.27"/><stop offset="0.62" stop-color="#1f46ea" stop-opacity="0.22"/><stop offset="0.69" stop-color="#1f46ea" stop-opacity="0.18"/><stop offset="0.75" stop-color="#1f46ea" stop-opacity="0.14"/><stop offset="0.81" stop-color="#1f46ea" stop-opacity="0.09"/><stop offset="0.88" stop-color="#1f46ea" stop-opacity="0.05"/><stop offset="0.94" stop-color="#1f46ea" stop-opacity="0.02"/><stop offset="1.00" stop-color="#1f46ea" stop-opacity="0.00"/></linearGradient>
<rect x="890.5" y="488.4" width="17.1" height="7.9" fill="url(#g72)"/>
<linearGradient id="g73" x1="0" y1="1" x2="0" y2="0"><stop offset="0.00" stop-color="#b3d3de" stop-opacity="1.00"/><stop offset="0.06" stop-color="#b3d3de" stop-opacity="1.00"/><stop offset="0.12" stop-color="#b3d3de" stop-opacity="1.00"/><stop offset="0.19" stop-color="#b3d3de" stop-opacity="0.92"/><stop offset="0.25" stop-color="#b3d3de" stop-opacity="0.67"/><stop offset="0.31" stop-color="#b3d3de" stop-opacity="0.51"/><stop offset="0.38" stop-color="#b3d3de" stop-opacity="0.40"/><stop offset="0.44" stop-color="#b3d3de" stop-opacity="0.32"/><stop offset="0.50" stop-color="#b3d3de" stop-opacity="0.27"/><stop offset="0.56" stop-color="#b3d3de" stop-opacity="0.22"/><stop offset="0.62" stop-color="#b3d3de" stop-opacity="0.18"/><stop offset="0.69" stop-color="#b3d3de" stop-opacity="0.15"/><stop offset="0.75" stop-color="#b3d3de" stop-opacity="0.13"/><stop offset="0.81" stop-color="#b3d3de" stop-opacity="0.08"/><stop offset="0.88" stop-color="#b3d3de" stop-opacity="0.05"/><stop offset="0.94" stop-color="#b3d3de" stop-opacity="0.02"/><stop offset="1.00" stop-color="#b3d3de" stop-opacity="0.00"/></linearGradient>
<rect x="910.7" y="486.1" width="16.8" height="10.2" fill="url(#g73)"/>
<linearGradient id="g74" x1="0" y1="1" x2="0" y2="0"><stop offset="0.00" stop-color="#1f46ea" stop-opacity="1.00"/><stop offset="0.06" stop-color="#1f46ea" stop-opacity="1.00"/><stop offset="0.12" stop-color="#1f46ea" stop-opacity="1.00"/><stop offset="0.19" stop-color="#1f46ea" stop-opacity="1.00"/><stop offset="0.25" stop-color="#1f46ea" stop-opacity="1.00"/><stop offset="0.31" stop-color="#1f46ea" stop-opacity="0.83"/><stop offset="0.38" stop-color="#1f46ea" stop-opacity="0.59"/><stop offset="0.44" stop-color="#1f46ea" stop-opacity="0.44"/><stop offset="0.50" stop-color="#1f46ea" stop-opacity="0.34"/><stop offset="0.56" stop-color="#1f46ea" stop-opacity="0.27"/><stop offset="0.62" stop-color="#1f46ea" stop-opacity="0.22"/><stop offset="0.69" stop-color="#1f46ea" stop-opacity="0.18"/><stop offset="0.75" stop-color="#1f46ea" stop-opacity="0.14"/><stop offset="0.81" stop-color="#1f46ea" stop-opacity="0.09"/><stop offset="0.88" stop-color="#1f46ea" stop-opacity="0.05"/><stop offset="0.94" stop-color="#1f46ea" stop-opacity="0.02"/><stop offset="1.00" stop-color="#1f46ea" stop-opacity="0.00"/></linearGradient>
<rect x="930.6" y="488.4" width="16.2" height="7.9" fill="url(#g74)"/>
<linearGradient id="g75" x1="0" y1="1" x2="0" y2="0"><stop offset="0.00" stop-color="#b3d3de" stop-opacity="1.00"/><stop offset="0.06" stop-color="#b3d3de" stop-opacity="1.00"/><stop offset="0.12" stop-color="#b3d3de" stop-opacity="1.00"/><stop offset="0.19" stop-color="#b3d3de" stop-opacity="0.92"/><stop offset="0.25" stop-color="#b3d3de" stop-opacity="0.67"/><stop offset="0.31" stop-color="#b3d3de" stop-opacity="0.51"/><stop offset="0.38" stop-color="#b3d3de" stop-opacity="0.40"/><stop offset="0.44" stop-color="#b3d3de" stop-opacity="0.32"/><stop offset="0.50" stop-color="#b3d3de" stop-opacity="0.27"/><stop offset="0.56" stop-color="#b3d3de" stop-opacity="0.22"/><stop offset="0.62" stop-color="#b3d3de" stop-opacity="0.18"/><stop offset="0.69" stop-color="#b3d3de" stop-opacity="0.15"/><stop offset="0.75" stop-color="#b3d3de" stop-opacity="0.13"/><stop offset="0.81" stop-color="#b3d3de" stop-opacity="0.08"/><stop offset="0.88" stop-color="#b3d3de" stop-opacity="0.05"/><stop offset="0.94" stop-color="#b3d3de" stop-opacity="0.02"/><stop offset="1.00" stop-color="#b3d3de" stop-opacity="0.00"/></linearGradient>
<rect x="950.5" y="486.1" width="15.3" height="10.2" fill="url(#g75)"/>
<linearGradient id="g76" x1="0" y1="1" x2="0" y2="0"><stop offset="0.00" stop-color="#1f46ea" stop-opacity="1.00"/><stop offset="0.06" stop-color="#1f46ea" stop-opacity="1.00"/><stop offset="0.12" stop-color="#1f46ea" stop-opacity="1.00"/><stop offset="0.19" stop-color="#1f46ea" stop-opacity="1.00"/><stop offset="0.25" stop-color="#1f46ea" stop-opacity="1.00"/><stop offset="0.31" stop-color="#1f46ea" stop-opacity="0.83"/><stop offset="0.38" stop-color="#1f46ea" stop-opacity="0.59"/><stop offset="0.44" stop-color="#1f46ea" stop-opacity="0.44"/><stop offset="0.50" stop-color="#1f46ea" stop-opacity="0.34"/><stop offset="0.56" stop-color="#1f46ea" stop-opacity="0.27"/><stop offset="0.62" stop-color="#1f46ea" stop-opacity="0.22"/><stop offset="0.69" stop-color="#1f46ea" stop-opacity="0.18"/><stop offset="0.75" stop-color="#1f46ea" stop-opacity="0.14"/><stop offset="0.81" stop-color="#1f46ea" stop-opacity="0.09"/><stop offset="0.88" stop-color="#1f46ea" stop-opacity="0.05"/><stop offset="0.94" stop-color="#1f46ea" stop-opacity="0.02"/><stop offset="1.00" stop-color="#1f46ea" stop-opacity="0.00"/></linearGradient>
<rect x="968.9" y="488.4" width="15.3" height="7.9" fill="url(#g76)"/>
<linearGradient id="g77" x1="0" y1="1" x2="0" y2="0"><stop offset="0.00" stop-color="#b3d3de" stop-opacity="1.00"/><stop offset="0.06" stop-color="#b3d3de" stop-opacity="1.00"/><stop offset="0.12" stop-color="#b3d3de" stop-opacity="1.00"/><stop offset="0.19" stop-color="#b3d3de" stop-opacity="0.92"/><stop offset="0.25" stop-color="#b3d3de" stop-opacity="0.67"/><stop offset="0.31" stop-color="#b3d3de" stop-opacity="0.51"/><stop offset="0.38" stop-color="#b3d3de" stop-opacity="0.40"/><stop offset="0.44" stop-color="#b3d3de" stop-opacity="0.32"/><stop offset="0.50" stop-color="#b3d3de" stop-opacity="0.27"/><stop offset="0.56" stop-color="#b3d3de" stop-opacity="0.22"/><stop offset="0.62" stop-color="#b3d3de" stop-opacity="0.18"/><stop offset="0.69" stop-color="#b3d3de" stop-opacity="0.15"/><stop offset="0.75" stop-color="#b3d3de" stop-opacity="0.13"/><stop offset="0.81" stop-color="#b3d3de" stop-opacity="0.08"/><stop offset="0.88" stop-color="#b3d3de" stop-opacity="0.05"/><stop offset="0.94" stop-color="#b3d3de" stop-opacity="0.02"/><stop offset="1.00" stop-color="#b3d3de" stop-opacity="0.00"/></linearGradient>
<rect x="987.3" y="486.1" width="15.3" height="10.2" fill="url(#g77)"/>
<linearGradient id="g78" x1="0" y1="1" x2="0" y2="0"><stop offset="0.00" stop-color="#1f46ea" stop-opacity="1.00"/><stop offset="0.06" stop-color="#1f46ea" stop-opacity="1.00"/><stop offset="0.12" stop-color="#1f46ea" stop-opacity="1.00"/><stop offset="0.19" stop-color="#1f46ea" stop-opacity="1.00"/><stop offset="0.25" stop-color="#1f46ea" stop-opacity="1.00"/><stop offset="0.31" stop-color="#1f46ea" stop-opacity="0.83"/><stop offset="0.38" stop-color="#1f46ea" stop-opacity="0.59"/><stop offset="0.44" stop-color="#1f46ea" stop-opacity="0.44"/><stop offset="0.50" stop-color="#1f46ea" stop-opacity="0.34"/><stop offset="0.56" stop-color="#1f46ea" stop-opacity="0.27"/><stop offset="0.62" stop-color="#1f46ea" stop-opacity="0.22"/><stop offset="0.69" stop-color="#1f46ea" stop-opacity="0.18"/><stop offset="0.75" stop-color="#1f46ea" stop-opacity="0.14"/><stop offset="0.81" stop-color="#1f46ea" stop-opacity="0.09"/><stop offset="0.88" stop-color="#1f46ea" stop-opacity="0.05"/><stop offset="0.94" stop-color="#1f46ea" stop-opacity="0.02"/><stop offset="1.00" stop-color="#1f46ea" stop-opacity="0.00"/></linearGradient>
<rect x="1005" y="488.4" width="15.4" height="7.9" fill="url(#g78)"/>
<linearGradient id="g79" x1="0" y1="1" x2="0" y2="0"><stop offset="0.00" stop-color="#b3d3de" stop-opacity="1.00"/><stop offset="0.06" stop-color="#b3d3de" stop-opacity="1.00"/><stop offset="0.12" stop-color="#b3d3de" stop-opacity="1.00"/><stop offset="0.19" stop-color="#b3d3de" stop-opacity="0.92"/><stop offset="0.25" stop-color="#b3d3de" stop-opacity="0.67"/><stop offset="0.31" stop-color="#b3d3de" stop-opacity="0.51"/><stop offset="0.38" stop-color="#b3d3de" stop-opacity="0.40"/><stop offset="0.44" stop-color="#b3d3de" stop-opacity="0.32"/><stop offset="0.50" stop-color="#b3d3de" stop-opacity="0.27"/><stop offset="0.56" stop-color="#b3d3de" stop-opacity="0.22"/><stop offset="0.62" stop-color="#b3d3de" stop-opacity="0.18"/><stop offset="0.69" stop-color="#b3d3de" stop-opacity="0.15"/><stop offset="0.75" stop-color="#b3d3de" stop-opacity="0.13"/><stop offset="0.81" stop-color="#b3d3de" stop-opacity="0.08"/><stop offset="0.88" stop-color="#b3d3de" stop-opacity="0.05"/><stop offset="0.94" stop-color="#b3d3de" stop-opacity="0.02"/><stop offset="1.00" stop-color="#b3d3de" stop-opacity="0.00"/></linearGradient>
<rect x="1022.5" y="486.1" width="15.4" height="10.2" fill="url(#g79)"/>
<linearGradient id="g80" x1="0" y1="1" x2="0" y2="0"><stop offset="0.00" stop-color="#1f46ea" stop-opacity="1.00"/><stop offset="0.06" stop-color="#1f46ea" stop-opacity="1.00"/><stop offset="0.12" stop-color="#1f46ea" stop-opacity="1.00"/><stop offset="0.19" stop-color="#1f46ea" stop-opacity="1.00"/><stop offset="0.25" stop-color="#1f46ea" stop-opacity="1.00"/><stop offset="0.31" stop-color="#1f46ea" stop-opacity="0.83"/><stop offset="0.38" stop-color="#1f46ea" stop-opacity="0.59"/><stop offset="0.44" stop-color="#1f46ea" stop-opacity="0.44"/><stop offset="0.50" stop-color="#1f46ea" stop-opacity="0.34"/><stop offset="0.56" stop-color="#1f46ea" stop-opacity="0.27"/><stop offset="0.62" stop-color="#1f46ea" stop-opacity="0.22"/><stop offset="0.69" stop-color="#1f46ea" stop-opacity="0.18"/><stop offset="0.75" stop-color="#1f46ea" stop-opacity="0.14"/><stop offset="0.81" stop-color="#1f46ea" stop-opacity="0.09"/><stop offset="0.88" stop-color="#1f46ea" stop-opacity="0.05"/><stop offset="0.94" stop-color="#1f46ea" stop-opacity="0.02"/><stop offset="1.00" stop-color="#1f46ea" stop-opacity="0.00"/></linearGradient>
<rect x="1041" y="488.4" width="14.4" height="7.9" fill="url(#g80)"/>
<linearGradient id="g81" x1="0" y1="1" x2="0" y2="0"><stop offset="0.00" stop-color="#b3d3de" stop-opacity="1.00"/><stop offset="0.06" stop-color="#b3d3de" stop-opacity="1.00"/><stop offset="0.12" stop-color="#b3d3de" stop-opacity="1.00"/><stop offset="0.19" stop-color="#b3d3de" stop-opacity="0.92"/><stop offset="0.25" stop-color="#b3d3de" stop-opacity="0.67"/><stop offset="0.31" stop-color="#b3d3de" stop-opacity="0.51"/><stop offset="0.38" stop-color="#b3d3de" stop-opacity="0.40"/><stop offset="0.44" stop-color="#b3d3de" stop-opacity="0.32"/><stop offset="0.50" stop-color="#b3d3de" stop-opacity="0.27"/><stop offset="0.56" stop-color="#b3d3de" stop-opacity="0.22"/><stop offset="0.62" stop-color="#b3d3de" stop-opacity="0.18"/><stop offset="0.69" stop-color="#b3d3de" stop-opacity="0.15"/><stop offset="0.75" stop-color="#b3d3de" stop-opacity="0.13"/><stop offset="0.81" stop-color="#b3d3de" stop-opacity="0.08"/><stop offset="0.88" stop-color="#b3d3de" stop-opacity="0.05"/><stop offset="0.94" stop-color="#b3d3de" stop-opacity="0.02"/><stop offset="1.00" stop-color="#b3d3de" stop-opacity="0.00"/></linearGradient>
<rect x="1057.8" y="486.1" width="15.3" height="10.2" fill="url(#g81)"/>
<linearGradient id="g82" x1="0" y1="1" x2="0" y2="0"><stop offset="0.00" stop-color="#1f46ea" stop-opacity="1.00"/><stop offset="0.06" stop-color="#1f46ea" stop-opacity="1.00"/><stop offset="0.12" stop-color="#1f46ea" stop-opacity="1.00"/><stop offset="0.19" stop-color="#1f46ea" stop-opacity="1.00"/><stop offset="0.25" stop-color="#1f46ea" stop-opacity="1.00"/><stop offset="0.31" stop-color="#1f46ea" stop-opacity="0.83"/><stop offset="0.38" stop-color="#1f46ea" stop-opacity="0.59"/><stop offset="0.44" stop-color="#1f46ea" stop-opacity="0.44"/><stop offset="0.50" stop-color="#1f46ea" stop-opacity="0.34"/><stop offset="0.56" stop-color="#1f46ea" stop-opacity="0.27"/><stop offset="0.62" stop-color="#1f46ea" stop-opacity="0.22"/><stop offset="0.69" stop-color="#1f46ea" stop-opacity="0.18"/><stop offset="0.75" stop-color="#1f46ea" stop-opacity="0.14"/><stop offset="0.81" stop-color="#1f46ea" stop-opacity="0.09"/><stop offset="0.88" stop-color="#1f46ea" stop-opacity="0.05"/><stop offset="0.94" stop-color="#1f46ea" stop-opacity="0.02"/><stop offset="1.00" stop-color="#1f46ea" stop-opacity="0.00"/></linearGradient>
<rect x="1076.2" y="488.4" width="14.7" height="7.9" fill="url(#g82)"/>
<linearGradient id="g83" x1="0" y1="1" x2="0" y2="0"><stop offset="0.00" stop-color="#b3d3de" stop-opacity="1.00"/><stop offset="0.06" stop-color="#b3d3de" stop-opacity="1.00"/><stop offset="0.12" stop-color="#b3d3de" stop-opacity="1.00"/><stop offset="0.19" stop-color="#b3d3de" stop-opacity="0.92"/><stop offset="0.25" stop-color="#b3d3de" stop-opacity="0.67"/><stop offset="0.31" stop-color="#b3d3de" stop-opacity="0.51"/><stop offset="0.38" stop-color="#b3d3de" stop-opacity="0.40"/><stop offset="0.44" stop-color="#b3d3de" stop-opacity="0.32"/><stop offset="0.50" stop-color="#b3d3de" stop-opacity="0.27"/><stop offset="0.56" stop-color="#b3d3de" stop-opacity="0.22"/><stop offset="0.62" stop-color="#b3d3de" stop-opacity="0.18"/><stop offset="0.69" stop-color="#b3d3de" stop-opacity="0.15"/><stop offset="0.75" stop-color="#b3d3de" stop-opacity="0.13"/><stop offset="0.81" stop-color="#b3d3de" stop-opacity="0.08"/><stop offset="0.88" stop-color="#b3d3de" stop-opacity="0.05"/><stop offset="0.94" stop-color="#b3d3de" stop-opacity="0.02"/><stop offset="1.00" stop-color="#b3d3de" stop-opacity="0.00"/></linearGradient>
<rect x="1093" y="486.1" width="15.4" height="10.2" fill="url(#g83)"/>
<linearGradient id="g84" x1="0" y1="1" x2="0" y2="0"><stop offset="0.00" stop-color="#1f46ea" stop-opacity="1.00"/><stop offset="0.06" stop-color="#1f46ea" stop-opacity="1.00"/><stop offset="0.12" stop-color="#1f46ea" stop-opacity="1.00"/><stop offset="0.19" stop-color="#1f46ea" stop-opacity="1.00"/><stop offset="0.25" stop-color="#1f46ea" stop-opacity="1.00"/><stop offset="0.31" stop-color="#1f46ea" stop-opacity="0.83"/><stop offset="0.38" stop-color="#1f46ea" stop-opacity="0.59"/><stop offset="0.44" stop-color="#1f46ea" stop-opacity="0.44"/><stop offset="0.50" stop-color="#1f46ea" stop-opacity="0.34"/><stop offset="0.56" stop-color="#1f46ea" stop-opacity="0.27"/><stop offset="0.62" stop-color="#1f46ea" stop-opacity="0.22"/><stop offset="0.69" stop-color="#1f46ea" stop-opacity="0.18"/><stop offset="0.75" stop-color="#1f46ea" stop-opacity="0.14"/><stop offset="0.81" stop-color="#1f46ea" stop-opacity="0.09"/><stop offset="0.88" stop-color="#1f46ea" stop-opacity="0.05"/><stop offset="0.94" stop-color="#1f46ea" stop-opacity="0.02"/><stop offset="1.00" stop-color="#1f46ea" stop-opacity="0.00"/></linearGradient>
<rect x="1111.4" y="488.4" width="13.8" height="7.9" fill="url(#g84)"/>
<linearGradient id="g85" x1="0" y1="1" x2="0" y2="0"><stop offset="0.00" stop-color="#b3d3de" stop-opacity="1.00"/><stop offset="0.06" stop-color="#b3d3de" stop-opacity="1.00"/><stop offset="0.12" stop-color="#b3d3de" stop-opacity="1.00"/><stop offset="0.19" stop-color="#b3d3de" stop-opacity="0.92"/><stop offset="0.25" stop-color="#b3d3de" stop-opacity="0.67"/><stop offset="0.31" stop-color="#b3d3de" stop-opacity="0.51"/><stop offset="0.38" stop-color="#b3d3de" stop-opacity="0.40"/><stop offset="0.44" stop-color="#b3d3de" stop-opacity="0.32"/><stop offset="0.50" stop-color="#b3d3de" stop-opacity="0.27"/><stop offset="0.56" stop-color="#b3d3de" stop-opacity="0.22"/><stop offset="0.62" stop-color="#b3d3de" stop-opacity="0.18"/><stop offset="0.69" stop-color="#b3d3de" stop-opacity="0.15"/><stop offset="0.75" stop-color="#b3d3de" stop-opacity="0.13"/><stop offset="0.81" stop-color="#b3d3de" stop-opacity="0.08"/><stop offset="0.88" stop-color="#b3d3de" stop-opacity="0.05"/><stop offset="0.94" stop-color="#b3d3de" stop-opacity="0.02"/><stop offset="1.00" stop-color="#b3d3de" stop-opacity="0.00"/></linearGradient>
<rect x="1128.3" y="486.1" width="13.8" height="10.2" fill="url(#g85)"/>
<linearGradient id="g86" x1="0" y1="1" x2="0" y2="0"><stop offset="0.00" stop-color="#1f46ea" stop-opacity="1.00"/><stop offset="0.06" stop-color="#1f46ea" stop-opacity="1.00"/><stop offset="0.12" stop-color="#1f46ea" stop-opacity="1.00"/><stop offset="0.19" stop-color="#1f46ea" stop-opacity="1.00"/><stop offset="0.25" stop-color="#1f46ea" stop-opacity="1.00"/><stop offset="0.31" stop-color="#1f46ea" stop-opacity="0.83"/><stop offset="0.38" stop-color="#1f46ea" stop-opacity="0.59"/><stop offset="0.44" stop-color="#1f46ea" stop-opacity="0.44"/><stop offset="0.50" stop-color="#1f46ea" stop-opacity="0.34"/><stop offset="0.56" stop-color="#1f46ea" stop-opacity="0.27"/><stop offset="0.62" stop-color="#1f46ea" stop-opacity="0.22"/><stop offset="0.69" stop-color="#1f46ea" stop-opacity="0.18"/><stop offset="0.75" stop-color="#1f46ea" stop-opacity="0.14"/><stop offset="0.81" stop-color="#1f46ea" stop-opacity="0.09"/><stop offset="0.88" stop-color="#1f46ea" stop-opacity="0.05"/><stop offset="0.94" stop-color="#1f46ea" stop-opacity="0.02"/><stop offset="1.00" stop-color="#1f46ea" stop-opacity="0.00"/></linearGradient>
<rect x="1145.2" y="488.4" width="13.2" height="7.9" fill="url(#g86)"/>
<linearGradient id="g87" x1="0" y1="1" x2="0" y2="0"><stop offset="0.00" stop-color="#b3d3de" stop-opacity="1.00"/><stop offset="0.06" stop-color="#b3d3de" stop-opacity="1.00"/><stop offset="0.12" stop-color="#b3d3de" stop-opacity="1.00"/><stop offset="0.19" stop-color="#b3d3de" stop-opacity="0.92"/><stop offset="0.25" stop-color="#b3d3de" stop-opacity="0.67"/><stop offset="0.31" stop-color="#b3d3de" stop-opacity="0.51"/><stop offset="0.38" stop-color="#b3d3de" stop-opacity="0.40"/><stop offset="0.44" stop-color="#b3d3de" stop-opacity="0.32"/><stop offset="0.50" stop-color="#b3d3de" stop-opacity="0.27"/><stop offset="0.56" stop-color="#b3d3de" stop-opacity="0.22"/><stop offset="0.62" stop-color="#b3d3de" stop-opacity="0.18"/><stop offset="0.69" stop-color="#b3d3de" stop-opacity="0.15"/><stop offset="0.75" stop-color="#b3d3de" stop-opacity="0.13"/><stop offset="0.81" stop-color="#b3d3de" stop-opacity="0.08"/><stop offset="0.88" stop-color="#b3d3de" stop-opacity="0.05"/><stop offset="0.94" stop-color="#b3d3de" stop-opacity="0.02"/><stop offset="1.00" stop-color="#b3d3de" stop-opacity="0.00"/></linearGradient>
<rect x="1160.5" y="486.1" width="13.8" height="10.2" fill="url(#g87)"/>
<linearGradient id="g88" x1="0" y1="1" x2="0" y2="0"><stop offset="0.00" stop-color="#1f46ea" stop-opacity="1.00"/><stop offset="0.06" stop-color="#1f46ea" stop-opacity="1.00"/><stop offset="0.12" stop-color="#1f46ea" stop-opacity="1.00"/><stop offset="0.19" stop-color="#1f46ea" stop-opacity="1.00"/><stop offset="0.25" stop-color="#1f46ea" stop-opacity="1.00"/><stop offset="0.31" stop-color="#1f46ea" stop-opacity="0.83"/><stop offset="0.38" stop-color="#1f46ea" stop-opacity="0.59"/><stop offset="0.44" stop-color="#1f46ea" stop-opacity="0.44"/><stop offset="0.50" stop-color="#1f46ea" stop-opacity="0.34"/><stop offset="0.56" stop-color="#1f46ea" stop-opacity="0.27"/><stop offset="0.62" stop-color="#1f46ea" stop-opacity="0.22"/><stop offset="0.69" stop-color="#1f46ea" stop-opacity="0.18"/><stop offset="0.75" stop-color="#1f46ea" stop-opacity="0.14"/><stop offset="0.81" stop-color="#1f46ea" stop-opacity="0.09"/><stop offset="0.88" stop-color="#1f46ea" stop-opacity="0.05"/><stop offset="0.94" stop-color="#1f46ea" stop-opacity="0.02"/><stop offset="1.00" stop-color="#1f46ea" stop-opacity="0.00"/></linearGradient>
<rect x="1177.4" y="488.4" width="11.6" height="7.9" fill="url(#g88)"/>
<linearGradient id="g89" x1="0" y1="1" x2="0" y2="0"><stop offset="0.00" stop-color="#b3d3de" stop-opacity="1.00"/><stop offset="0.06" stop-color="#b3d3de" stop-opacity="1.00"/><stop offset="0.12" stop-color="#b3d3de" stop-opacity="1.00"/><stop offset="0.19" stop-color="#b3d3de" stop-opacity="0.92"/><stop offset="0.25" stop-color="#b3d3de" stop-opacity="0.67"/><stop offset="0.31" stop-color="#b3d3de" stop-opacity="0.51"/><stop offset="0.38" stop-color="#b3d3de" stop-opacity="0.40"/><stop offset="0.44" stop-color="#b3d3de" stop-opacity="0.32"/><stop offset="0.50" stop-color="#b3d3de" stop-opacity="0.27"/><stop offset="0.56" stop-color="#b3d3de" stop-opacity="0.22"/><stop offset="0.62" stop-color="#b3d3de" stop-opacity="0.18"/><stop offset="0.69" stop-color="#b3d3de" stop-opacity="0.15"/><stop offset="0.75" stop-color="#b3d3de" stop-opacity="0.13"/><stop offset="0.81" stop-color="#b3d3de" stop-opacity="0.08"/><stop offset="0.88" stop-color="#b3d3de" stop-opacity="0.05"/><stop offset="0.94" stop-color="#b3d3de" stop-opacity="0.02"/><stop offset="1.00" stop-color="#b3d3de" stop-opacity="0.00"/></linearGradient>
<rect x="1192.7" y="486.1" width="12.3" height="10.2" fill="url(#g89)"/>
<linearGradient id="g90" x1="0" y1="1" x2="0" y2="0"><stop offset="0.00" stop-color="#1f46ea" stop-opacity="1.00"/><stop offset="0.06" stop-color="#1f46ea" stop-opacity="1.00"/><stop offset="0.12" stop-color="#1f46ea" stop-opacity="1.00"/><stop offset="0.19" stop-color="#1f46ea" stop-opacity="1.00"/><stop offset="0.25" stop-color="#1f46ea" stop-opacity="1.00"/><stop offset="0.31" stop-color="#1f46ea" stop-opacity="0.83"/><stop offset="0.38" stop-color="#1f46ea" stop-opacity="0.59"/><stop offset="0.44" stop-color="#1f46ea" stop-opacity="0.44"/><stop offset="0.50" stop-color="#1f46ea" stop-opacity="0.34"/><stop offset="0.56" stop-color="#1f46ea" stop-opacity="0.27"/><stop offset="0.62" stop-color="#1f46ea" stop-opacity="0.22"/><stop offset="0.69" stop-color="#1f46ea" stop-opacity="0.18"/><stop offset="0.75" stop-color="#1f46ea" stop-opacity="0.14"/><stop offset="0.81" stop-color="#1f46ea" stop-opacity="0.09"/><stop offset="0.88" stop-color="#1f46ea" stop-opacity="0.05"/><stop offset="0.94" stop-color="#1f46ea" stop-opacity="0.02"/><stop offset="1.00" stop-color="#1f46ea" stop-opacity="0.00"/></linearGradient>
<rect x="1207.4" y="488.4" width="10.4" height="7.9" fill="url(#g90)"/>
<linearGradient id="g91" x1="0" y1="1" x2="0" y2="0"><stop offset="0.00" stop-color="#b3d3de" stop-opacity="1.00"/><stop offset="0.06" stop-color="#b3d3de" stop-opacity="1.00"/><stop offset="0.12" stop-color="#b3d3de" stop-opacity="1.00"/><stop offset="0.19" stop-color="#b3d3de" stop-opacity="0.92"/><stop offset="0.25" stop-color="#b3d3de" stop-opacity="0.67"/><stop offset="0.31" stop-color="#b3d3de" stop-opacity="0.51"/><stop offset="0.38" stop-color="#b3d3de" stop-opacity="0.40"/><stop offset="0.44" stop-color="#b3d3de" stop-opacity="0.32"/><stop offset="0.50" stop-color="#b3d3de" stop-opacity="0.27"/><stop offset="0.56" stop-color="#b3d3de" stop-opacity="0.22"/><stop offset="0.62" stop-color="#b3d3de" stop-opacity="0.18"/><stop offset="0.69" stop-color="#b3d3de" stop-opacity="0.15"/><stop offset="0.75" stop-color="#b3d3de" stop-opacity="0.13"/><stop offset="0.81" stop-color="#b3d3de" stop-opacity="0.08"/><stop offset="0.88" stop-color="#b3d3de" stop-opacity="0.05"/><stop offset="0.94" stop-color="#b3d3de" stop-opacity="0.02"/><stop offset="1.00" stop-color="#b3d3de" stop-opacity="0.00"/></linearGradient>
<rect x="1220.3" y="486.1" width="12.2" height="10.2" fill="url(#g91)"/>
<linearGradient id="g92" x1="0" y1="1" x2="0" y2="0"><stop offset="0.00" stop-color="#1f46ea" stop-opacity="1.00"/><stop offset="0.06" stop-color="#1f46ea" stop-opacity="1.00"/><stop offset="0.12" stop-color="#1f46ea" stop-opacity="1.00"/><stop offset="0.19" stop-color="#1f46ea" stop-opacity="1.00"/><stop offset="0.25" stop-color="#1f46ea" stop-opacity="1.00"/><stop offset="0.31" stop-color="#1f46ea" stop-opacity="0.83"/><stop offset="0.38" stop-color="#1f46ea" stop-opacity="0.59"/><stop offset="0.44" stop-color="#1f46ea" stop-opacity="0.44"/><stop offset="0.50" stop-color="#1f46ea" stop-opacity="0.34"/><stop offset="0.56" stop-color="#1f46ea" stop-opacity="0.27"/><stop offset="0.62" stop-color="#1f46ea" stop-opacity="0.22"/><stop offset="0.69" stop-color="#1f46ea" stop-opacity="0.18"/><stop offset="0.75" stop-color="#1f46ea" stop-opacity="0.14"/><stop offset="0.81" stop-color="#1f46ea" stop-opacity="0.09"/><stop offset="0.88" stop-color="#1f46ea" stop-opacity="0.05"/><stop offset="0.94" stop-color="#1f46ea" stop-opacity="0.02"/><stop offset="1.00" stop-color="#1f46ea" stop-opacity="0.00"/></linearGradient>
<rect x="1234" y="488.4" width="8.3" height="7.9" fill="url(#g92)"/>
<linearGradient id="g93" x1="0" y1="1" x2="0" y2="0"><stop offset="0.00" stop-color="#b3d3de" stop-opacity="1.00"/><stop offset="0.06" stop-color="#b3d3de" stop-opacity="1.00"/><stop offset="0.12" stop-color="#b3d3de" stop-opacity="1.00"/><stop offset="0.19" stop-color="#b3d3de" stop-opacity="0.92"/><stop offset="0.25" stop-color="#b3d3de" stop-opacity="0.67"/><stop offset="0.31" stop-color="#b3d3de" stop-opacity="0.51"/><stop offset="0.38" stop-color="#b3d3de" stop-opacity="0.40"/><stop offset="0.44" stop-color="#b3d3de" stop-opacity="0.32"/><stop offset="0.50" stop-color="#b3d3de" stop-opacity="0.27"/><stop offset="0.56" stop-color="#b3d3de" stop-opacity="0.22"/><stop offset="0.62" stop-color="#b3d3de" stop-opacity="0.18"/><stop offset="0.69" stop-color="#b3d3de" stop-opacity="0.15"/><stop offset="0.75" stop-color="#b3d3de" stop-opacity="0.13"/><stop offset="0.81" stop-color="#b3d3de" stop-opacity="0.08"/><stop offset="0.88" stop-color="#b3d3de" stop-opacity="0.05"/><stop offset="0.94" stop-color="#b3d3de" stop-opacity="0.02"/><stop offset="1.00" stop-color="#b3d3de" stop-opacity="0.00"/></linearGradient>
<rect x="1244.8" y="486.1" width="7.7" height="10.2" fill="url(#g93)"/>
<path transform="scale(0.5)" d="M1374 986h0m3-2h0m1 0h0m7-1h0m0 0h0m2 5h0m0 0h0m2-10h0m1 11h0m0-16h0m10 3h0m2 12h0m2-7h0m4-1h0m4-2h0m1 4h0m2-2h0m3 9h0m63-2h0m6-6h0m0 3h0m1 1h0m1-2h0m12 4h0m0-10h0m1 7h0m2-2h0m1 6h0m1-11h0m0-1h0m1 5h0m5 1h0m1-6h0m1 0h0m1 12h0m2-17h0m54 13h0m4-3h0m0 0h0m1 8h0m0-6h0m7 1h0m0 0h0m4-9h0m3 10h0m2 4h0m2-1h0m2-12h0m0 9h0m2 5h0m0-4h0m0-5h0m2 7h0m0 0h0m56-2h0m2-11h0m1 13h0m3-13h0m0 6h0m1 1h0m1-4h0m1 10h0m0-3h0m1-10h0m1 3h0m3 8h0m0-4h0m0-6h0m17 6h0m3 3h0m3-1h0m0 3h0m50 2h0m6-2h0m0-12h0m2 14h0m2-2h0m1-13h0m1 6h0m1-6h0m1 12h0m0-1h0m1-10h0m2 11h0m2-4h0m0 6h0m2-14h0m0 8h0m4 1h0m2 6h0m52-1h0m3-7h0m4 5h0m3 0h0m1 3h0m0-8h0m1 3h0m1-12h0m0 14h0m1 0h0m5 0h0m3 2h0m1 1h0m6-9h0m1 6h0m1-4h0m0 0h0m1 3h0m51 2h0m1 0h0m0-8h0m3 8h0m0-13h0m0 6h0m3 0h0m1-9h0m1 9h0m3 0h0m2 7h0m1-2h0m2-12h0m1 10h0m1 1h0m0 4h0m1-4h0m2 4h0m48-18h0m0 7h0m0 6h0m0 5h0m2-1h0m2 2h0m1-3h0m1 2h0m0-10h0m1 2h0m5 3h0m2-7h0m0 2h0m0 11h0m4-2h0m1 2h0m4 0h0m2-3h0m45 3h0m1-6h0m1 3h0m1 4h0m0-6h0m1 6h0m0-4h0m4-1h0m2 2h0m1 0h0m1-1h0m1 0h0m6-1h0m1-4h0m1-9h0m1 18h0m0-9h0m6 5h0m45 1h0m0-4h0m2 2h0m0 4h0m4-7h0m1-3h0m3 1h0m1 2h0m1 6h0m3-14h0m0 8h0m2-8h0m0 14h0m1-8h0m1 5h0m1-14h0m7 16h0m0 1h0m41-2h0m1-5h0m1 7h0m2-9h0m2 9h0m0-7h0m2 5h0m0 2h0m1-10h0m1-3h0m4 7h0m1 4h0m2-6h0m5-1h0m2 8h0m3-16h0m0 18h0m2-5h0m41-22h0m1 4h0m1-4h0m0-3h0m0 22h0m1-3h0m0 5h0m1-34h0m0 29h0m0 0h0m1-7h0m0-18h0m0 27h0m0-22h0m1 28h0m0-31h0m0 28h0m0 3h0m0 0h0m1-13h0m0 5h0m0 8h0m1-2h0m0-1h0m0-5h0m0-28h0m1 31h0m0-13h0m0 8h0m1 4h0m3 4h0m1-8h0m1-2h0m1 11h0m0-3h0m0-8h0m0 3h0m1 12h0m1-7h0m5-4h0m0 11h0m1-1h0m1-9h0m41 3h0m1 6h0m5 0h0m1-11h0m1 10h0m1 4h0m0-2h0m1-12h0m1 2h0m7 7h0m0-11h0m0 15h0m3-14h0m0 10h0m1-9h0m0 2h0m1-7h0m1 3h0m39 5h0m1 5h0m1 5h0m0-1h0m5-8h0m1-4h0m0 11h0m2-1h0m3-12h0m0 5h0m1 7h0m2 1h0m0 1h0m0-7h0m2-4h0m2 0h0m2 8h0m1-1h0m33 4h0m1-3h0m1-1h0m2-10h0m2-2h0m0 13h0m3-13h0m1 14h0m0 2h0m0-12h0m2 3h0m0 9h0m1-4h0m4-5h0m3 4h0m0 2h0m1 2h0m1 0h0m27-1h0m0-3h0m0 1h0m0-2h0m3 5h0m0-14h0m2 6h0m0 5h0m0-8h0m1 9h0m0 0h0m1-2h0m3 6h0m0-4h0m2 1h0m1-5h0m1 8h0m1-7h0" stroke="#b3d3de" stroke-width="2.2" stroke-linecap="square" fill="none"/>
<path transform="scale(0.5)" d="M1427 978h0m2 7h0m0-31h0m2 31h0m1-33h0m1 27h0m1-6h0m0 15h0m0-2h0m0-2h0m1 2h0m0-9h0m0-20h0m1 9h0m0 19h0m0-9h0m2-21h0m2 31h0m0 0h0m0 4h0m0-14h0m0 4h0m2 1h0m0-11h0m0-14h0m1 27h0m0 4h0m0-14h0m0 13h0m0-14h0m1 12h0m1-21h0m0 21h0m1-18h0m0 4h0m0 4h0m1-6h0m0-8h0m0-5h0m0-14h0m1 40h0m0-23h0m1 25h0m0-12h0m0 12h0m0-7h0m1 3h0m1 3h0m0-7h0m1 2h0m0 1h0m0-27h0m0 34h0m0-2h0m1 2h0m0 6h0m1-8h0m1-6h0m0 8h0m0-35h0m1 29h0m0 6h0m0 0h0m2-8h0m4 7h0m1-5h0m3 8h0m0-2h0m1-8h0m1 5h0m57-6h0m1 8h0m1 3h0m0 0h0m0-1h0m1 1h0m0-21h0m1 5h0m0 12h0m1 0h0m0 1h0m0-23h0m0-18h0m1 45h0m1-53h0m0 51h0m1 1h0m0 0h0m1-3h0m0-47h0m1 48h0m0 1h0m0-2h0m1-27h0m0 26h0m1 3h0m1-26h0m0 23h0m0 0h0m1 4h0m0 1h0m0-44h0m1 43h0m0-5h0m0-5h0m0 11h0m1-24h0m0 0h0m1 1h0m0 16h0m0 5h0m0-4h0m1 0h0m0-1h0m0-28h0m0 12h0m1 25h0m0-5h0m0-1h0m1-4h0m0-40h0m0 26h0m0 19h0m0 0h0m1-19h0m0 21h0m1 0h0m0-41h0m0-5h0m0 46h0m0-3h0m0-1h0m1-35h0m0 29h0m1 9h0m0-4h0m2-13h0m0 17h0m1-8h0m0 1h0m2 10h0m0-23h0m1 9h0m1 12h0m0 1h0m1 0h0m0-53h0m1 42h0m2 9h0m0 1h0m52 1h0m1-2h0m1 0h0m2-27h0m0 10h0m0 15h0m1-3h0m0 3h0m0 4h0m0-2h0m1-10h0m0-18h0m2 10h0m0 12h0m1 1h0m3-12h0m0 18h0m0-1h0m0-15h0m1 13h0m0-22h0m1 16h0m1 7h0m2-8h0m0 10h0m1-8h0m0 6h0m0-7h0m3 7h0m3 3h0m1-1h0m1 0h0m0-1h0m0-1h0m2 3h0m1-1h0m4-3h0m0 2h0m4 2h0m0 0h0m48-7h0m1 5h0m2-14h0m0 7h0m1 8h0m1-5h0m1-6h0m1 2h0m1 4h0m2 6h0m3 0h0m0-1h0m2 0h0m2-6h0m1 5h0m0-1h0m0 1h0m2-1h0m0 3h0m2-1h0m1 0h0m0 0h0m0-6h0m1 7h0m1-10h0m0 7h0m1 1h0m0-5h0m1 7h0m3-4h0m0-6h0m0 0h0m1 9h0m0-4h0m3 4h0m0-13h0m0 8h0m0 4h0m1-2h0m1 3h0m48-38h0m0 31h0m0 2h0m2 5h0m0 3h0m2-3h0m0-20h0m1 14h0m0 4h0m0 1h0m2-6h0m2 3h0m0 4h0m0-2h0m2 2h0m2-1h0m0-1h0m1-5h0m0 0h0m1-5h0m0 4h0m3 5h0m1 4h0m1-1h0m1 0h0m0 1h0m1-9h0m0 5h0m1-2h0m2 6h0m0-3h0m1-5h0m0 6h0m1 1h0m0 2h0m1 1h0m0-4h0m1-1h0m4 0h0m0-9h0m48 9h0m0 2h0m2-2h0m0 2h0m1 2h0m0-5h0m1-4h0m0 7h0m1-1h0m1-6h0m0 6h0m0 1h0m1 1h0m4-5h0m1 1h0m1-6h0m0-19h0m1 16h0m0 9h0m3 3h0m0-4h0m1 5h0m2-11h0m0 10h0m0-1h0m1 1h0m0-5h0m0-8h0m0 11h0m1-10h0m0-8h0m0 17h0m1-24h0m0 15h0m1 5h0m2 1h0m0 6h0m1-7h0m2 7h0m1 2h0m46-3h0m0-1h0m1 1h0m1 0h0m1-2h0m1-2h0m0 2h0m0-5h0m1-10h0m0 9h0m0-15h0m1 23h0m1-10h0m0 0h0m0 4h0m1 8h0m0 3h0m1-10h0m1-6h0m0 9h0m1 4h0m0-6h0m1 7h0m0-3h0m1-5h0m0-13h0m3-9h0m1 23h0m2-1h0m0 4h0m0-5h0m0-1h0m1 6h0m0 1h0m4 1h0m1-4h0m0 1h0m1 0h0m1-3h0m3 1h0m42-19h0m0 24h0m1-4h0m1 1h0m1-1h0m0 1h0m0 4h0m3-9h0m0 7h0m1-10h0m1 13h0m0-38h0m1 35h0m0-6h0m0-22h0m1 26h0m1-2h0m0-1h0m0-17h0m0 23h0m1-8h0m0-15h0m0-13h0m2 9h0m0 2h0m0-9h0m0 18h0m1 11h0m0 5h0m0-5h0m0 0h0m0 1h0m1 6h0m1-6h0m0-33h0m0 26h0m1 4h0m0 4h0m0-6h0m1-7h0m0 16h0m1 5h0m1-7h0m0-4h0m0 5h0m0 0h0m0-12h0m0 13h0m1 1h0m0-3h0m0 1h0m1-8h0m0 6h0m0-8h0m0 11h0m1-18h0m0-6h0m1 16h0m0-4h0m1 5h0m3 4h0m0-1h0m1-34h0m1 37h0m0-4h0m40-12h0m4 15h0m1 1h0m1-3h0m0-2h0m0 2h0m2-23h0m0 22h0m0-17h0m0 20h0m0-16h0m1-18h0m0 34h0m0 2h0m2 0h0m1-27h0m1 27h0m1-9h0m0-1h0m1 8h0m1-3h0m1-3h0m0 7h0m0-22h0m0 5h0m0 2h0m0 15h0m1-36h0m0 36h0m0-25h0m0 21h0m1-11h0m0 11h0m1-24h0m0 19h0m0-25h0m0 33h0m1-8h0m0 7h0m0-3h0m0-24h0m1 20h0m1 2h0m0-26h0m0 32h0m0-23h0m0 7h0m1 18h0m0 1h0m1-3h0m0-4h0m1 4h0m0-3h0m0-4h0m0 4h0m1 2h0m1 3h0m0-6h0m1-3h0m0-10h0m0 19h0m0-5h0m1 6h0m0-1h0m0-5h0m43 6h0m1-14h0m1 6h0m0 8h0m1 0h0m0-2h0m1-2h0m1-2h0m1 5h0m1-3h0m0 2h0m1-1h0m0 1h0m1-7h0m0-5h0m0 12h0m0 1h0m0-2h0m0 4h0m0-10h0m1 5h0m1-34h0m3 28h0m2 9h0m1 2h0m0-33h0m0 24h0m1 6h0m2-2h0m1-34h0m0 14h0m1-8h0m1 21h0m1 9h0m1 2h0m0-3h0m1-7h0m1 5h0m0 2h0m1-1h0m41-8h0m0 6h0m1 8h0m0-4h0m1 0h0m0-9h0m1 4h0m0 5h0m0-4h0m1 4h0m1-5h0m1-8h0m0 7h0m1 6h0m0 1h0m1-7h0m1-6h0m0 13h0m0-5h0m1-3h0m0 8h0m0 1h0m0-4h0m0 2h0m2-17h0m0 22h0m1-9h0m1-15h0m0 20h0m0 0h0m1-1h0m0 4h0m3-4h0m1-7h0m1 4h0m3 3h0m1-6h0m1 5h0m2 3h0m0-5h0m40 4h0m1-9h0m1 10h0m0-7h0m0-10h0m2 15h0m1-23h0m0 25h0m0-5h0m2-7h0m0 12h0m1-6h0m0-12h0m0 10h0m2-1h0m0-14h0m0 20h0m1 2h0m1-1h0m0-6h0m1 8h0m1-17h0m0-5h0m1 19h0m0-8h0m1 10h0m1-16h0m1 15h0m0-2h0m2 2h0m0-1h0m2-10h0m0 13h0m0-10h0m1 7h0m0-11h0m2 10h0m0 3h0m0-14h0m1 9h0m40 6h0m0-5h0m0 3h0m1 3h0m1-11h0m1-5h0m0 6h0m0-13h0m4 11h0m1 8h0m0-4h0m0-25h0m1 31h0m0-1h0m1-2h0m1-7h0m1 9h0m0 1h0m0-9h0m1 7h0m1 2h0m0 0h0m0-35h0m1 37h0m0-8h0m0 6h0m0-4h0m1 5h0m0-5h0m0-2h0m0-4h0m1 11h0m0-1h0m1-6h0m0 7h0m0 0h0m1-2h0m0-5h0m1 1h0m1 5h0m39-1h0m0-4h0m1-3h0m1 9h0m0-4h0m0-6h0m0 2h0m1 8h0m0-5h0m1 4h0m0-2h0m0-11h0m1 11h0m0-14h0m0 17h0m1-12h0m0 2h0m1 11h0m0 2h0m0-3h0m0-8h0m1 8h0m2 3h0m0-17h0m0 9h0m0-3h0m0 4h0m1 2h0m1 2h0m0-16h0m2 4h0m1 0h0m0 1h0m0 8h0m1 2h0m0-1h0m1 0h0m0-6h0m1 6h0m1-5h0m33 2h0m0 3h0m2-8h0m0 0h0m1 9h0m0 1h0m1-16h0m0 8h0m0 6h0m1-4h0m0-2h0m0-3h0m1-6h0m0 15h0m1-4h0m0-17h0m1-6h0m0 28h0m1 0h0m0 1h0m1-1h0m0 1h0m0-11h0m0 9h0m0-11h0m0 1h0m1-5h0m0 7h0m2 4h0m1 6h0m0-1h0m0-2h0m0 2h0m0 1h0m0-1h0m1-3h0m0 5h0m0 0h0m1-6h0m0 1h0" stroke="#1f46ea" stroke-width="2.2" stroke-linecap="square" fill="none"/>
<line x1="680.6" y1="429.7" x2="680.6" y2="496.3" stroke="#111" stroke-width="1.4"/>
<line x1="677.6" y1="429.7" x2="680.6" y2="429.7" stroke="#111" stroke-width="1.2"/>
<text x="677.4" y="432.7" font-size="13.5" text-anchor="end" fill="#111">0.3</text>
<line x1="677.6" y1="452.3" x2="680.6" y2="452.3" stroke="#111" stroke-width="1.2"/>
<text x="677.4" y="455.3" font-size="13.5" text-anchor="end" fill="#111">0.2</text>
<line x1="677.6" y1="474.7" x2="680.6" y2="474.7" stroke="#111" stroke-width="1.2"/>
<text x="677.4" y="477.7" font-size="13.5" text-anchor="end" fill="#111">0.1</text>
<line x1="677.6" y1="496.3" x2="680.6" y2="496.3" stroke="#111" stroke-width="1.2"/>
<text x="677.4" y="499.3" font-size="13.5" text-anchor="end" fill="#111">0.0</text>
<line x1="683.6" y1="463.3" x2="1245" y2="463.3" stroke="#222" stroke-width="1.5" stroke-dasharray="6 7.2"/>
<text transform="translate(647.5 473) rotate(-90)" font-size="16.8" fill="#111" text-anchor="middle"><tspan font-style="italic">F</tspan><tspan font-size="12.096" dy="4">ST</tspan><tspan dy="-4"> (MT, YT-B)</tspan></text>
<line x1="680.6" y1="500.1" x2="1248" y2="500.1" stroke="#111" stroke-width="1.4"/>
<line x1="697.2" y1="500.1" x2="697.2" y2="503.5" stroke="#111" stroke-width="1.1"/>
<line x1="724" y1="500.1" x2="724" y2="503.5" stroke="#111" stroke-width="1.1"/>
<line x1="748.8" y1="500.1" x2="748.8" y2="503.5" stroke="#111" stroke-width="1.1"/>
<line x1="771.1" y1="500.1" x2="771.1" y2="503.5" stroke="#111" stroke-width="1.1"/>
<line x1="793" y1="500.1" x2="793" y2="503.5" stroke="#111" stroke-width="1.1"/>
<line x1="815.2" y1="500.1" x2="815.2" y2="503.5" stroke="#111" stroke-width="1.1"/>
<line x1="837.2" y1="500.1" x2="837.2" y2="503.5" stroke="#111" stroke-width="1.1"/>
<line x1="857.6" y1="500.1" x2="857.6" y2="503.5" stroke="#111" stroke-width="1.1"/>
<line x1="878.5" y1="500.1" x2="878.5" y2="503.5" stroke="#111" stroke-width="1.1"/>
<line x1="899" y1="500.1" x2="899" y2="503.5" stroke="#111" stroke-width="1.1"/>
<line x1="919.1" y1="500.1" x2="919.1" y2="503.5" stroke="#111" stroke-width="1.1"/>
<line x1="938.7" y1="500.1" x2="938.7" y2="503.5" stroke="#111" stroke-width="1.1"/>
<line x1="958.1" y1="500.1" x2="958.1" y2="503.5" stroke="#111" stroke-width="1.1"/>
<line x1="976.5" y1="500.1" x2="976.5" y2="503.5" stroke="#111" stroke-width="1.1"/>
<line x1="995" y1="500.1" x2="995" y2="503.5" stroke="#111" stroke-width="1.1"/>
<line x1="1012.7" y1="500.1" x2="1012.7" y2="503.5" stroke="#111" stroke-width="1.1"/>
<line x1="1030.2" y1="500.1" x2="1030.2" y2="503.5" stroke="#111" stroke-width="1.1"/>
<line x1="1048.2" y1="500.1" x2="1048.2" y2="503.5" stroke="#111" stroke-width="1.1"/>
<line x1="1065.4" y1="500.1" x2="1065.4" y2="503.5" stroke="#111" stroke-width="1.1"/>
<line x1="1083.6" y1="500.1" x2="1083.6" y2="503.5" stroke="#111" stroke-width="1.1"/>
<line x1="1100.7" y1="500.1" x2="1100.7" y2="503.5" stroke="#111" stroke-width="1.1"/>
<line x1="1118.3" y1="500.1" x2="1118.3" y2="503.5" stroke="#111" stroke-width="1.1"/>
<line x1="1135.2" y1="500.1" x2="1135.2" y2="503.5" stroke="#111" stroke-width="1.1"/>
<line x1="1151.8" y1="500.1" x2="1151.8" y2="503.5" stroke="#111" stroke-width="1.1"/>
<line x1="1167.4" y1="500.1" x2="1167.4" y2="503.5" stroke="#111" stroke-width="1.1"/>
<line x1="1183.2" y1="500.1" x2="1183.2" y2="503.5" stroke="#111" stroke-width="1.1"/>
<line x1="1198.8" y1="500.1" x2="1198.8" y2="503.5" stroke="#111" stroke-width="1.1"/>
<line x1="1212.6" y1="500.1" x2="1212.6" y2="503.5" stroke="#111" stroke-width="1.1"/>
<line x1="1226.4" y1="500.1" x2="1226.4" y2="503.5" stroke="#111" stroke-width="1.1"/>
<line x1="1238.2" y1="500.1" x2="1238.2" y2="503.5" stroke="#111" stroke-width="1.1"/>
<line x1="1248.7" y1="500.1" x2="1248.7" y2="503.5" stroke="#111" stroke-width="1.1"/>
<text x="697.2" y="517" font-size="14" text-anchor="middle" fill="#111">1</text>
<text x="748.8" y="517" font-size="14" text-anchor="middle" fill="#111">3</text>
<text x="793" y="517" font-size="14" text-anchor="middle" fill="#111">5</text>
<text x="837.2" y="517" font-size="14" text-anchor="middle" fill="#111">7</text>
<text x="878.5" y="517" font-size="14" text-anchor="middle" fill="#111">9</text>
<text x="919.1" y="517" font-size="14" text-anchor="middle" fill="#111">11</text>
<text x="958.1" y="517" font-size="14" text-anchor="middle" fill="#111">13</text>
<text x="995" y="517" font-size="14" text-anchor="middle" fill="#111">15</text>
<text x="1030.2" y="517" font-size="14" text-anchor="middle" fill="#111">17</text>
<text x="1065.4" y="517" font-size="14" text-anchor="middle" fill="#111">19</text>
<text x="1100.7" y="517" font-size="14" text-anchor="middle" fill="#111">21</text>
<text x="1135.2" y="517" font-size="14" text-anchor="middle" fill="#111">23</text>
<text x="1167.4" y="517" font-size="14" text-anchor="middle" fill="#111">25</text>
<text x="1198.8" y="517" font-size="14" text-anchor="middle" fill="#111">27</text>
<text x="1226.4" y="517" font-size="14" text-anchor="middle" fill="#111">29</text>
<text x="1248.7" y="517" font-size="14" text-anchor="middle" fill="#111">31</text>
<text x="690.2" y="517" font-size="14" text-anchor="end" fill="#111">Chr</text>
<text x="18.5" y="582.8" font-size="31" font-weight="bold" fill="#111">C</text>
<path d="M87.1 579.7 V797.9 H555.2" fill="none" stroke="#111" stroke-width="1.5"/>
<line x1="82.5" y1="797.9" x2="87.1" y2="797.9" stroke="#111" stroke-width="1.4"/>
<text x="75" y="803.4" font-size="15.8" text-anchor="end" fill="#111">0</text>
<line x1="82.5" y1="707" x2="87.1" y2="707" stroke="#111" stroke-width="1.4"/>
<text x="79.4" y="712.5" font-size="15.8" text-anchor="end" fill="#111">100</text>
<line x1="82.5" y1="616.1" x2="87.1" y2="616.1" stroke="#111" stroke-width="1.4"/>
<text x="79.4" y="621.6" font-size="15.8" text-anchor="end" fill="#111">200</text>
<text transform="translate(45 701.5) rotate(-90)" font-size="21" fill="#111" text-anchor="middle"><tspan font-style="italic">B</tspan><tspan font-size="15" dy="1">2</tspan></text>
<line x1="109" y1="596.4" x2="126.7" y2="596.4" stroke="#4b56d8" stroke-width="2.1"/>
<text x="136" y="599.9" font-size="16.3" fill="#111">MT</text>
<line x1="214" y1="596.4" x2="231.7" y2="596.4" stroke="#66935a" stroke-width="2.1"/>
<text x="240.9" y="599.9" font-size="16.3" fill="#111">YT−A</text>
<line x1="340.8" y1="596.4" x2="358.5" y2="596.4" stroke="#e2c22e" stroke-width="2.1"/>
<text x="367" y="599.9" font-size="16.3" fill="#111">YT−B</text>
<line x1="474.9" y1="596.4" x2="492.6" y2="596.4" stroke="#c8382f" stroke-width="2.1"/>
<text x="502.3" y="599.9" font-size="16.3" fill="#111">CBSC</text>
<line x1="86.6" y1="760.9" x2="552" y2="760.9" stroke="#c8382f" stroke-width="1.9" stroke-dasharray="9.4 9.4"/>
<line x1="86.6" y1="762.8" x2="552" y2="762.8" stroke="#4b56d8" stroke-width="1.9" stroke-dasharray="9.4 9.4"/>
<line x1="86.6" y1="766.6" x2="552" y2="766.6" stroke="#66935a" stroke-width="1.3" stroke-dasharray="9.4 9.4"/>
<line x1="86.6" y1="767.9" x2="552" y2="767.9" stroke="#e2c22e" stroke-width="1.3" stroke-dasharray="9.4 9.4"/>
<polyline points="108.6,693.6 118.4,707.4 118.8,694.2 135.2,706.4 150.9,706.4 172.6,696.5 175,687.1 176.9,694.6 180.5,691.6 190.3,688.7 201.2,680.8 202.1,687.7 209,676.8 210,687.7 219.9,675.8 230.7,685.7 244.5,697.5 268.1,703.4 274,700.5 301.6,683.7 309.5,682.7 320,692.6 327.9,699.5 336.7,714.3 338,708 340,716 342,709 344,716 354.5,714.3 368.3,713.3 369.5,704 371,722 373,706 375,724 377.1,704.4 394.9,716.2 412.6,726.1 422.4,752.7 431.3,747.8 442.1,735.9 461.8,730 479.6,713.3 481,724 482,708 483,726 484.5,709 486,722 489.4,718.2 495,726 497.3,724.1 499,730 503,726 509.1,726.1 511,733 532.8,759.6" fill="none" stroke="#66935a" stroke-width="1.5" stroke-linejoin="round"/>
<polyline points="108.6,699.5 118.4,712.3 119.4,700.5 134.2,711.3 150.9,713.9 165.7,712.3 172.6,716.2 175,708.4 176.9,715.2 188.4,713.3 202.1,706.4 203.1,696.5 208.1,700.5 209,710.3 210,684.7 221.8,678.8 233.7,686.7 244.5,700.5 268.1,711.3 301.6,684.7 309.5,683.7 320,692.6 327.9,698.5 336.7,707.4 338,711 340,704 342,712 344,706 354.5,700.5 355,692 356,701 369.3,699.5 371,716 372.5,698 374,719 375.5,700 377.1,704.4 388,718.2 389,726 390,712 391,735 392,718 393,738 394.5,722 396,730 402.7,722.1 412.6,734 422.4,765.5 430.3,769.4 437.2,788.1 443.1,767.5 461.8,761.5 479.6,765.5 480.5,780 481.5,768 482.5,784 483.5,770 484.5,786 486,772 488,790 490,776 492,779 494,795 496,778 500,790 504,782 508,794 510,776 513,792 515,797 532.8,779.3" fill="none" stroke="#e2c22e" stroke-width="1.5" stroke-linejoin="round"/>
<polyline points="110.5,790.1 136.1,795.6 166.7,795 168.7,797 170.6,795 181.5,796 182,793.1 183.4,796 227.8,791.5 233.7,796 241.5,794.6 316.4,782.2 320,779.3 339.7,755.6 341.7,751.7 368.3,712.3 378.1,706.4 392.9,709.3 394.9,714.3 402.7,722.1 422.4,737.9 436.2,751.7 461.8,761.5 483.5,754.6 494.4,752.7 497.3,758.6 509.1,760.6 532.8,779.3 533.7,768.4" fill="none" stroke="#c8382f" stroke-width="1.4" stroke-linejoin="round"/>
<polyline points="108.6,691.6 110.5,693.6 118.4,707.4 118.8,694.2 134.2,708.4 150.9,707.4 165.7,702.4 172.6,707.4 175,699.5 176.9,710.3 202.1,678.8 203.1,670.5 208.1,669.9 219.9,655.2 231.7,665 233.7,672.9 234.7,663.4 244.5,686.3 268.1,693 274,684.7 292.8,669 301.6,665 309.5,670.9 316.4,679.8 320,680.8 327.9,684.7 336.7,684.3 337.5,692 338.5,672 339.5,690 340.5,668 341.5,695 342.5,670 343.5,686 344.5,700 345.6,669 354.5,639.4 355.5,627 356,641 367.3,610.8 368,630 369.5,607 371,629 372.5,606 374,627 375,604 377.1,614.8 388,629.6 388.5,619 389.5,635 391,645 392,635 393,657 394,642 395,660 396,648 397,665 398,650 402.7,682.7 403.1,696.5 403.5,681 409.6,673.9 421.5,702.4 422.4,720.2 424.4,714.3 430.3,720.2 431.3,727.1 432.3,714.3 440.2,717.2 461.8,730 479.6,713.3 489.4,718.2 497.3,724.1 509.1,726.1 532.8,754.6" fill="none" stroke="#4b56d8" stroke-width="1.5" stroke-linejoin="round"/>
<path d="M86.5 811.3 V912.9 H554.2" fill="none" stroke="#111" stroke-width="1.5"/>
<line x1="82" y1="912.9" x2="86.5" y2="912.9" stroke="#111" stroke-width="1.4"/>
<text x="74.2" y="918.1" font-size="14.6" text-anchor="end" fill="#111">0</text>
<line x1="82" y1="866.8" x2="86.5" y2="866.8" stroke="#111" stroke-width="1.4"/>
<text x="74.2" y="872" font-size="14.6" text-anchor="end" fill="#111">50</text>
<line x1="82" y1="820.7" x2="86.5" y2="820.7" stroke="#111" stroke-width="1.4"/>
<text x="76.6" y="825.9" font-size="14.6" text-anchor="end" fill="#111">100</text>
<text transform="translate(42.5 856.8) rotate(-90)" font-size="21" fill="#111" text-anchor="middle"><tspan font-style="italic">β</tspan><tspan font-size="12" dy="-8">(1)</tspan></text>
<line x1="85.8" y1="887" x2="552" y2="887" stroke="#4b56d8" stroke-width="1.4" stroke-dasharray="9.4 9.5"/>
<line x1="85.8" y1="891.8" x2="552" y2="891.8" stroke="#66935a" stroke-width="1.2" stroke-dasharray="9.4 9.5"/>
<line x1="85.8" y1="893" x2="552" y2="893" stroke="#e2c22e" stroke-width="1.2" stroke-dasharray="9.4 9.5"/>
<polyline points="107.6,911.7 300.1,911.7 321.4,889.3 339.1,870.4 355.7,866.8 367.5,862.1 391.1,860.9 398.2,860.9 417.1,865.7 421.8,860.9 423,866 433.7,879.8 459.7,888.1 478.6,888.1 499.9,886.9 523.5,889.3 533,894 533.4,911.7" fill="none" stroke="#c8382f" stroke-width="1.4" stroke-linejoin="round"/>
<polyline points="107.6,881.2 111.1,882.3 117.7,875.7 118,900.7 118.2,911.5 119,911.3 132.4,885.9 141.8,888.2 156,888.2 165.5,875.2 171.4,875.2 177.3,870.5 182,869.3 186.8,866.3 196.2,868.1 199.8,876.4 206.9,868.6 217.5,867 229.3,870.5 232.9,896.5 240,872.9 267.1,861.1 274.2,863.4 295.5,874.1 300,871.4 315.4,866.3 326.6,911.5 336,868.5 337.3,909.4 338.6,857.7 338.9,854 339.9,907.6 341.1,856.7 342.4,894.4 343,853 343.7,873.6 345,911.2 345.1,911.5 352.3,850.9 365.6,848.5 367,859.9 367.6,860.2 368.3,900 369.6,863.3 370.9,905.3 372.1,860.4 373.4,906.2 374.7,863 376,906.6 386.1,859.1 387,860.9 388.3,904 389.6,862.5 390.9,904.3 392.1,865.8 393.4,908.8 394.3,863.2 394.7,863.5 396,895.9 402.5,868.4 404.5,891.9 412.7,904.2 423,881.7 431.1,877.6 441.4,911.4 459.8,886.8 478.3,890.9 479.3,883.7 480,887.5 481.2,902.1 482.4,886.5 483.7,902.7 484.9,889.3 486.1,909.5 487.3,889.4 488.6,904.3 489.8,889.8 491,907.2 491.6,887.8 495,904.8 496.7,911.5 498,910.6 500.8,888.9 501,889.8 504,911 507,891.3 510,909.2 513.1,888.9 533.6,887.8" fill="none" stroke="#66935a" stroke-width="1.5" stroke-linejoin="round"/>
<polyline points="107.6,878.7 111.1,879.8 117.7,873.2 118.2,911.7 132.4,883.4 141.8,885.7 156,885.7 165.5,872.7 171.4,872.7 177.3,868 182,866.8 186.8,863.8 196.2,865.6 199.8,873.9 206.9,866.1 217.5,864.5 229.3,868 232.9,894 240,870.4 267.1,858.6 274.2,860.9 295.5,871.6 300,868.9 315.4,863.8 326.6,910 338.9,851.5 343,850.5 345.1,910 352.3,848.4 365.6,846 367.6,857.7 386.1,856.6 394.3,860.7 402.5,865.9 404.5,889.4 412.7,901.7 423,879.2 431.1,875.1 441.4,908.9 459.8,884.3 478.3,888.4 479.3,881.2 491.6,885.3 496.7,910 500.8,886.4 513.1,886.4 533.6,885.3" fill="none" stroke="#4b56d8" stroke-width="1.5" stroke-linejoin="round"/>
<polyline points="107.6,884.7 111.1,885.8 117.7,879.2 118,899.5 118.2,911.5 119,911.3 132.4,889.4 141.8,891.7 156,891.7 165.5,878.7 171.4,878.7 173,878.9 174,904.1 175,878.3 177.3,874 182,872.8 186.8,869.8 196.2,871.6 199.8,879.9 201,878.8 202.6,911.3 204.2,878.4 205.8,908 206.9,872.1 207.4,873 209,897.7 217.5,870.5 229.3,874 232.9,900 240,876.4 267.1,864.6 274.2,866.9 295.5,877.6 300,874.9 315.4,869.8 326.6,911.5 335.9,872.6 336.3,899 336.8,868.7 337.2,901.1 337.7,863.6 338.1,900.3 338.5,862.6 338.9,857.5 339,901.6 339.4,860.3 339.8,898.8 340.3,857.4 340.7,897.1 341.2,859.3 341.6,905.7 342,856.9 342.5,894.9 342.9,858.4 343,856.5 343.3,900 343.8,880.6 344.2,905.8 344.7,903.7 345.1,911.5 345.1,911.5 350.2,874.3 350.8,904.5 351.4,865.5 352,894.8 352.3,854.4 352.5,854.7 353.1,908.8 353.7,855 354.3,892.1 365.6,852 366.6,859.6 367,900.3 367.5,864.2 367.6,863.7 367.9,903 368.4,865.2 368.8,905.6 369.3,865.9 369.7,901.7 370.1,867.2 370.6,900 371,867.2 371.5,897.1 371.9,867.4 372.4,900.2 372.8,864 373.3,897 373.7,867.2 374.1,896.2 374.6,865.6 375,899.4 375.5,864.1 375.9,897.4 376.4,865.5 376.8,906.7 386,862.9 386.1,862.6 386.4,896.9 386.9,867 387.3,910 387.8,866.6 388.2,904.6 388.7,864.5 389.1,906.6 389.6,867.4 390,897.2 390.5,865 390.9,901.5 391.4,865.4 391.8,899.9 392.3,867 392.7,897.4 393.2,870.1 393.6,903.5 394.1,870.6 394.3,866.7 394.5,906.7 395,867.4 395.4,902.2 395.9,867.8 396.3,908.5 398,870.7 398.5,902.5 399,870.3 399.5,910.9 400,873.8 400.5,907 401,874.8 401.5,898.9 402,873.1 402.5,871.9 402.5,905.1 404.5,895.4 412.7,907.7 421,891.6 421.7,906.2 422.3,889 423,885.2 423,906.4 427,885.7 427.8,902.1 428.5,884.4 429.2,907.1 430,884.5 431.1,881.1 441.4,911.5 459.8,890.3 478.3,894.4 478.3,895.4 478.8,909.3 479.3,887.2 479.4,891.1 479.9,907.1 480.4,889.8 481,911.4 481.5,889.6 482,906.8 482.6,888.4 483.1,906.5 483.6,891.2 484.2,911 484.7,891.5 485.2,907.9 485.7,892.1 486.3,908.8 486.8,892.5 487.3,905.9 487.9,890.1 488.4,911 488.9,893.1 489.5,904.5 490,891.8 490.5,908.2 491.1,893.5 491.6,891.3 491.6,909.2 494.7,905 495.6,911 496.4,911.9 496.7,911.5 497.3,910.9 498.1,906 499,910.1 499.8,899.9 500.7,911.3 500.8,892.4 501.6,894.7 502.4,906.6 503.3,893.6 504.1,910 505,895.6 505.9,909.9 506.7,893.1 507.6,908.6 508.4,895.2 509.3,910.8 510.1,893.7 511,909.3 513.1,892.4 515,895.6 516,908.5 517,895.6 518,910.4 519,893.4 520,907.1 533.6,891.3" fill="none" stroke="#e2c22e" stroke-width="1.5" stroke-linejoin="round"/>
<text x="111" y="934.5" font-size="17.8" font-style="italic" fill="#111">LAC (Hgig_05562)</text>
<rect x="107.6" y="937.8" width="426.5" height="10.1" fill="#10c0f6"/>
<rect x="106.5" y="935.8" width="2.6" height="13.8" fill="#e2202b"/>
<rect x="501" y="935.6" width="7" height="14" fill="#e2202b"/>
<path d="M511.2 933.5 l1.3 4 v10 l-1.3 4 l-1.3 -4 v-10z" fill="#e2202b"/>
<rect x="520.4" y="936.5" width="2.4" height="12.5" fill="#c8142e"/>
<rect x="531.8" y="936.5" width="2.4" height="12.5" fill="#c8142e"/>
<line x1="84.6" y1="955.5" x2="553.5" y2="955.5" stroke="#111" stroke-width="1.5"/>
<line x1="84.6" y1="954.8" x2="84.6" y2="960.5" stroke="#111" stroke-width="1.4"/>
<line x1="170.7" y1="954.8" x2="170.7" y2="960.5" stroke="#111" stroke-width="1.4"/>
<line x1="280.9" y1="954.8" x2="280.9" y2="960.5" stroke="#111" stroke-width="1.4"/>
<line x1="389.9" y1="954.8" x2="389.9" y2="960.5" stroke="#111" stroke-width="1.4"/>
<line x1="499.9" y1="954.8" x2="499.9" y2="960.5" stroke="#111" stroke-width="1.4"/>
<line x1="553.5" y1="954.8" x2="553.5" y2="960.5" stroke="#111" stroke-width="1.4"/>
<text x="170.7" y="979.8" font-size="17.6" text-anchor="middle" fill="#111">235.0</text>
<text x="280.9" y="979.8" font-size="17.6" text-anchor="middle" fill="#111">235.05</text>
<text x="389.9" y="979.8" font-size="17.6" text-anchor="middle" fill="#111">235.10</text>
<text x="499.9" y="979.8" font-size="17.6" text-anchor="middle" fill="#111">235.15</text>
<text x="304.3" y="1009" font-size="22.2" text-anchor="middle" fill="#111">Chr5 (Mb)</text>
<text x="576.2" y="577.6" font-size="29" font-weight="bold" fill="#111">D</text>
<rect x="643.9" y="583.1" width="147.9" height="19.5" fill="#3b9a35"/>
<rect x="791.8" y="583.1" width="328.2" height="19.5" fill="#da1477"/>
<rect x="1120" y="583.1" width="45.7" height="19.5" fill="#c2d82b"/>
<rect x="1165.7" y="583.1" width="40.7" height="19.5" fill="#e8390f"/>
<text x="728.3" y="578.8" font-size="17.6" text-anchor="middle" fill="#111">Holocene</text>
<text x="964.7" y="578.8" font-size="17.6" text-anchor="middle" fill="#111">Pleistocene</text>
<text x="1124.3" y="578.8" font-size="17.6" text-anchor="middle" fill="#111">Pliocene</text>
<text x="1204.2" y="578.8" font-size="17.6" text-anchor="middle" fill="#111">Miocene</text>
<line x1="643.9" y1="627.5" x2="866.8" y2="627.5" stroke="#8e8e8e" stroke-width="1.05"/>
<line x1="643.9" y1="652.7" x2="866.8" y2="652.7" stroke="#8e8e8e" stroke-width="1.05"/>
<line x1="643.9" y1="656.9" x2="866.8" y2="656.9" stroke="#8e8e8e" stroke-width="1.05"/>
<line x1="643.9" y1="659.5" x2="866.8" y2="659.5" stroke="#8e8e8e" stroke-width="1.05"/>
<line x1="643.9" y1="661.6" x2="866.8" y2="661.6" stroke="#8e8e8e" stroke-width="1.05"/>
<line x1="643.9" y1="663.5" x2="866.8" y2="663.5" stroke="#8e8e8e" stroke-width="1.05"/>
<line x1="643.9" y1="666.3" x2="866.8" y2="666.3" stroke="#8e8e8e" stroke-width="1.05"/>
<line x1="643.9" y1="670.1" x2="866.8" y2="670.1" stroke="#8e8e8e" stroke-width="1.7"/>
<line x1="643.9" y1="671.4" x2="866.8" y2="671.4" stroke="#8e8e8e" stroke-width="1.05"/>
<line x1="643.9" y1="683.3" x2="866.8" y2="683.3" stroke="#8e8e8e" stroke-width="1.7"/>
<line x1="643.9" y1="684.7" x2="866.8" y2="684.7" stroke="#8e8e8e" stroke-width="1.05"/>
<line x1="643.9" y1="689" x2="866.8" y2="689" stroke="#8e8e8e" stroke-width="1.05"/>
<line x1="643.9" y1="690.9" x2="866.8" y2="690.9" stroke="#8e8e8e" stroke-width="1.05"/>
<line x1="643.9" y1="697.5" x2="866.8" y2="697.5" stroke="#8e8e8e" stroke-width="1.05"/>
<line x1="643.9" y1="699.4" x2="866.8" y2="699.4" stroke="#8e8e8e" stroke-width="1.05"/>
<line x1="866.8" y1="627.1" x2="866.8" y2="872" stroke="#8c8c8c" stroke-width="2.2"/>
<polyline points="643.9,802.8 680,806 720,815 745,826 770,847 790,875 805,905 817,926 824,919.3 835,915 849,911.3 852,905 855,911.3 858,895 860.1,881.8 863,893 866,884" fill="none" stroke="#e1c22c" stroke-width="1.2" stroke-linejoin="round"/>
<polyline points="866,899.6 866.5,893.3 867,896.2 867.4,872.3 867.7,903.5 867.9,888 868.4,901.6 868.6,876.1 869,893.3 869.3,889.2 869.8,900.4 870.2,895.6 870.7,904.1 871.1,896.3 871.3,903.5 871.8,894.2 872.3,892.1 872.9,893.1 873.2,894.3 873.7,870.7 874.3,903.7 874.6,854.3 874.9,901.5 875.2,890 875.6,895.2 875.9,895.8 876.4,898.3 876.8,894.1 877.2,894.9 877.5,896 877.9,898.2 878.1,891.6 878.6,899.4 879.1,892.8 879.6,896.5 880.1,888.8 880.4,904.2 880.7,887.2 881.2,900.2 881.4,887 881.9,897.8 882.3,895.6 882.8,894.2 883.2,888.2 883.5,906.7 883.8,896 884.1,896.4 884.5,898.5 885,907.6 885.5,891.4 885.7,892.6 886.2,859 886.6,904.8 887.1,899.9 887.6,907 888.1,888.5 888.4,904.4 888.9,893.7 889.4,903 889.8,891.2 890.1,904 890.6,889.2 891.1,903.3 891.6,900 891.8,903.6 892.1,889.6 892.6,907.9 892.8,895.6 893.1,896.5 893.6,893.2 893.9,904.7 894.3,888 894.8,900.5 895.2,898.9 895.7,907.4 896.2,896.1 896.6,898.7 897,890.4 897.3,907.5 897.7,849.7 898,905.8 898.3,875.4 898.7,892.7 899,858.1 899.4,904.8 899.9,885.6 900.2,902.4 900.5,892.6 900.8,898.7 901.2,891.6 901.7,900.9 902.2,900.2 902.7,895.4 903.1,885.3 903.4,861 903.7,885.3 903.5,908.7 904.1,892 904.4,906.4 904.8,887.7 905.4,910.4 905.8,886.3 906.3,908.6 906.6,892 907,922.8 907.3,860 907.6,922.8 907.3,885.7 907.7,907.7 908,890.4 908.5,906.1 908.9,869.4 909.3,898.5 909.7,889.9 910.1,898.9 910.6,883.1 911.1,910.9 911.6,896.5 912,925.2 912.4,891.8 912.8,902.6 913,888.9 913.6,910.4 914,898.4 914.5,910.1 914.8,896.5 915.3,893.7 915.6,896.3 916.1,898.8 916.5,898.9 916.8,902.9 917.1,888.2 917.5,900.8 917.7,895.8 918.2,903.3 918.6,881.5 919.1,908.9 919.4,892.7 919.8,912.4 920,894.6 920.4,891.9 920.8,882.2 921.1,917.9 921.6,879.6 921.9,827 922.2,879.6 921.9,902.8 922.3,883.9 922.5,921.9 922.9,886.2 923.2,895 923.8,870.1 924.3,901.8 924.7,888.2 925.1,923.8 925.6,895.8 926,900.4 926.3,840.2 926.8,907.3 927.3,889.3 927.7,913.1 928,822 928.3,913.1 928,877.7 928.5,909.8 929,878 929.5,908.8 929.9,899.6 930.3,886 930.8,883.2 931.3,906.7 931.7,884.3 932.1,914 932.6,879.6 932.8,905.5 933.2,862.4 933.5,890.1 934,884.3 934.6,904.4 935,847.7 935.5,887.2 935.8,794 936.1,887.2 935.8,886 936.2,905.5 936.7,887.2 937.2,898.8 937.6,883.2 938.1,920.5 938.3,895.6 938.7,912.5 939,872.6 939.2,912.8 939.6,872.7 940,913.6 940.4,872.1 940.9,889.5 941.2,847.5 941.5,900.9 941.9,891 942.3,910.3 942.8,870.7 943.2,888.7 943.7,878.9 944,908.1 944.4,878.2 944.7,893.9 945.2,860.4 945.6,900.2 945.9,859 946.3,904.3 946.6,840 946.9,904.3 946.7,881.7 947,910.3 947.3,895.8 947.7,911.1 948.1,889.3 948.5,907.7 948.8,878.3 949.3,900 949.6,855.9 950,902.1 950.4,850.7 950.8,884.1 951.3,872 951.6,897.2 952,895.2 952.4,916.8 952.7,815 953,916.8 952.9,880.3 953.2,895.3 953.8,863.6 954.1,897.2 954.5,881.6 954.9,913.5 955.4,874.2 955.9,916.6 956.2,875.6 956.6,919.7 957.1,898.1 957.6,881.6 958,829.5 958.3,912.4 958.6,888.2 959,913.2 959.4,856.6 959.8,904.3 960.3,857.9 960.8,909.6 961.2,860.3 961.8,908.6 962.2,861 962.6,884.2 963.2,878.9 963.5,899.1 964,897.9 964.3,909 964.6,897.6 965,927.2 965.3,886.8 965.8,906.7 966.1,883 966.6,893 967.1,872.5 967.6,920.2 968,851.7 968.3,830 968.6,851.7 968.3,875 968.8,876.6 969.2,890.5 969.7,827.4 970,915.7 970.5,889.6 970.8,889.4 971.2,863.5 971.5,903.9 972,904.6 972.5,917.1 972.9,825.2 973.3,922.8 973.8,879.7 974.1,921.3 974.6,885.4 975,881.8 975.4,829.7 975.8,912.6 976.2,892.6 976.6,923.9 977.1,902.3 977.5,886.7 977.9,902.6 978.4,884.5 978.7,873.9 979.1,892.8 979.5,881.1 980,892.2 980.4,855 980.9,874.9 981.2,856.9 981.5,896.3 981.9,893.3 982.2,877.3 982.5,844.5 982.9,909.7 983.4,871.9 983.8,865.3 984.2,840.7 984.7,933.6 985,821.1 985.3,812 985.6,821.1 985.4,917 985.9,886.9 986.4,904.4 986.8,888.1 987.3,902.6 987.8,883.4 988.3,881.7 988.6,858.9 988.9,924.4 989.3,889.2 989.6,923.3 990,859.2 990.6,927.7 991,889.1 991.3,923.2 991.8,843.7 992.2,933.4 992.7,837.6 993.1,911.4 993.4,855.9 993.7,880.7 994,868.4 994.3,902.6 994.7,871.9 995,911.5 995.5,854.5 995.9,908.8 996.3,845.5 996.9,920.9 997.3,864.2 997.8,902.9 998.2,836.2 998.4,914.8 998.9,853.2 999.2,907 999.5,862.5 999.9,864.5 1000.3,877.3 1000.7,882.1 1001.2,831.3 1001.7,895.4 1002,843.1 1002.5,868.9 1002.8,855.4 1003.1,881.9 1003.4,893.1 1003.9,893 1004.4,791.9 1004.7,899.6 1005.2,858.8 1005.5,800 1005.8,858.8 1005.6,924.2 1005.9,836.6 1006.3,874.7 1006.8,878.2 1007.1,921.4 1007.4,842.4 1007.9,920.6 1008.2,843.8 1008.6,864.7 1009,842.7 1009.3,879.1 1009.7,864 1010.3,903.6 1010.6,829.9 1010.9,906.4 1011.5,858.7 1011.9,859.4 1012.2,872.4 1012.5,882 1012.8,869.9 1013.1,920.5 1013.4,856.6 1013.8,922.1 1014.1,850.3 1014.4,906.4 1014.8,853.2 1015.3,897.6 1015.6,836.3 1016,876.9 1016.5,835.6 1016.8,895 1017.2,797.6 1017.7,900.1 1018,800.9 1018.4,891.4 1018.9,886.9 1019.3,897.8 1019.6,878.9 1019.9,881.8 1020.3,868.5 1020.6,914 1020.9,877.2 1021.4,911.8 1021.8,860.5 1022.3,855.4 1022.8,822.2 1023.2,928.7 1023.7,878 1024,888.3 1024.3,821.1 1024.8,873.5 1025.2,868.7 1025.7,883.5 1026.2,801.1 1026.7,856 1027.1,827.2 1027.7,889.8 1028.2,857 1028.5,881.4 1028.9,874.2 1029.2,889.6 1029.6,819.3 1030.1,869.5 1030.4,836.1 1030.7,848.8 1031,855.2 1031.5,874.4 1031.8,821.5 1032.3,904.7 1032.6,790 1032.9,904.7 1032.5,859.9 1032.8,913.7 1033.3,798.7 1033.6,851.2 1034,887.3 1034.4,893 1034.9,863.9 1035.3,862.5 1035.7,832.9 1036,911.8 1036.4,856.8 1036.6,847.7 1037,826.7 1037.4,900 1037.7,833.6 1038.2,911.3 1038.7,878.4 1039,851.9 1039.4,845.1 1039.7,881.7 1040,834.2 1040.3,877.2 1040.6,839.3 1041,925.2 1041.3,881 1041.6,887.9 1042,856.9 1042.3,877.4 1042.7,861.8 1043,886 1043.5,854.1 1044,904.7 1044.5,850.6 1044.8,907.9 1045.2,805.2 1045.6,874.2 1046.1,871.3 1046.4,899 1046.7,841.6 1047,887.2 1047.4,836.5 1047.9,915.3 1048.3,821.2 1048.8,899.7 1049.3,824.7 1049.7,886.8 1050.1,859.5 1050.5,868.2 1050.8,868.4 1051.1,851.4 1051.4,794.2 1051.9,885.9 1052.4,801.1 1052.8,905.1 1053.3,862 1053.6,875.5 1054.1,824.4 1054.5,899.7 1055,825.9 1055.4,897.4 1055.7,886.9 1056.2,914.3 1056.7,849.5 1057,912.2 1057.3,808.5 1057.6,900.8 1057.9,791 1058.3,878 1058.8,823.7 1059.2,893.9 1059.7,851.4 1060.1,904.4 1060.4,874.4 1060.8,885.5 1061.1,885.2 1061.4,894 1061.7,844.4 1062,848.7 1062.6,802.3 1062.9,914.8 1063.5,843.6 1064,878.4 1064.4,832.3 1064.7,911.4 1065.2,845.7 1065.7,919.4 1066,876.4 1066.5,871.4 1066.7,862.9 1067,886.5 1067.5,826.2 1068,904.7 1068.5,872.8 1068.9,897.3 1069.4,882.5 1069.7,876.3 1070.2,820.6 1070.6,873.5 1071.1,792.7 1071.6,861.8 1072,827.6 1072.3,855.2 1072.7,884.4 1073,870.4 1073.6,861.2 1073.9,899.3 1074.5,843.1 1074.8,876.4 1075.1,854.8 1075.6,869.7 1076,807.6 1076.4,873.8 1076.7,829.6 1077.2,890.8 1077.7,868.7 1078.1,878.8 1078.5,844.9 1078.9,886.8 1079.2,827.8 1079.6,888.1 1079.9,838.3 1080.4,867.6 1080.9,842.7 1081.2,911.9 1081.5,813.5 1082.1,902.4 1082.5,768.3 1082.9,861.7 1083.3,832.2 1083.6,863.9 1083.9,830.7 1084.3,860.5 1084.8,816.3 1085.3,899.9 1085.7,785.1 1086.2,902 1086.5,841.7 1086.9,906 1087.5,856.6 1088,895 1088.5,783.9 1088.8,888.5 1089.2,819.1 1089.5,892.6 1089.8,865.1 1090.2,868.4 1090.8,818.6 1091.1,864.3 1091.4,822.4 1091.9,872 1092.3,802.3 1092.8,857.3 1093.1,806.1 1093.6,890.6 1094.2,839 1094.6,874.3 1095,847.5 1095.5,861.6 1096,850.4 1096.3,904.2 1096.6,841.8 1097.1,884 1097.4,778.6 1097.8,892.9 1098.1,802.2 1098.4,886.7 1098.7,831.3 1099.2,884.6 1099.7,795.6 1100.2,887.4 1100.8,867.8 1101.2,887.2 1101.7,851.4 1102,867.5 1102.3,855.3 1102.7,892 1103.2,810.3 1103.5,920.1 1104,775.7 1104.4,876.6 1104.9,841.2 1105.2,878.5 1105.5,824.3 1106,852.6 1106.2,848 1106.6,869.7 1106.9,800.7 1107.5,874 1107.9,799.3 1108.3,822.8 1108.8,807.2 1109.1,908.2 1109.4,792.3 1109.9,828.2 1110.2,752.6 1110.5,869.4 1111.1,791.7 1111.5,896.5 1111.8,803.7 1112.2,863.3 1112.5,824.8 1112.8,891.2 1113.2,815.1 1113.5,831.1 1113.8,819 1114.3,907.9 1114.9,868 1115.4,854.7 1115.8,831.3 1116.2,849 1116.6,771.9 1116.9,843.7 1117.3,787.8 1117.6,874.1 1118.2,788.3 1118.5,881.7 1119,851.6 1119.2,867.3 1119.8,737.7 1120.2,900.6 1120.6,794.5 1121.1,815.9 1121.5,788.3 1121.9,848.6 1122.2,762.6 1122.7,863.4 1123,836.5 1123.6,854.6 1123.9,808.2 1124.4,816.2 1124.8,844.8 1125.1,859.4 1125.5,786 1126,811.3 1126.3,791.7 1126.7,816.5 1127.1,795.1 1127.5,865.5 1127.9,796.5 1128.3,854.9 1128.6,778.5 1129,801.3 1129.3,778.3 1129.7,842.9 1130.3,794.6 1130.6,854.4 1130.9,729.9 1131.4,840.3 1131.6,761.6 1132.1,801.6 1132.5,813.3 1132.9,803.4 1133.3,763.3 1133.8,824 1134.2,803.5 1134.7,815 1135,784.6 1135.3,813.4 1135.7,803.5 1136,831.9 1136.3,763.3 1136.8,833.4 1137.2,774.7 1137.7,811.5 1138.2,794 1138.5,825.1 1139,756.4 1139.4,816.6 1139.9,814 1140.4,790.5 1140.7,712.4 1141,848.2 1141.4,726.4 1142,836 1142.5,727.2 1142.8,825.1 1143.2,802.2 1143.6,821.6 1144,775.2 1144.4,793.4 1144.7,765.6 1145.3,847.1 1145.8,726 1146.2,831.5 1146.6,724.4 1147.2,779.2 1147.7,740.6 1148.2,830.2 1148.6,759.5 1148.9,782.7 1149.4,754.5 1149.7,857.9 1150.1,768.8 1150.4,827.9 1150.7,752.6 1151,799.8 1151.5,787 1152,800.7 1152.3,755.5 1152.6,804 1153.1,767.5 1153.5,786.1 1153.8,796.9 1154.4,809.2 1154.9,754.3 1155.2,832.3 1155.5,765 1155.9,822.1 1156.3,733.9 1156.6,787.4 1156.9,799.5 1157.5,837.7 1158,804.7 1158.5,799.1 1159,766.2 1159.5,814.6 1159.8,796.9 1160.1,799.5 1160.3,795.3 1160.6,818.2 1161,774.5" fill="none" stroke="#e1c22c" stroke-width="1.3" stroke-linejoin="round"/>
<polygon points="941,905 941,916 941,895.5 953.1,895.5 953.1,886.7 965.4,886.7 965.4,876.9 977.9,876.9 977.9,866.6 990.8,866.6 990.8,848.5 1003.1,848.5 1003.1,827.5 1015.9,827.5 1015.9,802.1 1026.5,802.1 1026.5,780.8 1038.1,780.8 1038.1,756.2 1051,756.2 1051,727.9 1063.1,727.9 1063.1,701.8 1075.9,701.8 1075.9,676.8 1086.7,676.8 1086.7,655.8 1098.3,655.8 1098.3,646.6 1109.5,646.6 1109.5,650.3 1121.3,650.3 1121.3,668.8 1133.2,668.8 1133.2,693.5 1143.8,693.5 1143.8,719.5 1154.8,719.5 1154.8,740.8 1166,740.8 1166,756.8 1178.8,756.8 1178.8,760.3 1206.4,760.3 1206.4,775.5 1181.8,775.5 1181.8,774.7 1169,774.7 1169,769.1 1157.8,769.1 1157.8,757.2 1146.8,757.2 1146.8,740.5 1136.2,740.5 1136.2,717.5 1124.3,717.5 1124.3,690 1112.5,690 1112.5,685.8 1101.3,685.8 1101.3,695.3 1089.7,695.3 1089.7,714.3 1078.9,714.3 1078.9,737.8 1066.1,737.8 1066.1,763 1054,763 1054,789.3 1041.1,789.3 1041.1,812.9 1029.5,812.9 1029.5,831.5 1018.9,831.5 1018.9,851.4 1006.1,851.4 1006.1,870.1 993.8,870.1 993.8,884.4 980.9,884.4 980.9,896.4 968.4,896.4 968.4,901.7 956.1,901.7 956.1,910.2 944,910.2 944,911" fill="#9cc860"/>
<polyline points="643.9,875.4 866,875.4 866,916 941,916 941,895.5 953.1,895.5 953.1,886.7 965.4,886.7 965.4,876.9 977.9,876.9 977.9,866.6 990.8,866.6 990.8,848.5 1003.1,848.5 1003.1,827.5 1015.9,827.5 1015.9,802.1 1026.5,802.1 1026.5,780.8 1038.1,780.8 1038.1,756.2 1051,756.2 1051,727.9 1063.1,727.9 1063.1,701.8 1075.9,701.8 1075.9,676.8 1086.7,676.8 1086.7,655.8 1098.3,655.8 1098.3,646.6 1109.5,646.6 1109.5,650.3 1121.3,650.3 1121.3,668.8 1133.2,668.8 1133.2,693.5 1143.8,693.5 1143.8,719.5 1154.8,719.5 1154.8,740.8 1166,740.8 1166,756.8 1178.8,756.8 1178.8,760.3 1206.4,760.3" fill="none" stroke="#5b3c9c" stroke-width="2.6" stroke-linejoin="round" stroke-linejoin="miter"/>
<polyline points="866,917.8 941,917.8 941,897.3 953.1,897.3 953.1,888.5 965.4,888.5 965.4,878.7 977.9,878.7 977.9,868.4 990.8,868.4 990.8,850.3 1003.1,850.3 1003.1,829.3 1015.9,829.3 1015.9,803.9 1026.5,803.9 1026.5,782.6 1038.1,782.6 1038.1,758 1051,758 1051,729.7 1063.1,729.7 1063.1,703.6 1075.9,703.6 1075.9,678.6 1086.7,678.6 1086.7,657.6 1098.3,657.6 1098.3,648.4 1109.5,648.4 1109.5,652.1 1121.3,652.1 1121.3,670.6 1133.2,670.6 1133.2,695.3 1143.8,695.3 1143.8,721.3 1154.8,721.3 1154.8,742.6 1166,742.6 1166,758.6 1178.8,758.6 1178.8,762.1 1206.4,762.1" fill="none" stroke="#5b3c9c" stroke-width="1.2" stroke-linejoin="round" stroke-linejoin="miter" opacity="0.85"/>
<polyline points="643.9,872 866,872 866,914 941.1,914 941.1,896.2 953.2,896.2 953.2,887.4 965.6,887.4 965.6,877.9 978,877.9 978,867.5 990.9,867.5 990.9,849.6 1003.3,849.6 1003.3,828.7 1016.1,828.7 1016.1,803.6 1026.6,803.6 1026.6,782.4 1038.3,782.4 1038.3,757.8 1051.2,757.8 1051.2,729.7 1063.3,729.7 1063.3,703.6 1076,703.6 1076,678.7 1086.8,678.7 1086.8,657.7 1098.5,657.7 1098.5,648.5 1109.6,648.5 1109.6,652.3 1121.5,652.3 1121.5,671.3 1133.4,671.3 1133.4,695.9 1143.9,695.9 1143.9,721.4 1155,721.4 1155,742.2 1166.2,742.2 1166.2,757.7 1179,757.7 1179,761.1 1206.4,761.1" fill="none" stroke="#5b3c9c" stroke-width="2.6" stroke-linejoin="round" stroke-linejoin="miter"/>
<polyline points="866,915.8 941.1,915.8 941.1,898 953.2,898 953.2,889.2 965.6,889.2 965.6,879.7 978,879.7 978,869.3 990.9,869.3 990.9,851.4 1003.3,851.4 1003.3,830.5 1016.1,830.5 1016.1,805.4 1026.6,805.4 1026.6,784.2 1038.3,784.2 1038.3,759.6 1051.2,759.6 1051.2,731.5 1063.3,731.5 1063.3,705.4 1076,705.4 1076,680.5 1086.8,680.5 1086.8,659.5 1098.5,659.5 1098.5,650.3 1109.6,650.3 1109.6,654.1 1121.5,654.1 1121.5,673.1 1133.4,673.1 1133.4,697.7 1143.9,697.7 1143.9,723.2 1155,723.2 1155,744 1166.2,744 1166.2,759.5 1179,759.5 1179,762.9 1206.4,762.9" fill="none" stroke="#5b3c9c" stroke-width="1.2" stroke-linejoin="round" stroke-linejoin="miter" opacity="0.85"/>
<polyline points="643.9,868 867,868 867,912 941.3,912 941.3,896.9 953.4,896.9 953.4,888.2 965.7,888.2 965.7,878.9 978.2,878.9 978.2,868.4 991.1,868.4 991.1,850.6 1003.4,850.6 1003.4,829.9 1016.2,829.9 1016.2,805.1 1026.8,805.1 1026.8,784 1038.4,784 1038.4,759.5 1051.3,759.5 1051.3,731.5 1063.4,731.5 1063.4,705.4 1076.2,705.4 1076.2,680.6 1087,680.6 1087,659.7 1098.6,659.7 1098.6,650.5 1109.8,650.5 1109.8,654.2 1121.6,654.2 1121.6,673.7 1133.5,673.7 1133.5,698.2 1144.1,698.2 1144.1,723.2 1155.1,723.2 1155.1,743.6 1166.3,743.6 1166.3,758.6 1179.1,758.6 1179.1,761.8 1206.4,761.8" fill="none" stroke="#3d4aa2" stroke-width="2.6" stroke-linejoin="round" stroke-linejoin="miter"/>
<polyline points="867,913.8 941.3,913.8 941.3,898.7 953.4,898.7 953.4,890 965.7,890 965.7,880.7 978.2,880.7 978.2,870.2 991.1,870.2 991.1,852.4 1003.4,852.4 1003.4,831.7 1016.2,831.7 1016.2,806.9 1026.8,806.9 1026.8,785.8 1038.4,785.8 1038.4,761.3 1051.3,761.3 1051.3,733.3 1063.4,733.3 1063.4,707.2 1076.2,707.2 1076.2,682.4 1087,682.4 1087,661.5 1098.6,661.5 1098.6,652.3 1109.8,652.3 1109.8,656 1121.6,656 1121.6,675.5 1133.5,675.5 1133.5,700 1144.1,700 1144.1,725 1155.1,725 1155.1,745.4 1166.3,745.4 1166.3,760.4 1179.1,760.4 1179.1,763.6 1206.4,763.6" fill="none" stroke="#3d4aa2" stroke-width="1.2" stroke-linejoin="round" stroke-linejoin="miter" opacity="0.85"/>
<polyline points="643.9,864 868,864 868,910 941.5,910 941.5,897.8 953.5,897.8 953.5,889.1 965.9,889.1 965.9,880 978.4,880 978.4,869.5 991.2,869.5 991.2,851.9 1003.6,851.9 1003.6,831.3 1016.4,831.3 1016.4,806.8 1027,806.8 1027,785.9 1038.6,785.9 1038.6,761.5 1051.5,761.5 1051.5,733.6 1063.6,733.6 1063.6,707.6 1076.4,707.6 1076.4,682.8 1087.1,682.8 1087.1,662.1 1098.8,662.1 1098.8,652.8 1109.9,652.8 1109.9,656.6 1121.8,656.6 1121.8,676.6 1133.7,676.6 1133.7,701 1144.3,701 1144.3,725.5 1155.3,725.5 1155.3,745.3 1166.5,745.3 1166.5,759.7 1179.3,759.7 1179.3,762.7 1206.4,762.7" fill="none" stroke="#3d4aa2" stroke-width="2.6" stroke-linejoin="round" stroke-linejoin="miter"/>
<polyline points="868,911.8 941.5,911.8 941.5,899.6 953.5,899.6 953.5,890.9 965.9,890.9 965.9,881.8 978.4,881.8 978.4,871.3 991.2,871.3 991.2,853.7 1003.6,853.7 1003.6,833.1 1016.4,833.1 1016.4,808.6 1027,808.6 1027,787.7 1038.6,787.7 1038.6,763.3 1051.5,763.3 1051.5,735.4 1063.6,735.4 1063.6,709.4 1076.4,709.4 1076.4,684.6 1087.1,684.6 1087.1,663.9 1098.8,663.9 1098.8,654.6 1109.9,654.6 1109.9,658.4 1121.8,658.4 1121.8,678.4 1133.7,678.4 1133.7,702.8 1144.3,702.8 1144.3,727.3 1155.3,727.3 1155.3,747.1 1166.5,747.1 1166.5,761.5 1179.3,761.5 1179.3,764.5 1206.4,764.5" fill="none" stroke="#3d4aa2" stroke-width="1.2" stroke-linejoin="round" stroke-linejoin="miter" opacity="0.85"/>
<polyline points="643.9,848.5 870,848.5 870,905 941.7,905 941.7,899 953.8,899 953.8,890.3 966.1,890.3 966.1,881.6 978.6,881.6 978.6,870.9 991.5,870.9 991.5,853.7 1003.8,853.7 1003.8,833.2 1016.6,833.2 1016.6,809.2 1027.2,809.2 1027.2,788.5 1038.9,788.5 1038.9,764.1 1051.7,764.1 1051.7,736.4 1063.8,736.4 1063.8,710.4 1076.6,710.4 1076.6,685.8 1087.4,685.8 1087.4,665.2 1099.1,665.2 1099.1,656 1110.2,656 1110.2,659.8 1122,659.8 1122,680.5 1134,680.5 1134,704.8 1144.5,704.8 1144.5,728.5 1155.5,728.5 1155.5,747.6 1166.7,747.6 1166.7,761.1 1179.5,761.1 1179.5,764 1206.4,764" fill="none" stroke="#45aec0" stroke-width="2.6" stroke-linejoin="round" stroke-linejoin="miter"/>
<polyline points="870,906.8 941.7,906.8 941.7,900.8 953.8,900.8 953.8,892.1 966.1,892.1 966.1,883.4 978.6,883.4 978.6,872.7 991.5,872.7 991.5,855.5 1003.8,855.5 1003.8,835 1016.6,835 1016.6,811 1027.2,811 1027.2,790.3 1038.9,790.3 1038.9,765.9 1051.7,765.9 1051.7,738.2 1063.8,738.2 1063.8,712.2 1076.6,712.2 1076.6,687.6 1087.4,687.6 1087.4,667 1099.1,667 1099.1,657.8 1110.2,657.8 1110.2,661.6 1122,661.6 1122,682.3 1134,682.3 1134,706.6 1144.5,706.6 1144.5,730.3 1155.5,730.3 1155.5,749.4 1166.7,749.4 1166.7,762.9 1179.5,762.9 1179.5,765.8 1206.4,765.8" fill="none" stroke="#45aec0" stroke-width="1.2" stroke-linejoin="round" stroke-linejoin="miter" opacity="0.85"/>
<polyline points="643.9,846 873,846 873,902 942,902 942,900.2 954,900.2 954,891.5 966.4,891.5 966.4,883.1 978.9,883.1 978.9,872.3 991.7,872.3 991.7,855.4 1004.1,855.4 1004.1,835.1 1016.9,835.1 1016.9,811.5 1027.4,811.5 1027.4,791.1 1039.1,791.1 1039.1,766.8 1052,766.8 1052,739.2 1064.1,739.2 1064.1,713.3 1076.8,713.3 1076.8,688.8 1087.6,688.8 1087.6,668.4 1099.3,668.4 1099.3,659.1 1110.4,659.1 1110.4,663 1122.3,663 1122.3,684.4 1134.2,684.4 1134.2,708.6 1144.7,708.6 1144.7,731.6 1155.8,731.6 1155.8,749.9 1167,749.9 1167,762.5 1179.8,762.5 1179.8,765.2 1206.4,765.2" fill="none" stroke="#5fba66" stroke-width="2.6" stroke-linejoin="round" stroke-linejoin="miter"/>
<polyline points="873,903.8 942,903.8 942,902 954,902 954,893.3 966.4,893.3 966.4,884.9 978.9,884.9 978.9,874.1 991.7,874.1 991.7,857.2 1004.1,857.2 1004.1,836.9 1016.9,836.9 1016.9,813.3 1027.4,813.3 1027.4,792.9 1039.1,792.9 1039.1,768.6 1052,768.6 1052,741 1064.1,741 1064.1,715.1 1076.8,715.1 1076.8,690.6 1087.6,690.6 1087.6,670.2 1099.3,670.2 1099.3,660.9 1110.4,660.9 1110.4,664.8 1122.3,664.8 1122.3,686.2 1134.2,686.2 1134.2,710.4 1144.7,710.4 1144.7,733.4 1155.8,733.4 1155.8,751.7 1167,751.7 1167,764.3 1179.8,764.3 1179.8,767 1206.4,767" fill="none" stroke="#5fba66" stroke-width="1.2" stroke-linejoin="round" stroke-linejoin="miter" opacity="0.85"/>
<polyline points="643.9,841 876,841 876,900 942.2,900 942.2,901.4 954.3,901.4 954.3,892.7 966.6,892.7 966.6,884.7 979.1,884.7 979.1,873.7 992,873.7 992,857.1 1004.3,857.1 1004.3,837.1 1017.1,837.1 1017.1,813.9 1027.7,813.9 1027.7,793.6 1039.3,793.6 1039.3,769.4 1052.2,769.4 1052.2,742 1064.3,742 1064.3,716.2 1077.1,716.2 1077.1,691.8 1087.9,691.8 1087.9,671.6 1099.5,671.6 1099.5,662.2 1110.7,662.2 1110.7,666.2 1122.5,666.2 1122.5,688.3 1134.4,688.3 1134.4,712.3 1145,712.3 1145,734.6 1156,734.6 1156,752.1 1167.2,752.1 1167.2,764 1180,764 1180,766.4 1206.4,766.4" fill="none" stroke="#5fba66" stroke-width="2.6" stroke-linejoin="round" stroke-linejoin="miter"/>
<polyline points="876,901.8 942.2,901.8 942.2,903.2 954.3,903.2 954.3,894.5 966.6,894.5 966.6,886.5 979.1,886.5 979.1,875.5 992,875.5 992,858.9 1004.3,858.9 1004.3,838.9 1017.1,838.9 1017.1,815.7 1027.7,815.7 1027.7,795.4 1039.3,795.4 1039.3,771.2 1052.2,771.2 1052.2,743.8 1064.3,743.8 1064.3,718 1077.1,718 1077.1,693.6 1087.9,693.6 1087.9,673.4 1099.5,673.4 1099.5,664 1110.7,664 1110.7,668 1122.5,668 1122.5,690.1 1134.4,690.1 1134.4,714.1 1145,714.1 1145,736.4 1156,736.4 1156,753.9 1167.2,753.9 1167.2,765.8 1180,765.8 1180,768.2 1206.4,768.2" fill="none" stroke="#5fba66" stroke-width="1.2" stroke-linejoin="round" stroke-linejoin="miter" opacity="0.85"/>
<polyline points="643.9,829 879,829 879,897 942.4,897 942.4,902.6 954.5,902.6 954.5,893.9 966.9,893.9 966.9,886.3 979.3,886.3 979.3,875.2 992.2,875.2 992.2,858.9 1004.5,858.9 1004.5,839 1017.4,839 1017.4,816.2 1027.9,816.2 1027.9,796.2 1039.6,796.2 1039.6,772.1 1052.4,772.1 1052.4,744.8 1064.6,744.8 1064.6,719.1 1077.3,719.1 1077.3,694.8 1088.1,694.8 1088.1,674.7 1099.8,674.7 1099.8,665.4 1110.9,665.4 1110.9,669.3 1122.8,669.3 1122.8,692.2 1134.7,692.2 1134.7,716.1 1145.2,716.1 1145.2,737.6 1156.3,737.6 1156.3,754.4 1167.5,754.4 1167.5,765.4 1180.3,765.4 1180.3,767.6 1206.4,767.6" fill="none" stroke="#93c83e" stroke-width="2.6" stroke-linejoin="round" stroke-linejoin="miter"/>
<polyline points="879,898.8 942.4,898.8 942.4,904.4 954.5,904.4 954.5,895.7 966.9,895.7 966.9,888.1 979.3,888.1 979.3,877 992.2,877 992.2,860.7 1004.5,860.7 1004.5,840.8 1017.4,840.8 1017.4,818 1027.9,818 1027.9,798 1039.6,798 1039.6,773.9 1052.4,773.9 1052.4,746.6 1064.6,746.6 1064.6,720.9 1077.3,720.9 1077.3,696.6 1088.1,696.6 1088.1,676.5 1099.8,676.5 1099.8,667.2 1110.9,667.2 1110.9,671.1 1122.8,671.1 1122.8,694 1134.7,694 1134.7,717.9 1145.2,717.9 1145.2,739.4 1156.3,739.4 1156.3,756.2 1167.5,756.2 1167.5,767.2 1180.3,767.2 1180.3,769.4 1206.4,769.4" fill="none" stroke="#93c83e" stroke-width="1.2" stroke-linejoin="round" stroke-linejoin="miter" opacity="0.85"/>
<polyline points="643.9,826 878,826 878,897 942.7,897 942.7,903.7 954.7,903.7 954.7,895.1 967.1,895.1 967.1,887.8 979.6,887.8 979.6,876.6 992.4,876.6 992.4,860.6 1004.8,860.6 1004.8,840.9 1017.6,840.9 1017.6,818.6 1028.2,818.6 1028.2,798.8 1039.8,798.8 1039.8,774.7 1052.7,774.7 1052.7,747.6 1064.8,747.6 1064.8,722 1077.6,722 1077.6,697.8 1088.3,697.8 1088.3,677.9 1100,677.9 1100,668.5 1111.1,668.5 1111.1,672.5 1123,672.5 1123,696.1 1134.9,696.1 1134.9,719.8 1145.5,719.8 1145.5,740.6 1156.5,740.6 1156.5,756.6 1167.7,756.6 1167.7,766.9 1180.5,766.9 1180.5,768.8 1206.4,768.8" fill="none" stroke="#93c83e" stroke-width="2.6" stroke-linejoin="round" stroke-linejoin="miter"/>
<polyline points="878,898.8 942.7,898.8 942.7,905.5 954.7,905.5 954.7,896.9 967.1,896.9 967.1,889.6 979.6,889.6 979.6,878.4 992.4,878.4 992.4,862.4 1004.8,862.4 1004.8,842.7 1017.6,842.7 1017.6,820.4 1028.2,820.4 1028.2,800.6 1039.8,800.6 1039.8,776.5 1052.7,776.5 1052.7,749.4 1064.8,749.4 1064.8,723.8 1077.6,723.8 1077.6,699.6 1088.3,699.6 1088.3,679.7 1100,679.7 1100,670.3 1111.1,670.3 1111.1,674.3 1123,674.3 1123,697.9 1134.9,697.9 1134.9,721.6 1145.5,721.6 1145.5,742.4 1156.5,742.4 1156.5,758.4 1167.7,758.4 1167.7,768.7 1180.5,768.7 1180.5,770.6 1206.4,770.6" fill="none" stroke="#93c83e" stroke-width="1.2" stroke-linejoin="round" stroke-linejoin="miter" opacity="0.85"/>
<polyline points="643.9,824.5 878,824.5 878,896.5 942.9,896.5 942.9,904.6 954.9,904.6 954.9,896 967.3,896 967.3,889 979.8,889 979.8,877.7 992.6,877.7 992.6,861.9 1005,861.9 1005,842.3 1017.8,842.3 1017.8,820.3 1028.3,820.3 1028.3,800.7 1040,800.7 1040,776.7 1052.9,776.7 1052.9,749.7 1065,749.7 1065,724.1 1077.7,724.1 1077.7,700 1088.5,700 1088.5,680.3 1100.2,680.3 1100.2,670.9 1111.3,670.9 1111.3,674.9 1123.2,674.9 1123.2,699 1135.1,699 1135.1,722.7 1145.6,722.7 1145.6,742.9 1156.7,742.9 1156.7,758.3 1167.9,758.3 1167.9,767.9 1180.7,767.9 1180.7,769.7 1206.4,769.7" fill="none" stroke="#93c83e" stroke-width="2.6" stroke-linejoin="round" stroke-linejoin="miter"/>
<polyline points="878,898.3 942.9,898.3 942.9,906.4 954.9,906.4 954.9,897.8 967.3,897.8 967.3,890.8 979.8,890.8 979.8,879.5 992.6,879.5 992.6,863.7 1005,863.7 1005,844.1 1017.8,844.1 1017.8,822.1 1028.3,822.1 1028.3,802.5 1040,802.5 1040,778.5 1052.9,778.5 1052.9,751.5 1065,751.5 1065,725.9 1077.7,725.9 1077.7,701.8 1088.5,701.8 1088.5,682.1 1100.2,682.1 1100.2,672.7 1111.3,672.7 1111.3,676.7 1123.2,676.7 1123.2,700.8 1135.1,700.8 1135.1,724.5 1145.6,724.5 1145.6,744.7 1156.7,744.7 1156.7,760.1 1167.9,760.1 1167.9,769.7 1180.7,769.7 1180.7,771.5 1206.4,771.5" fill="none" stroke="#93c83e" stroke-width="1.2" stroke-linejoin="round" stroke-linejoin="miter" opacity="0.85"/>
<polyline points="643.9,836 870,836 870,907 943.2,907 943.2,906.1 955.2,906.1 955.2,897.5 967.6,897.5 967.6,891 980.1,891 980.1,879.4 992.9,879.4 992.9,864.1 1005.3,864.1 1005.3,844.7 1018.1,844.7 1018.1,823.2 1028.6,823.2 1028.6,803.9 1040.3,803.9 1040.3,780 1053.2,780 1053.2,753.2 1065.3,753.2 1065.3,727.7 1078,727.7 1078,703.8 1088.8,703.8 1088.8,684.2 1100.5,684.2 1100.5,674.8 1111.6,674.8 1111.6,678.9 1123.5,678.9 1123.5,703.9 1135.4,703.9 1135.4,727.3 1145.9,727.3 1145.9,746.7 1157,746.7 1157,761.2 1168.2,761.2 1168.2,769.7 1181,769.7 1181,771.2 1206.4,771.2" fill="none" stroke="#e0262b" stroke-width="2.6" stroke-linejoin="round" stroke-linejoin="miter"/>
<polyline points="870,908.8 943.2,908.8 943.2,907.9 955.2,907.9 955.2,899.3 967.6,899.3 967.6,892.8 980.1,892.8 980.1,881.2 992.9,881.2 992.9,865.9 1005.3,865.9 1005.3,846.5 1018.1,846.5 1018.1,825 1028.6,825 1028.6,805.7 1040.3,805.7 1040.3,781.8 1053.2,781.8 1053.2,755 1065.3,755 1065.3,729.5 1078,729.5 1078,705.6 1088.8,705.6 1088.8,686 1100.5,686 1100.5,676.6 1111.6,676.6 1111.6,680.7 1123.5,680.7 1123.5,705.7 1135.4,705.7 1135.4,729.1 1145.9,729.1 1145.9,748.5 1157,748.5 1157,763 1168.2,763 1168.2,771.5 1181,771.5 1181,773 1206.4,773" fill="none" stroke="#e0262b" stroke-width="1.2" stroke-linejoin="round" stroke-linejoin="miter" opacity="0.85"/>
<polyline points="643.9,839 872,839 872,905 943.4,905 943.4,907.3 955.5,907.3 955.5,898.7 967.8,898.7 967.8,892.5 980.3,892.5 980.3,880.9 993.2,880.9 993.2,865.8 1005.5,865.8 1005.5,846.6 1018.3,846.6 1018.3,825.6 1028.9,825.6 1028.9,806.5 1040.5,806.5 1040.5,782.7 1053.4,782.7 1053.4,756 1065.5,756 1065.5,730.6 1078.3,730.6 1078.3,706.8 1089.1,706.8 1089.1,687.4 1100.7,687.4 1100.7,677.9 1111.9,677.9 1111.9,682 1123.7,682 1123.7,707.8 1135.6,707.8 1135.6,731.1 1146.2,731.1 1146.2,749.7 1157.2,749.7 1157.2,763.4 1168.4,763.4 1168.4,771.2 1181.2,771.2 1181.2,772.4 1206.4,772.4" fill="none" stroke="#f05a28" stroke-width="2.6" stroke-linejoin="round" stroke-linejoin="miter"/>
<polyline points="872,906.8 943.4,906.8 943.4,909.1 955.5,909.1 955.5,900.5 967.8,900.5 967.8,894.3 980.3,894.3 980.3,882.7 993.2,882.7 993.2,867.6 1005.5,867.6 1005.5,848.4 1018.3,848.4 1018.3,827.4 1028.9,827.4 1028.9,808.3 1040.5,808.3 1040.5,784.5 1053.4,784.5 1053.4,757.8 1065.5,757.8 1065.5,732.4 1078.3,732.4 1078.3,708.6 1089.1,708.6 1089.1,689.2 1100.7,689.2 1100.7,679.7 1111.9,679.7 1111.9,683.8 1123.7,683.8 1123.7,709.6 1135.6,709.6 1135.6,732.9 1146.2,732.9 1146.2,751.5 1157.2,751.5 1157.2,765.2 1168.4,765.2 1168.4,773 1181.2,773 1181.2,774.2 1206.4,774.2" fill="none" stroke="#f05a28" stroke-width="1.2" stroke-linejoin="round" stroke-linejoin="miter" opacity="0.85"/>
<polyline points="643.9,843 869,843 869,908 943.6,908 943.6,908.5 955.7,908.5 955.7,899.9 968.1,899.9 968.1,894.1 980.5,894.1 980.5,882.3 993.4,882.3 993.4,867.5 1005.7,867.5 1005.7,848.6 1018.6,848.6 1018.6,827.9 1029.1,827.9 1029.1,809 1040.8,809 1040.8,785.3 1053.6,785.3 1053.6,758.8 1065.8,758.8 1065.8,733.5 1078.5,733.5 1078.5,709.8 1089.3,709.8 1089.3,690.5 1101,690.5 1101,681.1 1112.1,681.1 1112.1,685.2 1124,685.2 1124,711.7 1135.9,711.7 1135.9,734.9 1146.4,734.9 1146.4,752.7 1157.5,752.7 1157.5,765.7 1168.7,765.7 1168.7,772.6 1181.5,772.6 1181.5,773.6 1206.4,773.6" fill="none" stroke="#f05a28" stroke-width="2.6" stroke-linejoin="round" stroke-linejoin="miter"/>
<polyline points="869,909.8 943.6,909.8 943.6,910.3 955.7,910.3 955.7,901.7 968.1,901.7 968.1,895.9 980.5,895.9 980.5,884.1 993.4,884.1 993.4,869.3 1005.7,869.3 1005.7,850.4 1018.6,850.4 1018.6,829.7 1029.1,829.7 1029.1,810.8 1040.8,810.8 1040.8,787.1 1053.6,787.1 1053.6,760.6 1065.8,760.6 1065.8,735.3 1078.5,735.3 1078.5,711.6 1089.3,711.6 1089.3,692.3 1101,692.3 1101,682.9 1112.1,682.9 1112.1,687 1124,687 1124,713.5 1135.9,713.5 1135.9,736.7 1146.4,736.7 1146.4,754.5 1157.5,754.5 1157.5,767.5 1168.7,767.5 1168.7,774.4 1181.5,774.4 1181.5,775.4 1206.4,775.4" fill="none" stroke="#f05a28" stroke-width="1.2" stroke-linejoin="round" stroke-linejoin="miter" opacity="0.85"/>
<polyline points="643.9,852 874,852 874,910 943.9,910 943.9,909.5 955.9,909.5 955.9,900.9 968.3,900.9 968.3,895.4 980.7,895.4 980.7,883.5 993.6,883.5 993.6,869 1006,869 1006,850.2 1018.8,850.2 1018.8,830 1029.3,830 1029.3,811.3 1041,811.3 1041,787.6 1053.9,787.6 1053.9,761.3 1066,761.3 1066,736 1078.7,736 1078.7,712.4 1089.5,712.4 1089.5,693.3 1101.2,693.3 1101.2,683.8 1112.3,683.8 1112.3,688 1124.2,688 1124.2,715.1 1136.1,715.1 1136.1,738.2 1146.6,738.2 1146.6,755.3 1157.7,755.3 1157.7,767.7 1168.9,767.7 1168.9,773.8 1181.7,773.8 1181.7,774.7 1206.4,774.7" fill="none" stroke="#f05a28" stroke-width="2.6" stroke-linejoin="round" stroke-linejoin="miter"/>
<polyline points="874,911.8 943.9,911.8 943.9,911.3 955.9,911.3 955.9,902.7 968.3,902.7 968.3,897.2 980.7,897.2 980.7,885.3 993.6,885.3 993.6,870.8 1006,870.8 1006,852 1018.8,852 1018.8,831.8 1029.3,831.8 1029.3,813.1 1041,813.1 1041,789.4 1053.9,789.4 1053.9,763.1 1066,763.1 1066,737.8 1078.7,737.8 1078.7,714.2 1089.5,714.2 1089.5,695.1 1101.2,695.1 1101.2,685.6 1112.3,685.6 1112.3,689.8 1124.2,689.8 1124.2,716.9 1136.1,716.9 1136.1,740 1146.6,740 1146.6,757.1 1157.7,757.1 1157.7,769.5 1168.9,769.5 1168.9,775.6 1181.7,775.6 1181.7,776.5 1206.4,776.5" fill="none" stroke="#f05a28" stroke-width="1.2" stroke-linejoin="round" stroke-linejoin="miter" opacity="0.85"/>
<polyline points="643.9,855 868,855 868,911 944,911 944,910.2 956.1,910.2 956.1,901.7 968.4,901.7 968.4,896.4 980.9,896.4 980.9,884.4 993.8,884.4 993.8,870.1 1006.1,870.1 1006.1,851.4 1018.9,851.4 1018.9,831.5 1029.5,831.5 1029.5,812.9 1041.1,812.9 1041.1,789.3 1054,789.3 1054,763 1066.1,763 1066.1,737.8 1078.9,737.8 1078.9,714.3 1089.7,714.3 1089.7,695.3 1101.3,695.3 1101.3,685.8 1112.5,685.8 1112.5,690 1124.3,690 1124.3,717.5 1136.2,717.5 1136.2,740.5 1146.8,740.5 1146.8,757.2 1157.8,757.2 1157.8,769.1 1169,769.1 1169,774.7 1181.8,774.7 1181.8,775.5 1206.4,775.5" fill="none" stroke="#f05a28" stroke-width="2.6" stroke-linejoin="round" stroke-linejoin="miter"/>
<polyline points="868,912.8 944,912.8 944,912 956.1,912 956.1,903.5 968.4,903.5 968.4,898.2 980.9,898.2 980.9,886.2 993.8,886.2 993.8,871.9 1006.1,871.9 1006.1,853.2 1018.9,853.2 1018.9,833.3 1029.5,833.3 1029.5,814.7 1041.1,814.7 1041.1,791.1 1054,791.1 1054,764.8 1066.1,764.8 1066.1,739.6 1078.9,739.6 1078.9,716.1 1089.7,716.1 1089.7,697.1 1101.3,697.1 1101.3,687.6 1112.5,687.6 1112.5,691.8 1124.3,691.8 1124.3,719.3 1136.2,719.3 1136.2,742.3 1146.8,742.3 1146.8,759 1157.8,759 1157.8,770.9 1169,770.9 1169,776.5 1181.8,776.5 1181.8,777.3 1206.4,777.3" fill="none" stroke="#f05a28" stroke-width="1.2" stroke-linejoin="round" stroke-linejoin="miter" opacity="0.85"/>
<rect x="643.9" y="823.8" width="224.1" height="7.8" fill="#93c83e"/>
<rect x="643.9" y="832.4" width="224.1" height="13.3" fill="#ef7f3a"/>
<rect x="643.9" y="845.7" width="224.1" height="4.7" fill="#6fbf9a"/>
<rect x="643.9" y="850.4" width="224.1" height="6.6" fill="#e8874e"/>
<rect x="643.9" y="857" width="224.1" height="3" fill="#a39a9a"/>
<rect x="643.9" y="860" width="224.1" height="3" fill="#6aa9c0"/>
<rect x="643.9" y="862.9" width="224.1" height="12.5" fill="#5058b0"/>
<line x1="643.9" y1="817.5" x2="868" y2="817.5" stroke="#d4a060" stroke-width="1"/>
<line x1="643.9" y1="819" x2="868" y2="819" stroke="#e0b080" stroke-width="1"/>
<line x1="643.9" y1="821.4" x2="868" y2="821.4" stroke="#c8d890" stroke-width="1"/>
<line x1="643.9" y1="878.5" x2="868" y2="878.5" stroke="#8878c0" stroke-width="1"/>
<polyline points="866.8,869.9 897.9,869.9 897.9,887.1 921.3,887.1 921.3,898.9 941,898.9 941,905.9 974.2,905.9 974.2,897.6 987.9,897.6 987.9,885.3 1001.6,885.3 1001.6,865.5 1015.2,865.5 1015.2,839.5 1027.6,839.5 1027.6,810.1 1040.3,810.1 1040.3,800 1051.3,800 1051.3,783.6 1065.4,783.6 1065.4,760.2 1077.9,760.2 1077.9,735.1 1088.9,735.1 1088.9,713.2 1099.8,713.2 1099.8,690 1108.2,690 1108.2,684.8 1119.8,684.8 1119.8,706.4 1131.4,706.4 1131.4,729.7 1142.2,729.7 1142.2,752.9 1153,752.9 1153,767.9 1163.8,767.9 1163.8,777.8 1174.6,777.8 1174.6,782 1196.2,782 1196.2,779.5 1206,779.5" fill="none" stroke="#8c8c8c" stroke-width="3.0" stroke-linejoin="round" stroke-linejoin="miter"/>
<rect x="643.9" y="602.6" width="562.5" height="358.3" fill="none" stroke="#111" stroke-width="1.6"/>
<text x="638.5" y="966.9" font-size="17.5" text-anchor="end" fill="#111">0</text>
<line x1="643.9" y1="909.8" x2="648.9" y2="909.8" stroke="#111" stroke-width="1.3"/>
<text x="638.5" y="915.8" font-size="17.5" text-anchor="end" fill="#111">10</text>
<line x1="643.9" y1="858.7" x2="648.9" y2="858.7" stroke="#111" stroke-width="1.3"/>
<text x="638.5" y="864.7" font-size="17.5" text-anchor="end" fill="#111">20</text>
<line x1="643.9" y1="807.6" x2="648.9" y2="807.6" stroke="#111" stroke-width="1.3"/>
<text x="638.5" y="813.6" font-size="17.5" text-anchor="end" fill="#111">30</text>
<line x1="643.9" y1="756.5" x2="648.9" y2="756.5" stroke="#111" stroke-width="1.3"/>
<text x="638.5" y="762.5" font-size="17.5" text-anchor="end" fill="#111">40</text>
<line x1="643.9" y1="705.4" x2="648.9" y2="705.4" stroke="#111" stroke-width="1.3"/>
<text x="638.5" y="711.4" font-size="17.5" text-anchor="end" fill="#111">50</text>
<line x1="643.9" y1="654.3" x2="648.9" y2="654.3" stroke="#111" stroke-width="1.3"/>
<text x="638.5" y="660.3" font-size="17.5" text-anchor="end" fill="#111">60</text>
<text x="638.5" y="609.2" font-size="17.5" text-anchor="end" fill="#111">70</text>
<line x1="1206.4" y1="602.6" x2="1211.4" y2="602.6" stroke="#111" stroke-width="1.3"/>
<text x="1217" y="608.6" font-size="17.5" fill="#111">7</text>
<line x1="1206.4" y1="653.7" x2="1211.4" y2="653.7" stroke="#111" stroke-width="1.3"/>
<text x="1217" y="659.7" font-size="17.5" fill="#111">6</text>
<line x1="1206.4" y1="697.7" x2="1211.4" y2="697.7" stroke="#111" stroke-width="1.3"/>
<text x="1217" y="703.7" font-size="17.5" fill="#111">5</text>
<line x1="1206.4" y1="741.4" x2="1211.4" y2="741.4" stroke="#111" stroke-width="1.3"/>
<text x="1217" y="747.4" font-size="17.5" fill="#111">4</text>
<line x1="1206.4" y1="785.5" x2="1211.4" y2="785.5" stroke="#111" stroke-width="1.3"/>
<text x="1217" y="791.5" font-size="17.5" fill="#111">3</text>
<line x1="1206.4" y1="828.8" x2="1211.4" y2="828.8" stroke="#111" stroke-width="1.3"/>
<text x="1217" y="834.8" font-size="17.5" fill="#111">2</text>
<line x1="1206.4" y1="872.2" x2="1211.4" y2="872.2" stroke="#111" stroke-width="1.3"/>
<text x="1217" y="878.2" font-size="17.5" fill="#111">1</text>
<line x1="1206.4" y1="916.3" x2="1211.4" y2="916.3" stroke="#111" stroke-width="1.3"/>
<text x="1217" y="922.3" font-size="17.5" fill="#111">0</text>
<line x1="1206.4" y1="958.2" x2="1211.4" y2="958.2" stroke="#111" stroke-width="1.3"/>
<text x="1217" y="964.2" font-size="17.5" fill="#111">-1</text>
<line x1="686" y1="960.9" x2="686" y2="957.9" stroke="#111" stroke-width="1.1"/>
<line x1="686" y1="602.6" x2="686" y2="605.6" stroke="#111" stroke-width="1.1"/>
<line x1="710.6" y1="960.9" x2="710.6" y2="957.9" stroke="#111" stroke-width="1.1"/>
<line x1="710.6" y1="602.6" x2="710.6" y2="605.6" stroke="#111" stroke-width="1.1"/>
<line x1="728.1" y1="960.9" x2="728.1" y2="957.9" stroke="#111" stroke-width="1.1"/>
<line x1="728.1" y1="602.6" x2="728.1" y2="605.6" stroke="#111" stroke-width="1.1"/>
<line x1="741.6" y1="960.9" x2="741.6" y2="957.9" stroke="#111" stroke-width="1.1"/>
<line x1="741.6" y1="602.6" x2="741.6" y2="605.6" stroke="#111" stroke-width="1.1"/>
<line x1="752.7" y1="960.9" x2="752.7" y2="957.9" stroke="#111" stroke-width="1.1"/>
<line x1="752.7" y1="602.6" x2="752.7" y2="605.6" stroke="#111" stroke-width="1.1"/>
<line x1="762" y1="960.9" x2="762" y2="957.9" stroke="#111" stroke-width="1.1"/>
<line x1="762" y1="602.6" x2="762" y2="605.6" stroke="#111" stroke-width="1.1"/>
<line x1="770.2" y1="960.9" x2="770.2" y2="957.9" stroke="#111" stroke-width="1.1"/>
<line x1="770.2" y1="602.6" x2="770.2" y2="605.6" stroke="#111" stroke-width="1.1"/>
<line x1="777.3" y1="960.9" x2="777.3" y2="957.9" stroke="#111" stroke-width="1.1"/>
<line x1="777.3" y1="602.6" x2="777.3" y2="605.6" stroke="#111" stroke-width="1.1"/>
<line x1="783.7" y1="960.9" x2="783.7" y2="955.9" stroke="#111" stroke-width="1.1"/>
<line x1="783.7" y1="602.6" x2="783.7" y2="607.6" stroke="#111" stroke-width="1.1"/>
<line x1="825.8" y1="960.9" x2="825.8" y2="957.9" stroke="#111" stroke-width="1.1"/>
<line x1="825.8" y1="602.6" x2="825.8" y2="605.6" stroke="#111" stroke-width="1.1"/>
<line x1="850.4" y1="960.9" x2="850.4" y2="957.9" stroke="#111" stroke-width="1.1"/>
<line x1="850.4" y1="602.6" x2="850.4" y2="605.6" stroke="#111" stroke-width="1.1"/>
<line x1="867.9" y1="960.9" x2="867.9" y2="957.9" stroke="#111" stroke-width="1.1"/>
<line x1="867.9" y1="602.6" x2="867.9" y2="605.6" stroke="#111" stroke-width="1.1"/>
<line x1="881.4" y1="960.9" x2="881.4" y2="957.9" stroke="#111" stroke-width="1.1"/>
<line x1="881.4" y1="602.6" x2="881.4" y2="605.6" stroke="#111" stroke-width="1.1"/>
<line x1="892.5" y1="960.9" x2="892.5" y2="957.9" stroke="#111" stroke-width="1.1"/>
<line x1="892.5" y1="602.6" x2="892.5" y2="605.6" stroke="#111" stroke-width="1.1"/>
<line x1="901.8" y1="960.9" x2="901.8" y2="957.9" stroke="#111" stroke-width="1.1"/>
<line x1="901.8" y1="602.6" x2="901.8" y2="605.6" stroke="#111" stroke-width="1.1"/>
<line x1="910" y1="960.9" x2="910" y2="957.9" stroke="#111" stroke-width="1.1"/>
<line x1="910" y1="602.6" x2="910" y2="605.6" stroke="#111" stroke-width="1.1"/>
<line x1="917.1" y1="960.9" x2="917.1" y2="957.9" stroke="#111" stroke-width="1.1"/>
<line x1="917.1" y1="602.6" x2="917.1" y2="605.6" stroke="#111" stroke-width="1.1"/>
<line x1="923.5" y1="960.9" x2="923.5" y2="955.9" stroke="#111" stroke-width="1.1"/>
<line x1="923.5" y1="602.6" x2="923.5" y2="607.6" stroke="#111" stroke-width="1.1"/>
<line x1="965.6" y1="960.9" x2="965.6" y2="957.9" stroke="#111" stroke-width="1.1"/>
<line x1="965.6" y1="602.6" x2="965.6" y2="605.6" stroke="#111" stroke-width="1.1"/>
<line x1="990.2" y1="960.9" x2="990.2" y2="957.9" stroke="#111" stroke-width="1.1"/>
<line x1="990.2" y1="602.6" x2="990.2" y2="605.6" stroke="#111" stroke-width="1.1"/>
<line x1="1007.7" y1="960.9" x2="1007.7" y2="957.9" stroke="#111" stroke-width="1.1"/>
<line x1="1007.7" y1="602.6" x2="1007.7" y2="605.6" stroke="#111" stroke-width="1.1"/>
<line x1="1021.2" y1="960.9" x2="1021.2" y2="957.9" stroke="#111" stroke-width="1.1"/>
<line x1="1021.2" y1="602.6" x2="1021.2" y2="605.6" stroke="#111" stroke-width="1.1"/>
<line x1="1032.3" y1="960.9" x2="1032.3" y2="957.9" stroke="#111" stroke-width="1.1"/>
<line x1="1032.3" y1="602.6" x2="1032.3" y2="605.6" stroke="#111" stroke-width="1.1"/>
<line x1="1041.6" y1="960.9" x2="1041.6" y2="957.9" stroke="#111" stroke-width="1.1"/>
<line x1="1041.6" y1="602.6" x2="1041.6" y2="605.6" stroke="#111" stroke-width="1.1"/>
<line x1="1049.8" y1="960.9" x2="1049.8" y2="957.9" stroke="#111" stroke-width="1.1"/>
<line x1="1049.8" y1="602.6" x2="1049.8" y2="605.6" stroke="#111" stroke-width="1.1"/>
<line x1="1056.9" y1="960.9" x2="1056.9" y2="957.9" stroke="#111" stroke-width="1.1"/>
<line x1="1056.9" y1="602.6" x2="1056.9" y2="605.6" stroke="#111" stroke-width="1.1"/>
<line x1="1063.3" y1="960.9" x2="1063.3" y2="955.9" stroke="#111" stroke-width="1.1"/>
<line x1="1063.3" y1="602.6" x2="1063.3" y2="607.6" stroke="#111" stroke-width="1.1"/>
<line x1="1105.4" y1="960.9" x2="1105.4" y2="957.9" stroke="#111" stroke-width="1.1"/>
<line x1="1105.4" y1="602.6" x2="1105.4" y2="605.6" stroke="#111" stroke-width="1.1"/>
<line x1="1130" y1="960.9" x2="1130" y2="957.9" stroke="#111" stroke-width="1.1"/>
<line x1="1130" y1="602.6" x2="1130" y2="605.6" stroke="#111" stroke-width="1.1"/>
<line x1="1147.5" y1="960.9" x2="1147.5" y2="957.9" stroke="#111" stroke-width="1.1"/>
<line x1="1147.5" y1="602.6" x2="1147.5" y2="605.6" stroke="#111" stroke-width="1.1"/>
<line x1="1161" y1="960.9" x2="1161" y2="957.9" stroke="#111" stroke-width="1.1"/>
<line x1="1161" y1="602.6" x2="1161" y2="605.6" stroke="#111" stroke-width="1.1"/>
<line x1="1172.1" y1="960.9" x2="1172.1" y2="957.9" stroke="#111" stroke-width="1.1"/>
<line x1="1172.1" y1="602.6" x2="1172.1" y2="605.6" stroke="#111" stroke-width="1.1"/>
<line x1="1181.4" y1="960.9" x2="1181.4" y2="957.9" stroke="#111" stroke-width="1.1"/>
<line x1="1181.4" y1="602.6" x2="1181.4" y2="605.6" stroke="#111" stroke-width="1.1"/>
<line x1="1189.6" y1="960.9" x2="1189.6" y2="957.9" stroke="#111" stroke-width="1.1"/>
<line x1="1189.6" y1="602.6" x2="1189.6" y2="605.6" stroke="#111" stroke-width="1.1"/>
<line x1="1196.7" y1="960.9" x2="1196.7" y2="957.9" stroke="#111" stroke-width="1.1"/>
<line x1="1196.7" y1="602.6" x2="1196.7" y2="605.6" stroke="#111" stroke-width="1.1"/>
<text x="645.9" y="982.6" font-size="17.5" fill="#111" text-anchor="middle">10<tspan font-size="11" dy="-7">3</tspan></text>
<text x="785.7" y="982.6" font-size="17.5" fill="#111" text-anchor="middle">10<tspan font-size="11" dy="-7">4</tspan></text>
<text x="925.5" y="982.6" font-size="17.5" fill="#111" text-anchor="middle">10<tspan font-size="11" dy="-7">5</tspan></text>
<text x="1065.3" y="982.6" font-size="17.5" fill="#111" text-anchor="middle">10<tspan font-size="11" dy="-7">6</tspan></text>
<text x="1205.1" y="982.6" font-size="17.5" fill="#111" text-anchor="middle">10<tspan font-size="11" dy="-7">7</tspan></text>
<rect x="872" y="608" width="138" height="182" fill="#fff"/>
<line x1="874.3" y1="619.6" x2="920.6" y2="619.6" stroke="#e0262b" stroke-width="3.9"/>
<text x="924.5" y="624" font-size="13.4" fill="#111">MT05 (FD56-30)</text>
<line x1="874.3" y1="642.4" x2="920.6" y2="642.4" stroke="#45308a" stroke-width="3.9"/>
<text x="924.5" y="646.8" font-size="13.4" fill="#111">MT09 (TY40-37)</text>
<line x1="874.3" y1="665.1" x2="920.6" y2="665.1" stroke="#33409a" stroke-width="3.9"/>
<text x="924.5" y="669.5" font-size="13.4" fill="#111">MT10 (TY42-12)</text>
<line x1="874.3" y1="687.9" x2="920.6" y2="687.9" stroke="#42aab4" stroke-width="3.9"/>
<text x="924.5" y="692.2" font-size="13.4" fill="#111">MT04 (TY45-34)</text>
<line x1="874.3" y1="710.6" x2="920.6" y2="710.6" stroke="#5db36a" stroke-width="3.9"/>
<text x="924.5" y="715" font-size="13.4" fill="#111">MT03 (TY48-21)</text>
<line x1="874.3" y1="733.4" x2="920.6" y2="733.4" stroke="#8fcb3c" stroke-width="3.9"/>
<text x="924.5" y="737.8" font-size="13.4" fill="#111">MT02 (WQ16-30)</text>
<line x1="874.3" y1="756.1" x2="920.6" y2="756.1" stroke="#ef5b2a" stroke-width="3.9"/>
<text x="924.5" y="760.5" font-size="13.4" fill="#111">YT (YW08-15)</text>
<line x1="874.3" y1="778.9" x2="920.6" y2="778.9" stroke="#7e7c7c" stroke-width="3.9"/>
<text x="924.5" y="783.2" font-size="13.4" fill="#111">CBSC (FD36-03)</text>
<text transform="translate(610 762.5) rotate(-90)" font-size="23.2" fill="#111" text-anchor="middle">Effective population size (×10<tspan font-size="14" dy="-9">4</tspan><tspan dy="9">)</tspan></text>
<text transform="translate(1257.3 779.6) rotate(-90)" font-size="22.5" fill="#111" text-anchor="middle">Deep water temperature (°C)</text>
<text x="699.3" y="1009.2" font-size="22" fill="#111">Years before present (<tspan font-style="italic">g</tspan> = 2, <tspan font-style="italic">μ</tspan> = 2.32×10<tspan font-size="14" dy="-9">-9</tspan><tspan dy="9">)</tspan></text>
</svg></body></html>
